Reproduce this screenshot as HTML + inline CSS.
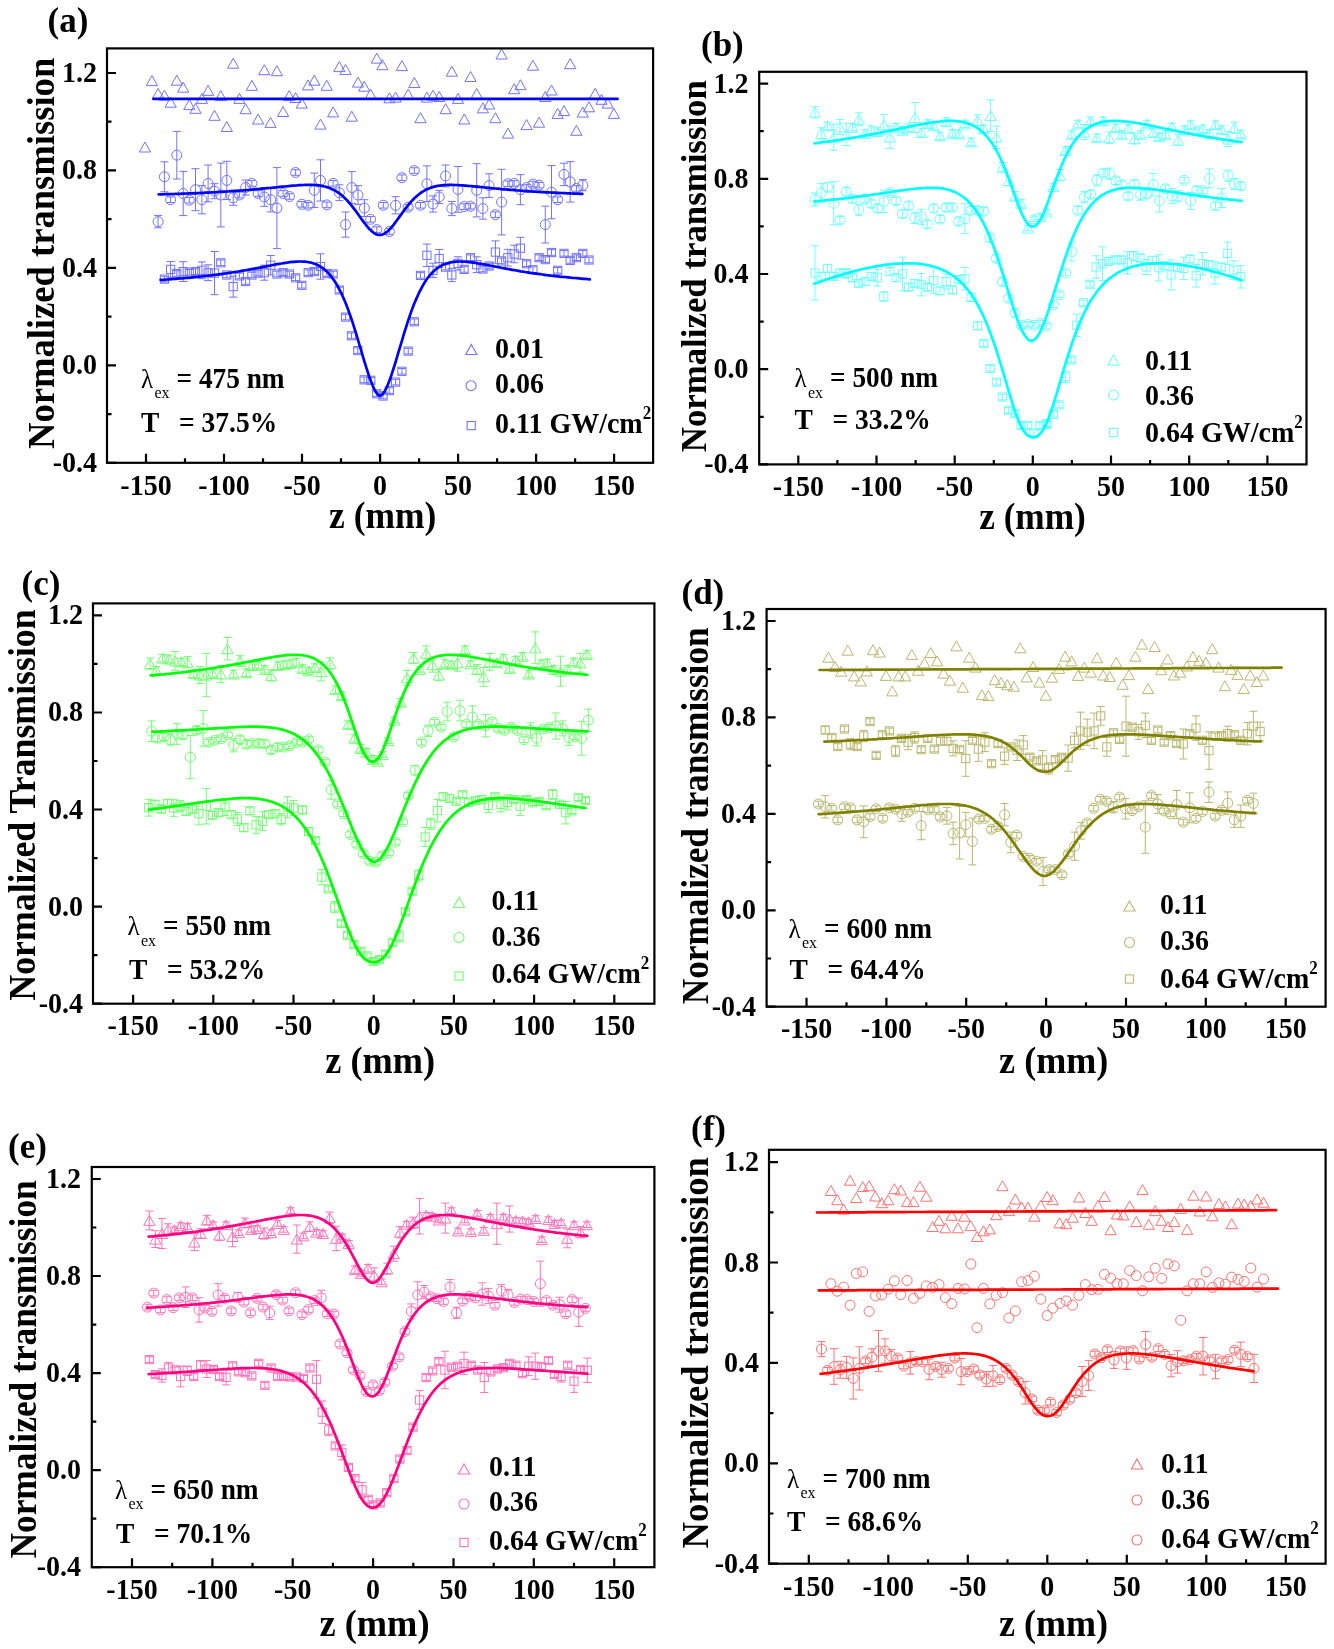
<!DOCTYPE html>
<html><head><meta charset="utf-8"><style>
html,body{margin:0;padding:0;background:#fff;width:1334px;height:1649px;overflow:hidden}
svg{display:block;filter:blur(0.4px)}
text{font-family:"Liberation Serif", serif;font-weight:bold;fill:#000}
</style></head><body>
<svg width="1334" height="1649" viewBox="0 0 1334 1649">
<rect width="1334" height="1649" fill="#fff"/>
<path d="M145.0,142.0 L150.6,152.0 L139.4,152.0 Z" fill="none" stroke="#7272ff" stroke-width="1.0"/>
<path d="M151.9,75.6 L157.5,85.6 L146.3,85.6 Z" fill="none" stroke="#7272ff" stroke-width="1.0"/>
<path d="M158.1,88.4 L163.7,98.4 L152.5,98.4 Z" fill="none" stroke="#7272ff" stroke-width="1.0"/>
<path d="M164.4,90.2 L170.0,100.2 L158.8,100.2 Z" fill="none" stroke="#7272ff" stroke-width="1.0"/>
<path d="M170.6,97.2 L176.2,107.2 L165.0,107.2 Z" fill="none" stroke="#7272ff" stroke-width="1.0"/>
<path d="M176.8,75.2 L182.4,85.2 L171.2,85.2 Z" fill="none" stroke="#7272ff" stroke-width="1.0"/>
<path d="M183.2,82.2 L188.8,92.2 L177.6,92.2 Z" fill="none" stroke="#7272ff" stroke-width="1.0"/>
<path d="M189.3,99.6 L194.9,109.6 L183.7,109.6 Z" fill="none" stroke="#7272ff" stroke-width="1.0"/>
<path d="M195.5,103.3 L201.1,113.3 L189.9,113.3 Z" fill="none" stroke="#7272ff" stroke-width="1.0"/>
<path d="M201.9,93.4 L207.5,103.4 L196.3,103.4 Z" fill="none" stroke="#7272ff" stroke-width="1.0"/>
<path d="M208.1,85.4 L213.7,95.4 L202.5,95.4 Z" fill="none" stroke="#7272ff" stroke-width="1.0"/>
<path d="M214.5,110.3 L220.1,120.3 L208.9,120.3 Z" fill="none" stroke="#7272ff" stroke-width="1.0"/>
<path d="M220.8,90.6 L226.4,100.6 L215.2,100.6 Z" fill="none" stroke="#7272ff" stroke-width="1.0"/>
<path d="M226.8,121.5 L232.4,131.5 L221.2,131.5 Z" fill="none" stroke="#7272ff" stroke-width="1.0"/>
<path d="M233.2,58.2 L238.8,68.2 L227.6,68.2 Z" fill="none" stroke="#7272ff" stroke-width="1.0"/>
<path d="M239.4,93.4 L245.0,103.4 L233.8,103.4 Z" fill="none" stroke="#7272ff" stroke-width="1.0"/>
<path d="M245.6,103.7 L251.2,113.7 L240.0,113.7 Z" fill="none" stroke="#7272ff" stroke-width="1.0"/>
<path d="M251.9,80.3 L257.5,90.3 L246.3,90.3 Z" fill="none" stroke="#7272ff" stroke-width="1.0"/>
<path d="M258.1,114.0 L263.7,124.0 L252.5,124.0 Z" fill="none" stroke="#7272ff" stroke-width="1.0"/>
<path d="M264.3,64.7 L269.9,74.7 L258.7,74.7 Z" fill="none" stroke="#7272ff" stroke-width="1.0"/>
<path d="M270.5,117.4 L276.1,127.4 L264.9,127.4 Z" fill="none" stroke="#7272ff" stroke-width="1.0"/>
<path d="M276.9,65.7 L282.5,75.7 L271.3,75.7 Z" fill="none" stroke="#7272ff" stroke-width="1.0"/>
<path d="M283.1,106.5 L288.7,116.5 L277.5,116.5 Z" fill="none" stroke="#7272ff" stroke-width="1.0"/>
<path d="M289.2,90.6 L294.8,100.6 L283.6,100.6 Z" fill="none" stroke="#7272ff" stroke-width="1.0"/>
<path d="M295.6,92.5 L301.2,102.5 L290.0,102.5 Z" fill="none" stroke="#7272ff" stroke-width="1.0"/>
<path d="M301.8,98.1 L307.4,108.1 L296.2,108.1 Z" fill="none" stroke="#7272ff" stroke-width="1.0"/>
<path d="M308.0,79.9 L313.6,89.9 L302.4,89.9 Z" fill="none" stroke="#7272ff" stroke-width="1.0"/>
<path d="M314.3,75.2 L319.9,85.2 L308.7,85.2 Z" fill="none" stroke="#7272ff" stroke-width="1.0"/>
<path d="M320.5,119.1 L326.1,129.1 L314.9,129.1 Z" fill="none" stroke="#7272ff" stroke-width="1.0"/>
<path d="M326.7,80.3 L332.3,90.3 L321.1,90.3 Z" fill="none" stroke="#7272ff" stroke-width="1.0"/>
<path d="M333.1,106.9 L338.7,116.9 L327.5,116.9 Z" fill="none" stroke="#7272ff" stroke-width="1.0"/>
<path d="M339.3,61.6 L344.9,71.6 L333.7,71.6 Z" fill="none" stroke="#7272ff" stroke-width="1.0"/>
<path d="M345.5,64.4 L351.1,74.4 L339.9,74.4 Z" fill="none" stroke="#7272ff" stroke-width="1.0"/>
<path d="M351.8,111.2 L357.4,121.2 L346.2,121.2 Z" fill="none" stroke="#7272ff" stroke-width="1.0"/>
<path d="M358.0,77.1 L363.6,87.1 L352.4,87.1 Z" fill="none" stroke="#7272ff" stroke-width="1.0"/>
<path d="M364.2,81.2 L369.8,91.2 L358.6,91.2 Z" fill="none" stroke="#7272ff" stroke-width="1.0"/>
<path d="M370.6,89.1 L376.2,99.1 L365.0,99.1 Z" fill="none" stroke="#7272ff" stroke-width="1.0"/>
<path d="M376.8,53.1 L382.4,63.1 L371.2,63.1 Z" fill="none" stroke="#7272ff" stroke-width="1.0"/>
<path d="M382.4,59.7 L388.0,69.7 L376.8,69.7 Z" fill="none" stroke="#7272ff" stroke-width="1.0"/>
<path d="M389.4,92.8 L395.0,102.8 L383.8,102.8 Z" fill="none" stroke="#7272ff" stroke-width="1.0"/>
<path d="M395.6,92.1 L401.2,102.1 L390.0,102.1 Z" fill="none" stroke="#7272ff" stroke-width="1.0"/>
<path d="M401.9,60.6 L407.5,70.6 L396.3,70.6 Z" fill="none" stroke="#7272ff" stroke-width="1.0"/>
<path d="M408.1,89.1 L413.7,99.1 L402.5,99.1 Z" fill="none" stroke="#7272ff" stroke-width="1.0"/>
<path d="M414.3,77.5 L419.9,87.5 L408.7,87.5 Z" fill="none" stroke="#7272ff" stroke-width="1.0"/>
<path d="M420.5,112.7 L426.1,122.7 L414.9,122.7 Z" fill="none" stroke="#7272ff" stroke-width="1.0"/>
<path d="M426.9,92.1 L432.5,102.1 L421.3,102.1 Z" fill="none" stroke="#7272ff" stroke-width="1.0"/>
<path d="M433.0,90.2 L438.6,100.2 L427.4,100.2 Z" fill="none" stroke="#7272ff" stroke-width="1.0"/>
<path d="M439.2,91.5 L444.8,101.5 L433.6,101.5 Z" fill="none" stroke="#7272ff" stroke-width="1.0"/>
<path d="M445.6,103.7 L451.2,113.7 L440.0,113.7 Z" fill="none" stroke="#7272ff" stroke-width="1.0"/>
<path d="M451.8,66.2 L457.4,76.2 L446.2,76.2 Z" fill="none" stroke="#7272ff" stroke-width="1.0"/>
<path d="M458.0,93.4 L463.6,103.4 L452.4,103.4 Z" fill="none" stroke="#7272ff" stroke-width="1.0"/>
<path d="M464.3,114.0 L469.9,124.0 L458.7,124.0 Z" fill="none" stroke="#7272ff" stroke-width="1.0"/>
<path d="M470.5,71.5 L476.1,81.5 L464.9,81.5 Z" fill="none" stroke="#7272ff" stroke-width="1.0"/>
<path d="M476.7,88.4 L482.3,98.4 L471.1,98.4 Z" fill="none" stroke="#7272ff" stroke-width="1.0"/>
<path d="M482.9,102.8 L488.5,112.8 L477.3,112.8 Z" fill="none" stroke="#7272ff" stroke-width="1.0"/>
<path d="M489.1,99.0 L494.7,109.0 L483.5,109.0 Z" fill="none" stroke="#7272ff" stroke-width="1.0"/>
<path d="M495.4,112.7 L501.0,122.7 L489.8,122.7 Z" fill="none" stroke="#7272ff" stroke-width="1.0"/>
<path d="M501.6,49.0 L507.2,59.0 L496.0,59.0 Z" fill="none" stroke="#7272ff" stroke-width="1.0"/>
<path d="M508.0,128.1 L513.6,138.1 L502.4,138.1 Z" fill="none" stroke="#7272ff" stroke-width="1.0"/>
<path d="M514.2,83.7 L519.8,93.7 L508.6,93.7 Z" fill="none" stroke="#7272ff" stroke-width="1.0"/>
<path d="M520.4,79.7 L526.0,89.7 L514.8,89.7 Z" fill="none" stroke="#7272ff" stroke-width="1.0"/>
<path d="M526.6,119.6 L532.2,129.6 L521.0,129.6 Z" fill="none" stroke="#7272ff" stroke-width="1.0"/>
<path d="M532.9,60.2 L538.5,70.2 L527.3,70.2 Z" fill="none" stroke="#7272ff" stroke-width="1.0"/>
<path d="M539.1,117.2 L544.7,127.2 L533.5,127.2 Z" fill="none" stroke="#7272ff" stroke-width="1.0"/>
<path d="M545.3,91.5 L550.9,101.5 L539.7,101.5 Z" fill="none" stroke="#7272ff" stroke-width="1.0"/>
<path d="M551.5,85.0 L557.1,95.0 L545.9,95.0 Z" fill="none" stroke="#7272ff" stroke-width="1.0"/>
<path d="M557.7,108.4 L563.3,118.4 L552.1,118.4 Z" fill="none" stroke="#7272ff" stroke-width="1.0"/>
<path d="M564.0,105.6 L569.6,115.6 L558.4,115.6 Z" fill="none" stroke="#7272ff" stroke-width="1.0"/>
<path d="M570.2,58.7 L575.8,68.7 L564.6,68.7 Z" fill="none" stroke="#7272ff" stroke-width="1.0"/>
<path d="M576.4,125.3 L582.0,135.3 L570.8,135.3 Z" fill="none" stroke="#7272ff" stroke-width="1.0"/>
<path d="M582.8,107.1 L588.4,117.1 L577.2,117.1 Z" fill="none" stroke="#7272ff" stroke-width="1.0"/>
<path d="M589.0,101.8 L594.6,111.8 L583.4,111.8 Z" fill="none" stroke="#7272ff" stroke-width="1.0"/>
<path d="M595.1,88.4 L600.7,98.4 L589.5,98.4 Z" fill="none" stroke="#7272ff" stroke-width="1.0"/>
<path d="M601.5,94.3 L607.1,104.3 L595.9,104.3 Z" fill="none" stroke="#7272ff" stroke-width="1.0"/>
<path d="M607.7,98.1 L613.3,108.1 L602.1,108.1 Z" fill="none" stroke="#7272ff" stroke-width="1.0"/>
<path d="M613.9,108.4 L619.5,118.4 L608.3,118.4 Z" fill="none" stroke="#7272ff" stroke-width="1.0"/>
<path d="M153.4,98.9 L155.7,98.9 L158.1,98.9 L160.4,98.9 L162.7,98.9 L165.1,98.9 L167.4,98.9 L169.7,98.9 L172.1,98.9 L174.4,98.9 L176.7,98.9 L179.1,98.9 L181.4,98.9 L183.7,98.9 L186.1,98.9 L188.4,98.9 L190.7,98.9 L193.0,98.9 L195.4,98.9 L197.7,98.9 L200.0,98.9 L202.4,98.9 L204.7,98.9 L207.0,98.9 L209.4,98.9 L211.7,98.9 L214.0,98.9 L216.4,98.9 L218.7,98.9 L221.0,98.9 L223.4,98.9 L225.7,98.9 L228.0,98.9 L230.4,98.9 L232.7,98.9 L235.0,98.9 L237.4,98.9 L239.7,98.9 L242.0,98.9 L244.4,98.9 L246.7,98.9 L249.0,98.9 L251.4,98.9 L253.7,98.9 L256.0,98.9 L258.3,98.9 L260.7,98.9 L263.0,98.9 L265.3,98.9 L267.7,98.9 L270.0,98.9 L272.3,98.9 L274.7,98.9 L277.0,98.9 L279.3,98.9 L281.7,98.9 L284.0,98.9 L286.3,98.9 L288.7,98.9 L291.0,98.9 L293.3,98.9 L295.7,98.9 L298.0,98.9 L300.3,98.9 L302.7,98.9 L305.0,98.9 L307.3,98.9 L309.7,98.9 L312.0,98.9 L314.3,98.9 L316.7,98.9 L319.0,98.9 L321.3,98.9 L323.6,98.9 L326.0,98.9 L328.3,98.9 L330.6,98.9 L333.0,98.9 L335.3,98.9 L337.6,98.9 L340.0,98.9 L342.3,98.9 L344.6,98.9 L347.0,98.9 L349.3,98.9 L351.6,98.9 L354.0,98.9 L356.3,98.9 L358.6,98.9 L361.0,98.9 L363.3,98.9 L365.6,98.9 L368.0,98.9 L370.3,98.9 L372.6,98.9 L375.0,98.9 L377.3,98.9 L379.6,98.9 L382.0,98.9 L384.3,98.9 L386.6,98.9 L388.9,98.9 L391.3,98.9 L393.6,98.9 L395.9,98.9 L398.3,98.9 L400.6,98.9 L402.9,98.9 L405.3,98.9 L407.6,98.9 L409.9,98.9 L412.3,98.9 L414.6,98.9 L416.9,98.9 L419.3,98.9 L421.6,98.9 L423.9,98.9 L426.3,98.9 L428.6,98.9 L430.9,98.9 L433.3,98.9 L435.6,98.9 L437.9,98.9 L440.3,98.9 L442.6,98.9 L444.9,98.9 L447.3,98.9 L449.6,98.9 L451.9,98.9 L454.2,98.9 L456.6,98.9 L458.9,98.9 L461.2,98.9 L463.6,98.9 L465.9,98.9 L468.2,98.9 L470.6,98.9 L472.9,98.9 L475.2,98.9 L477.6,98.9 L479.9,98.9 L482.2,98.9 L484.6,98.9 L486.9,98.9 L489.2,98.9 L491.6,98.9 L493.9,98.9 L496.2,98.9 L498.6,98.9 L500.9,98.9 L503.2,98.9 L505.6,98.9 L507.9,98.9 L510.2,98.9 L512.6,98.9 L514.9,98.9 L517.2,98.9 L519.5,98.9 L521.9,98.9 L524.2,98.9 L526.5,98.9 L528.9,98.9 L531.2,98.9 L533.5,98.9 L535.9,98.9 L538.2,98.9 L540.5,98.9 L542.9,98.9 L545.2,98.9 L547.5,98.9 L549.9,98.9 L552.2,98.9 L554.5,98.9 L556.9,98.9 L559.2,98.9 L561.5,98.9 L563.9,98.9 L566.2,98.9 L568.5,98.9 L570.9,98.9 L573.2,98.9 L575.5,98.9 L577.9,98.9 L580.2,98.9 L582.5,98.9 L584.8,98.9 L587.2,98.9 L589.5,98.9 L591.8,98.9 L594.2,98.9 L596.5,98.9 L598.8,98.9 L601.2,98.9 L603.5,98.9 L605.8,98.9 L608.2,98.9 L610.5,98.9 L612.8,98.9 L615.2,98.9 L617.5,98.9" fill="none" stroke="#0000ff" stroke-width="2.7" stroke-linejoin="round" stroke-linecap="round"/>
<path d="M158.1,215.4 V227.8 M154.1,215.4 h8 M154.1,227.8 h8" stroke="#7272ff" stroke-width="1" fill="none"/>
<circle cx="158.1" cy="221.6" r="5" fill="none" stroke="#7272ff" stroke-width="1.0"/>
<path d="M164.4,161.8 V191.8 M160.4,161.8 h8 M160.4,191.8 h8" stroke="#7272ff" stroke-width="1" fill="none"/>
<circle cx="164.4" cy="176.8" r="5" fill="none" stroke="#7272ff" stroke-width="1.0"/>
<path d="M170.6,196.9 V202.5 M166.6,196.9 h8 M166.6,202.5 h8" stroke="#7272ff" stroke-width="1" fill="none"/>
<circle cx="170.6" cy="199.7" r="5" fill="none" stroke="#7272ff" stroke-width="1.0"/>
<path d="M176.8,131.4 V179.0 M172.8,131.4 h8 M172.8,179.0 h8" stroke="#7272ff" stroke-width="1" fill="none"/>
<circle cx="176.8" cy="155.2" r="5" fill="none" stroke="#7272ff" stroke-width="1.0"/>
<path d="M183.2,171.4 V215.6 M179.2,171.4 h8 M179.2,215.6 h8" stroke="#7272ff" stroke-width="1" fill="none"/>
<circle cx="183.2" cy="193.5" r="5" fill="none" stroke="#7272ff" stroke-width="1.0"/>
<path d="M189.3,197.4 V203.0 M185.3,197.4 h8 M185.3,203.0 h8" stroke="#7272ff" stroke-width="1" fill="none"/>
<circle cx="189.3" cy="200.2" r="5" fill="none" stroke="#7272ff" stroke-width="1.0"/>
<path d="M195.5,168.7 V210.7 M191.5,168.7 h8 M191.5,210.7 h8" stroke="#7272ff" stroke-width="1" fill="none"/>
<circle cx="195.5" cy="189.7" r="5" fill="none" stroke="#7272ff" stroke-width="1.0"/>
<path d="M201.9,185.6 V213.8 M197.9,185.6 h8 M197.9,213.8 h8" stroke="#7272ff" stroke-width="1" fill="none"/>
<circle cx="201.9" cy="199.7" r="5" fill="none" stroke="#7272ff" stroke-width="1.0"/>
<path d="M208.1,165.0 V201.8 M204.1,165.0 h8 M204.1,201.8 h8" stroke="#7272ff" stroke-width="1" fill="none"/>
<circle cx="208.1" cy="183.4" r="5" fill="none" stroke="#7272ff" stroke-width="1.0"/>
<path d="M214.5,183.7 V198.7 M210.5,183.7 h8 M210.5,198.7 h8" stroke="#7272ff" stroke-width="1" fill="none"/>
<circle cx="214.5" cy="191.2" r="5" fill="none" stroke="#7272ff" stroke-width="1.0"/>
<path d="M220.8,163.1 V226.9 M216.8,163.1 h8 M216.8,226.9 h8" stroke="#7272ff" stroke-width="1" fill="none"/>
<circle cx="220.8" cy="195.0" r="5" fill="none" stroke="#7272ff" stroke-width="1.0"/>
<path d="M226.8,161.3 V199.5 M222.8,161.3 h8 M222.8,199.5 h8" stroke="#7272ff" stroke-width="1" fill="none"/>
<circle cx="226.8" cy="180.4" r="5" fill="none" stroke="#7272ff" stroke-width="1.0"/>
<path d="M233.2,190.3 V205.3 M229.2,190.3 h8 M229.2,205.3 h8" stroke="#7272ff" stroke-width="1" fill="none"/>
<circle cx="233.2" cy="197.8" r="5" fill="none" stroke="#7272ff" stroke-width="1.0"/>
<path d="M239.4,192.2 V197.8 M235.4,192.2 h8 M235.4,197.8 h8" stroke="#7272ff" stroke-width="1" fill="none"/>
<circle cx="239.4" cy="195.0" r="5" fill="none" stroke="#7272ff" stroke-width="1.0"/>
<path d="M245.6,180.0 V195.0 M241.6,180.0 h8 M241.6,195.0 h8" stroke="#7272ff" stroke-width="1" fill="none"/>
<circle cx="245.6" cy="187.5" r="5" fill="none" stroke="#7272ff" stroke-width="1.0"/>
<path d="M251.9,180.6 V186.2 M247.9,180.6 h8 M247.9,186.2 h8" stroke="#7272ff" stroke-width="1" fill="none"/>
<circle cx="251.9" cy="183.4" r="5" fill="none" stroke="#7272ff" stroke-width="1.0"/>
<path d="M258.1,190.7 V196.3 M254.1,190.7 h8 M254.1,196.3 h8" stroke="#7272ff" stroke-width="1" fill="none"/>
<circle cx="258.1" cy="193.5" r="5" fill="none" stroke="#7272ff" stroke-width="1.0"/>
<path d="M264.3,187.5 V206.3 M260.3,187.5 h8 M260.3,206.3 h8" stroke="#7272ff" stroke-width="1" fill="none"/>
<circle cx="264.3" cy="196.9" r="5" fill="none" stroke="#7272ff" stroke-width="1.0"/>
<path d="M270.7,187.5 V211.9 M266.7,187.5 h8 M266.7,211.9 h8" stroke="#7272ff" stroke-width="1" fill="none"/>
<circle cx="270.7" cy="199.7" r="5" fill="none" stroke="#7272ff" stroke-width="1.0"/>
<path d="M276.9,167.6 V248.6 M272.9,167.6 h8 M272.9,248.6 h8" stroke="#7272ff" stroke-width="1" fill="none"/>
<circle cx="276.9" cy="208.1" r="5" fill="none" stroke="#7272ff" stroke-width="1.0"/>
<path d="M283.1,190.7 V196.3 M279.1,190.7 h8 M279.1,196.3 h8" stroke="#7272ff" stroke-width="1" fill="none"/>
<circle cx="283.1" cy="193.5" r="5" fill="none" stroke="#7272ff" stroke-width="1.0"/>
<path d="M289.4,193.7 V199.3 M285.4,193.7 h8 M285.4,199.3 h8" stroke="#7272ff" stroke-width="1" fill="none"/>
<circle cx="289.4" cy="196.5" r="5" fill="none" stroke="#7272ff" stroke-width="1.0"/>
<path d="M295.6,169.7 V175.3 M291.6,169.7 h8 M291.6,175.3 h8" stroke="#7272ff" stroke-width="1" fill="none"/>
<circle cx="295.6" cy="172.5" r="5" fill="none" stroke="#7272ff" stroke-width="1.0"/>
<path d="M301.8,201.5 V207.1 M297.8,201.5 h8 M297.8,207.1 h8" stroke="#7272ff" stroke-width="1" fill="none"/>
<circle cx="301.8" cy="204.3" r="5" fill="none" stroke="#7272ff" stroke-width="1.0"/>
<path d="M308.2,202.5 V208.1 M304.2,202.5 h8 M304.2,208.1 h8" stroke="#7272ff" stroke-width="1" fill="none"/>
<circle cx="308.2" cy="205.3" r="5" fill="none" stroke="#7272ff" stroke-width="1.0"/>
<path d="M314.3,173.1 V207.5 M310.3,173.1 h8 M310.3,207.5 h8" stroke="#7272ff" stroke-width="1" fill="none"/>
<circle cx="314.3" cy="190.3" r="5" fill="none" stroke="#7272ff" stroke-width="1.0"/>
<path d="M320.5,159.8 V201.0 M316.5,159.8 h8 M316.5,201.0 h8" stroke="#7272ff" stroke-width="1" fill="none"/>
<circle cx="320.5" cy="180.4" r="5" fill="none" stroke="#7272ff" stroke-width="1.0"/>
<path d="M326.9,202.1 V207.7 M322.9,202.1 h8 M322.9,207.7 h8" stroke="#7272ff" stroke-width="1" fill="none"/>
<circle cx="326.9" cy="204.9" r="5" fill="none" stroke="#7272ff" stroke-width="1.0"/>
<path d="M333.1,180.6 V186.2 M329.1,180.6 h8 M329.1,186.2 h8" stroke="#7272ff" stroke-width="1" fill="none"/>
<circle cx="333.1" cy="183.4" r="5" fill="none" stroke="#7272ff" stroke-width="1.0"/>
<path d="M339.3,184.8 V200.6 M335.3,184.8 h8 M335.3,200.6 h8" stroke="#7272ff" stroke-width="1" fill="none"/>
<circle cx="339.3" cy="192.7" r="5" fill="none" stroke="#7272ff" stroke-width="1.0"/>
<path d="M345.6,212.0 V237.2 M341.6,212.0 h8 M341.6,237.2 h8" stroke="#7272ff" stroke-width="1" fill="none"/>
<circle cx="345.6" cy="224.6" r="5" fill="none" stroke="#7272ff" stroke-width="1.0"/>
<path d="M351.8,171.6 V203.4 M347.8,171.6 h8 M347.8,203.4 h8" stroke="#7272ff" stroke-width="1" fill="none"/>
<circle cx="351.8" cy="187.5" r="5" fill="none" stroke="#7272ff" stroke-width="1.0"/>
<path d="M358.0,185.6 V204.4 M354.0,185.6 h8 M354.0,204.4 h8" stroke="#7272ff" stroke-width="1" fill="none"/>
<circle cx="358.0" cy="195.0" r="5" fill="none" stroke="#7272ff" stroke-width="1.0"/>
<path d="M364.4,199.7 V216.5 M360.4,199.7 h8 M360.4,216.5 h8" stroke="#7272ff" stroke-width="1" fill="none"/>
<circle cx="364.4" cy="208.1" r="5" fill="none" stroke="#7272ff" stroke-width="1.0"/>
<path d="M370.6,216.5 V222.1 M366.6,216.5 h8 M366.6,222.1 h8" stroke="#7272ff" stroke-width="1" fill="none"/>
<circle cx="370.6" cy="219.3" r="5" fill="none" stroke="#7272ff" stroke-width="1.0"/>
<path d="M376.8,226.8 V232.4 M372.8,226.8 h8 M372.8,232.4 h8" stroke="#7272ff" stroke-width="1" fill="none"/>
<circle cx="376.8" cy="229.6" r="5" fill="none" stroke="#7272ff" stroke-width="1.0"/>
<path d="M383.3,202.5 V208.1 M379.3,202.5 h8 M379.3,208.1 h8" stroke="#7272ff" stroke-width="1" fill="none"/>
<circle cx="383.3" cy="205.3" r="5" fill="none" stroke="#7272ff" stroke-width="1.0"/>
<path d="M389.4,228.7 V234.3 M385.4,228.7 h8 M385.4,234.3 h8" stroke="#7272ff" stroke-width="1" fill="none"/>
<circle cx="389.4" cy="231.5" r="5" fill="none" stroke="#7272ff" stroke-width="1.0"/>
<path d="M395.6,196.7 V213.9 M391.6,196.7 h8 M391.6,213.9 h8" stroke="#7272ff" stroke-width="1" fill="none"/>
<circle cx="395.6" cy="205.3" r="5" fill="none" stroke="#7272ff" stroke-width="1.0"/>
<path d="M401.9,174.9 V180.5 M397.9,174.9 h8 M397.9,180.5 h8" stroke="#7272ff" stroke-width="1" fill="none"/>
<circle cx="401.9" cy="177.7" r="5" fill="none" stroke="#7272ff" stroke-width="1.0"/>
<path d="M408.1,204.4 V210.0 M404.1,204.4 h8 M404.1,210.0 h8" stroke="#7272ff" stroke-width="1" fill="none"/>
<circle cx="408.1" cy="207.2" r="5" fill="none" stroke="#7272ff" stroke-width="1.0"/>
<path d="M414.3,167.8 V173.4 M410.3,167.8 h8 M410.3,173.4 h8" stroke="#7272ff" stroke-width="1" fill="none"/>
<circle cx="414.3" cy="170.6" r="5" fill="none" stroke="#7272ff" stroke-width="1.0"/>
<path d="M420.5,202.5 V208.1 M416.5,202.5 h8 M416.5,208.1 h8" stroke="#7272ff" stroke-width="1" fill="none"/>
<circle cx="420.5" cy="205.3" r="5" fill="none" stroke="#7272ff" stroke-width="1.0"/>
<path d="M426.9,165.9 V201.5 M422.9,165.9 h8 M422.9,201.5 h8" stroke="#7272ff" stroke-width="1" fill="none"/>
<circle cx="426.9" cy="183.7" r="5" fill="none" stroke="#7272ff" stroke-width="1.0"/>
<path d="M433.0,195.9 V212.1 M429.0,195.9 h8 M429.0,212.1 h8" stroke="#7272ff" stroke-width="1" fill="none"/>
<circle cx="433.0" cy="204.0" r="5" fill="none" stroke="#7272ff" stroke-width="1.0"/>
<path d="M439.2,190.3 V203.5 M435.2,190.3 h8 M435.2,203.5 h8" stroke="#7272ff" stroke-width="1" fill="none"/>
<circle cx="439.2" cy="196.9" r="5" fill="none" stroke="#7272ff" stroke-width="1.0"/>
<path d="M445.6,165.0 V186.8 M441.6,165.0 h8 M441.6,186.8 h8" stroke="#7272ff" stroke-width="1" fill="none"/>
<circle cx="445.6" cy="175.9" r="5" fill="none" stroke="#7272ff" stroke-width="1.0"/>
<path d="M451.8,201.4 V215.6 M447.8,201.4 h8 M447.8,215.6 h8" stroke="#7272ff" stroke-width="1" fill="none"/>
<circle cx="451.8" cy="208.5" r="5" fill="none" stroke="#7272ff" stroke-width="1.0"/>
<path d="M458.0,166.5 V212.3 M454.0,166.5 h8 M454.0,212.3 h8" stroke="#7272ff" stroke-width="1" fill="none"/>
<circle cx="458.0" cy="189.4" r="5" fill="none" stroke="#7272ff" stroke-width="1.0"/>
<path d="M464.1,203.8 V209.4 M460.1,203.8 h8 M460.1,209.4 h8" stroke="#7272ff" stroke-width="1" fill="none"/>
<circle cx="464.1" cy="206.6" r="5" fill="none" stroke="#7272ff" stroke-width="1.0"/>
<path d="M470.5,203.4 V209.0 M466.5,203.4 h8 M466.5,209.0 h8" stroke="#7272ff" stroke-width="1" fill="none"/>
<circle cx="470.5" cy="206.2" r="5" fill="none" stroke="#7272ff" stroke-width="1.0"/>
<path d="M476.7,163.7 V216.9 M472.7,163.7 h8 M472.7,216.9 h8" stroke="#7272ff" stroke-width="1" fill="none"/>
<circle cx="476.7" cy="190.3" r="5" fill="none" stroke="#7272ff" stroke-width="1.0"/>
<path d="M482.9,197.8 V219.2 M478.9,197.8 h8 M478.9,219.2 h8" stroke="#7272ff" stroke-width="1" fill="none"/>
<circle cx="482.9" cy="208.5" r="5" fill="none" stroke="#7272ff" stroke-width="1.0"/>
<path d="M489.1,173.8 V197.4 M485.1,173.8 h8 M485.1,197.4 h8" stroke="#7272ff" stroke-width="1" fill="none"/>
<circle cx="489.1" cy="185.6" r="5" fill="none" stroke="#7272ff" stroke-width="1.0"/>
<path d="M495.4,211.9 V217.5 M491.4,211.9 h8 M491.4,217.5 h8" stroke="#7272ff" stroke-width="1" fill="none"/>
<circle cx="495.4" cy="214.7" r="5" fill="none" stroke="#7272ff" stroke-width="1.0"/>
<path d="M501.6,169.3 V234.9 M497.6,169.3 h8 M497.6,234.9 h8" stroke="#7272ff" stroke-width="1" fill="none"/>
<circle cx="501.6" cy="202.1" r="5" fill="none" stroke="#7272ff" stroke-width="1.0"/>
<path d="M507.8,180.9 V186.5 M503.8,180.9 h8 M503.8,186.5 h8" stroke="#7272ff" stroke-width="1" fill="none"/>
<circle cx="507.8" cy="183.7" r="5" fill="none" stroke="#7272ff" stroke-width="1.0"/>
<path d="M514.2,180.6 V186.2 M510.2,180.6 h8 M510.2,186.2 h8" stroke="#7272ff" stroke-width="1" fill="none"/>
<circle cx="514.2" cy="183.4" r="5" fill="none" stroke="#7272ff" stroke-width="1.0"/>
<path d="M520.4,174.7 V204.7 M516.4,174.7 h8 M516.4,204.7 h8" stroke="#7272ff" stroke-width="1" fill="none"/>
<circle cx="520.4" cy="189.7" r="5" fill="none" stroke="#7272ff" stroke-width="1.0"/>
<path d="M526.6,184.7 V190.3 M522.6,184.7 h8 M522.6,190.3 h8" stroke="#7272ff" stroke-width="1" fill="none"/>
<circle cx="526.6" cy="187.5" r="5" fill="none" stroke="#7272ff" stroke-width="1.0"/>
<path d="M532.9,181.3 V186.9 M528.9,181.3 h8 M528.9,186.9 h8" stroke="#7272ff" stroke-width="1" fill="none"/>
<circle cx="532.9" cy="184.1" r="5" fill="none" stroke="#7272ff" stroke-width="1.0"/>
<path d="M539.1,182.4 V188.0 M535.1,182.4 h8 M535.1,188.0 h8" stroke="#7272ff" stroke-width="1" fill="none"/>
<circle cx="539.1" cy="185.2" r="5" fill="none" stroke="#7272ff" stroke-width="1.0"/>
<path d="M545.3,206.2 V243.0 M541.3,206.2 h8 M541.3,243.0 h8" stroke="#7272ff" stroke-width="1" fill="none"/>
<circle cx="545.3" cy="224.6" r="5" fill="none" stroke="#7272ff" stroke-width="1.0"/>
<path d="M551.5,165.6 V218.8 M547.5,165.6 h8 M547.5,218.8 h8" stroke="#7272ff" stroke-width="1" fill="none"/>
<circle cx="551.5" cy="192.2" r="5" fill="none" stroke="#7272ff" stroke-width="1.0"/>
<path d="M557.7,196.9 V202.5 M553.7,196.9 h8 M553.7,202.5 h8" stroke="#7272ff" stroke-width="1" fill="none"/>
<circle cx="557.7" cy="199.7" r="5" fill="none" stroke="#7272ff" stroke-width="1.0"/>
<path d="M564.0,163.2 V185.6 M560.0,163.2 h8 M560.0,185.6 h8" stroke="#7272ff" stroke-width="1" fill="none"/>
<circle cx="564.0" cy="174.4" r="5" fill="none" stroke="#7272ff" stroke-width="1.0"/>
<path d="M570.2,161.7 V202.1 M566.2,161.7 h8 M566.2,202.1 h8" stroke="#7272ff" stroke-width="1" fill="none"/>
<circle cx="570.2" cy="181.9" r="5" fill="none" stroke="#7272ff" stroke-width="1.0"/>
<path d="M576.4,185.6 V191.2 M572.4,185.6 h8 M572.4,191.2 h8" stroke="#7272ff" stroke-width="1" fill="none"/>
<circle cx="576.4" cy="188.4" r="5" fill="none" stroke="#7272ff" stroke-width="1.0"/>
<path d="M582.8,179.6 V190.8 M578.8,179.6 h8 M578.8,190.8 h8" stroke="#7272ff" stroke-width="1" fill="none"/>
<circle cx="582.8" cy="185.2" r="5" fill="none" stroke="#7272ff" stroke-width="1.0"/>
<path d="M158.7,194.4 L160.8,194.4 L163.0,194.3 L165.1,194.2 L167.2,194.2 L169.3,194.1 L171.5,194.0 L173.6,194.0 L175.7,193.9 L177.9,193.8 L180.0,193.8 L182.1,193.7 L184.2,193.6 L186.4,193.5 L188.5,193.4 L190.6,193.4 L192.8,193.3 L194.9,193.2 L197.0,193.1 L199.1,193.0 L201.3,192.9 L203.4,192.8 L205.5,192.7 L207.7,192.6 L209.8,192.5 L211.9,192.4 L214.0,192.3 L216.2,192.1 L218.3,192.0 L220.4,191.9 L222.6,191.8 L224.7,191.6 L226.8,191.5 L228.9,191.4 L231.1,191.2 L233.2,191.1 L235.3,190.9 L237.5,190.8 L239.6,190.6 L241.7,190.5 L243.8,190.3 L246.0,190.1 L248.1,190.0 L250.2,189.8 L252.4,189.6 L254.5,189.4 L256.6,189.2 L258.7,189.0 L260.9,188.8 L263.0,188.6 L265.1,188.4 L267.3,188.2 L269.4,188.0 L271.5,187.8 L273.6,187.6 L275.8,187.4 L277.9,187.2 L280.0,186.9 L282.2,186.7 L284.3,186.5 L286.4,186.3 L288.5,186.1 L290.7,185.9 L292.8,185.7 L294.9,185.5 L297.1,185.4 L299.2,185.2 L301.3,185.1 L303.4,185.0 L305.6,184.9 L307.7,184.9 L309.8,184.9 L312.0,184.9 L314.1,185.0 L316.2,185.2 L318.3,185.4 L320.5,185.7 L322.6,186.1 L324.7,186.5 L326.9,187.1 L329.0,187.8 L331.1,188.7 L333.2,189.7 L335.4,190.8 L337.5,192.1 L339.6,193.6 L341.8,195.3 L343.9,197.2 L346.0,199.2 L348.1,201.5 L350.3,204.0 L352.4,206.6 L354.5,209.4 L356.7,212.2 L358.8,215.2 L360.9,218.2 L363.0,221.1 L365.2,223.9 L367.3,226.6 L369.4,229.0 L371.6,231.1 L373.7,232.8 L375.8,234.1 L378.0,234.8 L380.1,235.0 L382.2,234.6 L384.3,233.7 L386.5,232.2 L388.6,230.4 L390.7,228.2 L392.9,225.7 L395.0,222.9 L397.1,220.0 L399.2,217.1 L401.4,214.1 L403.5,211.2 L405.6,208.3 L407.8,205.6 L409.9,203.0 L412.0,200.7 L414.1,198.5 L416.3,196.5 L418.4,194.7 L420.5,193.0 L422.7,191.6 L424.8,190.4 L426.9,189.3 L429.0,188.4 L431.2,187.6 L433.3,186.9 L435.4,186.4 L437.6,185.9 L439.7,185.6 L441.8,185.3 L443.9,185.1 L446.1,185.0 L448.2,184.9 L450.3,184.9 L452.5,184.9 L454.6,185.0 L456.7,185.0 L458.8,185.2 L461.0,185.3 L463.1,185.4 L465.2,185.6 L467.4,185.8 L469.5,186.0 L471.6,186.2 L473.7,186.4 L475.9,186.6 L478.0,186.8 L480.1,187.0 L482.3,187.2 L484.4,187.5 L486.5,187.7 L488.6,187.9 L490.8,188.1 L492.9,188.3 L495.0,188.5 L497.2,188.7 L499.3,188.9 L501.4,189.1 L503.5,189.3 L505.7,189.5 L507.8,189.7 L509.9,189.8 L512.1,190.0 L514.2,190.2 L516.3,190.4 L518.4,190.5 L520.6,190.7 L522.7,190.8 L524.8,191.0 L527.0,191.1 L529.1,191.3 L531.2,191.4 L533.3,191.6 L535.5,191.7 L537.6,191.8 L539.7,191.9 L541.9,192.1 L544.0,192.2 L546.1,192.3 L548.2,192.4 L550.4,192.5 L552.5,192.6 L554.6,192.7 L556.8,192.8 L558.9,192.9 L561.0,193.0 L563.1,193.1 L565.3,193.2 L567.4,193.3 L569.5,193.4 L571.7,193.5 L573.8,193.6 L575.9,193.6 L578.0,193.7 L580.2,193.8 L582.3,193.9" fill="none" stroke="#0000ff" stroke-width="2.7" stroke-linejoin="round" stroke-linecap="round"/>
<path d="M164.4,276.3 V281.9 M160.4,276.3 h8 M160.4,281.9 h8" stroke="#7272ff" stroke-width="1" fill="none"/>
<rect x="160.3" y="275.0" width="8.2" height="8.2" fill="none" stroke="#7272ff" stroke-width="1.0"/>
<path d="M170.6,261.5 V277.3 M166.6,261.5 h8 M166.6,277.3 h8" stroke="#7272ff" stroke-width="1" fill="none"/>
<rect x="166.5" y="265.3" width="8.2" height="8.2" fill="none" stroke="#7272ff" stroke-width="1.0"/>
<path d="M176.8,270.7 V276.3 M172.8,270.7 h8 M172.8,276.3 h8" stroke="#7272ff" stroke-width="1" fill="none"/>
<rect x="172.7" y="269.4" width="8.2" height="8.2" fill="none" stroke="#7272ff" stroke-width="1.0"/>
<path d="M183.2,261.7 V281.5 M179.2,261.7 h8 M179.2,281.5 h8" stroke="#7272ff" stroke-width="1" fill="none"/>
<rect x="179.1" y="267.5" width="8.2" height="8.2" fill="none" stroke="#7272ff" stroke-width="1.0"/>
<path d="M189.3,269.4 V275.0 M185.3,269.4 h8 M185.3,275.0 h8" stroke="#7272ff" stroke-width="1" fill="none"/>
<rect x="185.2" y="268.1" width="8.2" height="8.2" fill="none" stroke="#7272ff" stroke-width="1.0"/>
<path d="M195.5,268.8 V274.4 M191.5,268.8 h8 M191.5,274.4 h8" stroke="#7272ff" stroke-width="1" fill="none"/>
<rect x="191.4" y="267.5" width="8.2" height="8.2" fill="none" stroke="#7272ff" stroke-width="1.0"/>
<path d="M201.9,261.9 V278.7 M197.9,261.9 h8 M197.9,278.7 h8" stroke="#7272ff" stroke-width="1" fill="none"/>
<rect x="197.8" y="266.2" width="8.2" height="8.2" fill="none" stroke="#7272ff" stroke-width="1.0"/>
<path d="M208.1,264.8 V280.6 M204.1,264.8 h8 M204.1,280.6 h8" stroke="#7272ff" stroke-width="1" fill="none"/>
<rect x="204.0" y="268.6" width="8.2" height="8.2" fill="none" stroke="#7272ff" stroke-width="1.0"/>
<path d="M214.5,251.5 V294.7 M210.5,251.5 h8 M210.5,294.7 h8" stroke="#7272ff" stroke-width="1" fill="none"/>
<rect x="210.4" y="269.0" width="8.2" height="8.2" fill="none" stroke="#7272ff" stroke-width="1.0"/>
<path d="M220.8,260.0 V265.6 M216.8,260.0 h8 M216.8,265.6 h8" stroke="#7272ff" stroke-width="1" fill="none"/>
<rect x="216.7" y="258.7" width="8.2" height="8.2" fill="none" stroke="#7272ff" stroke-width="1.0"/>
<path d="M226.8,272.2 V277.8 M222.8,272.2 h8 M222.8,277.8 h8" stroke="#7272ff" stroke-width="1" fill="none"/>
<rect x="222.7" y="270.9" width="8.2" height="8.2" fill="none" stroke="#7272ff" stroke-width="1.0"/>
<path d="M233.2,276.1 V297.1 M229.2,276.1 h8 M229.2,297.1 h8" stroke="#7272ff" stroke-width="1" fill="none"/>
<rect x="229.1" y="282.5" width="8.2" height="8.2" fill="none" stroke="#7272ff" stroke-width="1.0"/>
<path d="M239.4,273.1 V278.7 M235.4,273.1 h8 M235.4,278.7 h8" stroke="#7272ff" stroke-width="1" fill="none"/>
<rect x="235.3" y="271.8" width="8.2" height="8.2" fill="none" stroke="#7272ff" stroke-width="1.0"/>
<path d="M245.6,278.7 V284.3 M241.6,278.7 h8 M241.6,284.3 h8" stroke="#7272ff" stroke-width="1" fill="none"/>
<rect x="241.5" y="277.4" width="8.2" height="8.2" fill="none" stroke="#7272ff" stroke-width="1.0"/>
<path d="M251.9,272.2 V277.8 M247.9,272.2 h8 M247.9,277.8 h8" stroke="#7272ff" stroke-width="1" fill="none"/>
<rect x="247.8" y="270.9" width="8.2" height="8.2" fill="none" stroke="#7272ff" stroke-width="1.0"/>
<path d="M258.1,270.3 V275.9 M254.1,270.3 h8 M254.1,275.9 h8" stroke="#7272ff" stroke-width="1" fill="none"/>
<rect x="254.0" y="269.0" width="8.2" height="8.2" fill="none" stroke="#7272ff" stroke-width="1.0"/>
<path d="M264.3,265.2 V280.2 M260.3,265.2 h8 M260.3,280.2 h8" stroke="#7272ff" stroke-width="1" fill="none"/>
<rect x="260.2" y="268.6" width="8.2" height="8.2" fill="none" stroke="#7272ff" stroke-width="1.0"/>
<path d="M270.7,255.5 V274.9 M266.7,255.5 h8 M266.7,274.9 h8" stroke="#7272ff" stroke-width="1" fill="none"/>
<rect x="266.6" y="261.1" width="8.2" height="8.2" fill="none" stroke="#7272ff" stroke-width="1.0"/>
<path d="M276.9,271.2 V276.8 M272.9,271.2 h8 M272.9,276.8 h8" stroke="#7272ff" stroke-width="1" fill="none"/>
<rect x="272.8" y="269.9" width="8.2" height="8.2" fill="none" stroke="#7272ff" stroke-width="1.0"/>
<path d="M283.1,269.9 V275.5 M279.1,269.9 h8 M279.1,275.5 h8" stroke="#7272ff" stroke-width="1" fill="none"/>
<rect x="279.0" y="268.6" width="8.2" height="8.2" fill="none" stroke="#7272ff" stroke-width="1.0"/>
<path d="M289.4,271.2 V276.8 M285.4,271.2 h8 M285.4,276.8 h8" stroke="#7272ff" stroke-width="1" fill="none"/>
<rect x="285.3" y="269.9" width="8.2" height="8.2" fill="none" stroke="#7272ff" stroke-width="1.0"/>
<path d="M295.6,275.0 V280.6 M291.6,275.0 h8 M291.6,280.6 h8" stroke="#7272ff" stroke-width="1" fill="none"/>
<rect x="291.5" y="273.7" width="8.2" height="8.2" fill="none" stroke="#7272ff" stroke-width="1.0"/>
<path d="M301.8,282.5 V288.1 M297.8,282.5 h8 M297.8,288.1 h8" stroke="#7272ff" stroke-width="1" fill="none"/>
<rect x="297.7" y="281.2" width="8.2" height="8.2" fill="none" stroke="#7272ff" stroke-width="1.0"/>
<path d="M308.2,269.9 V275.5 M304.2,269.9 h8 M304.2,275.5 h8" stroke="#7272ff" stroke-width="1" fill="none"/>
<rect x="304.1" y="268.6" width="8.2" height="8.2" fill="none" stroke="#7272ff" stroke-width="1.0"/>
<path d="M314.3,268.8 V274.4 M310.3,268.8 h8 M310.3,274.4 h8" stroke="#7272ff" stroke-width="1" fill="none"/>
<rect x="310.2" y="267.5" width="8.2" height="8.2" fill="none" stroke="#7272ff" stroke-width="1.0"/>
<path d="M320.5,253.8 V279.2 M316.5,253.8 h8 M316.5,279.2 h8" stroke="#7272ff" stroke-width="1" fill="none"/>
<rect x="316.4" y="262.4" width="8.2" height="8.2" fill="none" stroke="#7272ff" stroke-width="1.0"/>
<path d="M326.9,270.7 V276.3 M322.9,270.7 h8 M322.9,276.3 h8" stroke="#7272ff" stroke-width="1" fill="none"/>
<rect x="322.8" y="269.4" width="8.2" height="8.2" fill="none" stroke="#7272ff" stroke-width="1.0"/>
<path d="M333.1,271.2 V276.8 M329.1,271.2 h8 M329.1,276.8 h8" stroke="#7272ff" stroke-width="1" fill="none"/>
<rect x="329.0" y="269.9" width="8.2" height="8.2" fill="none" stroke="#7272ff" stroke-width="1.0"/>
<path d="M339.3,287.2 V292.8 M335.3,287.2 h8 M335.3,292.8 h8" stroke="#7272ff" stroke-width="1" fill="none"/>
<rect x="335.2" y="285.9" width="8.2" height="8.2" fill="none" stroke="#7272ff" stroke-width="1.0"/>
<path d="M345.6,314.3 V319.9 M341.6,314.3 h8 M341.6,319.9 h8" stroke="#7272ff" stroke-width="1" fill="none"/>
<rect x="341.5" y="313.0" width="8.2" height="8.2" fill="none" stroke="#7272ff" stroke-width="1.0"/>
<path d="M351.5,333.0 V338.6 M347.5,333.0 h8 M347.5,338.6 h8" stroke="#7272ff" stroke-width="1" fill="none"/>
<rect x="347.4" y="331.7" width="8.2" height="8.2" fill="none" stroke="#7272ff" stroke-width="1.0"/>
<path d="M357.8,347.8 V353.4 M353.8,347.8 h8 M353.8,353.4 h8" stroke="#7272ff" stroke-width="1" fill="none"/>
<rect x="353.7" y="346.5" width="8.2" height="8.2" fill="none" stroke="#7272ff" stroke-width="1.0"/>
<path d="M364.1,377.0 V382.6 M360.1,377.0 h8 M360.1,382.6 h8" stroke="#7272ff" stroke-width="1" fill="none"/>
<rect x="360.0" y="375.7" width="8.2" height="8.2" fill="none" stroke="#7272ff" stroke-width="1.0"/>
<path d="M370.8,377.5 V383.1 M366.8,377.5 h8 M366.8,383.1 h8" stroke="#7272ff" stroke-width="1" fill="none"/>
<rect x="366.7" y="376.2" width="8.2" height="8.2" fill="none" stroke="#7272ff" stroke-width="1.0"/>
<path d="M376.7,391.0 V396.6 M372.7,391.0 h8 M372.7,396.6 h8" stroke="#7272ff" stroke-width="1" fill="none"/>
<rect x="372.6" y="389.7" width="8.2" height="8.2" fill="none" stroke="#7272ff" stroke-width="1.0"/>
<path d="M383.0,393.2 V398.8 M379.0,393.2 h8 M379.0,398.8 h8" stroke="#7272ff" stroke-width="1" fill="none"/>
<rect x="378.9" y="391.9" width="8.2" height="8.2" fill="none" stroke="#7272ff" stroke-width="1.0"/>
<path d="M389.3,387.8 V393.4 M385.3,387.8 h8 M385.3,393.4 h8" stroke="#7272ff" stroke-width="1" fill="none"/>
<rect x="385.2" y="386.5" width="8.2" height="8.2" fill="none" stroke="#7272ff" stroke-width="1.0"/>
<path d="M395.6,379.3 V384.9 M391.6,379.3 h8 M391.6,384.9 h8" stroke="#7272ff" stroke-width="1" fill="none"/>
<rect x="391.5" y="378.0" width="8.2" height="8.2" fill="none" stroke="#7272ff" stroke-width="1.0"/>
<path d="M401.9,368.5 V374.1 M397.9,368.5 h8 M397.9,374.1 h8" stroke="#7272ff" stroke-width="1" fill="none"/>
<rect x="397.8" y="367.2" width="8.2" height="8.2" fill="none" stroke="#7272ff" stroke-width="1.0"/>
<path d="M408.2,348.3 V353.9 M404.2,348.3 h8 M404.2,353.9 h8" stroke="#7272ff" stroke-width="1" fill="none"/>
<rect x="404.1" y="347.0" width="8.2" height="8.2" fill="none" stroke="#7272ff" stroke-width="1.0"/>
<path d="M414.3,319.0 V324.6 M410.3,319.0 h8 M410.3,324.6 h8" stroke="#7272ff" stroke-width="1" fill="none"/>
<rect x="410.2" y="317.7" width="8.2" height="8.2" fill="none" stroke="#7272ff" stroke-width="1.0"/>
<path d="M420.5,272.6 V278.2 M416.5,272.6 h8 M416.5,278.2 h8" stroke="#7272ff" stroke-width="1" fill="none"/>
<rect x="416.4" y="271.3" width="8.2" height="8.2" fill="none" stroke="#7272ff" stroke-width="1.0"/>
<path d="M426.9,244.1 V266.5 M422.9,244.1 h8 M422.9,266.5 h8" stroke="#7272ff" stroke-width="1" fill="none"/>
<rect x="422.8" y="251.2" width="8.2" height="8.2" fill="none" stroke="#7272ff" stroke-width="1.0"/>
<path d="M433.0,263.2 V277.4 M429.0,263.2 h8 M429.0,277.4 h8" stroke="#7272ff" stroke-width="1" fill="none"/>
<rect x="428.9" y="266.2" width="8.2" height="8.2" fill="none" stroke="#7272ff" stroke-width="1.0"/>
<path d="M439.2,249.5 V267.5 M435.2,249.5 h8 M435.2,267.5 h8" stroke="#7272ff" stroke-width="1" fill="none"/>
<rect x="435.1" y="254.4" width="8.2" height="8.2" fill="none" stroke="#7272ff" stroke-width="1.0"/>
<path d="M445.6,264.3 V269.9 M441.6,264.3 h8 M441.6,269.9 h8" stroke="#7272ff" stroke-width="1" fill="none"/>
<rect x="441.5" y="263.0" width="8.2" height="8.2" fill="none" stroke="#7272ff" stroke-width="1.0"/>
<path d="M451.8,268.4 V281.6 M447.8,268.4 h8 M447.8,281.6 h8" stroke="#7272ff" stroke-width="1" fill="none"/>
<rect x="447.7" y="270.9" width="8.2" height="8.2" fill="none" stroke="#7272ff" stroke-width="1.0"/>
<path d="M458.0,256.8 V270.0 M454.0,256.8 h8 M454.0,270.0 h8" stroke="#7272ff" stroke-width="1" fill="none"/>
<rect x="453.9" y="259.3" width="8.2" height="8.2" fill="none" stroke="#7272ff" stroke-width="1.0"/>
<path d="M464.1,266.6 V272.2 M460.1,266.6 h8 M460.1,272.2 h8" stroke="#7272ff" stroke-width="1" fill="none"/>
<rect x="460.0" y="265.3" width="8.2" height="8.2" fill="none" stroke="#7272ff" stroke-width="1.0"/>
<path d="M470.5,254.9 V260.5 M466.5,254.9 h8 M466.5,260.5 h8" stroke="#7272ff" stroke-width="1" fill="none"/>
<rect x="466.4" y="253.6" width="8.2" height="8.2" fill="none" stroke="#7272ff" stroke-width="1.0"/>
<path d="M476.7,256.8 V272.6 M472.7,256.8 h8 M472.7,272.6 h8" stroke="#7272ff" stroke-width="1" fill="none"/>
<rect x="472.6" y="260.6" width="8.2" height="8.2" fill="none" stroke="#7272ff" stroke-width="1.0"/>
<path d="M482.9,266.2 V271.8 M478.9,266.2 h8 M478.9,271.8 h8" stroke="#7272ff" stroke-width="1" fill="none"/>
<rect x="478.8" y="264.9" width="8.2" height="8.2" fill="none" stroke="#7272ff" stroke-width="1.0"/>
<path d="M489.1,263.2 V268.8 M485.1,263.2 h8 M485.1,268.8 h8" stroke="#7272ff" stroke-width="1" fill="none"/>
<rect x="485.0" y="261.9" width="8.2" height="8.2" fill="none" stroke="#7272ff" stroke-width="1.0"/>
<path d="M495.4,240.9 V263.3 M491.4,240.9 h8 M491.4,263.3 h8" stroke="#7272ff" stroke-width="1" fill="none"/>
<rect x="491.3" y="248.0" width="8.2" height="8.2" fill="none" stroke="#7272ff" stroke-width="1.0"/>
<path d="M501.6,258.1 V263.7 M497.6,258.1 h8 M497.6,263.7 h8" stroke="#7272ff" stroke-width="1" fill="none"/>
<rect x="497.5" y="256.8" width="8.2" height="8.2" fill="none" stroke="#7272ff" stroke-width="1.0"/>
<path d="M507.8,249.3 V266.1 M503.8,249.3 h8 M503.8,266.1 h8" stroke="#7272ff" stroke-width="1" fill="none"/>
<rect x="503.7" y="253.6" width="8.2" height="8.2" fill="none" stroke="#7272ff" stroke-width="1.0"/>
<path d="M514.2,245.2 V262.8 M510.2,245.2 h8 M510.2,262.8 h8" stroke="#7272ff" stroke-width="1" fill="none"/>
<rect x="510.1" y="249.9" width="8.2" height="8.2" fill="none" stroke="#7272ff" stroke-width="1.0"/>
<path d="M520.4,237.3 V259.1 M516.4,237.3 h8 M516.4,259.1 h8" stroke="#7272ff" stroke-width="1" fill="none"/>
<rect x="516.3" y="244.1" width="8.2" height="8.2" fill="none" stroke="#7272ff" stroke-width="1.0"/>
<path d="M526.6,260.9 V266.5 M522.6,260.9 h8 M522.6,266.5 h8" stroke="#7272ff" stroke-width="1" fill="none"/>
<rect x="522.5" y="259.6" width="8.2" height="8.2" fill="none" stroke="#7272ff" stroke-width="1.0"/>
<path d="M532.9,266.9 V272.5 M528.9,266.9 h8 M528.9,272.5 h8" stroke="#7272ff" stroke-width="1" fill="none"/>
<rect x="528.8" y="265.6" width="8.2" height="8.2" fill="none" stroke="#7272ff" stroke-width="1.0"/>
<path d="M539.1,254.9 V260.5 M535.1,254.9 h8 M535.1,260.5 h8" stroke="#7272ff" stroke-width="1" fill="none"/>
<rect x="535.0" y="253.6" width="8.2" height="8.2" fill="none" stroke="#7272ff" stroke-width="1.0"/>
<path d="M545.3,256.8 V262.4 M541.3,256.8 h8 M541.3,262.4 h8" stroke="#7272ff" stroke-width="1" fill="none"/>
<rect x="541.2" y="255.5" width="8.2" height="8.2" fill="none" stroke="#7272ff" stroke-width="1.0"/>
<path d="M551.5,249.7 V255.3 M547.5,249.7 h8 M547.5,255.3 h8" stroke="#7272ff" stroke-width="1" fill="none"/>
<rect x="547.4" y="248.4" width="8.2" height="8.2" fill="none" stroke="#7272ff" stroke-width="1.0"/>
<path d="M557.7,267.5 V273.1 M553.7,267.5 h8 M553.7,273.1 h8" stroke="#7272ff" stroke-width="1" fill="none"/>
<rect x="553.6" y="266.2" width="8.2" height="8.2" fill="none" stroke="#7272ff" stroke-width="1.0"/>
<path d="M564.0,250.6 V256.2 M560.0,250.6 h8 M560.0,256.2 h8" stroke="#7272ff" stroke-width="1" fill="none"/>
<rect x="559.9" y="249.3" width="8.2" height="8.2" fill="none" stroke="#7272ff" stroke-width="1.0"/>
<path d="M570.2,257.6 V263.2 M566.2,257.6 h8 M566.2,263.2 h8" stroke="#7272ff" stroke-width="1" fill="none"/>
<rect x="566.1" y="256.3" width="8.2" height="8.2" fill="none" stroke="#7272ff" stroke-width="1.0"/>
<path d="M576.4,254.9 V260.5 M572.4,254.9 h8 M572.4,260.5 h8" stroke="#7272ff" stroke-width="1" fill="none"/>
<rect x="572.3" y="253.6" width="8.2" height="8.2" fill="none" stroke="#7272ff" stroke-width="1.0"/>
<path d="M582.8,250.6 V256.2 M578.8,250.6 h8 M578.8,256.2 h8" stroke="#7272ff" stroke-width="1" fill="none"/>
<rect x="578.7" y="249.3" width="8.2" height="8.2" fill="none" stroke="#7272ff" stroke-width="1.0"/>
<path d="M589.0,257.2 V262.8 M585.0,257.2 h8 M585.0,262.8 h8" stroke="#7272ff" stroke-width="1" fill="none"/>
<rect x="584.9" y="255.9" width="8.2" height="8.2" fill="none" stroke="#7272ff" stroke-width="1.0"/>
<path d="M160.6,279.9 L162.8,279.8 L164.9,279.7 L167.1,279.5 L169.2,279.4 L171.4,279.2 L173.5,279.0 L175.7,278.9 L177.9,278.7 L180.0,278.5 L182.2,278.3 L184.3,278.1 L186.5,278.0 L188.6,277.8 L190.8,277.6 L193.0,277.3 L195.1,277.1 L197.3,276.9 L199.4,276.7 L201.6,276.5 L203.7,276.2 L205.9,276.0 L208.0,275.7 L210.2,275.5 L212.4,275.2 L214.5,274.9 L216.7,274.7 L218.8,274.4 L221.0,274.1 L223.1,273.8 L225.3,273.5 L227.5,273.2 L229.6,272.8 L231.8,272.5 L233.9,272.2 L236.1,271.8 L238.2,271.5 L240.4,271.1 L242.6,270.7 L244.7,270.4 L246.9,270.0 L249.0,269.6 L251.2,269.2 L253.3,268.8 L255.5,268.4 L257.7,268.0 L259.8,267.6 L262.0,267.1 L264.1,266.7 L266.3,266.3 L268.4,265.9 L270.6,265.5 L272.8,265.0 L274.9,264.6 L277.1,264.2 L279.2,263.8 L281.4,263.5 L283.5,263.1 L285.7,262.8 L287.9,262.5 L290.0,262.2 L292.2,261.9 L294.3,261.8 L296.5,261.6 L298.6,261.5 L300.8,261.5 L302.9,261.6 L305.1,261.7 L307.3,262.0 L309.4,262.3 L311.6,262.8 L313.7,263.5 L315.9,264.3 L318.0,265.3 L320.2,266.5 L322.4,267.9 L324.5,269.5 L326.7,271.4 L328.8,273.6 L331.0,276.1 L333.1,279.0 L335.3,282.2 L337.5,285.8 L339.6,289.8 L341.8,294.2 L343.9,299.0 L346.1,304.2 L348.2,309.9 L350.4,315.9 L352.6,322.4 L354.7,329.1 L356.9,336.1 L359.0,343.3 L361.2,350.6 L363.3,357.9 L365.5,365.1 L367.7,371.9 L369.8,378.3 L372.0,384.0 L374.1,388.9 L376.3,392.7 L378.4,395.1 L380.6,395.7 L382.7,394.1 L384.9,391.0 L387.1,386.6 L389.2,381.3 L391.4,375.2 L393.5,368.6 L395.7,361.6 L397.8,354.4 L400.0,347.1 L402.2,339.8 L404.3,332.7 L406.5,325.8 L408.6,319.2 L410.8,312.9 L412.9,307.1 L415.1,301.6 L417.3,296.6 L419.4,292.0 L421.6,287.8 L423.7,284.0 L425.9,280.6 L428.0,277.6 L430.2,274.9 L432.4,272.5 L434.5,270.5 L436.7,268.7 L438.8,267.1 L441.0,265.9 L443.1,264.8 L445.3,263.9 L447.5,263.2 L449.6,262.6 L451.8,262.2 L453.9,261.8 L456.1,261.6 L458.2,261.5 L460.4,261.5 L462.5,261.6 L464.7,261.7 L466.9,261.8 L469.0,262.1 L471.2,262.3 L473.3,262.6 L475.5,262.9 L477.6,263.3 L479.8,263.6 L482.0,264.0 L484.1,264.4 L486.3,264.8 L488.4,265.2 L490.6,265.7 L492.7,266.1 L494.9,266.5 L497.1,266.9 L499.2,267.3 L501.4,267.8 L503.5,268.2 L505.7,268.6 L507.8,269.0 L510.0,269.4 L512.2,269.8 L514.3,270.2 L516.5,270.5 L518.6,270.9 L520.8,271.3 L522.9,271.6 L525.1,272.0 L527.3,272.3 L529.4,272.7 L531.6,273.0 L533.7,273.3 L535.9,273.6 L538.0,273.9 L540.2,274.2 L542.4,274.5 L544.5,274.8 L546.7,275.1 L548.8,275.3 L551.0,275.6 L553.1,275.8 L555.3,276.1 L557.4,276.3 L559.6,276.6 L561.8,276.8 L563.9,277.0 L566.1,277.2 L568.2,277.4 L570.4,277.7 L572.5,277.9 L574.7,278.0 L576.9,278.2 L579.0,278.4 L581.2,278.6 L583.3,278.8 L585.5,278.9 L587.6,279.1 L589.8,279.3" fill="none" stroke="#0000ff" stroke-width="2.7" stroke-linejoin="round" stroke-linecap="round"/>
<path d="M107.0,462.8 h9 M107.0,414.1 h4.5 M107.0,365.4 h9 M107.0,316.6 h4.5 M107.0,267.9 h9 M107.0,219.2 h4.5 M107.0,170.4 h9 M107.0,121.7 h4.5 M107.0,73.0 h9 M146.0,462.8 v-9 M185.0,462.8 v-4.5 M224.0,462.8 v-9 M263.0,462.8 v-4.5 M302.0,462.8 v-9 M341.0,462.8 v-4.5 M380.1,462.8 v-9 M419.1,462.8 v-4.5 M458.1,462.8 v-9 M497.1,462.8 v-4.5 M536.1,462.8 v-9 M575.1,462.8 v-4.5 M614.1,462.8 v-9" stroke="#000" stroke-width="2.2" fill="none"/>
<rect x="107" y="48.4" width="546.1" height="414.4" fill="none" stroke="#000" stroke-width="2.2"/>
<text transform="translate(97.00,82.00) scale(1,1.05)" text-anchor="end" font-size="28">1.2</text>
<text transform="translate(97.00,179.45) scale(1,1.05)" text-anchor="end" font-size="28">0.8</text>
<text transform="translate(97.00,276.90) scale(1,1.05)" text-anchor="end" font-size="28">0.4</text>
<text transform="translate(97.00,374.35) scale(1,1.05)" text-anchor="end" font-size="28">0.0</text>
<text transform="translate(97.00,471.80) scale(1,1.05)" text-anchor="end" font-size="28">-0.4</text>
<text transform="translate(146.01,495.00) scale(1,1.05)" text-anchor="middle" font-size="28">-150</text>
<text transform="translate(224.02,495.00) scale(1,1.05)" text-anchor="middle" font-size="28">-100</text>
<text transform="translate(302.04,495.00) scale(1,1.05)" text-anchor="middle" font-size="28">-50</text>
<text transform="translate(380.05,495.00) scale(1,1.05)" text-anchor="middle" font-size="28">0</text>
<text transform="translate(458.06,495.00) scale(1,1.05)" text-anchor="middle" font-size="28">50</text>
<text transform="translate(536.08,495.00) scale(1,1.05)" text-anchor="middle" font-size="28">100</text>
<text transform="translate(614.09,495.00) scale(1,1.05)" text-anchor="middle" font-size="28">150</text>
<text transform="translate(47.50,32.30) scale(1,1.05)" font-size="35">(a)</text>
<text transform="translate(382.70,527.90) scale(1,1.05)" text-anchor="middle" font-size="35.45">z (mm)</text>
<text transform="translate(54.2,253.4) rotate(-90) scale(1,1.05)" text-anchor="middle" font-size="36.6">Normalized transmission</text>
<path d="M471.3,344.5 L476.9,354.5 L465.7,354.5 Z" fill="none" stroke="#7272ff" stroke-width="1.1"/>
<text transform="translate(495.00,357.50) scale(1,1.05)" font-size="28">0.01</text>
<circle cx="471.0" cy="385.7" r="5" fill="none" stroke="#7272ff" stroke-width="1.1"/>
<text transform="translate(495.00,393.00) scale(1,1.05)" font-size="28">0.06</text>
<rect x="467.1" y="421.5" width="8.2" height="8.2" fill="none" stroke="#7272ff" stroke-width="1.1"/>
<text transform="translate(495.00,433.00) scale(1,1.05)" font-size="28">0.11 GW/cm<tspan font-size="17" dy="-13">2</tspan></text>
<text transform="translate(141.00,387.70) scale(1,1.05)" font-size="25" style="font-weight:normal">λ</text>
<text transform="translate(154.50,398.20) scale(1,1.05)" font-size="16" style="font-weight:normal">ex</text>
<text transform="translate(176.50,387.70) scale(1,1.05)" font-size="27.3">= 475 nm</text>
<text transform="translate(141.00,431.80) scale(1,1.05)" font-size="27.5">T</text>
<text transform="translate(179.00,431.80) scale(1,1.05)" font-size="27.5">= 37.5%</text>
<path d="M815.0,106.6 V117.8 M811.0,106.6 h8 M811.0,117.8 h8" stroke="#72ffff" stroke-width="1" fill="none"/>
<path d="M815.0,107.2 L820.6,117.2 L809.4,117.2 Z" fill="none" stroke="#72ffff" stroke-width="1.0"/>
<path d="M821.2,127.8 V139.0 M817.2,127.8 h8 M817.2,139.0 h8" stroke="#72ffff" stroke-width="1" fill="none"/>
<path d="M821.2,128.4 L826.8,138.4 L815.6,138.4 Z" fill="none" stroke="#72ffff" stroke-width="1.0"/>
<path d="M827.5,122.2 V129.6 M823.5,122.2 h8 M823.5,129.6 h8" stroke="#72ffff" stroke-width="1" fill="none"/>
<path d="M827.5,120.9 L833.1,130.9 L821.9,130.9 Z" fill="none" stroke="#72ffff" stroke-width="1.0"/>
<path d="M833.7,124.1 V150.3 M829.7,124.1 h8 M829.7,150.3 h8" stroke="#72ffff" stroke-width="1" fill="none"/>
<path d="M833.7,132.2 L839.3,142.2 L828.1,142.2 Z" fill="none" stroke="#72ffff" stroke-width="1.0"/>
<path d="M839.9,119.4 V134.4 M835.9,119.4 h8 M835.9,134.4 h8" stroke="#72ffff" stroke-width="1" fill="none"/>
<path d="M839.9,121.9 L845.5,131.9 L834.3,131.9 Z" fill="none" stroke="#72ffff" stroke-width="1.0"/>
<path d="M846.3,123.2 V145.6 M842.3,123.2 h8 M842.3,145.6 h8" stroke="#72ffff" stroke-width="1" fill="none"/>
<path d="M846.3,129.4 L851.9,139.4 L840.7,139.4 Z" fill="none" stroke="#72ffff" stroke-width="1.0"/>
<path d="M852.5,123.5 V130.9 M848.5,123.5 h8 M848.5,130.9 h8" stroke="#72ffff" stroke-width="1" fill="none"/>
<path d="M852.5,122.2 L858.1,132.2 L846.9,132.2 Z" fill="none" stroke="#72ffff" stroke-width="1.0"/>
<path d="M858.7,112.8 V126.0 M854.7,112.8 h8 M854.7,126.0 h8" stroke="#72ffff" stroke-width="1" fill="none"/>
<path d="M858.7,114.4 L864.3,124.4 L853.1,124.4 Z" fill="none" stroke="#72ffff" stroke-width="1.0"/>
<path d="M865.0,129.7 V137.1 M861.0,129.7 h8 M861.0,137.1 h8" stroke="#72ffff" stroke-width="1" fill="none"/>
<path d="M865.0,128.4 L870.6,138.4 L859.4,138.4 Z" fill="none" stroke="#72ffff" stroke-width="1.0"/>
<path d="M871.2,126.0 V133.4 M867.2,126.0 h8 M867.2,133.4 h8" stroke="#72ffff" stroke-width="1" fill="none"/>
<path d="M871.2,124.7 L876.8,134.7 L865.6,134.7 Z" fill="none" stroke="#72ffff" stroke-width="1.0"/>
<path d="M877.4,127.8 V135.2 M873.4,127.8 h8 M873.4,135.2 h8" stroke="#72ffff" stroke-width="1" fill="none"/>
<path d="M877.4,126.5 L883.0,136.5 L871.8,136.5 Z" fill="none" stroke="#72ffff" stroke-width="1.0"/>
<path d="M883.8,114.3 V134.9 M879.8,114.3 h8 M879.8,134.9 h8" stroke="#72ffff" stroke-width="1" fill="none"/>
<path d="M883.8,119.6 L889.4,129.6 L878.2,129.6 Z" fill="none" stroke="#72ffff" stroke-width="1.0"/>
<path d="M890.0,126.0 V148.4 M886.0,126.0 h8 M886.0,148.4 h8" stroke="#72ffff" stroke-width="1" fill="none"/>
<path d="M890.0,132.2 L895.6,142.2 L884.4,142.2 Z" fill="none" stroke="#72ffff" stroke-width="1.0"/>
<path d="M896.1,123.5 V130.9 M892.1,123.5 h8 M892.1,130.9 h8" stroke="#72ffff" stroke-width="1" fill="none"/>
<path d="M896.1,122.2 L901.7,132.2 L890.5,132.2 Z" fill="none" stroke="#72ffff" stroke-width="1.0"/>
<path d="M902.5,126.5 V133.9 M898.5,126.5 h8 M898.5,133.9 h8" stroke="#72ffff" stroke-width="1" fill="none"/>
<path d="M902.5,125.2 L908.1,135.2 L896.9,135.2 Z" fill="none" stroke="#72ffff" stroke-width="1.0"/>
<path d="M908.7,124.1 V131.5 M904.7,124.1 h8 M904.7,131.5 h8" stroke="#72ffff" stroke-width="1" fill="none"/>
<path d="M908.7,122.8 L914.3,132.8 L903.1,132.8 Z" fill="none" stroke="#72ffff" stroke-width="1.0"/>
<path d="M914.9,102.5 V132.5 M910.9,102.5 h8 M910.9,132.5 h8" stroke="#72ffff" stroke-width="1" fill="none"/>
<path d="M914.9,112.5 L920.5,122.5 L909.3,122.5 Z" fill="none" stroke="#72ffff" stroke-width="1.0"/>
<path d="M921.3,128.8 V136.2 M917.3,128.8 h8 M917.3,136.2 h8" stroke="#72ffff" stroke-width="1" fill="none"/>
<path d="M921.3,127.5 L926.9,137.5 L915.7,137.5 Z" fill="none" stroke="#72ffff" stroke-width="1.0"/>
<path d="M927.4,119.8 V127.2 M923.4,119.8 h8 M923.4,127.2 h8" stroke="#72ffff" stroke-width="1" fill="none"/>
<path d="M927.4,118.5 L933.0,128.5 L921.8,128.5 Z" fill="none" stroke="#72ffff" stroke-width="1.0"/>
<path d="M933.6,122.2 V129.6 M929.6,122.2 h8 M929.6,129.6 h8" stroke="#72ffff" stroke-width="1" fill="none"/>
<path d="M933.6,120.9 L939.2,130.9 L928.0,130.9 Z" fill="none" stroke="#72ffff" stroke-width="1.0"/>
<path d="M940.0,132.2 V139.6 M936.0,132.2 h8 M936.0,139.6 h8" stroke="#72ffff" stroke-width="1" fill="none"/>
<path d="M940.0,130.9 L945.6,140.9 L934.4,140.9 Z" fill="none" stroke="#72ffff" stroke-width="1.0"/>
<path d="M946.2,117.9 V125.3 M942.2,117.9 h8 M942.2,125.3 h8" stroke="#72ffff" stroke-width="1" fill="none"/>
<path d="M946.2,116.6 L951.8,126.6 L940.6,126.6 Z" fill="none" stroke="#72ffff" stroke-width="1.0"/>
<path d="M952.4,129.7 V137.1 M948.4,129.7 h8 M948.4,137.1 h8" stroke="#72ffff" stroke-width="1" fill="none"/>
<path d="M952.4,128.4 L958.0,138.4 L946.8,138.4 Z" fill="none" stroke="#72ffff" stroke-width="1.0"/>
<path d="M958.7,130.3 V137.7 M954.7,130.3 h8 M954.7,137.7 h8" stroke="#72ffff" stroke-width="1" fill="none"/>
<path d="M958.7,129.0 L964.3,139.0 L953.1,139.0 Z" fill="none" stroke="#72ffff" stroke-width="1.0"/>
<path d="M964.9,120.3 V127.7 M960.9,120.3 h8 M960.9,127.7 h8" stroke="#72ffff" stroke-width="1" fill="none"/>
<path d="M964.9,119.0 L970.5,129.0 L959.3,129.0 Z" fill="none" stroke="#72ffff" stroke-width="1.0"/>
<path d="M971.1,138.2 V145.6 M967.1,138.2 h8 M967.1,145.6 h8" stroke="#72ffff" stroke-width="1" fill="none"/>
<path d="M971.1,136.9 L976.7,146.9 L965.5,146.9 Z" fill="none" stroke="#72ffff" stroke-width="1.0"/>
<path d="M977.5,114.7 V125.9 M973.5,114.7 h8 M973.5,125.9 h8" stroke="#72ffff" stroke-width="1" fill="none"/>
<path d="M977.5,115.3 L983.1,125.3 L971.9,125.3 Z" fill="none" stroke="#72ffff" stroke-width="1.0"/>
<path d="M983.7,125.0 V132.4 M979.7,125.0 h8 M979.7,132.4 h8" stroke="#72ffff" stroke-width="1" fill="none"/>
<path d="M983.7,123.7 L989.3,133.7 L978.1,133.7 Z" fill="none" stroke="#72ffff" stroke-width="1.0"/>
<path d="M990.6,99.7 V131.5 M986.6,99.7 h8 M986.6,131.5 h8" stroke="#72ffff" stroke-width="1" fill="none"/>
<path d="M990.6,110.6 L996.2,120.6 L985.0,120.6 Z" fill="none" stroke="#72ffff" stroke-width="1.0"/>
<path d="M996.4,126.0 V148.4 M992.4,126.0 h8 M992.4,148.4 h8" stroke="#72ffff" stroke-width="1" fill="none"/>
<path d="M996.4,132.2 L1002.0,142.2 L990.8,142.2 Z" fill="none" stroke="#72ffff" stroke-width="1.0"/>
<path d="M1002.4,162.5 V171.9 M998.4,162.5 h8 M998.4,171.9 h8" stroke="#72ffff" stroke-width="1" fill="none"/>
<path d="M1002.4,162.2 L1008.0,172.2 L996.8,172.2 Z" fill="none" stroke="#72ffff" stroke-width="1.0"/>
<path d="M1008.6,176.1 V185.5 M1004.6,176.1 h8 M1004.6,185.5 h8" stroke="#72ffff" stroke-width="1" fill="none"/>
<path d="M1008.6,175.8 L1014.2,185.8 L1003.0,185.8 Z" fill="none" stroke="#72ffff" stroke-width="1.0"/>
<path d="M1015.0,191.5 V200.9 M1011.0,191.5 h8 M1011.0,200.9 h8" stroke="#72ffff" stroke-width="1" fill="none"/>
<path d="M1015.0,191.2 L1020.6,201.2 L1009.4,201.2 Z" fill="none" stroke="#72ffff" stroke-width="1.0"/>
<path d="M1021.1,199.6 V207.0 M1017.1,199.6 h8 M1017.1,207.0 h8" stroke="#72ffff" stroke-width="1" fill="none"/>
<path d="M1021.1,198.3 L1026.7,208.3 L1015.5,208.3 Z" fill="none" stroke="#72ffff" stroke-width="1.0"/>
<path d="M1027.7,225.3 V230.9 M1023.7,225.3 h8 M1023.7,230.9 h8" stroke="#72ffff" stroke-width="1" fill="none"/>
<path d="M1027.7,223.1 L1033.3,233.1 L1022.1,233.1 Z" fill="none" stroke="#72ffff" stroke-width="1.0"/>
<path d="M1033.9,215.9 V221.5 M1029.9,215.9 h8 M1029.9,221.5 h8" stroke="#72ffff" stroke-width="1" fill="none"/>
<path d="M1033.9,213.7 L1039.5,223.7 L1028.3,223.7 Z" fill="none" stroke="#72ffff" stroke-width="1.0"/>
<path d="M1040.3,214.0 V219.6 M1036.3,214.0 h8 M1036.3,219.6 h8" stroke="#72ffff" stroke-width="1" fill="none"/>
<path d="M1040.3,211.8 L1045.9,221.8 L1034.7,221.8 Z" fill="none" stroke="#72ffff" stroke-width="1.0"/>
<path d="M1046.4,209.3 V214.9 M1042.4,209.3 h8 M1042.4,214.9 h8" stroke="#72ffff" stroke-width="1" fill="none"/>
<path d="M1046.4,207.1 L1052.0,217.1 L1040.8,217.1 Z" fill="none" stroke="#72ffff" stroke-width="1.0"/>
<path d="M1053.4,183.7 V189.3 M1049.4,183.7 h8 M1049.4,189.3 h8" stroke="#72ffff" stroke-width="1" fill="none"/>
<path d="M1053.4,181.5 L1059.0,191.5 L1047.8,191.5 Z" fill="none" stroke="#72ffff" stroke-width="1.0"/>
<path d="M1060.0,169.6 V180.8 M1056.0,169.6 h8 M1056.0,180.8 h8" stroke="#72ffff" stroke-width="1" fill="none"/>
<path d="M1060.0,170.2 L1065.6,180.2 L1054.4,180.2 Z" fill="none" stroke="#72ffff" stroke-width="1.0"/>
<path d="M1065.6,146.6 V154.0 M1061.6,146.6 h8 M1061.6,154.0 h8" stroke="#72ffff" stroke-width="1" fill="none"/>
<path d="M1065.6,145.3 L1071.2,155.3 L1060.0,155.3 Z" fill="none" stroke="#72ffff" stroke-width="1.0"/>
<path d="M1071.8,130.7 V138.1 M1067.8,130.7 h8 M1067.8,138.1 h8" stroke="#72ffff" stroke-width="1" fill="none"/>
<path d="M1071.8,129.4 L1077.4,139.4 L1066.2,139.4 Z" fill="none" stroke="#72ffff" stroke-width="1.0"/>
<path d="M1077.8,120.3 V127.7 M1073.8,120.3 h8 M1073.8,127.7 h8" stroke="#72ffff" stroke-width="1" fill="none"/>
<path d="M1077.8,119.0 L1083.4,129.0 L1072.2,129.0 Z" fill="none" stroke="#72ffff" stroke-width="1.0"/>
<path d="M1084.4,124.6 V139.6 M1080.4,124.6 h8 M1080.4,139.6 h8" stroke="#72ffff" stroke-width="1" fill="none"/>
<path d="M1084.4,127.1 L1090.0,137.1 L1078.8,137.1 Z" fill="none" stroke="#72ffff" stroke-width="1.0"/>
<path d="M1090.5,117.2 V124.6 M1086.5,117.2 h8 M1086.5,124.6 h8" stroke="#72ffff" stroke-width="1" fill="none"/>
<path d="M1090.5,115.9 L1096.1,125.9 L1084.9,125.9 Z" fill="none" stroke="#72ffff" stroke-width="1.0"/>
<path d="M1096.9,134.0 V141.4 M1092.9,134.0 h8 M1092.9,141.4 h8" stroke="#72ffff" stroke-width="1" fill="none"/>
<path d="M1096.9,132.7 L1102.5,142.7 L1091.3,142.7 Z" fill="none" stroke="#72ffff" stroke-width="1.0"/>
<path d="M1103.1,117.2 V124.6 M1099.1,117.2 h8 M1099.1,124.6 h8" stroke="#72ffff" stroke-width="1" fill="none"/>
<path d="M1103.1,115.9 L1108.7,125.9 L1097.5,125.9 Z" fill="none" stroke="#72ffff" stroke-width="1.0"/>
<path d="M1109.3,132.1 V143.3 M1105.3,132.1 h8 M1105.3,143.3 h8" stroke="#72ffff" stroke-width="1" fill="none"/>
<path d="M1109.3,132.7 L1114.9,142.7 L1103.7,142.7 Z" fill="none" stroke="#72ffff" stroke-width="1.0"/>
<path d="M1115.7,124.1 V131.5 M1111.7,124.1 h8 M1111.7,131.5 h8" stroke="#72ffff" stroke-width="1" fill="none"/>
<path d="M1115.7,122.8 L1121.3,132.8 L1110.1,132.8 Z" fill="none" stroke="#72ffff" stroke-width="1.0"/>
<path d="M1121.8,130.7 V138.1 M1117.8,130.7 h8 M1117.8,138.1 h8" stroke="#72ffff" stroke-width="1" fill="none"/>
<path d="M1121.8,129.4 L1127.4,139.4 L1116.2,139.4 Z" fill="none" stroke="#72ffff" stroke-width="1.0"/>
<path d="M1128.0,124.7 V132.1 M1124.0,124.7 h8 M1124.0,132.1 h8" stroke="#72ffff" stroke-width="1" fill="none"/>
<path d="M1128.0,123.4 L1133.6,133.4 L1122.4,133.4 Z" fill="none" stroke="#72ffff" stroke-width="1.0"/>
<path d="M1134.4,132.9 V144.1 M1130.4,132.9 h8 M1130.4,144.1 h8" stroke="#72ffff" stroke-width="1" fill="none"/>
<path d="M1134.4,133.5 L1140.0,143.5 L1128.8,143.5 Z" fill="none" stroke="#72ffff" stroke-width="1.0"/>
<path d="M1140.6,130.7 V138.1 M1136.6,130.7 h8 M1136.6,138.1 h8" stroke="#72ffff" stroke-width="1" fill="none"/>
<path d="M1140.6,129.4 L1146.2,139.4 L1135.0,139.4 Z" fill="none" stroke="#72ffff" stroke-width="1.0"/>
<path d="M1146.8,120.3 V127.7 M1142.8,120.3 h8 M1142.8,127.7 h8" stroke="#72ffff" stroke-width="1" fill="none"/>
<path d="M1146.8,119.0 L1152.4,129.0 L1141.2,129.0 Z" fill="none" stroke="#72ffff" stroke-width="1.0"/>
<path d="M1153.1,128.8 V136.2 M1149.1,128.8 h8 M1149.1,136.2 h8" stroke="#72ffff" stroke-width="1" fill="none"/>
<path d="M1153.1,127.5 L1158.7,137.5 L1147.5,137.5 Z" fill="none" stroke="#72ffff" stroke-width="1.0"/>
<path d="M1159.3,132.9 V140.3 M1155.3,132.9 h8 M1155.3,140.3 h8" stroke="#72ffff" stroke-width="1" fill="none"/>
<path d="M1159.3,131.6 L1164.9,141.6 L1153.7,141.6 Z" fill="none" stroke="#72ffff" stroke-width="1.0"/>
<path d="M1165.5,130.7 V138.1 M1161.5,130.7 h8 M1161.5,138.1 h8" stroke="#72ffff" stroke-width="1" fill="none"/>
<path d="M1165.5,129.4 L1171.1,139.4 L1159.9,139.4 Z" fill="none" stroke="#72ffff" stroke-width="1.0"/>
<path d="M1171.9,123.2 V130.6 M1167.9,123.2 h8 M1167.9,130.6 h8" stroke="#72ffff" stroke-width="1" fill="none"/>
<path d="M1171.9,121.9 L1177.5,131.9 L1166.3,131.9 Z" fill="none" stroke="#72ffff" stroke-width="1.0"/>
<path d="M1178.1,134.4 V145.6 M1174.1,134.4 h8 M1174.1,145.6 h8" stroke="#72ffff" stroke-width="1" fill="none"/>
<path d="M1178.1,135.0 L1183.7,145.0 L1172.5,145.0 Z" fill="none" stroke="#72ffff" stroke-width="1.0"/>
<path d="M1184.2,126.0 V133.4 M1180.2,126.0 h8 M1180.2,133.4 h8" stroke="#72ffff" stroke-width="1" fill="none"/>
<path d="M1184.2,124.7 L1189.8,134.7 L1178.6,134.7 Z" fill="none" stroke="#72ffff" stroke-width="1.0"/>
<path d="M1190.6,120.9 V128.3 M1186.6,120.9 h8 M1186.6,128.3 h8" stroke="#72ffff" stroke-width="1" fill="none"/>
<path d="M1190.6,119.6 L1196.2,129.6 L1185.0,129.6 Z" fill="none" stroke="#72ffff" stroke-width="1.0"/>
<path d="M1196.8,126.9 V134.3 M1192.8,126.9 h8 M1192.8,134.3 h8" stroke="#72ffff" stroke-width="1" fill="none"/>
<path d="M1196.8,125.6 L1202.4,135.6 L1191.2,135.6 Z" fill="none" stroke="#72ffff" stroke-width="1.0"/>
<path d="M1203.0,125.0 V132.4 M1199.0,125.0 h8 M1199.0,132.4 h8" stroke="#72ffff" stroke-width="1" fill="none"/>
<path d="M1203.0,123.7 L1208.6,133.7 L1197.4,133.7 Z" fill="none" stroke="#72ffff" stroke-width="1.0"/>
<path d="M1209.4,129.7 V137.1 M1205.4,129.7 h8 M1205.4,137.1 h8" stroke="#72ffff" stroke-width="1" fill="none"/>
<path d="M1209.4,128.4 L1215.0,138.4 L1203.8,138.4 Z" fill="none" stroke="#72ffff" stroke-width="1.0"/>
<path d="M1215.5,120.9 V128.3 M1211.5,120.9 h8 M1211.5,128.3 h8" stroke="#72ffff" stroke-width="1" fill="none"/>
<path d="M1215.5,119.6 L1221.1,129.6 L1209.9,129.6 Z" fill="none" stroke="#72ffff" stroke-width="1.0"/>
<path d="M1221.7,126.0 V133.4 M1217.7,126.0 h8 M1217.7,133.4 h8" stroke="#72ffff" stroke-width="1" fill="none"/>
<path d="M1221.7,124.7 L1227.3,134.7 L1216.1,134.7 Z" fill="none" stroke="#72ffff" stroke-width="1.0"/>
<path d="M1228.1,131.5 V146.5 M1224.1,131.5 h8 M1224.1,146.5 h8" stroke="#72ffff" stroke-width="1" fill="none"/>
<path d="M1228.1,134.0 L1233.7,144.0 L1222.5,144.0 Z" fill="none" stroke="#72ffff" stroke-width="1.0"/>
<path d="M1234.3,122.2 V133.4 M1230.3,122.2 h8 M1230.3,133.4 h8" stroke="#72ffff" stroke-width="1" fill="none"/>
<path d="M1234.3,122.8 L1239.9,132.8 L1228.7,132.8 Z" fill="none" stroke="#72ffff" stroke-width="1.0"/>
<path d="M1240.8,130.3 V137.7 M1236.8,130.3 h8 M1236.8,137.7 h8" stroke="#72ffff" stroke-width="1" fill="none"/>
<path d="M1240.8,129.0 L1246.4,139.0 L1235.2,139.0 Z" fill="none" stroke="#72ffff" stroke-width="1.0"/>
<path d="M814.4,143.3 L816.5,143.1 L818.7,142.8 L820.8,142.5 L823.0,142.2 L825.1,141.9 L827.3,141.6 L829.4,141.3 L831.6,141.0 L833.7,140.7 L835.9,140.4 L838.0,140.1 L840.2,139.8 L842.3,139.4 L844.5,139.1 L846.6,138.7 L848.7,138.4 L850.9,138.0 L853.0,137.7 L855.2,137.3 L857.3,137.0 L859.5,136.6 L861.6,136.2 L863.8,135.8 L865.9,135.4 L868.1,135.0 L870.2,134.6 L872.4,134.2 L874.5,133.8 L876.7,133.4 L878.8,133.0 L880.9,132.5 L883.1,132.1 L885.2,131.7 L887.4,131.2 L889.5,130.8 L891.7,130.4 L893.8,129.9 L896.0,129.5 L898.1,129.0 L900.3,128.6 L902.4,128.1 L904.6,127.7 L906.7,127.2 L908.9,126.8 L911.0,126.3 L913.1,125.9 L915.3,125.5 L917.4,125.0 L919.6,124.6 L921.7,124.2 L923.9,123.8 L926.0,123.4 L928.2,123.1 L930.3,122.7 L932.5,122.4 L934.6,122.1 L936.8,121.8 L938.9,121.6 L941.1,121.3 L943.2,121.1 L945.4,121.0 L947.5,120.9 L949.6,120.9 L951.8,120.9 L953.9,120.9 L956.1,121.1 L958.2,121.3 L960.4,121.6 L962.5,122.0 L964.7,122.5 L966.8,123.1 L969.0,123.8 L971.1,124.6 L973.3,125.7 L975.4,126.8 L977.6,128.2 L979.7,129.7 L981.8,131.5 L984.0,133.5 L986.1,135.7 L988.3,138.2 L990.4,141.0 L992.6,144.1 L994.7,147.5 L996.9,151.3 L999.0,155.4 L1001.2,159.9 L1003.3,164.8 L1005.5,169.9 L1007.6,175.4 L1009.8,181.2 L1011.9,187.1 L1014.0,193.1 L1016.2,199.1 L1018.3,205.0 L1020.5,210.4 L1022.6,215.4 L1024.8,219.6 L1026.9,222.9 L1029.1,225.3 L1031.2,226.5 L1033.4,226.6 L1035.5,225.7 L1037.7,223.7 L1039.8,220.6 L1042.0,216.6 L1044.1,211.8 L1046.2,206.5 L1048.4,200.8 L1050.5,194.8 L1052.7,188.8 L1054.8,182.8 L1057.0,177.0 L1059.1,171.4 L1061.3,166.2 L1063.4,161.2 L1065.6,156.6 L1067.7,152.4 L1069.9,148.5 L1072.0,145.0 L1074.2,141.8 L1076.3,138.9 L1078.4,136.4 L1080.6,134.1 L1082.7,132.0 L1084.9,130.2 L1087.0,128.6 L1089.2,127.2 L1091.3,126.0 L1093.5,124.9 L1095.6,124.0 L1097.8,123.2 L1099.9,122.6 L1102.1,122.1 L1104.2,121.7 L1106.4,121.4 L1108.5,121.1 L1110.6,121.0 L1112.8,120.9 L1114.9,120.9 L1117.1,120.9 L1119.2,121.0 L1121.4,121.1 L1123.5,121.3 L1125.7,121.5 L1127.8,121.7 L1130.0,122.0 L1132.1,122.3 L1134.3,122.6 L1136.4,123.0 L1138.6,123.3 L1140.7,123.7 L1142.9,124.1 L1145.0,124.5 L1147.1,124.9 L1149.3,125.4 L1151.4,125.8 L1153.6,126.2 L1155.7,126.7 L1157.9,127.1 L1160.0,127.6 L1162.2,128.0 L1164.3,128.5 L1166.5,128.9 L1168.6,129.3 L1170.8,129.8 L1172.9,130.2 L1175.1,130.7 L1177.2,131.1 L1179.3,131.6 L1181.5,132.0 L1183.6,132.4 L1185.8,132.9 L1187.9,133.3 L1190.1,133.7 L1192.2,134.1 L1194.4,134.5 L1196.5,134.9 L1198.7,135.3 L1200.8,135.7 L1203.0,136.1 L1205.1,136.5 L1207.3,136.9 L1209.4,137.2 L1211.5,137.6 L1213.7,137.9 L1215.8,138.3 L1218.0,138.7 L1220.1,139.0 L1222.3,139.3 L1224.4,139.7 L1226.6,140.0 L1228.7,140.3 L1230.9,140.6 L1233.0,140.9 L1235.2,141.3 L1237.3,141.6 L1239.5,141.9 L1241.6,142.1" fill="none" stroke="#00ffff" stroke-width="2.7" stroke-linejoin="round" stroke-linecap="round"/>
<path d="M815.0,193.0 V206.2 M811.0,193.0 h8 M811.0,206.2 h8" stroke="#72ffff" stroke-width="1" fill="none"/>
<circle cx="815.0" cy="199.6" r="5" fill="none" stroke="#72ffff" stroke-width="1.0"/>
<path d="M821.2,183.4 V202.2 M817.2,183.4 h8 M817.2,202.2 h8" stroke="#72ffff" stroke-width="1" fill="none"/>
<circle cx="821.2" cy="192.8" r="5" fill="none" stroke="#72ffff" stroke-width="1.0"/>
<path d="M827.5,182.5 V191.9 M823.5,182.5 h8 M823.5,191.9 h8" stroke="#72ffff" stroke-width="1" fill="none"/>
<circle cx="827.5" cy="187.2" r="5" fill="none" stroke="#72ffff" stroke-width="1.0"/>
<path d="M833.7,181.7 V224.9 M829.7,181.7 h8 M829.7,224.9 h8" stroke="#72ffff" stroke-width="1" fill="none"/>
<circle cx="833.7" cy="203.3" r="5" fill="none" stroke="#72ffff" stroke-width="1.0"/>
<path d="M839.9,216.5 V223.9 M835.9,216.5 h8 M835.9,223.9 h8" stroke="#72ffff" stroke-width="1" fill="none"/>
<circle cx="839.9" cy="220.2" r="5" fill="none" stroke="#72ffff" stroke-width="1.0"/>
<path d="M846.3,187.8 V195.2 M842.3,187.8 h8 M842.3,195.2 h8" stroke="#72ffff" stroke-width="1" fill="none"/>
<circle cx="846.3" cy="191.5" r="5" fill="none" stroke="#72ffff" stroke-width="1.0"/>
<path d="M852.5,195.3 V202.7 M848.5,195.3 h8 M848.5,202.7 h8" stroke="#72ffff" stroke-width="1" fill="none"/>
<circle cx="852.5" cy="199.0" r="5" fill="none" stroke="#72ffff" stroke-width="1.0"/>
<path d="M858.7,204.1 V215.3 M854.7,204.1 h8 M854.7,215.3 h8" stroke="#72ffff" stroke-width="1" fill="none"/>
<circle cx="858.7" cy="209.7" r="5" fill="none" stroke="#72ffff" stroke-width="1.0"/>
<path d="M865.0,195.3 V202.7 M861.0,195.3 h8 M861.0,202.7 h8" stroke="#72ffff" stroke-width="1" fill="none"/>
<circle cx="865.0" cy="199.0" r="5" fill="none" stroke="#72ffff" stroke-width="1.0"/>
<path d="M871.2,200.0 V207.4 M867.2,200.0 h8 M867.2,207.4 h8" stroke="#72ffff" stroke-width="1" fill="none"/>
<circle cx="871.2" cy="203.7" r="5" fill="none" stroke="#72ffff" stroke-width="1.0"/>
<path d="M877.4,204.7 V212.1 M873.4,204.7 h8 M873.4,212.1 h8" stroke="#72ffff" stroke-width="1" fill="none"/>
<circle cx="877.4" cy="208.4" r="5" fill="none" stroke="#72ffff" stroke-width="1.0"/>
<path d="M883.8,190.2 V212.6 M879.8,190.2 h8 M879.8,212.6 h8" stroke="#72ffff" stroke-width="1" fill="none"/>
<circle cx="883.8" cy="201.4" r="5" fill="none" stroke="#72ffff" stroke-width="1.0"/>
<path d="M890.0,189.7 V195.3 M886.0,189.7 h8 M886.0,195.3 h8" stroke="#72ffff" stroke-width="1" fill="none"/>
<circle cx="890.0" cy="192.5" r="5" fill="none" stroke="#72ffff" stroke-width="1.0"/>
<path d="M896.1,197.2 V204.6 M892.1,197.2 h8 M892.1,204.6 h8" stroke="#72ffff" stroke-width="1" fill="none"/>
<circle cx="896.1" cy="200.9" r="5" fill="none" stroke="#72ffff" stroke-width="1.0"/>
<path d="M902.5,210.3 V217.7 M898.5,210.3 h8 M898.5,217.7 h8" stroke="#72ffff" stroke-width="1" fill="none"/>
<circle cx="902.5" cy="214.0" r="5" fill="none" stroke="#72ffff" stroke-width="1.0"/>
<path d="M908.7,201.9 V209.3 M904.7,201.9 h8 M904.7,209.3 h8" stroke="#72ffff" stroke-width="1" fill="none"/>
<circle cx="908.7" cy="205.6" r="5" fill="none" stroke="#72ffff" stroke-width="1.0"/>
<path d="M914.9,212.2 V223.4 M910.9,212.2 h8 M910.9,223.4 h8" stroke="#72ffff" stroke-width="1" fill="none"/>
<circle cx="914.9" cy="217.8" r="5" fill="none" stroke="#72ffff" stroke-width="1.0"/>
<path d="M921.3,209.3 V224.3 M917.3,209.3 h8 M917.3,224.3 h8" stroke="#72ffff" stroke-width="1" fill="none"/>
<circle cx="921.3" cy="216.8" r="5" fill="none" stroke="#72ffff" stroke-width="1.0"/>
<path d="M927.4,220.6 V228.0 M923.4,220.6 h8 M923.4,228.0 h8" stroke="#72ffff" stroke-width="1" fill="none"/>
<circle cx="927.4" cy="224.3" r="5" fill="none" stroke="#72ffff" stroke-width="1.0"/>
<path d="M933.6,204.7 V212.1 M929.6,204.7 h8 M929.6,212.1 h8" stroke="#72ffff" stroke-width="1" fill="none"/>
<circle cx="933.6" cy="208.4" r="5" fill="none" stroke="#72ffff" stroke-width="1.0"/>
<path d="M940.0,215.4 V222.8 M936.0,215.4 h8 M936.0,222.8 h8" stroke="#72ffff" stroke-width="1" fill="none"/>
<circle cx="940.0" cy="219.1" r="5" fill="none" stroke="#72ffff" stroke-width="1.0"/>
<path d="M946.2,203.7 V211.1 M942.2,203.7 h8 M942.2,211.1 h8" stroke="#72ffff" stroke-width="1" fill="none"/>
<circle cx="946.2" cy="207.4" r="5" fill="none" stroke="#72ffff" stroke-width="1.0"/>
<path d="M952.4,203.7 V211.1 M948.4,203.7 h8 M948.4,211.1 h8" stroke="#72ffff" stroke-width="1" fill="none"/>
<circle cx="952.4" cy="207.4" r="5" fill="none" stroke="#72ffff" stroke-width="1.0"/>
<path d="M958.7,217.8 V225.2 M954.7,217.8 h8 M954.7,225.2 h8" stroke="#72ffff" stroke-width="1" fill="none"/>
<circle cx="958.7" cy="221.5" r="5" fill="none" stroke="#72ffff" stroke-width="1.0"/>
<path d="M964.9,203.7 V233.7 M960.9,203.7 h8 M960.9,233.7 h8" stroke="#72ffff" stroke-width="1" fill="none"/>
<circle cx="964.9" cy="218.7" r="5" fill="none" stroke="#72ffff" stroke-width="1.0"/>
<path d="M971.1,206.6 V214.0 M967.1,206.6 h8 M967.1,214.0 h8" stroke="#72ffff" stroke-width="1" fill="none"/>
<circle cx="971.1" cy="210.3" r="5" fill="none" stroke="#72ffff" stroke-width="1.0"/>
<path d="M977.5,206.6 V214.0 M973.5,206.6 h8 M973.5,214.0 h8" stroke="#72ffff" stroke-width="1" fill="none"/>
<circle cx="977.5" cy="210.3" r="5" fill="none" stroke="#72ffff" stroke-width="1.0"/>
<path d="M983.7,207.5 V214.9 M979.7,207.5 h8 M979.7,214.9 h8" stroke="#72ffff" stroke-width="1" fill="none"/>
<circle cx="983.7" cy="211.2" r="5" fill="none" stroke="#72ffff" stroke-width="1.0"/>
<path d="M989.8,234.1 V241.5 M985.8,234.1 h8 M985.8,241.5 h8" stroke="#72ffff" stroke-width="1" fill="none"/>
<circle cx="989.8" cy="237.8" r="5" fill="none" stroke="#72ffff" stroke-width="1.0"/>
<path d="M996.2,254.7 V262.1 M992.2,254.7 h8 M992.2,262.1 h8" stroke="#72ffff" stroke-width="1" fill="none"/>
<circle cx="996.2" cy="258.4" r="5" fill="none" stroke="#72ffff" stroke-width="1.0"/>
<path d="M1002.4,278.3 V285.7 M998.4,278.3 h8 M998.4,285.7 h8" stroke="#72ffff" stroke-width="1" fill="none"/>
<circle cx="1002.4" cy="282.0" r="5" fill="none" stroke="#72ffff" stroke-width="1.0"/>
<path d="M1008.6,294.6 V302.0 M1004.6,294.6 h8 M1004.6,302.0 h8" stroke="#72ffff" stroke-width="1" fill="none"/>
<circle cx="1008.6" cy="298.3" r="5" fill="none" stroke="#72ffff" stroke-width="1.0"/>
<path d="M1015.0,309.4 V316.8 M1011.0,309.4 h8 M1011.0,316.8 h8" stroke="#72ffff" stroke-width="1" fill="none"/>
<circle cx="1015.0" cy="313.1" r="5" fill="none" stroke="#72ffff" stroke-width="1.0"/>
<path d="M1021.1,322.5 V328.1 M1017.1,322.5 h8 M1017.1,328.1 h8" stroke="#72ffff" stroke-width="1" fill="none"/>
<circle cx="1021.1" cy="325.3" r="5" fill="none" stroke="#72ffff" stroke-width="1.0"/>
<path d="M1027.7,321.5 V327.1 M1023.7,321.5 h8 M1023.7,327.1 h8" stroke="#72ffff" stroke-width="1" fill="none"/>
<circle cx="1027.7" cy="324.3" r="5" fill="none" stroke="#72ffff" stroke-width="1.0"/>
<path d="M1033.9,322.5 V328.1 M1029.9,322.5 h8 M1029.9,328.1 h8" stroke="#72ffff" stroke-width="1" fill="none"/>
<circle cx="1033.9" cy="325.3" r="5" fill="none" stroke="#72ffff" stroke-width="1.0"/>
<path d="M1039.9,320.6 V326.2 M1035.9,320.6 h8 M1035.9,326.2 h8" stroke="#72ffff" stroke-width="1" fill="none"/>
<circle cx="1039.9" cy="323.4" r="5" fill="none" stroke="#72ffff" stroke-width="1.0"/>
<path d="M1046.4,323.4 V329.0 M1042.4,323.4 h8 M1042.4,329.0 h8" stroke="#72ffff" stroke-width="1" fill="none"/>
<circle cx="1046.4" cy="326.2" r="5" fill="none" stroke="#72ffff" stroke-width="1.0"/>
<path d="M1053.4,301.9 V307.5 M1049.4,301.9 h8 M1049.4,307.5 h8" stroke="#72ffff" stroke-width="1" fill="none"/>
<circle cx="1053.4" cy="304.7" r="5" fill="none" stroke="#72ffff" stroke-width="1.0"/>
<path d="M1059.1,291.8 V297.4 M1055.1,291.8 h8 M1055.1,297.4 h8" stroke="#72ffff" stroke-width="1" fill="none"/>
<circle cx="1059.1" cy="294.6" r="5" fill="none" stroke="#72ffff" stroke-width="1.0"/>
<path d="M1065.6,270.2 V275.8 M1061.6,270.2 h8 M1061.6,275.8 h8" stroke="#72ffff" stroke-width="1" fill="none"/>
<circle cx="1065.6" cy="273.0" r="5" fill="none" stroke="#72ffff" stroke-width="1.0"/>
<path d="M1071.8,242.1 V260.9 M1067.8,242.1 h8 M1067.8,260.9 h8" stroke="#72ffff" stroke-width="1" fill="none"/>
<circle cx="1071.8" cy="251.5" r="5" fill="none" stroke="#72ffff" stroke-width="1.0"/>
<path d="M1077.8,206.6 V214.0 M1073.8,206.6 h8 M1073.8,214.0 h8" stroke="#72ffff" stroke-width="1" fill="none"/>
<circle cx="1077.8" cy="210.3" r="5" fill="none" stroke="#72ffff" stroke-width="1.0"/>
<path d="M1084.4,191.5 V202.7 M1080.4,191.5 h8 M1080.4,202.7 h8" stroke="#72ffff" stroke-width="1" fill="none"/>
<circle cx="1084.4" cy="197.1" r="5" fill="none" stroke="#72ffff" stroke-width="1.0"/>
<path d="M1090.5,190.6 V198.0 M1086.5,190.6 h8 M1086.5,198.0 h8" stroke="#72ffff" stroke-width="1" fill="none"/>
<circle cx="1090.5" cy="194.3" r="5" fill="none" stroke="#72ffff" stroke-width="1.0"/>
<path d="M1096.9,174.7 V185.9 M1092.9,174.7 h8 M1092.9,185.9 h8" stroke="#72ffff" stroke-width="1" fill="none"/>
<circle cx="1096.9" cy="180.3" r="5" fill="none" stroke="#72ffff" stroke-width="1.0"/>
<path d="M1103.1,169.6 V177.0 M1099.1,169.6 h8 M1099.1,177.0 h8" stroke="#72ffff" stroke-width="1" fill="none"/>
<circle cx="1103.1" cy="173.3" r="5" fill="none" stroke="#72ffff" stroke-width="1.0"/>
<path d="M1109.3,168.1 V179.3 M1105.3,168.1 h8 M1105.3,179.3 h8" stroke="#72ffff" stroke-width="1" fill="none"/>
<circle cx="1109.3" cy="173.7" r="5" fill="none" stroke="#72ffff" stroke-width="1.0"/>
<path d="M1115.7,177.1 V184.5 M1111.7,177.1 h8 M1111.7,184.5 h8" stroke="#72ffff" stroke-width="1" fill="none"/>
<circle cx="1115.7" cy="180.8" r="5" fill="none" stroke="#72ffff" stroke-width="1.0"/>
<path d="M1121.8,180.9 V188.3 M1117.8,180.9 h8 M1117.8,188.3 h8" stroke="#72ffff" stroke-width="1" fill="none"/>
<circle cx="1121.8" cy="184.6" r="5" fill="none" stroke="#72ffff" stroke-width="1.0"/>
<path d="M1128.0,192.5 V199.9 M1124.0,192.5 h8 M1124.0,199.9 h8" stroke="#72ffff" stroke-width="1" fill="none"/>
<circle cx="1128.0" cy="196.2" r="5" fill="none" stroke="#72ffff" stroke-width="1.0"/>
<path d="M1134.4,180.3 V187.7 M1130.4,180.3 h8 M1130.4,187.7 h8" stroke="#72ffff" stroke-width="1" fill="none"/>
<circle cx="1134.4" cy="184.0" r="5" fill="none" stroke="#72ffff" stroke-width="1.0"/>
<path d="M1140.6,189.1 V200.3 M1136.6,189.1 h8 M1136.6,200.3 h8" stroke="#72ffff" stroke-width="1" fill="none"/>
<circle cx="1140.6" cy="194.7" r="5" fill="none" stroke="#72ffff" stroke-width="1.0"/>
<path d="M1146.8,190.6 V198.0 M1142.8,190.6 h8 M1142.8,198.0 h8" stroke="#72ffff" stroke-width="1" fill="none"/>
<circle cx="1146.8" cy="194.3" r="5" fill="none" stroke="#72ffff" stroke-width="1.0"/>
<path d="M1153.1,173.4 V195.8 M1149.1,173.4 h8 M1149.1,195.8 h8" stroke="#72ffff" stroke-width="1" fill="none"/>
<circle cx="1153.1" cy="184.6" r="5" fill="none" stroke="#72ffff" stroke-width="1.0"/>
<path d="M1159.3,189.7 V212.1 M1155.3,189.7 h8 M1155.3,212.1 h8" stroke="#72ffff" stroke-width="1" fill="none"/>
<circle cx="1159.3" cy="200.9" r="5" fill="none" stroke="#72ffff" stroke-width="1.0"/>
<path d="M1165.5,185.0 V192.4 M1161.5,185.0 h8 M1161.5,192.4 h8" stroke="#72ffff" stroke-width="1" fill="none"/>
<circle cx="1165.5" cy="188.7" r="5" fill="none" stroke="#72ffff" stroke-width="1.0"/>
<path d="M1171.9,188.7 V203.7 M1167.9,188.7 h8 M1167.9,203.7 h8" stroke="#72ffff" stroke-width="1" fill="none"/>
<circle cx="1171.9" cy="196.2" r="5" fill="none" stroke="#72ffff" stroke-width="1.0"/>
<path d="M1178.1,190.6 V201.8 M1174.1,190.6 h8 M1174.1,201.8 h8" stroke="#72ffff" stroke-width="1" fill="none"/>
<circle cx="1178.1" cy="196.2" r="5" fill="none" stroke="#72ffff" stroke-width="1.0"/>
<path d="M1184.2,177.5 V183.1 M1180.2,177.5 h8 M1180.2,183.1 h8" stroke="#72ffff" stroke-width="1" fill="none"/>
<circle cx="1184.2" cy="180.3" r="5" fill="none" stroke="#72ffff" stroke-width="1.0"/>
<path d="M1190.6,192.5 V209.3 M1186.6,192.5 h8 M1186.6,209.3 h8" stroke="#72ffff" stroke-width="1" fill="none"/>
<circle cx="1190.6" cy="200.9" r="5" fill="none" stroke="#72ffff" stroke-width="1.0"/>
<path d="M1196.8,186.5 V193.9 M1192.8,186.5 h8 M1192.8,193.9 h8" stroke="#72ffff" stroke-width="1" fill="none"/>
<circle cx="1196.8" cy="190.2" r="5" fill="none" stroke="#72ffff" stroke-width="1.0"/>
<path d="M1203.0,187.8 V193.4 M1199.0,187.8 h8 M1199.0,193.4 h8" stroke="#72ffff" stroke-width="1" fill="none"/>
<circle cx="1203.0" cy="190.6" r="5" fill="none" stroke="#72ffff" stroke-width="1.0"/>
<path d="M1209.4,169.0 V187.8 M1205.4,169.0 h8 M1205.4,187.8 h8" stroke="#72ffff" stroke-width="1" fill="none"/>
<circle cx="1209.4" cy="178.4" r="5" fill="none" stroke="#72ffff" stroke-width="1.0"/>
<path d="M1215.5,202.2 V209.6 M1211.5,202.2 h8 M1211.5,209.6 h8" stroke="#72ffff" stroke-width="1" fill="none"/>
<circle cx="1215.5" cy="205.9" r="5" fill="none" stroke="#72ffff" stroke-width="1.0"/>
<path d="M1221.7,188.7 V207.5 M1217.7,188.7 h8 M1217.7,207.5 h8" stroke="#72ffff" stroke-width="1" fill="none"/>
<circle cx="1221.7" cy="198.1" r="5" fill="none" stroke="#72ffff" stroke-width="1.0"/>
<path d="M1228.1,170.0 V181.2 M1224.1,170.0 h8 M1224.1,181.2 h8" stroke="#72ffff" stroke-width="1" fill="none"/>
<circle cx="1228.1" cy="175.6" r="5" fill="none" stroke="#72ffff" stroke-width="1.0"/>
<path d="M1234.3,178.4 V189.6 M1230.3,178.4 h8 M1230.3,189.6 h8" stroke="#72ffff" stroke-width="1" fill="none"/>
<circle cx="1234.3" cy="184.0" r="5" fill="none" stroke="#72ffff" stroke-width="1.0"/>
<path d="M1240.8,182.2 V189.6 M1236.8,182.2 h8 M1236.8,189.6 h8" stroke="#72ffff" stroke-width="1" fill="none"/>
<circle cx="1240.8" cy="185.9" r="5" fill="none" stroke="#72ffff" stroke-width="1.0"/>
<path d="M814.4,201.4 L816.5,201.2 L818.7,201.0 L820.8,200.8 L823.0,200.6 L825.1,200.4 L827.3,200.2 L829.4,200.0 L831.6,199.7 L833.7,199.5 L835.9,199.3 L838.0,199.0 L840.2,198.8 L842.3,198.6 L844.5,198.3 L846.6,198.0 L848.7,197.8 L850.9,197.5 L853.0,197.3 L855.2,197.0 L857.3,196.7 L859.5,196.4 L861.6,196.2 L863.8,195.9 L865.9,195.6 L868.1,195.3 L870.2,195.0 L872.4,194.7 L874.5,194.4 L876.7,194.1 L878.8,193.8 L880.9,193.4 L883.1,193.1 L885.2,192.8 L887.4,192.5 L889.5,192.2 L891.7,191.9 L893.8,191.5 L896.0,191.2 L898.1,190.9 L900.3,190.6 L902.4,190.3 L904.6,190.0 L906.7,189.7 L908.9,189.5 L911.0,189.2 L913.1,189.0 L915.3,188.7 L917.4,188.5 L919.6,188.3 L921.7,188.1 L923.9,188.0 L926.0,187.9 L928.2,187.8 L930.3,187.8 L932.5,187.8 L934.6,187.8 L936.8,187.9 L938.9,188.1 L941.1,188.3 L943.2,188.7 L945.4,189.1 L947.5,189.5 L949.6,190.1 L951.8,190.8 L953.9,191.7 L956.1,192.6 L958.2,193.8 L960.4,195.0 L962.5,196.5 L964.7,198.1 L966.8,200.0 L969.0,202.1 L971.1,204.4 L973.3,206.9 L975.4,209.8 L977.6,212.9 L979.7,216.3 L981.8,220.1 L984.0,224.2 L986.1,228.6 L988.3,233.3 L990.4,238.4 L992.6,243.9 L994.7,249.6 L996.9,255.7 L999.0,262.1 L1001.2,268.7 L1003.3,275.5 L1005.5,282.4 L1007.6,289.4 L1009.8,296.4 L1011.9,303.2 L1014.0,309.8 L1016.2,316.1 L1018.3,322.0 L1020.5,327.2 L1022.6,331.8 L1024.8,335.5 L1026.9,338.3 L1029.1,340.2 L1031.2,340.9 L1033.4,340.3 L1035.5,338.7 L1037.7,336.0 L1039.8,332.4 L1042.0,328.0 L1044.1,322.8 L1046.2,317.1 L1048.4,310.8 L1050.5,304.2 L1052.7,297.4 L1054.8,290.5 L1057.0,283.5 L1059.1,276.5 L1061.3,269.7 L1063.4,263.1 L1065.6,256.7 L1067.7,250.5 L1069.9,244.7 L1072.0,239.2 L1074.2,234.1 L1076.3,229.3 L1078.4,224.8 L1080.6,220.7 L1082.7,216.9 L1084.9,213.4 L1087.0,210.2 L1089.2,207.4 L1091.3,204.7 L1093.5,202.4 L1095.6,200.3 L1097.8,198.4 L1099.9,196.7 L1102.1,195.2 L1104.2,193.9 L1106.4,192.8 L1108.5,191.8 L1110.6,191.0 L1112.8,190.2 L1114.9,189.6 L1117.1,189.1 L1119.2,188.7 L1121.4,188.4 L1123.5,188.1 L1125.7,187.9 L1127.8,187.8 L1130.0,187.8 L1132.1,187.8 L1134.3,187.8 L1136.4,187.9 L1138.6,188.0 L1140.7,188.1 L1142.9,188.3 L1145.0,188.5 L1147.1,188.7 L1149.3,188.9 L1151.4,189.2 L1153.6,189.4 L1155.7,189.7 L1157.9,190.0 L1160.0,190.3 L1162.2,190.6 L1164.3,190.9 L1166.5,191.2 L1168.6,191.5 L1170.8,191.8 L1172.9,192.1 L1175.1,192.4 L1177.2,192.8 L1179.3,193.1 L1181.5,193.4 L1183.6,193.7 L1185.8,194.0 L1187.9,194.3 L1190.1,194.6 L1192.2,194.9 L1194.4,195.2 L1196.5,195.5 L1198.7,195.8 L1200.8,196.1 L1203.0,196.4 L1205.1,196.7 L1207.3,196.9 L1209.4,197.2 L1211.5,197.5 L1213.7,197.8 L1215.8,198.0 L1218.0,198.3 L1220.1,198.5 L1222.3,198.8 L1224.4,199.0 L1226.6,199.2 L1228.7,199.5 L1230.9,199.7 L1233.0,199.9 L1235.2,200.1 L1237.3,200.4 L1239.5,200.6 L1241.6,200.8" fill="none" stroke="#00ffff" stroke-width="2.7" stroke-linejoin="round" stroke-linecap="round"/>
<path d="M815.0,245.8 V300.2 M811.0,245.8 h8 M811.0,300.2 h8" stroke="#72ffff" stroke-width="1" fill="none"/>
<rect x="810.9" y="268.9" width="8.2" height="8.2" fill="none" stroke="#72ffff" stroke-width="1.0"/>
<path d="M821.2,272.7 V280.1 M817.2,272.7 h8 M817.2,280.1 h8" stroke="#72ffff" stroke-width="1" fill="none"/>
<rect x="817.1" y="272.3" width="8.2" height="8.2" fill="none" stroke="#72ffff" stroke-width="1.0"/>
<path d="M827.5,264.7 V272.1 M823.5,264.7 h8 M823.5,272.1 h8" stroke="#72ffff" stroke-width="1" fill="none"/>
<rect x="823.4" y="264.3" width="8.2" height="8.2" fill="none" stroke="#72ffff" stroke-width="1.0"/>
<path d="M833.7,272.7 V280.1 M829.7,272.7 h8 M829.7,280.1 h8" stroke="#72ffff" stroke-width="1" fill="none"/>
<rect x="829.6" y="272.3" width="8.2" height="8.2" fill="none" stroke="#72ffff" stroke-width="1.0"/>
<path d="M839.9,269.3 V276.7 M835.9,269.3 h8 M835.9,276.7 h8" stroke="#72ffff" stroke-width="1" fill="none"/>
<rect x="835.8" y="268.9" width="8.2" height="8.2" fill="none" stroke="#72ffff" stroke-width="1.0"/>
<path d="M846.3,268.7 V278.1 M842.3,268.7 h8 M842.3,278.1 h8" stroke="#72ffff" stroke-width="1" fill="none"/>
<rect x="842.2" y="269.3" width="8.2" height="8.2" fill="none" stroke="#72ffff" stroke-width="1.0"/>
<path d="M852.5,274.0 V281.4 M848.5,274.0 h8 M848.5,281.4 h8" stroke="#72ffff" stroke-width="1" fill="none"/>
<rect x="848.4" y="273.6" width="8.2" height="8.2" fill="none" stroke="#72ffff" stroke-width="1.0"/>
<path d="M858.7,279.6 V287.0 M854.7,279.6 h8 M854.7,287.0 h8" stroke="#72ffff" stroke-width="1" fill="none"/>
<rect x="854.6" y="279.2" width="8.2" height="8.2" fill="none" stroke="#72ffff" stroke-width="1.0"/>
<path d="M865.0,277.8 V285.2 M861.0,277.8 h8 M861.0,285.2 h8" stroke="#72ffff" stroke-width="1" fill="none"/>
<rect x="860.9" y="277.4" width="8.2" height="8.2" fill="none" stroke="#72ffff" stroke-width="1.0"/>
<path d="M871.2,272.7 V280.1 M867.2,272.7 h8 M867.2,280.1 h8" stroke="#72ffff" stroke-width="1" fill="none"/>
<rect x="867.1" y="272.3" width="8.2" height="8.2" fill="none" stroke="#72ffff" stroke-width="1.0"/>
<path d="M877.4,269.3 V286.1 M873.4,269.3 h8 M873.4,286.1 h8" stroke="#72ffff" stroke-width="1" fill="none"/>
<rect x="873.3" y="273.6" width="8.2" height="8.2" fill="none" stroke="#72ffff" stroke-width="1.0"/>
<path d="M883.8,291.8 V301.2 M879.8,291.8 h8 M879.8,301.2 h8" stroke="#72ffff" stroke-width="1" fill="none"/>
<rect x="879.7" y="292.4" width="8.2" height="8.2" fill="none" stroke="#72ffff" stroke-width="1.0"/>
<path d="M890.0,267.8 V275.2 M886.0,267.8 h8 M886.0,275.2 h8" stroke="#72ffff" stroke-width="1" fill="none"/>
<rect x="885.9" y="267.4" width="8.2" height="8.2" fill="none" stroke="#72ffff" stroke-width="1.0"/>
<path d="M896.1,274.0 V281.4 M892.1,274.0 h8 M892.1,281.4 h8" stroke="#72ffff" stroke-width="1" fill="none"/>
<rect x="892.0" y="273.6" width="8.2" height="8.2" fill="none" stroke="#72ffff" stroke-width="1.0"/>
<path d="M902.5,257.1 V290.9 M898.5,257.1 h8 M898.5,290.9 h8" stroke="#72ffff" stroke-width="1" fill="none"/>
<rect x="898.4" y="269.9" width="8.2" height="8.2" fill="none" stroke="#72ffff" stroke-width="1.0"/>
<path d="M908.7,283.4 V290.8 M904.7,283.4 h8 M904.7,290.8 h8" stroke="#72ffff" stroke-width="1" fill="none"/>
<rect x="904.6" y="283.0" width="8.2" height="8.2" fill="none" stroke="#72ffff" stroke-width="1.0"/>
<path d="M914.9,279.6 V287.0 M910.9,279.6 h8 M910.9,287.0 h8" stroke="#72ffff" stroke-width="1" fill="none"/>
<rect x="910.8" y="279.2" width="8.2" height="8.2" fill="none" stroke="#72ffff" stroke-width="1.0"/>
<path d="M921.3,273.5 V295.9 M917.3,273.5 h8 M917.3,295.9 h8" stroke="#72ffff" stroke-width="1" fill="none"/>
<rect x="917.2" y="280.6" width="8.2" height="8.2" fill="none" stroke="#72ffff" stroke-width="1.0"/>
<path d="M927.4,283.4 V290.8 M923.4,283.4 h8 M923.4,290.8 h8" stroke="#72ffff" stroke-width="1" fill="none"/>
<rect x="923.3" y="283.0" width="8.2" height="8.2" fill="none" stroke="#72ffff" stroke-width="1.0"/>
<path d="M933.6,267.4 V293.6 M929.6,267.4 h8 M929.6,293.6 h8" stroke="#72ffff" stroke-width="1" fill="none"/>
<rect x="929.5" y="276.4" width="8.2" height="8.2" fill="none" stroke="#72ffff" stroke-width="1.0"/>
<path d="M940.0,287.1 V294.5 M936.0,287.1 h8 M936.0,294.5 h8" stroke="#72ffff" stroke-width="1" fill="none"/>
<rect x="935.9" y="286.7" width="8.2" height="8.2" fill="none" stroke="#72ffff" stroke-width="1.0"/>
<path d="M946.2,274.0 V289.0 M942.2,274.0 h8 M942.2,289.0 h8" stroke="#72ffff" stroke-width="1" fill="none"/>
<rect x="942.1" y="277.4" width="8.2" height="8.2" fill="none" stroke="#72ffff" stroke-width="1.0"/>
<path d="M952.4,286.2 V293.6 M948.4,286.2 h8 M948.4,293.6 h8" stroke="#72ffff" stroke-width="1" fill="none"/>
<rect x="948.3" y="285.8" width="8.2" height="8.2" fill="none" stroke="#72ffff" stroke-width="1.0"/>
<path d="M958.7,275.9 V283.3 M954.7,275.9 h8 M954.7,283.3 h8" stroke="#72ffff" stroke-width="1" fill="none"/>
<rect x="954.6" y="275.5" width="8.2" height="8.2" fill="none" stroke="#72ffff" stroke-width="1.0"/>
<path d="M964.9,267.5 V289.9 M960.9,267.5 h8 M960.9,289.9 h8" stroke="#72ffff" stroke-width="1" fill="none"/>
<rect x="960.8" y="274.6" width="8.2" height="8.2" fill="none" stroke="#72ffff" stroke-width="1.0"/>
<path d="M971.1,293.7 V301.1 M967.1,293.7 h8 M967.1,301.1 h8" stroke="#72ffff" stroke-width="1" fill="none"/>
<rect x="967.0" y="293.3" width="8.2" height="8.2" fill="none" stroke="#72ffff" stroke-width="1.0"/>
<path d="M977.5,322.1 V329.5 M973.5,322.1 h8 M973.5,329.5 h8" stroke="#72ffff" stroke-width="1" fill="none"/>
<rect x="973.4" y="321.7" width="8.2" height="8.2" fill="none" stroke="#72ffff" stroke-width="1.0"/>
<path d="M983.7,340.7 V346.3 M979.7,340.7 h8 M979.7,346.3 h8" stroke="#72ffff" stroke-width="1" fill="none"/>
<rect x="979.6" y="339.4" width="8.2" height="8.2" fill="none" stroke="#72ffff" stroke-width="1.0"/>
<path d="M990.2,365.6 V371.2 M986.2,365.6 h8 M986.2,371.2 h8" stroke="#72ffff" stroke-width="1" fill="none"/>
<rect x="986.1" y="364.3" width="8.2" height="8.2" fill="none" stroke="#72ffff" stroke-width="1.0"/>
<path d="M996.4,379.3 V384.9 M992.4,379.3 h8 M992.4,384.9 h8" stroke="#72ffff" stroke-width="1" fill="none"/>
<rect x="992.3" y="378.0" width="8.2" height="8.2" fill="none" stroke="#72ffff" stroke-width="1.0"/>
<path d="M1002.4,394.3 V399.9 M998.4,394.3 h8 M998.4,399.9 h8" stroke="#72ffff" stroke-width="1" fill="none"/>
<rect x="998.3" y="393.0" width="8.2" height="8.2" fill="none" stroke="#72ffff" stroke-width="1.0"/>
<path d="M1008.6,407.4 V413.0 M1004.6,407.4 h8 M1004.6,413.0 h8" stroke="#72ffff" stroke-width="1" fill="none"/>
<rect x="1004.5" y="406.1" width="8.2" height="8.2" fill="none" stroke="#72ffff" stroke-width="1.0"/>
<path d="M1015.0,410.6 V416.2 M1011.0,410.6 h8 M1011.0,416.2 h8" stroke="#72ffff" stroke-width="1" fill="none"/>
<rect x="1010.9" y="409.3" width="8.2" height="8.2" fill="none" stroke="#72ffff" stroke-width="1.0"/>
<path d="M1021.1,422.7 V428.3 M1017.1,422.7 h8 M1017.1,428.3 h8" stroke="#72ffff" stroke-width="1" fill="none"/>
<rect x="1017.0" y="421.4" width="8.2" height="8.2" fill="none" stroke="#72ffff" stroke-width="1.0"/>
<path d="M1027.7,422.7 V428.3 M1023.7,422.7 h8 M1023.7,428.3 h8" stroke="#72ffff" stroke-width="1" fill="none"/>
<rect x="1023.6" y="421.4" width="8.2" height="8.2" fill="none" stroke="#72ffff" stroke-width="1.0"/>
<path d="M1033.9,430.2 V435.8 M1029.9,430.2 h8 M1029.9,435.8 h8" stroke="#72ffff" stroke-width="1" fill="none"/>
<rect x="1029.8" y="428.9" width="8.2" height="8.2" fill="none" stroke="#72ffff" stroke-width="1.0"/>
<path d="M1039.9,422.7 V428.3 M1035.9,422.7 h8 M1035.9,428.3 h8" stroke="#72ffff" stroke-width="1" fill="none"/>
<rect x="1035.8" y="421.4" width="8.2" height="8.2" fill="none" stroke="#72ffff" stroke-width="1.0"/>
<path d="M1046.4,420.9 V426.5 M1042.4,420.9 h8 M1042.4,426.5 h8" stroke="#72ffff" stroke-width="1" fill="none"/>
<rect x="1042.3" y="419.6" width="8.2" height="8.2" fill="none" stroke="#72ffff" stroke-width="1.0"/>
<path d="M1046.9,421.8 V427.4 M1042.9,421.8 h8 M1042.9,427.4 h8" stroke="#72ffff" stroke-width="1" fill="none"/>
<rect x="1042.8" y="420.5" width="8.2" height="8.2" fill="none" stroke="#72ffff" stroke-width="1.0"/>
<path d="M1053.4,411.5 V417.1 M1049.4,411.5 h8 M1049.4,417.1 h8" stroke="#72ffff" stroke-width="1" fill="none"/>
<rect x="1049.3" y="410.2" width="8.2" height="8.2" fill="none" stroke="#72ffff" stroke-width="1.0"/>
<path d="M1059.0,402.1 V407.7 M1055.0,402.1 h8 M1055.0,407.7 h8" stroke="#72ffff" stroke-width="1" fill="none"/>
<rect x="1054.9" y="400.8" width="8.2" height="8.2" fill="none" stroke="#72ffff" stroke-width="1.0"/>
<path d="M1065.6,371.2 V382.4 M1061.6,371.2 h8 M1061.6,382.4 h8" stroke="#72ffff" stroke-width="1" fill="none"/>
<rect x="1061.5" y="372.7" width="8.2" height="8.2" fill="none" stroke="#72ffff" stroke-width="1.0"/>
<path d="M1071.2,357.1 V362.7 M1067.2,357.1 h8 M1067.2,362.7 h8" stroke="#72ffff" stroke-width="1" fill="none"/>
<rect x="1067.1" y="355.8" width="8.2" height="8.2" fill="none" stroke="#72ffff" stroke-width="1.0"/>
<path d="M1076.8,314.1 V336.5 M1072.8,314.1 h8 M1072.8,336.5 h8" stroke="#72ffff" stroke-width="1" fill="none"/>
<rect x="1072.7" y="321.2" width="8.2" height="8.2" fill="none" stroke="#72ffff" stroke-width="1.0"/>
<path d="M1083.4,300.0 V305.6 M1079.4,300.0 h8 M1079.4,305.6 h8" stroke="#72ffff" stroke-width="1" fill="none"/>
<rect x="1079.3" y="298.7" width="8.2" height="8.2" fill="none" stroke="#72ffff" stroke-width="1.0"/>
<path d="M1090.0,281.5 V287.1 M1086.0,281.5 h8 M1086.0,287.1 h8" stroke="#72ffff" stroke-width="1" fill="none"/>
<rect x="1085.9" y="280.2" width="8.2" height="8.2" fill="none" stroke="#72ffff" stroke-width="1.0"/>
<path d="M1096.2,255.8 V278.2 M1092.2,255.8 h8 M1092.2,278.2 h8" stroke="#72ffff" stroke-width="1" fill="none"/>
<rect x="1092.1" y="262.9" width="8.2" height="8.2" fill="none" stroke="#72ffff" stroke-width="1.0"/>
<path d="M1102.5,246.8 V280.6 M1098.5,246.8 h8 M1098.5,280.6 h8" stroke="#72ffff" stroke-width="1" fill="none"/>
<rect x="1098.4" y="259.6" width="8.2" height="8.2" fill="none" stroke="#72ffff" stroke-width="1.0"/>
<path d="M1108.7,257.7 V265.1 M1104.7,257.7 h8 M1104.7,265.1 h8" stroke="#72ffff" stroke-width="1" fill="none"/>
<rect x="1104.6" y="257.3" width="8.2" height="8.2" fill="none" stroke="#72ffff" stroke-width="1.0"/>
<path d="M1114.9,256.2 V263.6 M1110.9,256.2 h8 M1110.9,263.6 h8" stroke="#72ffff" stroke-width="1" fill="none"/>
<rect x="1110.8" y="255.8" width="8.2" height="8.2" fill="none" stroke="#72ffff" stroke-width="1.0"/>
<path d="M1121.3,256.2 V263.6 M1117.3,256.2 h8 M1117.3,263.6 h8" stroke="#72ffff" stroke-width="1" fill="none"/>
<rect x="1117.2" y="255.8" width="8.2" height="8.2" fill="none" stroke="#72ffff" stroke-width="1.0"/>
<path d="M1127.5,251.5 V273.9 M1123.5,251.5 h8 M1123.5,273.9 h8" stroke="#72ffff" stroke-width="1" fill="none"/>
<rect x="1123.4" y="258.6" width="8.2" height="8.2" fill="none" stroke="#72ffff" stroke-width="1.0"/>
<path d="M1133.6,251.5 V260.9 M1129.6,251.5 h8 M1129.6,260.9 h8" stroke="#72ffff" stroke-width="1" fill="none"/>
<rect x="1129.5" y="252.1" width="8.2" height="8.2" fill="none" stroke="#72ffff" stroke-width="1.0"/>
<path d="M1140.0,254.3 V261.7 M1136.0,254.3 h8 M1136.0,261.7 h8" stroke="#72ffff" stroke-width="1" fill="none"/>
<rect x="1135.9" y="253.9" width="8.2" height="8.2" fill="none" stroke="#72ffff" stroke-width="1.0"/>
<path d="M1146.2,259.5 V274.5 M1142.2,259.5 h8 M1142.2,274.5 h8" stroke="#72ffff" stroke-width="1" fill="none"/>
<rect x="1142.1" y="262.9" width="8.2" height="8.2" fill="none" stroke="#72ffff" stroke-width="1.0"/>
<path d="M1152.4,256.6 V264.0 M1148.4,256.6 h8 M1148.4,264.0 h8" stroke="#72ffff" stroke-width="1" fill="none"/>
<rect x="1148.3" y="256.2" width="8.2" height="8.2" fill="none" stroke="#72ffff" stroke-width="1.0"/>
<path d="M1158.8,254.7 V280.9 M1154.8,254.7 h8 M1154.8,280.9 h8" stroke="#72ffff" stroke-width="1" fill="none"/>
<rect x="1154.7" y="263.7" width="8.2" height="8.2" fill="none" stroke="#72ffff" stroke-width="1.0"/>
<path d="M1164.9,262.2 V269.6 M1160.9,262.2 h8 M1160.9,269.6 h8" stroke="#72ffff" stroke-width="1" fill="none"/>
<rect x="1160.8" y="261.8" width="8.2" height="8.2" fill="none" stroke="#72ffff" stroke-width="1.0"/>
<path d="M1171.1,259.9 V289.9 M1167.1,259.9 h8 M1167.1,289.9 h8" stroke="#72ffff" stroke-width="1" fill="none"/>
<rect x="1167.0" y="270.8" width="8.2" height="8.2" fill="none" stroke="#72ffff" stroke-width="1.0"/>
<path d="M1177.5,263.7 V271.1 M1173.5,263.7 h8 M1173.5,271.1 h8" stroke="#72ffff" stroke-width="1" fill="none"/>
<rect x="1173.4" y="263.3" width="8.2" height="8.2" fill="none" stroke="#72ffff" stroke-width="1.0"/>
<path d="M1183.7,257.2 V279.6 M1179.7,257.2 h8 M1179.7,279.6 h8" stroke="#72ffff" stroke-width="1" fill="none"/>
<rect x="1179.6" y="264.3" width="8.2" height="8.2" fill="none" stroke="#72ffff" stroke-width="1.0"/>
<path d="M1189.9,255.3 V262.7 M1185.9,255.3 h8 M1185.9,262.7 h8" stroke="#72ffff" stroke-width="1" fill="none"/>
<rect x="1185.8" y="254.9" width="8.2" height="8.2" fill="none" stroke="#72ffff" stroke-width="1.0"/>
<path d="M1196.2,264.6 V287.0 M1192.2,264.6 h8 M1192.2,287.0 h8" stroke="#72ffff" stroke-width="1" fill="none"/>
<rect x="1192.1" y="271.7" width="8.2" height="8.2" fill="none" stroke="#72ffff" stroke-width="1.0"/>
<path d="M1202.4,252.5 V274.9 M1198.4,252.5 h8 M1198.4,274.9 h8" stroke="#72ffff" stroke-width="1" fill="none"/>
<rect x="1198.3" y="259.6" width="8.2" height="8.2" fill="none" stroke="#72ffff" stroke-width="1.0"/>
<path d="M1208.6,260.9 V268.3 M1204.6,260.9 h8 M1204.6,268.3 h8" stroke="#72ffff" stroke-width="1" fill="none"/>
<rect x="1204.5" y="260.5" width="8.2" height="8.2" fill="none" stroke="#72ffff" stroke-width="1.0"/>
<path d="M1215.0,261.8 V284.2 M1211.0,261.8 h8 M1211.0,284.2 h8" stroke="#72ffff" stroke-width="1" fill="none"/>
<rect x="1210.9" y="268.9" width="8.2" height="8.2" fill="none" stroke="#72ffff" stroke-width="1.0"/>
<path d="M1221.2,263.3 V270.7 M1217.2,263.3 h8 M1217.2,270.7 h8" stroke="#72ffff" stroke-width="1" fill="none"/>
<rect x="1217.1" y="262.9" width="8.2" height="8.2" fill="none" stroke="#72ffff" stroke-width="1.0"/>
<path d="M1227.3,242.2 V264.6 M1223.3,242.2 h8 M1223.3,264.6 h8" stroke="#72ffff" stroke-width="1" fill="none"/>
<rect x="1223.2" y="249.3" width="8.2" height="8.2" fill="none" stroke="#72ffff" stroke-width="1.0"/>
<path d="M1233.7,260.8 V279.6 M1229.7,260.8 h8 M1229.7,279.6 h8" stroke="#72ffff" stroke-width="1" fill="none"/>
<rect x="1229.6" y="266.1" width="8.2" height="8.2" fill="none" stroke="#72ffff" stroke-width="1.0"/>
<path d="M1240.8,265.6 V288.0 M1236.8,265.6 h8 M1236.8,288.0 h8" stroke="#72ffff" stroke-width="1" fill="none"/>
<rect x="1236.7" y="272.7" width="8.2" height="8.2" fill="none" stroke="#72ffff" stroke-width="1.0"/>
<path d="M814.4,283.8 L816.5,283.0 L818.7,282.2 L820.8,281.4 L823.0,280.7 L825.1,279.9 L827.3,279.2 L829.4,278.5 L831.6,277.8 L833.7,277.1 L835.9,276.4 L838.0,275.8 L840.2,275.1 L842.3,274.5 L844.5,273.8 L846.6,273.2 L848.7,272.6 L850.9,272.0 L853.0,271.5 L855.2,270.9 L857.3,270.4 L859.5,269.8 L861.6,269.3 L863.8,268.8 L865.9,268.4 L868.1,267.9 L870.2,267.5 L872.4,267.0 L874.5,266.6 L876.7,266.2 L878.8,265.9 L880.9,265.5 L883.1,265.2 L885.2,264.9 L887.4,264.6 L889.5,264.4 L891.7,264.1 L893.8,263.9 L896.0,263.7 L898.1,263.6 L900.3,263.5 L902.4,263.4 L904.6,263.3 L906.7,263.3 L908.9,263.3 L911.0,263.3 L913.1,263.4 L915.3,263.5 L917.4,263.7 L919.6,263.9 L921.7,264.2 L923.9,264.5 L926.0,264.9 L928.2,265.3 L930.3,265.8 L932.5,266.3 L934.6,266.9 L936.8,267.6 L938.9,268.4 L941.1,269.2 L943.2,270.2 L945.4,271.2 L947.5,272.4 L949.6,273.6 L951.8,275.0 L953.9,276.5 L956.1,278.1 L958.2,279.9 L960.4,281.8 L962.5,283.9 L964.7,286.2 L966.8,288.7 L969.0,291.4 L971.1,294.3 L973.3,297.4 L975.4,300.8 L977.6,304.5 L979.7,308.5 L981.8,312.8 L984.0,317.3 L986.1,322.2 L988.3,327.5 L990.4,333.1 L992.6,339.0 L994.7,345.2 L996.9,351.8 L999.0,358.6 L1001.2,365.6 L1003.3,372.9 L1005.5,380.2 L1007.6,387.5 L1009.8,394.7 L1011.9,401.7 L1014.0,408.4 L1016.2,414.6 L1018.3,420.2 L1020.5,425.1 L1022.6,429.2 L1024.8,432.5 L1026.9,434.9 L1029.1,436.4 L1031.2,437.1 L1033.4,437.3 L1035.5,437.0 L1037.7,436.0 L1039.8,434.2 L1042.0,431.6 L1044.1,428.1 L1046.2,423.8 L1048.4,418.6 L1050.5,412.8 L1052.7,406.5 L1054.8,399.7 L1057.0,392.6 L1059.1,385.3 L1061.3,378.0 L1063.4,370.7 L1065.6,363.5 L1067.7,356.5 L1069.9,349.8 L1072.0,343.3 L1074.2,337.2 L1076.3,331.4 L1078.4,325.9 L1080.6,320.8 L1082.7,315.9 L1084.9,311.5 L1087.0,307.3 L1089.2,303.4 L1091.3,299.8 L1093.5,296.5 L1095.6,293.4 L1097.8,290.5 L1099.9,287.9 L1102.1,285.5 L1104.2,283.3 L1106.4,281.2 L1108.5,279.3 L1110.6,277.6 L1112.8,276.0 L1114.9,274.6 L1117.1,273.2 L1119.2,272.0 L1121.4,270.9 L1123.5,269.9 L1125.7,269.0 L1127.8,268.2 L1130.0,267.4 L1132.1,266.7 L1134.3,266.1 L1136.4,265.6 L1138.6,265.2 L1140.7,264.7 L1142.9,264.4 L1145.0,264.1 L1147.1,263.9 L1149.3,263.7 L1151.4,263.5 L1153.6,263.4 L1155.7,263.3 L1157.9,263.3 L1160.0,263.3 L1162.2,263.3 L1164.3,263.4 L1166.5,263.5 L1168.6,263.6 L1170.8,263.8 L1172.9,264.0 L1175.1,264.2 L1177.2,264.4 L1179.3,264.7 L1181.5,265.0 L1183.6,265.3 L1185.8,265.6 L1187.9,266.0 L1190.1,266.3 L1192.2,266.7 L1194.4,267.2 L1196.5,267.6 L1198.7,268.0 L1200.8,268.5 L1203.0,269.0 L1205.1,269.5 L1207.3,270.0 L1209.4,270.5 L1211.5,271.1 L1213.7,271.6 L1215.8,272.2 L1218.0,272.8 L1220.1,273.4 L1222.3,274.0 L1224.4,274.7 L1226.6,275.3 L1228.7,276.0 L1230.9,276.6 L1233.0,277.3 L1235.2,278.0 L1237.3,278.7 L1239.5,279.4 L1241.6,280.2" fill="none" stroke="#00ffff" stroke-width="2.7" stroke-linejoin="round" stroke-linecap="round"/>
<path d="M759.2,464.4 h9 M759.2,416.8 h4.5 M759.2,369.2 h9 M759.2,321.6 h4.5 M759.2,274.0 h9 M759.2,226.4 h4.5 M759.2,178.8 h9 M759.2,131.2 h4.5 M759.2,83.6 h9 M798.3,464.4 v-9 M837.4,464.4 v-4.5 M876.5,464.4 v-9 M915.6,464.4 v-4.5 M954.7,464.4 v-9 M993.8,464.4 v-4.5 M1032.8,464.4 v-9 M1071.9,464.4 v-4.5 M1111.0,464.4 v-9 M1150.1,464.4 v-4.5 M1189.2,464.4 v-9 M1228.3,464.4 v-4.5 M1267.4,464.4 v-9" stroke="#000" stroke-width="2.2" fill="none"/>
<rect x="759.2" y="71.8" width="547.3" height="392.6" fill="none" stroke="#000" stroke-width="2.2"/>
<text transform="translate(748.50,92.60) scale(1,1.05)" text-anchor="end" font-size="28">1.2</text>
<text transform="translate(748.50,187.80) scale(1,1.05)" text-anchor="end" font-size="28">0.8</text>
<text transform="translate(748.50,283.00) scale(1,1.05)" text-anchor="end" font-size="28">0.4</text>
<text transform="translate(748.50,378.20) scale(1,1.05)" text-anchor="end" font-size="28">0.0</text>
<text transform="translate(748.50,473.40) scale(1,1.05)" text-anchor="end" font-size="28">-0.4</text>
<text transform="translate(798.29,495.50) scale(1,1.05)" text-anchor="middle" font-size="28">-150</text>
<text transform="translate(876.48,495.50) scale(1,1.05)" text-anchor="middle" font-size="28">-100</text>
<text transform="translate(954.66,495.50) scale(1,1.05)" text-anchor="middle" font-size="28">-50</text>
<text transform="translate(1032.85,495.50) scale(1,1.05)" text-anchor="middle" font-size="28">0</text>
<text transform="translate(1111.04,495.50) scale(1,1.05)" text-anchor="middle" font-size="28">50</text>
<text transform="translate(1189.22,495.50) scale(1,1.05)" text-anchor="middle" font-size="28">100</text>
<text transform="translate(1267.41,495.50) scale(1,1.05)" text-anchor="middle" font-size="28">150</text>
<text transform="translate(701.00,56.00) scale(1,1.05)" font-size="35">(b)</text>
<text transform="translate(1032.50,528.70) scale(1,1.05)" text-anchor="middle" font-size="35.25">z (mm)</text>
<text transform="translate(706.3,266.2) rotate(-90) scale(1,1.05)" text-anchor="middle" font-size="34.8">Normalized transmission</text>
<path d="M1113.5,355.0 L1119.1,365.0 L1107.9,365.0 Z" fill="none" stroke="#72ffff" stroke-width="1.1"/>
<text transform="translate(1145.00,369.50) scale(1,1.05)" font-size="28">0.11</text>
<circle cx="1113.5" cy="395.0" r="5" fill="none" stroke="#72ffff" stroke-width="1.1"/>
<text transform="translate(1145.00,404.50) scale(1,1.05)" font-size="28">0.36</text>
<rect x="1109.4" y="428.4" width="8.2" height="8.2" fill="none" stroke="#72ffff" stroke-width="1.1"/>
<text transform="translate(1145.00,442.00) scale(1,1.05)" font-size="28">0.64 GW/cm<tspan font-size="17" dy="-13">2</tspan></text>
<text transform="translate(794.50,387.00) scale(1,1.05)" font-size="25" style="font-weight:normal">λ</text>
<text transform="translate(808.00,397.50) scale(1,1.05)" font-size="16" style="font-weight:normal">ex</text>
<text transform="translate(830.00,387.00) scale(1,1.05)" font-size="27.3">= 500 nm</text>
<text transform="translate(794.50,429.00) scale(1,1.05)" font-size="27.5">T</text>
<text transform="translate(832.50,429.00) scale(1,1.05)" font-size="27.5">= 33.2%</text>
<path d="M150.1,658.1 V669.3 M146.1,658.1 h8 M146.1,669.3 h8" stroke="#72ff72" stroke-width="1" fill="none"/>
<path d="M150.1,658.7 L155.7,668.7 L144.5,668.7 Z" fill="none" stroke="#72ff72" stroke-width="1.0"/>
<path d="M156.2,666.6 V674.0 M152.2,666.6 h8 M152.2,674.0 h8" stroke="#72ff72" stroke-width="1" fill="none"/>
<path d="M156.2,665.3 L161.8,675.3 L150.6,675.3 Z" fill="none" stroke="#72ff72" stroke-width="1.0"/>
<path d="M162.4,654.4 V661.8 M158.4,654.4 h8 M158.4,661.8 h8" stroke="#72ff72" stroke-width="1" fill="none"/>
<path d="M162.4,653.1 L168.0,663.1 L156.8,663.1 Z" fill="none" stroke="#72ff72" stroke-width="1.0"/>
<path d="M168.8,655.3 V662.7 M164.8,655.3 h8 M164.8,662.7 h8" stroke="#72ff72" stroke-width="1" fill="none"/>
<path d="M168.8,654.0 L174.4,664.0 L163.2,664.0 Z" fill="none" stroke="#72ff72" stroke-width="1.0"/>
<path d="M175.0,651.5 V670.3 M171.0,651.5 h8 M171.0,670.3 h8" stroke="#72ff72" stroke-width="1" fill="none"/>
<path d="M175.0,655.9 L180.6,665.9 L169.4,665.9 Z" fill="none" stroke="#72ff72" stroke-width="1.0"/>
<path d="M181.2,658.2 V665.6 M177.2,658.2 h8 M177.2,665.6 h8" stroke="#72ff72" stroke-width="1" fill="none"/>
<path d="M181.2,656.9 L186.8,666.9 L175.6,666.9 Z" fill="none" stroke="#72ff72" stroke-width="1.0"/>
<path d="M187.5,656.6 V667.8 M183.5,656.6 h8 M183.5,667.8 h8" stroke="#72ff72" stroke-width="1" fill="none"/>
<path d="M187.5,657.2 L193.1,667.2 L181.9,667.2 Z" fill="none" stroke="#72ff72" stroke-width="1.0"/>
<path d="M193.7,669.8 V677.2 M189.7,669.8 h8 M189.7,677.2 h8" stroke="#72ff72" stroke-width="1" fill="none"/>
<path d="M193.7,668.5 L199.3,678.5 L188.1,678.5 Z" fill="none" stroke="#72ff72" stroke-width="1.0"/>
<path d="M199.9,666.6 V683.4 M195.9,666.6 h8 M195.9,683.4 h8" stroke="#72ff72" stroke-width="1" fill="none"/>
<path d="M199.9,670.0 L205.5,680.0 L194.3,680.0 Z" fill="none" stroke="#72ff72" stroke-width="1.0"/>
<path d="M206.3,653.4 V696.6 M202.3,653.4 h8 M202.3,696.6 h8" stroke="#72ff72" stroke-width="1" fill="none"/>
<path d="M206.3,670.0 L211.9,680.0 L200.7,680.0 Z" fill="none" stroke="#72ff72" stroke-width="1.0"/>
<path d="M212.5,669.8 V677.2 M208.5,669.8 h8 M208.5,677.2 h8" stroke="#72ff72" stroke-width="1" fill="none"/>
<path d="M212.5,668.5 L218.1,678.5 L206.9,678.5 Z" fill="none" stroke="#72ff72" stroke-width="1.0"/>
<path d="M220.9,665.6 V682.4 M216.9,665.6 h8 M216.9,682.4 h8" stroke="#72ff72" stroke-width="1" fill="none"/>
<path d="M220.9,669.0 L226.5,679.0 L215.3,679.0 Z" fill="none" stroke="#72ff72" stroke-width="1.0"/>
<path d="M227.5,637.5 V659.9 M223.5,637.5 h8 M223.5,659.9 h8" stroke="#72ff72" stroke-width="1" fill="none"/>
<path d="M227.5,643.7 L233.1,653.7 L221.9,653.7 Z" fill="none" stroke="#72ff72" stroke-width="1.0"/>
<path d="M233.6,670.3 V677.7 M229.6,670.3 h8 M229.6,677.7 h8" stroke="#72ff72" stroke-width="1" fill="none"/>
<path d="M233.6,669.0 L239.2,679.0 L228.0,679.0 Z" fill="none" stroke="#72ff72" stroke-width="1.0"/>
<path d="M240.0,655.3 V666.5 M236.0,655.3 h8 M236.0,666.5 h8" stroke="#72ff72" stroke-width="1" fill="none"/>
<path d="M240.0,655.9 L245.6,665.9 L234.4,665.9 Z" fill="none" stroke="#72ff72" stroke-width="1.0"/>
<path d="M246.2,669.0 V676.4 M242.2,669.0 h8 M242.2,676.4 h8" stroke="#72ff72" stroke-width="1" fill="none"/>
<path d="M246.2,667.7 L251.8,677.7 L240.6,677.7 Z" fill="none" stroke="#72ff72" stroke-width="1.0"/>
<path d="M252.4,661.9 V669.3 M248.4,661.9 h8 M248.4,669.3 h8" stroke="#72ff72" stroke-width="1" fill="none"/>
<path d="M252.4,660.6 L258.0,670.6 L246.8,670.6 Z" fill="none" stroke="#72ff72" stroke-width="1.0"/>
<path d="M258.7,661.5 V668.9 M254.7,661.5 h8 M254.7,668.9 h8" stroke="#72ff72" stroke-width="1" fill="none"/>
<path d="M258.7,660.2 L264.3,670.2 L253.1,670.2 Z" fill="none" stroke="#72ff72" stroke-width="1.0"/>
<path d="M264.9,665.7 V673.1 M260.9,665.7 h8 M260.9,673.1 h8" stroke="#72ff72" stroke-width="1" fill="none"/>
<path d="M264.9,664.4 L270.5,674.4 L259.3,674.4 Z" fill="none" stroke="#72ff72" stroke-width="1.0"/>
<path d="M271.1,669.8 V681.0 M267.1,669.8 h8 M267.1,681.0 h8" stroke="#72ff72" stroke-width="1" fill="none"/>
<path d="M271.1,670.4 L276.7,680.4 L265.5,680.4 Z" fill="none" stroke="#72ff72" stroke-width="1.0"/>
<path d="M277.5,661.9 V669.3 M273.5,661.9 h8 M273.5,669.3 h8" stroke="#72ff72" stroke-width="1" fill="none"/>
<path d="M277.5,660.6 L283.1,670.6 L271.9,670.6 Z" fill="none" stroke="#72ff72" stroke-width="1.0"/>
<path d="M283.7,661.0 V668.4 M279.7,661.0 h8 M279.7,668.4 h8" stroke="#72ff72" stroke-width="1" fill="none"/>
<path d="M283.7,659.7 L289.3,669.7 L278.1,669.7 Z" fill="none" stroke="#72ff72" stroke-width="1.0"/>
<path d="M289.9,660.0 V667.4 M285.9,660.0 h8 M285.9,667.4 h8" stroke="#72ff72" stroke-width="1" fill="none"/>
<path d="M289.9,658.7 L295.5,668.7 L284.3,668.7 Z" fill="none" stroke="#72ff72" stroke-width="1.0"/>
<path d="M296.2,658.5 V665.9 M292.2,658.5 h8 M292.2,665.9 h8" stroke="#72ff72" stroke-width="1" fill="none"/>
<path d="M296.2,657.2 L301.8,667.2 L290.6,667.2 Z" fill="none" stroke="#72ff72" stroke-width="1.0"/>
<path d="M302.4,664.7 V672.1 M298.4,664.7 h8 M298.4,672.1 h8" stroke="#72ff72" stroke-width="1" fill="none"/>
<path d="M302.4,663.4 L308.0,673.4 L296.8,673.4 Z" fill="none" stroke="#72ff72" stroke-width="1.0"/>
<path d="M308.6,667.2 V674.6 M304.6,667.2 h8 M304.6,674.6 h8" stroke="#72ff72" stroke-width="1" fill="none"/>
<path d="M308.6,665.9 L314.2,675.9 L303.0,675.9 Z" fill="none" stroke="#72ff72" stroke-width="1.0"/>
<path d="M315.0,663.8 V671.2 M311.0,663.8 h8 M311.0,671.2 h8" stroke="#72ff72" stroke-width="1" fill="none"/>
<path d="M315.0,662.5 L320.6,672.5 L309.4,672.5 Z" fill="none" stroke="#72ff72" stroke-width="1.0"/>
<path d="M321.2,662.2 V681.0 M317.2,662.2 h8 M317.2,681.0 h8" stroke="#72ff72" stroke-width="1" fill="none"/>
<path d="M321.2,666.6 L326.8,676.6 L315.6,676.6 Z" fill="none" stroke="#72ff72" stroke-width="1.0"/>
<path d="M330.0,657.8 V669.0 M326.0,657.8 h8 M326.0,669.0 h8" stroke="#72ff72" stroke-width="1" fill="none"/>
<path d="M330.0,658.4 L335.6,668.4 L324.4,668.4 Z" fill="none" stroke="#72ff72" stroke-width="1.0"/>
<path d="M335.6,685.9 V693.3 M331.6,685.9 h8 M331.6,693.3 h8" stroke="#72ff72" stroke-width="1" fill="none"/>
<path d="M335.6,684.6 L341.2,694.6 L330.0,694.6 Z" fill="none" stroke="#72ff72" stroke-width="1.0"/>
<path d="M341.8,691.9 V699.3 M337.8,691.9 h8 M337.8,699.3 h8" stroke="#72ff72" stroke-width="1" fill="none"/>
<path d="M341.8,690.6 L347.4,700.6 L336.2,700.6 Z" fill="none" stroke="#72ff72" stroke-width="1.0"/>
<path d="M348.0,720.9 V728.3 M344.0,720.9 h8 M344.0,728.3 h8" stroke="#72ff72" stroke-width="1" fill="none"/>
<path d="M348.0,719.6 L353.6,729.6 L342.4,729.6 Z" fill="none" stroke="#72ff72" stroke-width="1.0"/>
<path d="M354.3,734.6 V742.0 M350.3,734.6 h8 M350.3,742.0 h8" stroke="#72ff72" stroke-width="1" fill="none"/>
<path d="M354.3,733.3 L359.9,743.3 L348.7,743.3 Z" fill="none" stroke="#72ff72" stroke-width="1.0"/>
<path d="M360.5,744.7 V752.1 M356.5,744.7 h8 M356.5,752.1 h8" stroke="#72ff72" stroke-width="1" fill="none"/>
<path d="M360.5,743.4 L366.1,753.4 L354.9,753.4 Z" fill="none" stroke="#72ff72" stroke-width="1.0"/>
<path d="M366.7,748.5 V755.9 M362.7,748.5 h8 M362.7,755.9 h8" stroke="#72ff72" stroke-width="1" fill="none"/>
<path d="M366.7,747.2 L372.3,757.2 L361.1,757.2 Z" fill="none" stroke="#72ff72" stroke-width="1.0"/>
<path d="M373.1,755.6 V763.0 M369.1,755.6 h8 M369.1,763.0 h8" stroke="#72ff72" stroke-width="1" fill="none"/>
<path d="M373.1,754.3 L378.7,764.3 L367.5,764.3 Z" fill="none" stroke="#72ff72" stroke-width="1.0"/>
<path d="M377.8,758.4 V764.0 M373.8,758.4 h8 M373.8,764.0 h8" stroke="#72ff72" stroke-width="1" fill="none"/>
<path d="M377.8,756.2 L383.4,766.2 L372.2,766.2 Z" fill="none" stroke="#72ff72" stroke-width="1.0"/>
<path d="M382.5,751.8 V757.4 M378.5,751.8 h8 M378.5,757.4 h8" stroke="#72ff72" stroke-width="1" fill="none"/>
<path d="M382.5,749.6 L388.1,759.6 L376.9,759.6 Z" fill="none" stroke="#72ff72" stroke-width="1.0"/>
<path d="M388.1,737.8 V743.4 M384.1,737.8 h8 M384.1,743.4 h8" stroke="#72ff72" stroke-width="1" fill="none"/>
<path d="M388.1,735.6 L393.7,745.6 L382.5,745.6 Z" fill="none" stroke="#72ff72" stroke-width="1.0"/>
<path d="M394.3,717.2 V722.8 M390.3,717.2 h8 M390.3,722.8 h8" stroke="#72ff72" stroke-width="1" fill="none"/>
<path d="M394.3,715.0 L399.9,725.0 L388.7,725.0 Z" fill="none" stroke="#72ff72" stroke-width="1.0"/>
<path d="M400.7,698.5 V705.9 M396.7,698.5 h8 M396.7,705.9 h8" stroke="#72ff72" stroke-width="1" fill="none"/>
<path d="M400.7,697.2 L406.3,707.2 L395.1,707.2 Z" fill="none" stroke="#72ff72" stroke-width="1.0"/>
<path d="M406.9,670.3 V685.3 M402.9,670.3 h8 M402.9,685.3 h8" stroke="#72ff72" stroke-width="1" fill="none"/>
<path d="M406.9,672.8 L412.5,682.8 L401.3,682.8 Z" fill="none" stroke="#72ff72" stroke-width="1.0"/>
<path d="M413.4,652.5 V663.7 M409.4,652.5 h8 M409.4,663.7 h8" stroke="#72ff72" stroke-width="1" fill="none"/>
<path d="M413.4,653.1 L419.0,663.1 L407.8,663.1 Z" fill="none" stroke="#72ff72" stroke-width="1.0"/>
<path d="M420.0,666.6 V672.2 M416.0,666.6 h8 M416.0,672.2 h8" stroke="#72ff72" stroke-width="1" fill="none"/>
<path d="M420.0,664.4 L425.6,674.4 L414.4,674.4 Z" fill="none" stroke="#72ff72" stroke-width="1.0"/>
<path d="M426.2,645.9 V660.9 M422.2,645.9 h8 M422.2,660.9 h8" stroke="#72ff72" stroke-width="1" fill="none"/>
<path d="M426.2,648.4 L431.8,658.4 L420.6,658.4 Z" fill="none" stroke="#72ff72" stroke-width="1.0"/>
<path d="M432.5,657.2 V672.2 M428.5,657.2 h8 M428.5,672.2 h8" stroke="#72ff72" stroke-width="1" fill="none"/>
<path d="M432.5,659.7 L438.1,669.7 L426.9,669.7 Z" fill="none" stroke="#72ff72" stroke-width="1.0"/>
<path d="M438.7,669.4 V680.6 M434.7,669.4 h8 M434.7,680.6 h8" stroke="#72ff72" stroke-width="1" fill="none"/>
<path d="M438.7,670.0 L444.3,680.0 L433.1,680.0 Z" fill="none" stroke="#72ff72" stroke-width="1.0"/>
<path d="M444.9,659.7 V667.1 M440.9,659.7 h8 M440.9,667.1 h8" stroke="#72ff72" stroke-width="1" fill="none"/>
<path d="M444.9,658.4 L450.5,668.4 L439.3,668.4 Z" fill="none" stroke="#72ff72" stroke-width="1.0"/>
<path d="M451.3,661.0 V668.4 M447.3,661.0 h8 M447.3,668.4 h8" stroke="#72ff72" stroke-width="1" fill="none"/>
<path d="M451.3,659.7 L456.9,669.7 L445.7,669.7 Z" fill="none" stroke="#72ff72" stroke-width="1.0"/>
<path d="M457.5,654.4 V671.2 M453.5,654.4 h8 M453.5,671.2 h8" stroke="#72ff72" stroke-width="1" fill="none"/>
<path d="M457.5,657.8 L463.1,667.8 L451.9,667.8 Z" fill="none" stroke="#72ff72" stroke-width="1.0"/>
<path d="M465.0,646.0 V653.4 M461.0,646.0 h8 M461.0,653.4 h8" stroke="#72ff72" stroke-width="1" fill="none"/>
<path d="M465.0,644.7 L470.6,654.7 L459.4,654.7 Z" fill="none" stroke="#72ff72" stroke-width="1.0"/>
<path d="M470.6,660.9 V666.5 M466.6,660.9 h8 M466.6,666.5 h8" stroke="#72ff72" stroke-width="1" fill="none"/>
<path d="M470.6,658.7 L476.2,668.7 L465.0,668.7 Z" fill="none" stroke="#72ff72" stroke-width="1.0"/>
<path d="M477.1,664.7 V674.1 M473.1,664.7 h8 M473.1,674.1 h8" stroke="#72ff72" stroke-width="1" fill="none"/>
<path d="M477.1,664.4 L482.7,674.4 L471.5,674.4 Z" fill="none" stroke="#72ff72" stroke-width="1.0"/>
<path d="M483.7,667.5 V686.3 M479.7,667.5 h8 M479.7,686.3 h8" stroke="#72ff72" stroke-width="1" fill="none"/>
<path d="M483.7,671.9 L489.3,681.9 L478.1,681.9 Z" fill="none" stroke="#72ff72" stroke-width="1.0"/>
<path d="M489.7,653.5 V670.3 M485.7,653.5 h8 M485.7,670.3 h8" stroke="#72ff72" stroke-width="1" fill="none"/>
<path d="M489.7,656.9 L495.3,666.9 L484.1,666.9 Z" fill="none" stroke="#72ff72" stroke-width="1.0"/>
<path d="M496.8,659.1 V666.5 M492.8,659.1 h8 M492.8,666.5 h8" stroke="#72ff72" stroke-width="1" fill="none"/>
<path d="M496.8,657.8 L502.4,667.8 L491.2,667.8 Z" fill="none" stroke="#72ff72" stroke-width="1.0"/>
<path d="M503.4,654.4 V661.8 M499.4,654.4 h8 M499.4,661.8 h8" stroke="#72ff72" stroke-width="1" fill="none"/>
<path d="M503.4,653.1 L509.0,663.1 L497.8,663.1 Z" fill="none" stroke="#72ff72" stroke-width="1.0"/>
<path d="M509.6,664.7 V672.1 M505.6,664.7 h8 M505.6,672.1 h8" stroke="#72ff72" stroke-width="1" fill="none"/>
<path d="M509.6,663.4 L515.2,673.4 L504.0,673.4 Z" fill="none" stroke="#72ff72" stroke-width="1.0"/>
<path d="M515.6,656.3 V663.7 M511.6,656.3 h8 M511.6,663.7 h8" stroke="#72ff72" stroke-width="1" fill="none"/>
<path d="M515.6,655.0 L521.2,665.0 L510.0,665.0 Z" fill="none" stroke="#72ff72" stroke-width="1.0"/>
<path d="M522.5,652.5 V659.9 M518.5,652.5 h8 M518.5,659.9 h8" stroke="#72ff72" stroke-width="1" fill="none"/>
<path d="M522.5,651.2 L528.1,661.2 L516.9,661.2 Z" fill="none" stroke="#72ff72" stroke-width="1.0"/>
<path d="M528.7,670.3 V677.7 M524.7,670.3 h8 M524.7,677.7 h8" stroke="#72ff72" stroke-width="1" fill="none"/>
<path d="M528.7,669.0 L534.3,679.0 L523.1,679.0 Z" fill="none" stroke="#72ff72" stroke-width="1.0"/>
<path d="M535.2,631.9 V663.7 M531.2,631.9 h8 M531.2,663.7 h8" stroke="#72ff72" stroke-width="1" fill="none"/>
<path d="M535.2,642.8 L540.8,652.8 L529.6,652.8 Z" fill="none" stroke="#72ff72" stroke-width="1.0"/>
<path d="M541.2,660.0 V667.4 M537.2,660.0 h8 M537.2,667.4 h8" stroke="#72ff72" stroke-width="1" fill="none"/>
<path d="M541.2,658.7 L546.8,668.7 L535.6,668.7 Z" fill="none" stroke="#72ff72" stroke-width="1.0"/>
<path d="M547.4,659.1 V666.5 M543.4,659.1 h8 M543.4,666.5 h8" stroke="#72ff72" stroke-width="1" fill="none"/>
<path d="M547.4,657.8 L553.0,667.8 L541.8,667.8 Z" fill="none" stroke="#72ff72" stroke-width="1.0"/>
<path d="M554.0,665.7 V673.1 M550.0,665.7 h8 M550.0,673.1 h8" stroke="#72ff72" stroke-width="1" fill="none"/>
<path d="M554.0,664.4 L559.6,674.4 L548.4,674.4 Z" fill="none" stroke="#72ff72" stroke-width="1.0"/>
<path d="M560.5,656.2 V686.2 M556.5,656.2 h8 M556.5,686.2 h8" stroke="#72ff72" stroke-width="1" fill="none"/>
<path d="M560.5,666.2 L566.1,676.2 L554.9,676.2 Z" fill="none" stroke="#72ff72" stroke-width="1.0"/>
<path d="M567.1,665.7 V673.1 M563.1,665.7 h8 M563.1,673.1 h8" stroke="#72ff72" stroke-width="1" fill="none"/>
<path d="M567.1,664.4 L572.7,674.4 L561.5,674.4 Z" fill="none" stroke="#72ff72" stroke-width="1.0"/>
<path d="M573.7,658.2 V665.6 M569.7,658.2 h8 M569.7,665.6 h8" stroke="#72ff72" stroke-width="1" fill="none"/>
<path d="M573.7,656.9 L579.3,666.9 L568.1,666.9 Z" fill="none" stroke="#72ff72" stroke-width="1.0"/>
<path d="M580.2,653.4 V672.2 M576.2,653.4 h8 M576.2,672.2 h8" stroke="#72ff72" stroke-width="1" fill="none"/>
<path d="M580.2,657.8 L585.8,667.8 L574.6,667.8 Z" fill="none" stroke="#72ff72" stroke-width="1.0"/>
<path d="M586.8,650.7 V658.1 M582.8,650.7 h8 M582.8,658.1 h8" stroke="#72ff72" stroke-width="1" fill="none"/>
<path d="M586.8,649.4 L592.4,659.4 L581.2,659.4 Z" fill="none" stroke="#72ff72" stroke-width="1.0"/>
<path d="M150.6,675.5 L152.8,675.3 L155.0,675.1 L157.2,674.9 L159.4,674.7 L161.6,674.5 L163.8,674.3 L166.0,674.0 L168.2,673.8 L170.4,673.6 L172.5,673.4 L174.7,673.1 L176.9,672.9 L179.1,672.6 L181.3,672.4 L183.5,672.1 L185.7,671.9 L187.9,671.6 L190.1,671.3 L192.3,671.0 L194.5,670.7 L196.7,670.4 L198.9,670.1 L201.1,669.8 L203.3,669.5 L205.5,669.2 L207.7,668.9 L209.9,668.5 L212.0,668.2 L214.2,667.9 L216.4,667.5 L218.6,667.2 L220.8,666.8 L223.0,666.4 L225.2,666.1 L227.4,665.7 L229.6,665.3 L231.8,664.9 L234.0,664.5 L236.2,664.1 L238.4,663.7 L240.6,663.3 L242.8,662.8 L245.0,662.4 L247.2,662.0 L249.4,661.6 L251.5,661.1 L253.7,660.7 L255.9,660.3 L258.1,659.9 L260.3,659.4 L262.5,659.0 L264.7,658.6 L266.9,658.2 L269.1,657.8 L271.3,657.4 L273.5,657.0 L275.7,656.6 L277.9,656.3 L280.1,656.0 L282.3,655.7 L284.5,655.4 L286.7,655.2 L288.9,655.0 L291.0,654.9 L293.2,654.8 L295.4,654.8 L297.6,654.8 L299.8,655.0 L302.0,655.2 L304.2,655.5 L306.4,656.0 L308.6,656.5 L310.8,657.2 L313.0,658.1 L315.2,659.1 L317.4,660.4 L319.6,661.8 L321.8,663.5 L324.0,665.4 L326.2,667.7 L328.4,670.2 L330.5,673.1 L332.7,676.3 L334.9,680.0 L337.1,684.0 L339.3,688.4 L341.5,693.3 L343.7,698.6 L345.9,704.3 L348.1,710.3 L350.3,716.5 L352.5,723.0 L354.7,729.5 L356.9,735.9 L359.1,742.0 L361.3,747.5 L363.5,752.4 L365.7,756.4 L367.9,759.3 L370.0,761.1 L372.2,761.8 L374.4,761.4 L376.6,760.0 L378.8,757.4 L381.0,753.8 L383.2,749.2 L385.4,743.8 L387.6,737.8 L389.8,731.5 L392.0,725.0 L394.2,718.5 L396.4,712.2 L398.6,706.1 L400.8,700.3 L403.0,694.9 L405.2,689.9 L407.4,685.3 L409.5,681.2 L411.7,677.4 L413.9,674.1 L416.1,671.1 L418.3,668.4 L420.5,666.1 L422.7,664.1 L424.9,662.3 L427.1,660.8 L429.3,659.5 L431.5,658.4 L433.7,657.5 L435.9,656.7 L438.1,656.1 L440.3,655.6 L442.5,655.3 L444.7,655.0 L446.9,654.9 L449.0,654.8 L451.2,654.8 L453.4,654.9 L455.6,655.0 L457.8,655.1 L460.0,655.4 L462.2,655.6 L464.4,655.9 L466.6,656.2 L468.8,656.5 L471.0,656.9 L473.2,657.3 L475.4,657.6 L477.6,658.0 L479.8,658.5 L482.0,658.9 L484.2,659.3 L486.4,659.7 L488.5,660.1 L490.7,660.6 L492.9,661.0 L495.1,661.4 L497.3,661.9 L499.5,662.3 L501.7,662.7 L503.9,663.1 L506.1,663.6 L508.3,664.0 L510.5,664.4 L512.7,664.8 L514.9,665.2 L517.1,665.6 L519.3,665.9 L521.5,666.3 L523.7,666.7 L525.9,667.0 L528.0,667.4 L530.2,667.8 L532.4,668.1 L534.6,668.4 L536.8,668.8 L539.0,669.1 L541.2,669.4 L543.4,669.7 L545.6,670.0 L547.8,670.3 L550.0,670.6 L552.2,670.9 L554.4,671.2 L556.6,671.5 L558.8,671.8 L561.0,672.0 L563.2,672.3 L565.4,672.6 L567.5,672.8 L569.7,673.0 L571.9,673.3 L574.1,673.5 L576.3,673.8 L578.5,674.0 L580.7,674.2 L582.9,674.4 L585.1,674.6 L587.3,674.8" fill="none" stroke="#00ff00" stroke-width="2.7" stroke-linejoin="round" stroke-linecap="round"/>
<path d="M151.6,720.9 V741.5 M147.6,720.9 h8 M147.6,741.5 h8" stroke="#72ff72" stroke-width="1" fill="none"/>
<circle cx="151.6" cy="731.2" r="5" fill="none" stroke="#72ff72" stroke-width="1.0"/>
<path d="M157.7,731.6 V742.8 M153.7,731.6 h8 M153.7,742.8 h8" stroke="#72ff72" stroke-width="1" fill="none"/>
<circle cx="157.7" cy="737.2" r="5" fill="none" stroke="#72ff72" stroke-width="1.0"/>
<path d="M164.1,733.1 V740.5 M160.1,733.1 h8 M160.1,740.5 h8" stroke="#72ff72" stroke-width="1" fill="none"/>
<circle cx="164.1" cy="736.8" r="5" fill="none" stroke="#72ff72" stroke-width="1.0"/>
<path d="M170.3,734.0 V745.2 M166.3,734.0 h8 M166.3,745.2 h8" stroke="#72ff72" stroke-width="1" fill="none"/>
<circle cx="170.3" cy="739.6" r="5" fill="none" stroke="#72ff72" stroke-width="1.0"/>
<path d="M176.9,723.7 V744.3 M172.9,723.7 h8 M172.9,744.3 h8" stroke="#72ff72" stroke-width="1" fill="none"/>
<circle cx="176.9" cy="734.0" r="5" fill="none" stroke="#72ff72" stroke-width="1.0"/>
<path d="M183.0,731.2 V738.6 M179.0,731.2 h8 M179.0,738.6 h8" stroke="#72ff72" stroke-width="1" fill="none"/>
<circle cx="183.0" cy="734.9" r="5" fill="none" stroke="#72ff72" stroke-width="1.0"/>
<path d="M190.3,735.5 V778.7 M186.3,735.5 h8 M186.3,778.7 h8" stroke="#72ff72" stroke-width="1" fill="none"/>
<circle cx="190.3" cy="757.1" r="5" fill="none" stroke="#72ff72" stroke-width="1.0"/>
<path d="M196.5,726.6 V734.0 M192.5,726.6 h8 M192.5,734.0 h8" stroke="#72ff72" stroke-width="1" fill="none"/>
<circle cx="196.5" cy="730.3" r="5" fill="none" stroke="#72ff72" stroke-width="1.0"/>
<path d="M203.1,710.6 V746.2 M199.1,710.6 h8 M199.1,746.2 h8" stroke="#72ff72" stroke-width="1" fill="none"/>
<circle cx="203.1" cy="728.4" r="5" fill="none" stroke="#72ff72" stroke-width="1.0"/>
<path d="M208.7,739.6 V745.2 M204.7,739.6 h8 M204.7,745.2 h8" stroke="#72ff72" stroke-width="1" fill="none"/>
<circle cx="208.7" cy="742.4" r="5" fill="none" stroke="#72ff72" stroke-width="1.0"/>
<path d="M214.9,737.4 V743.0 M210.9,737.4 h8 M210.9,743.0 h8" stroke="#72ff72" stroke-width="1" fill="none"/>
<circle cx="214.9" cy="740.2" r="5" fill="none" stroke="#72ff72" stroke-width="1.0"/>
<path d="M221.3,735.9 V741.5 M217.3,735.9 h8 M217.3,741.5 h8" stroke="#72ff72" stroke-width="1" fill="none"/>
<circle cx="221.3" cy="738.7" r="5" fill="none" stroke="#72ff72" stroke-width="1.0"/>
<path d="M227.5,732.1 V737.7 M223.5,732.1 h8 M223.5,737.7 h8" stroke="#72ff72" stroke-width="1" fill="none"/>
<circle cx="227.5" cy="734.9" r="5" fill="none" stroke="#72ff72" stroke-width="1.0"/>
<path d="M233.6,738.7 V751.9 M229.6,738.7 h8 M229.6,751.9 h8" stroke="#72ff72" stroke-width="1" fill="none"/>
<circle cx="233.6" cy="745.3" r="5" fill="none" stroke="#72ff72" stroke-width="1.0"/>
<path d="M240.0,735.9 V743.3 M236.0,735.9 h8 M236.0,743.3 h8" stroke="#72ff72" stroke-width="1" fill="none"/>
<circle cx="240.0" cy="739.6" r="5" fill="none" stroke="#72ff72" stroke-width="1.0"/>
<path d="M246.2,740.6 V748.0 M242.2,740.6 h8 M242.2,748.0 h8" stroke="#72ff72" stroke-width="1" fill="none"/>
<circle cx="246.2" cy="744.3" r="5" fill="none" stroke="#72ff72" stroke-width="1.0"/>
<path d="M252.4,740.6 V746.2 M248.4,740.6 h8 M248.4,746.2 h8" stroke="#72ff72" stroke-width="1" fill="none"/>
<circle cx="252.4" cy="743.4" r="5" fill="none" stroke="#72ff72" stroke-width="1.0"/>
<path d="M258.7,739.7 V747.1 M254.7,739.7 h8 M254.7,747.1 h8" stroke="#72ff72" stroke-width="1" fill="none"/>
<circle cx="258.7" cy="743.4" r="5" fill="none" stroke="#72ff72" stroke-width="1.0"/>
<path d="M264.9,740.2 V747.6 M260.9,740.2 h8 M260.9,747.6 h8" stroke="#72ff72" stroke-width="1" fill="none"/>
<circle cx="264.9" cy="743.9" r="5" fill="none" stroke="#72ff72" stroke-width="1.0"/>
<path d="M271.1,746.2 V753.6 M267.1,746.2 h8 M267.1,753.6 h8" stroke="#72ff72" stroke-width="1" fill="none"/>
<circle cx="271.1" cy="749.9" r="5" fill="none" stroke="#72ff72" stroke-width="1.0"/>
<path d="M277.5,743.4 V750.8 M273.5,743.4 h8 M273.5,750.8 h8" stroke="#72ff72" stroke-width="1" fill="none"/>
<circle cx="277.5" cy="747.1" r="5" fill="none" stroke="#72ff72" stroke-width="1.0"/>
<path d="M283.7,744.3 V749.9 M279.7,744.3 h8 M279.7,749.9 h8" stroke="#72ff72" stroke-width="1" fill="none"/>
<circle cx="283.7" cy="747.1" r="5" fill="none" stroke="#72ff72" stroke-width="1.0"/>
<path d="M289.9,743.0 V748.6 M285.9,743.0 h8 M285.9,748.6 h8" stroke="#72ff72" stroke-width="1" fill="none"/>
<circle cx="289.9" cy="745.8" r="5" fill="none" stroke="#72ff72" stroke-width="1.0"/>
<path d="M296.2,739.6 V745.2 M292.2,739.6 h8 M292.2,745.2 h8" stroke="#72ff72" stroke-width="1" fill="none"/>
<circle cx="296.2" cy="742.4" r="5" fill="none" stroke="#72ff72" stroke-width="1.0"/>
<path d="M302.4,739.3 V744.9 M298.4,739.3 h8 M298.4,744.9 h8" stroke="#72ff72" stroke-width="1" fill="none"/>
<circle cx="302.4" cy="742.1" r="5" fill="none" stroke="#72ff72" stroke-width="1.0"/>
<path d="M308.6,736.8 V742.4 M304.6,736.8 h8 M304.6,742.4 h8" stroke="#72ff72" stroke-width="1" fill="none"/>
<circle cx="308.6" cy="739.6" r="5" fill="none" stroke="#72ff72" stroke-width="1.0"/>
<path d="M318.3,747.1 V752.7 M314.3,747.1 h8 M314.3,752.7 h8" stroke="#72ff72" stroke-width="1" fill="none"/>
<circle cx="318.3" cy="749.9" r="5" fill="none" stroke="#72ff72" stroke-width="1.0"/>
<path d="M324.9,759.3 V764.9 M320.9,759.3 h8 M320.9,764.9 h8" stroke="#72ff72" stroke-width="1" fill="none"/>
<circle cx="324.9" cy="762.1" r="5" fill="none" stroke="#72ff72" stroke-width="1.0"/>
<path d="M331.1,780.3 V799.1 M327.1,780.3 h8 M327.1,799.1 h8" stroke="#72ff72" stroke-width="1" fill="none"/>
<circle cx="331.1" cy="789.7" r="5" fill="none" stroke="#72ff72" stroke-width="1.0"/>
<path d="M337.5,801.1 V806.7 M333.5,801.1 h8 M333.5,806.7 h8" stroke="#72ff72" stroke-width="1" fill="none"/>
<circle cx="337.5" cy="803.9" r="5" fill="none" stroke="#72ff72" stroke-width="1.0"/>
<path d="M343.6,810.9 V816.5 M339.6,810.9 h8 M339.6,816.5 h8" stroke="#72ff72" stroke-width="1" fill="none"/>
<circle cx="343.6" cy="813.7" r="5" fill="none" stroke="#72ff72" stroke-width="1.0"/>
<path d="M350.6,831.8 V837.4 M346.6,831.8 h8 M346.6,837.4 h8" stroke="#72ff72" stroke-width="1" fill="none"/>
<circle cx="350.6" cy="834.6" r="5" fill="none" stroke="#72ff72" stroke-width="1.0"/>
<path d="M356.8,841.5 V847.1 M352.8,841.5 h8 M352.8,847.1 h8" stroke="#72ff72" stroke-width="1" fill="none"/>
<circle cx="356.8" cy="844.3" r="5" fill="none" stroke="#72ff72" stroke-width="1.0"/>
<path d="M363.4,850.9 V856.5 M359.4,850.9 h8 M359.4,856.5 h8" stroke="#72ff72" stroke-width="1" fill="none"/>
<circle cx="363.4" cy="853.7" r="5" fill="none" stroke="#72ff72" stroke-width="1.0"/>
<path d="M369.9,858.4 V864.0 M365.9,858.4 h8 M365.9,864.0 h8" stroke="#72ff72" stroke-width="1" fill="none"/>
<circle cx="369.9" cy="861.2" r="5" fill="none" stroke="#72ff72" stroke-width="1.0"/>
<path d="M375.9,859.4 V865.0 M371.9,859.4 h8 M371.9,865.0 h8" stroke="#72ff72" stroke-width="1" fill="none"/>
<circle cx="375.9" cy="862.2" r="5" fill="none" stroke="#72ff72" stroke-width="1.0"/>
<path d="M382.1,852.8 V858.4 M378.1,852.8 h8 M378.1,858.4 h8" stroke="#72ff72" stroke-width="1" fill="none"/>
<circle cx="382.1" cy="855.6" r="5" fill="none" stroke="#72ff72" stroke-width="1.0"/>
<path d="M388.7,850.0 V855.6 M384.7,850.0 h8 M384.7,855.6 h8" stroke="#72ff72" stroke-width="1" fill="none"/>
<circle cx="388.7" cy="852.8" r="5" fill="none" stroke="#72ff72" stroke-width="1.0"/>
<path d="M395.2,839.3 V844.9 M391.2,839.3 h8 M391.2,844.9 h8" stroke="#72ff72" stroke-width="1" fill="none"/>
<circle cx="395.2" cy="842.1" r="5" fill="none" stroke="#72ff72" stroke-width="1.0"/>
<path d="M402.7,819.1 V824.7 M398.7,819.1 h8 M398.7,824.7 h8" stroke="#72ff72" stroke-width="1" fill="none"/>
<circle cx="402.7" cy="821.9" r="5" fill="none" stroke="#72ff72" stroke-width="1.0"/>
<path d="M408.4,792.8 V798.4 M404.4,792.8 h8 M404.4,798.4 h8" stroke="#72ff72" stroke-width="1" fill="none"/>
<circle cx="408.4" cy="795.6" r="5" fill="none" stroke="#72ff72" stroke-width="1.0"/>
<path d="M414.9,765.5 V774.9 M410.9,765.5 h8 M410.9,774.9 h8" stroke="#72ff72" stroke-width="1" fill="none"/>
<circle cx="414.9" cy="770.2" r="5" fill="none" stroke="#72ff72" stroke-width="1.0"/>
<path d="M421.5,739.6 V745.2 M417.5,739.6 h8 M417.5,745.2 h8" stroke="#72ff72" stroke-width="1" fill="none"/>
<circle cx="421.5" cy="742.4" r="5" fill="none" stroke="#72ff72" stroke-width="1.0"/>
<path d="M428.0,725.2 V736.4 M424.0,725.2 h8 M424.0,736.4 h8" stroke="#72ff72" stroke-width="1" fill="none"/>
<circle cx="428.0" cy="730.8" r="5" fill="none" stroke="#72ff72" stroke-width="1.0"/>
<path d="M434.6,719.4 V725.0 M430.6,719.4 h8 M430.6,725.0 h8" stroke="#72ff72" stroke-width="1" fill="none"/>
<circle cx="434.6" cy="722.2" r="5" fill="none" stroke="#72ff72" stroke-width="1.0"/>
<path d="M441.0,724.3 V729.9 M437.0,724.3 h8 M437.0,729.9 h8" stroke="#72ff72" stroke-width="1" fill="none"/>
<circle cx="441.0" cy="727.1" r="5" fill="none" stroke="#72ff72" stroke-width="1.0"/>
<path d="M447.2,702.1 V720.9 M443.2,702.1 h8 M443.2,720.9 h8" stroke="#72ff72" stroke-width="1" fill="none"/>
<circle cx="447.2" cy="711.5" r="5" fill="none" stroke="#72ff72" stroke-width="1.0"/>
<path d="M453.7,734.0 V739.6 M449.7,734.0 h8 M449.7,739.6 h8" stroke="#72ff72" stroke-width="1" fill="none"/>
<circle cx="453.7" cy="736.8" r="5" fill="none" stroke="#72ff72" stroke-width="1.0"/>
<path d="M459.9,700.3 V720.9 M455.9,700.3 h8 M455.9,720.9 h8" stroke="#72ff72" stroke-width="1" fill="none"/>
<circle cx="459.9" cy="710.6" r="5" fill="none" stroke="#72ff72" stroke-width="1.0"/>
<path d="M466.3,721.8 V727.4 M462.3,721.8 h8 M462.3,727.4 h8" stroke="#72ff72" stroke-width="1" fill="none"/>
<circle cx="466.3" cy="724.6" r="5" fill="none" stroke="#72ff72" stroke-width="1.0"/>
<path d="M472.5,705.9 V728.3 M468.5,705.9 h8 M468.5,728.3 h8" stroke="#72ff72" stroke-width="1" fill="none"/>
<circle cx="472.5" cy="717.1" r="5" fill="none" stroke="#72ff72" stroke-width="1.0"/>
<path d="M478.6,721.8 V727.4 M474.6,721.8 h8 M474.6,727.4 h8" stroke="#72ff72" stroke-width="1" fill="none"/>
<circle cx="478.6" cy="724.6" r="5" fill="none" stroke="#72ff72" stroke-width="1.0"/>
<path d="M485.6,714.4 V736.8 M481.6,714.4 h8 M481.6,736.8 h8" stroke="#72ff72" stroke-width="1" fill="none"/>
<circle cx="485.6" cy="725.6" r="5" fill="none" stroke="#72ff72" stroke-width="1.0"/>
<path d="M492.1,719.0 V724.6 M488.1,719.0 h8 M488.1,724.6 h8" stroke="#72ff72" stroke-width="1" fill="none"/>
<circle cx="492.1" cy="721.8" r="5" fill="none" stroke="#72ff72" stroke-width="1.0"/>
<path d="M498.3,725.6 V731.2 M494.3,725.6 h8 M494.3,731.2 h8" stroke="#72ff72" stroke-width="1" fill="none"/>
<circle cx="498.3" cy="728.4" r="5" fill="none" stroke="#72ff72" stroke-width="1.0"/>
<path d="M504.3,727.5 V733.1 M500.3,727.5 h8 M500.3,733.1 h8" stroke="#72ff72" stroke-width="1" fill="none"/>
<circle cx="504.3" cy="730.3" r="5" fill="none" stroke="#72ff72" stroke-width="1.0"/>
<path d="M511.2,724.3 V729.9 M507.2,724.3 h8 M507.2,729.9 h8" stroke="#72ff72" stroke-width="1" fill="none"/>
<circle cx="511.2" cy="727.1" r="5" fill="none" stroke="#72ff72" stroke-width="1.0"/>
<path d="M517.4,727.5 V733.1 M513.4,727.5 h8 M513.4,733.1 h8" stroke="#72ff72" stroke-width="1" fill="none"/>
<circle cx="517.4" cy="730.3" r="5" fill="none" stroke="#72ff72" stroke-width="1.0"/>
<path d="M524.0,736.8 V742.4 M520.0,736.8 h8 M520.0,742.4 h8" stroke="#72ff72" stroke-width="1" fill="none"/>
<circle cx="524.0" cy="739.6" r="5" fill="none" stroke="#72ff72" stroke-width="1.0"/>
<path d="M530.5,722.8 V737.8 M526.5,722.8 h8 M526.5,737.8 h8" stroke="#72ff72" stroke-width="1" fill="none"/>
<circle cx="530.5" cy="730.3" r="5" fill="none" stroke="#72ff72" stroke-width="1.0"/>
<path d="M536.7,730.8 V745.8 M532.7,730.8 h8 M532.7,745.8 h8" stroke="#72ff72" stroke-width="1" fill="none"/>
<circle cx="536.7" cy="738.3" r="5" fill="none" stroke="#72ff72" stroke-width="1.0"/>
<path d="M543.1,726.2 V731.8 M539.1,726.2 h8 M539.1,731.8 h8" stroke="#72ff72" stroke-width="1" fill="none"/>
<circle cx="543.1" cy="729.0" r="5" fill="none" stroke="#72ff72" stroke-width="1.0"/>
<path d="M549.3,724.7 V730.3 M545.3,724.7 h8 M545.3,730.3 h8" stroke="#72ff72" stroke-width="1" fill="none"/>
<circle cx="549.3" cy="727.5" r="5" fill="none" stroke="#72ff72" stroke-width="1.0"/>
<path d="M555.8,712.9 V739.1 M551.8,712.9 h8 M551.8,739.1 h8" stroke="#72ff72" stroke-width="1" fill="none"/>
<circle cx="555.8" cy="726.0" r="5" fill="none" stroke="#72ff72" stroke-width="1.0"/>
<path d="M562.4,720.9 V735.9 M558.4,720.9 h8 M558.4,735.9 h8" stroke="#72ff72" stroke-width="1" fill="none"/>
<circle cx="562.4" cy="728.4" r="5" fill="none" stroke="#72ff72" stroke-width="1.0"/>
<path d="M569.0,730.3 V745.3 M565.0,730.3 h8 M565.0,745.3 h8" stroke="#72ff72" stroke-width="1" fill="none"/>
<circle cx="569.0" cy="737.8" r="5" fill="none" stroke="#72ff72" stroke-width="1.0"/>
<path d="M575.1,734.0 V739.6 M571.1,734.0 h8 M571.1,739.6 h8" stroke="#72ff72" stroke-width="1" fill="none"/>
<circle cx="575.1" cy="736.8" r="5" fill="none" stroke="#72ff72" stroke-width="1.0"/>
<path d="M581.7,721.4 V755.2 M577.7,721.4 h8 M577.7,755.2 h8" stroke="#72ff72" stroke-width="1" fill="none"/>
<circle cx="581.7" cy="738.3" r="5" fill="none" stroke="#72ff72" stroke-width="1.0"/>
<path d="M588.3,709.1 V731.5 M584.3,709.1 h8 M584.3,731.5 h8" stroke="#72ff72" stroke-width="1" fill="none"/>
<circle cx="588.3" cy="720.3" r="5" fill="none" stroke="#72ff72" stroke-width="1.0"/>
<path d="M152.5,731.7 L154.7,731.6 L156.9,731.6 L159.1,731.5 L161.2,731.4 L163.4,731.3 L165.6,731.2 L167.8,731.0 L170.0,730.9 L172.2,730.8 L174.3,730.7 L176.5,730.6 L178.7,730.5 L180.9,730.4 L183.1,730.3 L185.3,730.1 L187.5,730.0 L189.6,729.9 L191.8,729.8 L194.0,729.6 L196.2,729.5 L198.4,729.4 L200.6,729.2 L202.8,729.1 L204.9,729.0 L207.1,728.8 L209.3,728.7 L211.5,728.6 L213.7,728.4 L215.9,728.3 L218.0,728.1 L220.2,728.0 L222.4,727.9 L224.6,727.8 L226.8,727.6 L229.0,727.5 L231.2,727.4 L233.3,727.3 L235.5,727.2 L237.7,727.1 L239.9,727.0 L242.1,726.9 L244.3,726.8 L246.5,726.8 L248.6,726.7 L250.8,726.7 L253.0,726.7 L255.2,726.7 L257.4,726.7 L259.6,726.8 L261.7,726.8 L263.9,726.9 L266.1,727.1 L268.3,727.3 L270.5,727.5 L272.7,727.8 L274.9,728.1 L277.0,728.5 L279.2,728.9 L281.4,729.4 L283.6,730.0 L285.8,730.7 L288.0,731.5 L290.2,732.3 L292.3,733.3 L294.5,734.3 L296.7,735.5 L298.9,736.9 L301.1,738.3 L303.3,740.0 L305.4,741.8 L307.6,743.7 L309.8,745.9 L312.0,748.2 L314.2,750.8 L316.4,753.6 L318.6,756.5 L320.7,759.8 L322.9,763.2 L325.1,766.9 L327.3,770.8 L329.5,775.0 L331.7,779.4 L333.8,784.0 L336.0,788.9 L338.2,793.9 L340.4,799.0 L342.6,804.3 L344.8,809.7 L347.0,815.2 L349.1,820.6 L351.3,826.0 L353.5,831.3 L355.7,836.4 L357.9,841.2 L360.1,845.7 L362.3,849.9 L364.4,853.5 L366.6,856.6 L368.8,859.1 L371.0,860.9 L373.2,861.9 L375.4,861.9 L377.5,860.9 L379.7,859.1 L381.9,856.6 L384.1,853.5 L386.3,849.8 L388.5,845.6 L390.7,841.1 L392.8,836.3 L395.0,831.2 L397.2,825.9 L399.4,820.5 L401.6,815.1 L403.8,809.6 L406.0,804.2 L408.1,798.9 L410.3,793.8 L412.5,788.8 L414.7,783.9 L416.9,779.3 L419.1,774.9 L421.2,770.8 L423.4,766.8 L425.6,763.2 L427.8,759.7 L430.0,756.5 L432.2,753.5 L434.4,750.7 L436.5,748.2 L438.7,745.8 L440.9,743.7 L443.1,741.7 L445.3,739.9 L447.5,738.3 L449.6,736.8 L451.8,735.5 L454.0,734.3 L456.2,733.3 L458.4,732.3 L460.6,731.4 L462.8,730.7 L464.9,730.0 L467.1,729.4 L469.3,728.9 L471.5,728.5 L473.7,728.1 L475.9,727.8 L478.1,727.5 L480.2,727.3 L482.4,727.1 L484.6,726.9 L486.8,726.8 L489.0,726.8 L491.2,726.7 L493.3,726.7 L495.5,726.7 L497.7,726.7 L499.9,726.7 L502.1,726.8 L504.3,726.8 L506.5,726.9 L508.6,727.0 L510.8,727.1 L513.0,727.2 L515.2,727.3 L517.4,727.4 L519.6,727.5 L521.8,727.6 L523.9,727.8 L526.1,727.9 L528.3,728.0 L530.5,728.2 L532.7,728.3 L534.9,728.4 L537.0,728.6 L539.2,728.7 L541.4,728.8 L543.6,729.0 L545.8,729.1 L548.0,729.2 L550.2,729.4 L552.3,729.5 L554.5,729.6 L556.7,729.8 L558.9,729.9 L561.1,730.0 L563.3,730.1 L565.5,730.3 L567.6,730.4 L569.8,730.5 L572.0,730.6 L574.2,730.7 L576.4,730.8 L578.6,730.9 L580.7,731.1 L582.9,731.2 L585.1,731.3 L587.3,731.4" fill="none" stroke="#00ff00" stroke-width="2.7" stroke-linejoin="round" stroke-linecap="round"/>
<path d="M148.7,799.3 V816.1 M144.7,799.3 h8 M144.7,816.1 h8" stroke="#72ff72" stroke-width="1" fill="none"/>
<rect x="144.6" y="803.6" width="8.2" height="8.2" fill="none" stroke="#72ff72" stroke-width="1.0"/>
<path d="M154.9,800.6 V808.0 M150.9,800.6 h8 M150.9,808.0 h8" stroke="#72ff72" stroke-width="1" fill="none"/>
<rect x="150.8" y="800.2" width="8.2" height="8.2" fill="none" stroke="#72ff72" stroke-width="1.0"/>
<path d="M161.3,805.3 V812.7 M157.3,805.3 h8 M157.3,812.7 h8" stroke="#72ff72" stroke-width="1" fill="none"/>
<rect x="157.2" y="804.9" width="8.2" height="8.2" fill="none" stroke="#72ff72" stroke-width="1.0"/>
<path d="M167.5,799.7 V807.1 M163.5,799.7 h8 M163.5,807.1 h8" stroke="#72ff72" stroke-width="1" fill="none"/>
<rect x="163.4" y="799.3" width="8.2" height="8.2" fill="none" stroke="#72ff72" stroke-width="1.0"/>
<path d="M173.7,799.6 V816.4 M169.7,799.6 h8 M169.7,816.4 h8" stroke="#72ff72" stroke-width="1" fill="none"/>
<rect x="169.6" y="803.9" width="8.2" height="8.2" fill="none" stroke="#72ff72" stroke-width="1.0"/>
<path d="M180.0,800.6 V811.8 M176.0,800.6 h8 M176.0,811.8 h8" stroke="#72ff72" stroke-width="1" fill="none"/>
<rect x="175.9" y="802.1" width="8.2" height="8.2" fill="none" stroke="#72ff72" stroke-width="1.0"/>
<path d="M186.2,807.7 V815.1 M182.2,807.7 h8 M182.2,815.1 h8" stroke="#72ff72" stroke-width="1" fill="none"/>
<rect x="182.1" y="807.3" width="8.2" height="8.2" fill="none" stroke="#72ff72" stroke-width="1.0"/>
<path d="M192.4,805.8 V813.2 M188.4,805.8 h8 M188.4,813.2 h8" stroke="#72ff72" stroke-width="1" fill="none"/>
<rect x="188.3" y="805.4" width="8.2" height="8.2" fill="none" stroke="#72ff72" stroke-width="1.0"/>
<path d="M198.8,802.5 V824.9 M194.8,802.5 h8 M194.8,824.9 h8" stroke="#72ff72" stroke-width="1" fill="none"/>
<rect x="194.7" y="809.6" width="8.2" height="8.2" fill="none" stroke="#72ff72" stroke-width="1.0"/>
<path d="M206.3,788.4 V824.0 M202.3,788.4 h8 M202.3,824.0 h8" stroke="#72ff72" stroke-width="1" fill="none"/>
<rect x="202.2" y="802.1" width="8.2" height="8.2" fill="none" stroke="#72ff72" stroke-width="1.0"/>
<path d="M212.5,811.5 V818.9 M208.5,811.5 h8 M208.5,818.9 h8" stroke="#72ff72" stroke-width="1" fill="none"/>
<rect x="208.4" y="811.1" width="8.2" height="8.2" fill="none" stroke="#72ff72" stroke-width="1.0"/>
<path d="M218.6,809.0 V816.4 M214.6,809.0 h8 M214.6,816.4 h8" stroke="#72ff72" stroke-width="1" fill="none"/>
<rect x="214.5" y="808.6" width="8.2" height="8.2" fill="none" stroke="#72ff72" stroke-width="1.0"/>
<path d="M225.0,798.7 V815.5 M221.0,798.7 h8 M221.0,815.5 h8" stroke="#72ff72" stroke-width="1" fill="none"/>
<rect x="220.9" y="803.0" width="8.2" height="8.2" fill="none" stroke="#72ff72" stroke-width="1.0"/>
<path d="M231.2,810.9 V818.3 M227.2,810.9 h8 M227.2,818.3 h8" stroke="#72ff72" stroke-width="1" fill="none"/>
<rect x="227.1" y="810.5" width="8.2" height="8.2" fill="none" stroke="#72ff72" stroke-width="1.0"/>
<path d="M237.4,812.3 V825.5 M233.4,812.3 h8 M233.4,825.5 h8" stroke="#72ff72" stroke-width="1" fill="none"/>
<rect x="233.3" y="814.8" width="8.2" height="8.2" fill="none" stroke="#72ff72" stroke-width="1.0"/>
<path d="M243.8,824.0 V831.4 M239.8,824.0 h8 M239.8,831.4 h8" stroke="#72ff72" stroke-width="1" fill="none"/>
<rect x="239.7" y="823.6" width="8.2" height="8.2" fill="none" stroke="#72ff72" stroke-width="1.0"/>
<path d="M249.9,807.1 V814.5 M245.9,807.1 h8 M245.9,814.5 h8" stroke="#72ff72" stroke-width="1" fill="none"/>
<rect x="245.8" y="806.7" width="8.2" height="8.2" fill="none" stroke="#72ff72" stroke-width="1.0"/>
<path d="M256.1,816.5 V833.3 M252.1,816.5 h8 M252.1,833.3 h8" stroke="#72ff72" stroke-width="1" fill="none"/>
<rect x="252.0" y="820.8" width="8.2" height="8.2" fill="none" stroke="#72ff72" stroke-width="1.0"/>
<path d="M262.5,811.8 V830.6 M258.5,811.8 h8 M258.5,830.6 h8" stroke="#72ff72" stroke-width="1" fill="none"/>
<rect x="258.4" y="817.1" width="8.2" height="8.2" fill="none" stroke="#72ff72" stroke-width="1.0"/>
<path d="M268.7,810.9 V818.3 M264.7,810.9 h8 M264.7,818.3 h8" stroke="#72ff72" stroke-width="1" fill="none"/>
<rect x="264.6" y="810.5" width="8.2" height="8.2" fill="none" stroke="#72ff72" stroke-width="1.0"/>
<path d="M274.9,810.0 V817.4 M270.9,810.0 h8 M270.9,817.4 h8" stroke="#72ff72" stroke-width="1" fill="none"/>
<rect x="270.8" y="809.6" width="8.2" height="8.2" fill="none" stroke="#72ff72" stroke-width="1.0"/>
<path d="M281.2,813.7 V824.9 M277.2,813.7 h8 M277.2,824.9 h8" stroke="#72ff72" stroke-width="1" fill="none"/>
<rect x="277.1" y="815.2" width="8.2" height="8.2" fill="none" stroke="#72ff72" stroke-width="1.0"/>
<path d="M287.4,796.8 V817.4 M283.4,796.8 h8 M283.4,817.4 h8" stroke="#72ff72" stroke-width="1" fill="none"/>
<rect x="283.3" y="803.0" width="8.2" height="8.2" fill="none" stroke="#72ff72" stroke-width="1.0"/>
<path d="M293.6,800.5 V815.5 M289.6,800.5 h8 M289.6,815.5 h8" stroke="#72ff72" stroke-width="1" fill="none"/>
<rect x="289.5" y="803.9" width="8.2" height="8.2" fill="none" stroke="#72ff72" stroke-width="1.0"/>
<path d="M302.4,806.2 V813.6 M298.4,806.2 h8 M298.4,813.6 h8" stroke="#72ff72" stroke-width="1" fill="none"/>
<rect x="298.3" y="805.8" width="8.2" height="8.2" fill="none" stroke="#72ff72" stroke-width="1.0"/>
<path d="M308.6,827.8 V835.2 M304.6,827.8 h8 M304.6,835.2 h8" stroke="#72ff72" stroke-width="1" fill="none"/>
<rect x="304.5" y="827.4" width="8.2" height="8.2" fill="none" stroke="#72ff72" stroke-width="1.0"/>
<path d="M315.6,837.8 V843.4 M311.6,837.8 h8 M311.6,843.4 h8" stroke="#72ff72" stroke-width="1" fill="none"/>
<rect x="311.5" y="836.5" width="8.2" height="8.2" fill="none" stroke="#72ff72" stroke-width="1.0"/>
<path d="M321.8,869.6 V884.6 M317.8,869.6 h8 M317.8,884.6 h8" stroke="#72ff72" stroke-width="1" fill="none"/>
<rect x="317.7" y="873.0" width="8.2" height="8.2" fill="none" stroke="#72ff72" stroke-width="1.0"/>
<path d="M328.3,886.2 V891.8 M324.3,886.2 h8 M324.3,891.8 h8" stroke="#72ff72" stroke-width="1" fill="none"/>
<rect x="324.2" y="884.9" width="8.2" height="8.2" fill="none" stroke="#72ff72" stroke-width="1.0"/>
<path d="M334.7,901.5 V912.7 M330.7,901.5 h8 M330.7,912.7 h8" stroke="#72ff72" stroke-width="1" fill="none"/>
<rect x="330.6" y="903.0" width="8.2" height="8.2" fill="none" stroke="#72ff72" stroke-width="1.0"/>
<path d="M341.3,920.6 V926.2 M337.3,920.6 h8 M337.3,926.2 h8" stroke="#72ff72" stroke-width="1" fill="none"/>
<rect x="337.2" y="919.3" width="8.2" height="8.2" fill="none" stroke="#72ff72" stroke-width="1.0"/>
<path d="M347.5,932.4 V938.0 M343.5,932.4 h8 M343.5,938.0 h8" stroke="#72ff72" stroke-width="1" fill="none"/>
<rect x="343.4" y="931.1" width="8.2" height="8.2" fill="none" stroke="#72ff72" stroke-width="1.0"/>
<path d="M354.0,941.8 V947.4 M350.0,941.8 h8 M350.0,947.4 h8" stroke="#72ff72" stroke-width="1" fill="none"/>
<rect x="349.9" y="940.5" width="8.2" height="8.2" fill="none" stroke="#72ff72" stroke-width="1.0"/>
<path d="M360.6,948.4 V954.0 M356.6,948.4 h8 M356.6,954.0 h8" stroke="#72ff72" stroke-width="1" fill="none"/>
<rect x="356.5" y="947.1" width="8.2" height="8.2" fill="none" stroke="#72ff72" stroke-width="1.0"/>
<path d="M367.1,953.1 V958.7 M363.1,953.1 h8 M363.1,958.7 h8" stroke="#72ff72" stroke-width="1" fill="none"/>
<rect x="363.0" y="951.8" width="8.2" height="8.2" fill="none" stroke="#72ff72" stroke-width="1.0"/>
<path d="M373.3,958.7 V964.3 M369.3,958.7 h8 M369.3,964.3 h8" stroke="#72ff72" stroke-width="1" fill="none"/>
<rect x="369.2" y="957.4" width="8.2" height="8.2" fill="none" stroke="#72ff72" stroke-width="1.0"/>
<path d="M379.3,956.8 V962.4 M375.3,956.8 h8 M375.3,962.4 h8" stroke="#72ff72" stroke-width="1" fill="none"/>
<rect x="375.2" y="955.5" width="8.2" height="8.2" fill="none" stroke="#72ff72" stroke-width="1.0"/>
<path d="M385.9,951.2 V956.8 M381.9,951.2 h8 M381.9,956.8 h8" stroke="#72ff72" stroke-width="1" fill="none"/>
<rect x="381.8" y="949.9" width="8.2" height="8.2" fill="none" stroke="#72ff72" stroke-width="1.0"/>
<path d="M392.4,939.9 V945.5 M388.4,939.9 h8 M388.4,945.5 h8" stroke="#72ff72" stroke-width="1" fill="none"/>
<rect x="388.3" y="938.6" width="8.2" height="8.2" fill="none" stroke="#72ff72" stroke-width="1.0"/>
<path d="M399.0,930.6 V941.8 M395.0,930.6 h8 M395.0,941.8 h8" stroke="#72ff72" stroke-width="1" fill="none"/>
<rect x="394.9" y="932.1" width="8.2" height="8.2" fill="none" stroke="#72ff72" stroke-width="1.0"/>
<path d="M405.5,909.0 V914.6 M401.5,909.0 h8 M401.5,914.6 h8" stroke="#72ff72" stroke-width="1" fill="none"/>
<rect x="401.4" y="907.7" width="8.2" height="8.2" fill="none" stroke="#72ff72" stroke-width="1.0"/>
<path d="M412.1,888.4 V894.0 M408.1,888.4 h8 M408.1,894.0 h8" stroke="#72ff72" stroke-width="1" fill="none"/>
<rect x="408.0" y="887.1" width="8.2" height="8.2" fill="none" stroke="#72ff72" stroke-width="1.0"/>
<path d="M418.7,869.7 V880.9 M414.7,869.7 h8 M414.7,880.9 h8" stroke="#72ff72" stroke-width="1" fill="none"/>
<rect x="414.6" y="871.2" width="8.2" height="8.2" fill="none" stroke="#72ff72" stroke-width="1.0"/>
<path d="M425.2,827.5 V846.3 M421.2,827.5 h8 M421.2,846.3 h8" stroke="#72ff72" stroke-width="1" fill="none"/>
<rect x="421.1" y="832.8" width="8.2" height="8.2" fill="none" stroke="#72ff72" stroke-width="1.0"/>
<path d="M430.8,818.1 V829.3 M426.8,818.1 h8 M426.8,829.3 h8" stroke="#72ff72" stroke-width="1" fill="none"/>
<rect x="426.7" y="819.6" width="8.2" height="8.2" fill="none" stroke="#72ff72" stroke-width="1.0"/>
<path d="M437.4,799.4 V821.8 M433.4,799.4 h8 M433.4,821.8 h8" stroke="#72ff72" stroke-width="1" fill="none"/>
<rect x="433.3" y="806.5" width="8.2" height="8.2" fill="none" stroke="#72ff72" stroke-width="1.0"/>
<path d="M443.0,792.9 V800.3 M439.0,792.9 h8 M439.0,800.3 h8" stroke="#72ff72" stroke-width="1" fill="none"/>
<rect x="438.9" y="792.5" width="8.2" height="8.2" fill="none" stroke="#72ff72" stroke-width="1.0"/>
<path d="M449.6,794.7 V802.1 M445.6,794.7 h8 M445.6,802.1 h8" stroke="#72ff72" stroke-width="1" fill="none"/>
<rect x="445.5" y="794.3" width="8.2" height="8.2" fill="none" stroke="#72ff72" stroke-width="1.0"/>
<path d="M456.1,798.4 V804.0 M452.1,798.4 h8 M452.1,804.0 h8" stroke="#72ff72" stroke-width="1" fill="none"/>
<rect x="452.0" y="797.1" width="8.2" height="8.2" fill="none" stroke="#72ff72" stroke-width="1.0"/>
<path d="M462.7,791.9 V797.5 M458.7,791.9 h8 M458.7,797.5 h8" stroke="#72ff72" stroke-width="1" fill="none"/>
<rect x="458.6" y="790.6" width="8.2" height="8.2" fill="none" stroke="#72ff72" stroke-width="1.0"/>
<path d="M468.7,798.7 V806.1 M464.7,798.7 h8 M464.7,806.1 h8" stroke="#72ff72" stroke-width="1" fill="none"/>
<rect x="464.6" y="798.3" width="8.2" height="8.2" fill="none" stroke="#72ff72" stroke-width="1.0"/>
<path d="M475.3,796.8 V804.2 M471.3,796.8 h8 M471.3,804.2 h8" stroke="#72ff72" stroke-width="1" fill="none"/>
<rect x="471.2" y="796.4" width="8.2" height="8.2" fill="none" stroke="#72ff72" stroke-width="1.0"/>
<path d="M481.8,795.9 V803.3 M477.8,795.9 h8 M477.8,803.3 h8" stroke="#72ff72" stroke-width="1" fill="none"/>
<rect x="477.7" y="795.5" width="8.2" height="8.2" fill="none" stroke="#72ff72" stroke-width="1.0"/>
<path d="M488.4,797.7 V812.7 M484.4,797.7 h8 M484.4,812.7 h8" stroke="#72ff72" stroke-width="1" fill="none"/>
<rect x="484.3" y="801.1" width="8.2" height="8.2" fill="none" stroke="#72ff72" stroke-width="1.0"/>
<path d="M494.9,794.0 V799.6 M490.9,794.0 h8 M490.9,799.6 h8" stroke="#72ff72" stroke-width="1" fill="none"/>
<rect x="490.8" y="792.7" width="8.2" height="8.2" fill="none" stroke="#72ff72" stroke-width="1.0"/>
<path d="M500.9,796.8 V811.8 M496.9,796.8 h8 M496.9,811.8 h8" stroke="#72ff72" stroke-width="1" fill="none"/>
<rect x="496.8" y="800.2" width="8.2" height="8.2" fill="none" stroke="#72ff72" stroke-width="1.0"/>
<path d="M507.5,794.9 V809.9 M503.5,794.9 h8 M503.5,809.9 h8" stroke="#72ff72" stroke-width="1" fill="none"/>
<rect x="503.4" y="798.3" width="8.2" height="8.2" fill="none" stroke="#72ff72" stroke-width="1.0"/>
<path d="M513.7,796.8 V802.4 M509.7,796.8 h8 M509.7,802.4 h8" stroke="#72ff72" stroke-width="1" fill="none"/>
<rect x="509.6" y="795.5" width="8.2" height="8.2" fill="none" stroke="#72ff72" stroke-width="1.0"/>
<path d="M520.2,796.8 V815.6 M516.2,796.8 h8 M516.2,815.6 h8" stroke="#72ff72" stroke-width="1" fill="none"/>
<rect x="516.1" y="802.1" width="8.2" height="8.2" fill="none" stroke="#72ff72" stroke-width="1.0"/>
<path d="M526.4,796.8 V802.4 M522.4,796.8 h8 M522.4,802.4 h8" stroke="#72ff72" stroke-width="1" fill="none"/>
<rect x="522.3" y="795.5" width="8.2" height="8.2" fill="none" stroke="#72ff72" stroke-width="1.0"/>
<path d="M532.4,800.0 V805.6 M528.4,800.0 h8 M528.4,805.6 h8" stroke="#72ff72" stroke-width="1" fill="none"/>
<rect x="528.3" y="798.7" width="8.2" height="8.2" fill="none" stroke="#72ff72" stroke-width="1.0"/>
<path d="M539.0,798.7 V804.3 M535.0,798.7 h8 M535.0,804.3 h8" stroke="#72ff72" stroke-width="1" fill="none"/>
<rect x="534.9" y="797.4" width="8.2" height="8.2" fill="none" stroke="#72ff72" stroke-width="1.0"/>
<path d="M546.1,803.0 V808.6 M542.1,803.0 h8 M542.1,808.6 h8" stroke="#72ff72" stroke-width="1" fill="none"/>
<rect x="542.0" y="801.7" width="8.2" height="8.2" fill="none" stroke="#72ff72" stroke-width="1.0"/>
<path d="M552.7,789.8 V799.2 M548.7,789.8 h8 M548.7,799.2 h8" stroke="#72ff72" stroke-width="1" fill="none"/>
<rect x="548.6" y="790.4" width="8.2" height="8.2" fill="none" stroke="#72ff72" stroke-width="1.0"/>
<path d="M559.6,801.5 V807.1 M555.6,801.5 h8 M555.6,807.1 h8" stroke="#72ff72" stroke-width="1" fill="none"/>
<rect x="555.5" y="800.2" width="8.2" height="8.2" fill="none" stroke="#72ff72" stroke-width="1.0"/>
<path d="M565.8,801.5 V823.9 M561.8,801.5 h8 M561.8,823.9 h8" stroke="#72ff72" stroke-width="1" fill="none"/>
<rect x="561.7" y="808.6" width="8.2" height="8.2" fill="none" stroke="#72ff72" stroke-width="1.0"/>
<path d="M571.8,808.0 V813.6 M567.8,808.0 h8 M567.8,813.6 h8" stroke="#72ff72" stroke-width="1" fill="none"/>
<rect x="567.7" y="806.7" width="8.2" height="8.2" fill="none" stroke="#72ff72" stroke-width="1.0"/>
<path d="M578.3,794.9 V800.5 M574.3,794.9 h8 M574.3,800.5 h8" stroke="#72ff72" stroke-width="1" fill="none"/>
<rect x="574.2" y="793.6" width="8.2" height="8.2" fill="none" stroke="#72ff72" stroke-width="1.0"/>
<path d="M585.5,797.7 V803.3 M581.5,797.7 h8 M581.5,803.3 h8" stroke="#72ff72" stroke-width="1" fill="none"/>
<rect x="581.4" y="796.4" width="8.2" height="8.2" fill="none" stroke="#72ff72" stroke-width="1.0"/>
<path d="M148.7,809.7 L150.9,809.5 L153.1,809.2 L155.3,808.9 L157.5,808.6 L159.7,808.3 L161.9,808.0 L164.1,807.7 L166.3,807.3 L168.5,807.0 L170.6,806.7 L172.8,806.4 L175.0,806.1 L177.2,805.8 L179.4,805.5 L181.6,805.1 L183.8,804.8 L186.0,804.5 L188.2,804.2 L190.4,803.9 L192.6,803.5 L194.8,803.2 L197.0,802.9 L199.2,802.6 L201.4,802.3 L203.6,802.0 L205.8,801.7 L208.0,801.4 L210.1,801.1 L212.3,800.8 L214.5,800.5 L216.7,800.2 L218.9,800.0 L221.1,799.7 L223.3,799.5 L225.5,799.3 L227.7,799.1 L229.9,798.9 L232.1,798.7 L234.3,798.5 L236.5,798.4 L238.7,798.3 L240.9,798.2 L243.1,798.2 L245.3,798.1 L247.5,798.2 L249.6,798.2 L251.8,798.3 L254.0,798.4 L256.2,798.6 L258.4,798.9 L260.6,799.2 L262.8,799.5 L265.0,800.0 L267.2,800.5 L269.4,801.1 L271.6,801.7 L273.8,802.5 L276.0,803.4 L278.2,804.3 L280.4,805.4 L282.6,806.6 L284.8,807.9 L287.0,809.4 L289.1,811.0 L291.3,812.8 L293.5,814.8 L295.7,816.9 L297.9,819.2 L300.1,821.7 L302.3,824.5 L304.5,827.4 L306.7,830.6 L308.9,834.0 L311.1,837.7 L313.3,841.6 L315.5,845.7 L317.7,850.1 L319.9,854.8 L322.1,859.8 L324.3,864.9 L326.5,870.3 L328.6,875.9 L330.8,881.7 L333.0,887.7 L335.2,893.8 L337.4,899.9 L339.6,906.1 L341.8,912.3 L344.0,918.3 L346.2,924.2 L348.4,929.9 L350.6,935.3 L352.8,940.3 L355.0,944.9 L357.2,949.0 L359.4,952.6 L361.6,955.6 L363.8,958.0 L366.0,959.8 L368.1,961.1 L370.3,961.8 L372.5,962.1 L374.7,962.1 L376.9,961.7 L379.1,960.8 L381.3,959.4 L383.5,957.5 L385.7,954.9 L387.9,951.8 L390.1,948.1 L392.3,943.8 L394.5,939.1 L396.7,934.0 L398.9,928.5 L401.1,922.8 L403.3,916.9 L405.5,910.8 L407.6,904.6 L409.8,898.4 L412.0,892.3 L414.2,886.2 L416.4,880.3 L418.6,874.5 L420.8,869.0 L423.0,863.6 L425.2,858.5 L427.4,853.7 L429.6,849.0 L431.8,844.7 L434.0,840.6 L436.2,836.7 L438.4,833.1 L440.6,829.8 L442.8,826.7 L445.0,823.8 L447.1,821.1 L449.3,818.6 L451.5,816.4 L453.7,814.3 L455.9,812.4 L458.1,810.6 L460.3,809.0 L462.5,807.6 L464.7,806.3 L466.9,805.1 L469.1,804.1 L471.3,803.1 L473.5,802.3 L475.7,801.6 L477.9,800.9 L480.1,800.3 L482.3,799.9 L484.5,799.4 L486.6,799.1 L488.8,798.8 L491.0,798.6 L493.2,798.4 L495.4,798.3 L497.6,798.2 L499.8,798.1 L502.0,798.1 L504.2,798.2 L506.4,798.2 L508.6,798.3 L510.8,798.4 L513.0,798.6 L515.2,798.7 L517.4,798.9 L519.6,799.1 L521.8,799.3 L524.0,799.5 L526.1,799.8 L528.3,800.0 L530.5,800.3 L532.7,800.6 L534.9,800.9 L537.1,801.1 L539.3,801.4 L541.5,801.7 L543.7,802.0 L545.9,802.4 L548.1,802.7 L550.3,803.0 L552.5,803.3 L554.7,803.6 L556.9,803.9 L559.1,804.3 L561.3,804.6 L563.5,804.9 L565.6,805.2 L567.8,805.5 L570.0,805.9 L572.2,806.2 L574.4,806.5 L576.6,806.8 L578.8,807.1 L581.0,807.4 L583.2,807.7 L585.4,808.0" fill="none" stroke="#00ff00" stroke-width="2.7" stroke-linejoin="round" stroke-linecap="round"/>
<path d="M93.0,1003.7 h9 M93.0,955.2 h4.5 M93.0,906.6 h9 M93.0,858.1 h4.5 M93.0,809.5 h9 M93.0,761.0 h4.5 M93.0,712.5 h9 M93.0,663.9 h4.5 M93.0,615.4 h9 M133.1,1003.7 v-9 M173.2,1003.7 v-4.5 M213.3,1003.7 v-9 M253.4,1003.7 v-4.5 M293.5,1003.7 v-9 M333.6,1003.7 v-4.5 M373.7,1003.7 v-9 M413.8,1003.7 v-4.5 M453.9,1003.7 v-9 M494.0,1003.7 v-4.5 M534.1,1003.7 v-9 M574.2,1003.7 v-4.5 M614.3,1003.7 v-9" stroke="#000" stroke-width="2.2" fill="none"/>
<rect x="93" y="603.4" width="561.4" height="400.3" fill="none" stroke="#000" stroke-width="2.2"/>
<text transform="translate(83.00,624.40) scale(1,1.05)" text-anchor="end" font-size="28">1.2</text>
<text transform="translate(83.00,721.47) scale(1,1.05)" text-anchor="end" font-size="28">0.8</text>
<text transform="translate(83.00,818.55) scale(1,1.05)" text-anchor="end" font-size="28">0.4</text>
<text transform="translate(83.00,915.62) scale(1,1.05)" text-anchor="end" font-size="28">0.0</text>
<text transform="translate(83.00,1012.70) scale(1,1.05)" text-anchor="end" font-size="28">-0.4</text>
<text transform="translate(133.10,1035.30) scale(1,1.05)" text-anchor="middle" font-size="28">-150</text>
<text transform="translate(213.30,1035.30) scale(1,1.05)" text-anchor="middle" font-size="28">-100</text>
<text transform="translate(293.50,1035.30) scale(1,1.05)" text-anchor="middle" font-size="28">-50</text>
<text transform="translate(373.70,1035.30) scale(1,1.05)" text-anchor="middle" font-size="28">0</text>
<text transform="translate(453.90,1035.30) scale(1,1.05)" text-anchor="middle" font-size="28">50</text>
<text transform="translate(534.10,1035.30) scale(1,1.05)" text-anchor="middle" font-size="28">100</text>
<text transform="translate(614.30,1035.30) scale(1,1.05)" text-anchor="middle" font-size="28">150</text>
<text transform="translate(21.50,594.50) scale(1,1.05)" font-size="35">(c)</text>
<text transform="translate(380.10,1072.80) scale(1,1.05)" text-anchor="middle" font-size="36.3">z (mm)</text>
<text transform="translate(34.9,805) rotate(-90) scale(1,1.05)" text-anchor="middle" font-size="35.8">Normalized Transmission</text>
<path d="M459.0,897.5 L464.6,907.5 L453.4,907.5 Z" fill="none" stroke="#72ff72" stroke-width="1.1"/>
<text transform="translate(491.50,910.00) scale(1,1.05)" font-size="28">0.11</text>
<circle cx="459.0" cy="937.5" r="5" fill="none" stroke="#72ff72" stroke-width="1.1"/>
<text transform="translate(491.50,946.00) scale(1,1.05)" font-size="28">0.36</text>
<rect x="454.9" y="971.9" width="8.2" height="8.2" fill="none" stroke="#72ff72" stroke-width="1.1"/>
<text transform="translate(491.50,982.50) scale(1,1.05)" font-size="28">0.64 GW/cm<tspan font-size="17" dy="-13">2</tspan></text>
<text transform="translate(127.50,935.00) scale(1,1.05)" font-size="25" style="font-weight:normal">λ</text>
<text transform="translate(141.00,945.50) scale(1,1.05)" font-size="16" style="font-weight:normal">ex</text>
<text transform="translate(163.00,935.00) scale(1,1.05)" font-size="27.3">= 550 nm</text>
<text transform="translate(129.00,979.00) scale(1,1.05)" font-size="27.5">T</text>
<text transform="translate(167.00,979.00) scale(1,1.05)" font-size="27.5">= 53.2%</text>
<path d="M828.4,652.2 L834.0,662.2 L822.8,662.2 Z" fill="none" stroke="#b9b972" stroke-width="1.0"/>
<path d="M835.0,661.5 L840.6,671.5 L829.4,671.5 Z" fill="none" stroke="#b9b972" stroke-width="1.0"/>
<path d="M841.2,666.2 L846.8,676.2 L835.6,676.2 Z" fill="none" stroke="#b9b972" stroke-width="1.0"/>
<path d="M847.7,645.2 L853.3,655.2 L842.1,655.2 Z" fill="none" stroke="#b9b972" stroke-width="1.0"/>
<path d="M854.1,670.9 L859.7,680.9 L848.5,680.9 Z" fill="none" stroke="#b9b972" stroke-width="1.0"/>
<path d="M860.7,676.0 L866.3,686.0 L855.1,686.0 Z" fill="none" stroke="#b9b972" stroke-width="1.0"/>
<path d="M866.8,665.9 L872.4,675.9 L861.2,675.9 Z" fill="none" stroke="#b9b972" stroke-width="1.0"/>
<path d="M873.0,644.7 L878.6,654.7 L867.4,654.7 Z" fill="none" stroke="#b9b972" stroke-width="1.0"/>
<path d="M879.6,647.1 L885.2,657.1 L874.0,657.1 Z" fill="none" stroke="#b9b972" stroke-width="1.0"/>
<path d="M886.0,670.4 L891.6,680.4 L880.4,680.4 Z" fill="none" stroke="#b9b972" stroke-width="1.0"/>
<path d="M892.3,685.9 L897.9,695.9 L886.7,695.9 Z" fill="none" stroke="#b9b972" stroke-width="1.0"/>
<path d="M898.7,670.9 L904.3,680.9 L893.1,680.9 Z" fill="none" stroke="#b9b972" stroke-width="1.0"/>
<path d="M905.3,670.9 L910.9,680.9 L899.7,680.9 Z" fill="none" stroke="#b9b972" stroke-width="1.0"/>
<path d="M911.8,649.4 L917.4,659.4 L906.2,659.4 Z" fill="none" stroke="#b9b972" stroke-width="1.0"/>
<path d="M918.0,665.3 L923.6,675.3 L912.4,675.3 Z" fill="none" stroke="#b9b972" stroke-width="1.0"/>
<path d="M924.4,657.8 L930.0,667.8 L918.8,667.8 Z" fill="none" stroke="#b9b972" stroke-width="1.0"/>
<path d="M930.7,647.5 L936.3,657.5 L925.1,657.5 Z" fill="none" stroke="#b9b972" stroke-width="1.0"/>
<path d="M937.1,655.9 L942.7,665.9 L931.5,665.9 Z" fill="none" stroke="#b9b972" stroke-width="1.0"/>
<path d="M943.5,668.1 L949.1,678.1 L937.9,678.1 Z" fill="none" stroke="#b9b972" stroke-width="1.0"/>
<path d="M949.9,675.2 L955.5,685.2 L944.3,685.2 Z" fill="none" stroke="#b9b972" stroke-width="1.0"/>
<path d="M956.4,640.9 L962.0,650.9 L950.8,650.9 Z" fill="none" stroke="#b9b972" stroke-width="1.0"/>
<path d="M962.8,682.2 L968.4,692.2 L957.2,692.2 Z" fill="none" stroke="#b9b972" stroke-width="1.0"/>
<path d="M969.2,652.2 L974.8,662.2 L963.6,662.2 Z" fill="none" stroke="#b9b972" stroke-width="1.0"/>
<path d="M975.5,662.1 L981.1,672.1 L969.9,672.1 Z" fill="none" stroke="#b9b972" stroke-width="1.0"/>
<path d="M981.9,689.7 L987.5,699.7 L976.3,699.7 Z" fill="none" stroke="#b9b972" stroke-width="1.0"/>
<path d="M988.3,690.6 L993.9,700.6 L982.7,700.6 Z" fill="none" stroke="#b9b972" stroke-width="1.0"/>
<path d="M994.7,674.7 L1000.3,684.7 L989.1,684.7 Z" fill="none" stroke="#b9b972" stroke-width="1.0"/>
<path d="M1001.0,677.5 L1006.6,687.5 L995.4,687.5 Z" fill="none" stroke="#b9b972" stroke-width="1.0"/>
<path d="M1007.4,679.7 L1013.0,689.7 L1001.8,689.7 Z" fill="none" stroke="#b9b972" stroke-width="1.0"/>
<path d="M1013.8,681.2 L1019.4,691.2 L1008.2,691.2 Z" fill="none" stroke="#b9b972" stroke-width="1.0"/>
<path d="M1020.3,642.8 L1025.9,652.8 L1014.7,652.8 Z" fill="none" stroke="#b9b972" stroke-width="1.0"/>
<path d="M1026.7,671.9 L1032.3,681.9 L1021.1,681.9 Z" fill="none" stroke="#b9b972" stroke-width="1.0"/>
<path d="M1033.1,661.5 L1038.7,671.5 L1027.5,671.5 Z" fill="none" stroke="#b9b972" stroke-width="1.0"/>
<path d="M1039.4,677.1 L1045.0,687.1 L1033.8,687.1 Z" fill="none" stroke="#b9b972" stroke-width="1.0"/>
<path d="M1045.8,690.2 L1051.4,700.2 L1040.2,700.2 Z" fill="none" stroke="#b9b972" stroke-width="1.0"/>
<path d="M1052.0,672.2 L1057.6,682.2 L1046.4,682.2 Z" fill="none" stroke="#b9b972" stroke-width="1.0"/>
<path d="M1059.1,663.4 L1064.7,673.4 L1053.5,673.4 Z" fill="none" stroke="#b9b972" stroke-width="1.0"/>
<path d="M1065.2,651.2 L1070.8,661.2 L1059.6,661.2 Z" fill="none" stroke="#b9b972" stroke-width="1.0"/>
<path d="M1071.6,655.9 L1077.2,665.9 L1066.0,665.9 Z" fill="none" stroke="#b9b972" stroke-width="1.0"/>
<path d="M1078.0,670.4 L1083.6,680.4 L1072.4,680.4 Z" fill="none" stroke="#b9b972" stroke-width="1.0"/>
<path d="M1084.4,662.1 L1090.0,672.1 L1078.8,672.1 Z" fill="none" stroke="#b9b972" stroke-width="1.0"/>
<path d="M1090.9,667.2 L1096.5,677.2 L1085.3,677.2 Z" fill="none" stroke="#b9b972" stroke-width="1.0"/>
<path d="M1097.1,652.7 L1102.7,662.7 L1091.5,662.7 Z" fill="none" stroke="#b9b972" stroke-width="1.0"/>
<path d="M1103.1,670.0 L1108.7,680.0 L1097.5,680.0 Z" fill="none" stroke="#b9b972" stroke-width="1.0"/>
<path d="M1109.7,671.5 L1115.3,681.5 L1104.1,681.5 Z" fill="none" stroke="#b9b972" stroke-width="1.0"/>
<path d="M1116.2,657.2 L1121.8,667.2 L1110.6,667.2 Z" fill="none" stroke="#b9b972" stroke-width="1.0"/>
<path d="M1122.6,679.3 L1128.2,689.3 L1117.0,689.3 Z" fill="none" stroke="#b9b972" stroke-width="1.0"/>
<path d="M1129.0,669.6 L1134.6,679.6 L1123.4,679.6 Z" fill="none" stroke="#b9b972" stroke-width="1.0"/>
<path d="M1135.5,651.2 L1141.1,661.2 L1129.9,661.2 Z" fill="none" stroke="#b9b972" stroke-width="1.0"/>
<path d="M1141.9,639.1 L1147.5,649.1 L1136.3,649.1 Z" fill="none" stroke="#b9b972" stroke-width="1.0"/>
<path d="M1148.1,683.5 L1153.7,693.5 L1142.5,693.5 Z" fill="none" stroke="#b9b972" stroke-width="1.0"/>
<path d="M1154.6,641.5 L1160.2,651.5 L1149.0,651.5 Z" fill="none" stroke="#b9b972" stroke-width="1.0"/>
<path d="M1161.2,664.7 L1166.8,674.7 L1155.6,674.7 Z" fill="none" stroke="#b9b972" stroke-width="1.0"/>
<path d="M1167.6,654.0 L1173.2,664.0 L1162.0,664.0 Z" fill="none" stroke="#b9b972" stroke-width="1.0"/>
<path d="M1173.9,670.0 L1179.5,680.0 L1168.3,680.0 Z" fill="none" stroke="#b9b972" stroke-width="1.0"/>
<path d="M1180.1,667.2 L1185.7,677.2 L1174.5,677.2 Z" fill="none" stroke="#b9b972" stroke-width="1.0"/>
<path d="M1186.9,661.0 L1192.5,671.0 L1181.3,671.0 Z" fill="none" stroke="#b9b972" stroke-width="1.0"/>
<path d="M1193.1,651.6 L1198.7,661.6 L1187.5,661.6 Z" fill="none" stroke="#b9b972" stroke-width="1.0"/>
<path d="M1199.2,655.4 L1204.8,665.4 L1193.6,665.4 Z" fill="none" stroke="#b9b972" stroke-width="1.0"/>
<path d="M1205.8,657.2 L1211.4,667.2 L1200.2,667.2 Z" fill="none" stroke="#b9b972" stroke-width="1.0"/>
<path d="M1212.2,643.7 L1217.8,653.7 L1206.6,653.7 Z" fill="none" stroke="#b9b972" stroke-width="1.0"/>
<path d="M1218.5,662.1 L1224.1,672.1 L1212.9,672.1 Z" fill="none" stroke="#b9b972" stroke-width="1.0"/>
<path d="M1224.9,680.7 L1230.5,690.7 L1219.3,690.7 Z" fill="none" stroke="#b9b972" stroke-width="1.0"/>
<path d="M1231.1,664.4 L1236.7,674.4 L1225.5,674.4 Z" fill="none" stroke="#b9b972" stroke-width="1.0"/>
<path d="M1237.5,669.4 L1243.1,679.4 L1231.9,679.4 Z" fill="none" stroke="#b9b972" stroke-width="1.0"/>
<path d="M1243.8,683.5 L1249.4,693.5 L1238.2,693.5 Z" fill="none" stroke="#b9b972" stroke-width="1.0"/>
<path d="M1250.2,670.0 L1255.8,680.0 L1244.6,680.0 Z" fill="none" stroke="#b9b972" stroke-width="1.0"/>
<path d="M1256.8,676.5 L1262.4,686.5 L1251.2,686.5 Z" fill="none" stroke="#b9b972" stroke-width="1.0"/>
<path d="M1263.3,670.0 L1268.9,680.0 L1257.7,680.0 Z" fill="none" stroke="#b9b972" stroke-width="1.0"/>
<path d="M819.5,670.0 L821.8,670.0 L824.1,670.0 L826.5,670.0 L828.8,670.0 L831.1,669.9 L833.4,669.9 L835.8,669.9 L838.1,669.9 L840.4,669.9 L842.7,669.9 L845.0,669.9 L847.4,669.9 L849.7,669.8 L852.0,669.8 L854.3,669.8 L856.7,669.8 L859.0,669.8 L861.3,669.8 L863.6,669.8 L865.9,669.8 L868.3,669.8 L870.6,669.7 L872.9,669.7 L875.2,669.7 L877.6,669.7 L879.9,669.7 L882.2,669.7 L884.5,669.7 L886.8,669.7 L889.2,669.7 L891.5,669.6 L893.8,669.6 L896.1,669.6 L898.5,669.6 L900.8,669.6 L903.1,669.6 L905.4,669.6 L907.7,669.6 L910.1,669.5 L912.4,669.5 L914.7,669.5 L917.0,669.5 L919.4,669.5 L921.7,669.5 L924.0,669.5 L926.3,669.5 L928.6,669.5 L931.0,669.4 L933.3,669.4 L935.6,669.4 L937.9,669.4 L940.2,669.4 L942.6,669.4 L944.9,669.4 L947.2,669.4 L949.5,669.4 L951.9,669.3 L954.2,669.3 L956.5,669.3 L958.8,669.3 L961.1,669.3 L963.5,669.3 L965.8,669.3 L968.1,669.3 L970.4,669.2 L972.8,669.2 L975.1,669.2 L977.4,669.2 L979.7,669.2 L982.0,669.2 L984.4,669.2 L986.7,669.2 L989.0,669.2 L991.3,669.1 L993.7,669.1 L996.0,669.1 L998.3,669.1 L1000.6,669.1 L1002.9,669.1 L1005.3,669.1 L1007.6,669.1 L1009.9,669.1 L1012.2,669.0 L1014.6,669.0 L1016.9,669.0 L1019.2,669.0 L1021.5,669.0 L1023.8,669.0 L1026.2,669.0 L1028.5,669.0 L1030.8,668.9 L1033.1,668.9 L1035.5,668.9 L1037.8,668.9 L1040.1,668.9 L1042.4,668.9 L1044.7,668.9 L1047.1,668.9 L1049.4,668.9 L1051.7,668.8 L1054.0,668.8 L1056.4,668.8 L1058.7,668.8 L1061.0,668.8 L1063.3,668.8 L1065.6,668.8 L1068.0,668.8 L1070.3,668.8 L1072.6,668.7 L1074.9,668.7 L1077.3,668.7 L1079.6,668.7 L1081.9,668.7 L1084.2,668.7 L1086.5,668.7 L1088.9,668.7 L1091.2,668.6 L1093.5,668.6 L1095.8,668.6 L1098.2,668.6 L1100.5,668.6 L1102.8,668.6 L1105.1,668.6 L1107.4,668.6 L1109.8,668.6 L1112.1,668.5 L1114.4,668.5 L1116.7,668.5 L1119.1,668.5 L1121.4,668.5 L1123.7,668.5 L1126.0,668.5 L1128.3,668.5 L1130.7,668.5 L1133.0,668.4 L1135.3,668.4 L1137.6,668.4 L1140.0,668.4 L1142.3,668.4 L1144.6,668.4 L1146.9,668.4 L1149.2,668.4 L1151.6,668.3 L1153.9,668.3 L1156.2,668.3 L1158.5,668.3 L1160.9,668.3 L1163.2,668.3 L1165.5,668.3 L1167.8,668.3 L1170.1,668.3 L1172.5,668.2 L1174.8,668.2 L1177.1,668.2 L1179.4,668.2 L1181.7,668.2 L1184.1,668.2 L1186.4,668.2 L1188.7,668.2 L1191.0,668.2 L1193.4,668.1 L1195.7,668.1 L1198.0,668.1 L1200.3,668.1 L1202.6,668.1 L1205.0,668.1 L1207.3,668.1 L1209.6,668.1 L1211.9,668.0 L1214.3,668.0 L1216.6,668.0 L1218.9,668.0 L1221.2,668.0 L1223.5,668.0 L1225.9,668.0 L1228.2,668.0 L1230.5,668.0 L1232.8,667.9 L1235.2,667.9 L1237.5,667.9 L1239.8,667.9 L1242.1,667.9 L1244.4,667.9 L1246.8,667.9 L1249.1,667.9 L1251.4,667.9 L1253.7,667.8 L1256.1,667.8 L1258.4,667.8 L1260.7,667.8 L1263.0,667.8 L1265.3,667.8 L1267.7,667.8 L1270.0,667.8 L1272.3,667.7 L1274.6,667.7 L1277.0,667.7 L1279.3,667.7 L1281.6,667.7" fill="none" stroke="#808000" stroke-width="2.7" stroke-linejoin="round" stroke-linecap="round"/>
<path d="M825.2,726.3 V733.7 M821.2,726.3 h8 M821.2,733.7 h8" stroke="#b9b972" stroke-width="1" fill="none"/>
<rect x="821.1" y="725.9" width="8.2" height="8.2" fill="none" stroke="#b9b972" stroke-width="1.0"/>
<path d="M831.8,734.7 V740.3 M827.8,734.7 h8 M827.8,740.3 h8" stroke="#b9b972" stroke-width="1" fill="none"/>
<rect x="827.7" y="733.4" width="8.2" height="8.2" fill="none" stroke="#b9b972" stroke-width="1.0"/>
<path d="M837.8,743.7 V749.3 M833.8,743.7 h8 M833.8,749.3 h8" stroke="#b9b972" stroke-width="1" fill="none"/>
<rect x="833.7" y="742.4" width="8.2" height="8.2" fill="none" stroke="#b9b972" stroke-width="1.0"/>
<path d="M844.4,726.2 V731.8 M840.4,726.2 h8 M840.4,731.8 h8" stroke="#b9b972" stroke-width="1" fill="none"/>
<rect x="840.3" y="724.9" width="8.2" height="8.2" fill="none" stroke="#b9b972" stroke-width="1.0"/>
<path d="M850.5,738.4 V749.6 M846.5,738.4 h8 M846.5,749.6 h8" stroke="#b9b972" stroke-width="1" fill="none"/>
<rect x="846.4" y="739.9" width="8.2" height="8.2" fill="none" stroke="#b9b972" stroke-width="1.0"/>
<path d="M857.1,743.7 V749.3 M853.1,743.7 h8 M853.1,749.3 h8" stroke="#b9b972" stroke-width="1" fill="none"/>
<rect x="853.0" y="742.4" width="8.2" height="8.2" fill="none" stroke="#b9b972" stroke-width="1.0"/>
<path d="M863.7,730.4 V741.6 M859.7,730.4 h8 M859.7,741.6 h8" stroke="#b9b972" stroke-width="1" fill="none"/>
<rect x="859.6" y="731.9" width="8.2" height="8.2" fill="none" stroke="#b9b972" stroke-width="1.0"/>
<path d="M870.0,718.8 V724.4 M866.0,718.8 h8 M866.0,724.4 h8" stroke="#b9b972" stroke-width="1" fill="none"/>
<rect x="865.9" y="717.5" width="8.2" height="8.2" fill="none" stroke="#b9b972" stroke-width="1.0"/>
<path d="M876.2,752.5 V758.1 M872.2,752.5 h8 M872.2,758.1 h8" stroke="#b9b972" stroke-width="1" fill="none"/>
<rect x="872.1" y="751.2" width="8.2" height="8.2" fill="none" stroke="#b9b972" stroke-width="1.0"/>
<path d="M882.4,731.9 V737.5 M878.4,731.9 h8 M878.4,737.5 h8" stroke="#b9b972" stroke-width="1" fill="none"/>
<rect x="878.3" y="730.6" width="8.2" height="8.2" fill="none" stroke="#b9b972" stroke-width="1.0"/>
<path d="M889.3,728.1 V733.7 M885.3,728.1 h8 M885.3,733.7 h8" stroke="#b9b972" stroke-width="1" fill="none"/>
<rect x="885.2" y="726.8" width="8.2" height="8.2" fill="none" stroke="#b9b972" stroke-width="1.0"/>
<path d="M895.5,745.4 V756.6 M891.5,745.4 h8 M891.5,756.6 h8" stroke="#b9b972" stroke-width="1" fill="none"/>
<rect x="891.4" y="746.9" width="8.2" height="8.2" fill="none" stroke="#b9b972" stroke-width="1.0"/>
<path d="M901.5,735.6 V741.2 M897.5,735.6 h8 M897.5,741.2 h8" stroke="#b9b972" stroke-width="1" fill="none"/>
<rect x="897.4" y="734.3" width="8.2" height="8.2" fill="none" stroke="#b9b972" stroke-width="1.0"/>
<path d="M908.1,734.7 V749.7 M904.1,734.7 h8 M904.1,749.7 h8" stroke="#b9b972" stroke-width="1" fill="none"/>
<rect x="904.0" y="738.1" width="8.2" height="8.2" fill="none" stroke="#b9b972" stroke-width="1.0"/>
<path d="M914.6,731.9 V743.1 M910.6,731.9 h8 M910.6,743.1 h8" stroke="#b9b972" stroke-width="1" fill="none"/>
<rect x="910.5" y="733.4" width="8.2" height="8.2" fill="none" stroke="#b9b972" stroke-width="1.0"/>
<path d="M921.2,746.9 V752.5 M917.2,746.9 h8 M917.2,752.5 h8" stroke="#b9b972" stroke-width="1" fill="none"/>
<rect x="917.1" y="745.6" width="8.2" height="8.2" fill="none" stroke="#b9b972" stroke-width="1.0"/>
<path d="M927.8,735.6 V741.2 M923.8,735.6 h8 M923.8,741.2 h8" stroke="#b9b972" stroke-width="1" fill="none"/>
<rect x="923.7" y="734.3" width="8.2" height="8.2" fill="none" stroke="#b9b972" stroke-width="1.0"/>
<path d="M934.3,746.3 V751.9 M930.3,746.3 h8 M930.3,751.9 h8" stroke="#b9b972" stroke-width="1" fill="none"/>
<rect x="930.2" y="745.0" width="8.2" height="8.2" fill="none" stroke="#b9b972" stroke-width="1.0"/>
<path d="M940.5,737.5 V744.9 M936.5,737.5 h8 M936.5,744.9 h8" stroke="#b9b972" stroke-width="1" fill="none"/>
<rect x="936.4" y="737.1" width="8.2" height="8.2" fill="none" stroke="#b9b972" stroke-width="1.0"/>
<path d="M946.9,737.5 V744.9 M942.9,737.5 h8 M942.9,744.9 h8" stroke="#b9b972" stroke-width="1" fill="none"/>
<rect x="942.8" y="737.1" width="8.2" height="8.2" fill="none" stroke="#b9b972" stroke-width="1.0"/>
<path d="M953.1,740.9 V755.9 M949.1,740.9 h8 M949.1,755.9 h8" stroke="#b9b972" stroke-width="1" fill="none"/>
<rect x="949.0" y="744.3" width="8.2" height="8.2" fill="none" stroke="#b9b972" stroke-width="1.0"/>
<path d="M959.6,746.9 V752.5 M955.6,746.9 h8 M955.6,752.5 h8" stroke="#b9b972" stroke-width="1" fill="none"/>
<rect x="955.5" y="745.6" width="8.2" height="8.2" fill="none" stroke="#b9b972" stroke-width="1.0"/>
<path d="M965.8,740.7 V776.3 M961.8,740.7 h8 M961.8,776.3 h8" stroke="#b9b972" stroke-width="1" fill="none"/>
<rect x="961.7" y="754.4" width="8.2" height="8.2" fill="none" stroke="#b9b972" stroke-width="1.0"/>
<path d="M972.4,737.5 V743.1 M968.4,737.5 h8 M968.4,743.1 h8" stroke="#b9b972" stroke-width="1" fill="none"/>
<rect x="968.3" y="736.2" width="8.2" height="8.2" fill="none" stroke="#b9b972" stroke-width="1.0"/>
<path d="M978.4,736.9 V761.3 M974.4,736.9 h8 M974.4,761.3 h8" stroke="#b9b972" stroke-width="1" fill="none"/>
<rect x="974.3" y="745.0" width="8.2" height="8.2" fill="none" stroke="#b9b972" stroke-width="1.0"/>
<path d="M984.9,732.8 V751.6 M980.9,732.8 h8 M980.9,751.6 h8" stroke="#b9b972" stroke-width="1" fill="none"/>
<rect x="980.8" y="738.1" width="8.2" height="8.2" fill="none" stroke="#b9b972" stroke-width="1.0"/>
<path d="M991.5,760.9 V766.5 M987.5,760.9 h8 M987.5,766.5 h8" stroke="#b9b972" stroke-width="1" fill="none"/>
<rect x="987.4" y="759.6" width="8.2" height="8.2" fill="none" stroke="#b9b972" stroke-width="1.0"/>
<path d="M998.0,740.7 V746.3 M994.0,740.7 h8 M994.0,746.3 h8" stroke="#b9b972" stroke-width="1" fill="none"/>
<rect x="993.9" y="739.4" width="8.2" height="8.2" fill="none" stroke="#b9b972" stroke-width="1.0"/>
<path d="M1004.6,747.8 V764.6 M1000.6,747.8 h8 M1000.6,764.6 h8" stroke="#b9b972" stroke-width="1" fill="none"/>
<rect x="1000.5" y="752.1" width="8.2" height="8.2" fill="none" stroke="#b9b972" stroke-width="1.0"/>
<path d="M1011.1,744.1 V749.7 M1007.1,744.1 h8 M1007.1,749.7 h8" stroke="#b9b972" stroke-width="1" fill="none"/>
<rect x="1007.0" y="742.8" width="8.2" height="8.2" fill="none" stroke="#b9b972" stroke-width="1.0"/>
<path d="M1017.1,739.9 V760.5 M1013.1,739.9 h8 M1013.1,760.5 h8" stroke="#b9b972" stroke-width="1" fill="none"/>
<rect x="1013.0" y="746.1" width="8.2" height="8.2" fill="none" stroke="#b9b972" stroke-width="1.0"/>
<path d="M1023.3,735.6 V754.4 M1019.3,735.6 h8 M1019.3,754.4 h8" stroke="#b9b972" stroke-width="1" fill="none"/>
<rect x="1019.2" y="740.9" width="8.2" height="8.2" fill="none" stroke="#b9b972" stroke-width="1.0"/>
<path d="M1029.9,754.4 V760.0 M1025.9,754.4 h8 M1025.9,760.0 h8" stroke="#b9b972" stroke-width="1" fill="none"/>
<rect x="1025.8" y="753.1" width="8.2" height="8.2" fill="none" stroke="#b9b972" stroke-width="1.0"/>
<path d="M1036.4,758.1 V763.7 M1032.4,758.1 h8 M1032.4,763.7 h8" stroke="#b9b972" stroke-width="1" fill="none"/>
<rect x="1032.3" y="756.8" width="8.2" height="8.2" fill="none" stroke="#b9b972" stroke-width="1.0"/>
<path d="M1042.6,750.6 V769.4 M1038.6,750.6 h8 M1038.6,769.4 h8" stroke="#b9b972" stroke-width="1" fill="none"/>
<rect x="1038.5" y="755.9" width="8.2" height="8.2" fill="none" stroke="#b9b972" stroke-width="1.0"/>
<path d="M1048.6,762.8 V774.0 M1044.6,762.8 h8 M1044.6,774.0 h8" stroke="#b9b972" stroke-width="1" fill="none"/>
<rect x="1044.5" y="764.3" width="8.2" height="8.2" fill="none" stroke="#b9b972" stroke-width="1.0"/>
<path d="M1055.3,756.8 V762.4 M1051.3,756.8 h8 M1051.3,762.4 h8" stroke="#b9b972" stroke-width="1" fill="none"/>
<rect x="1051.2" y="755.5" width="8.2" height="8.2" fill="none" stroke="#b9b972" stroke-width="1.0"/>
<path d="M1061.5,754.4 V760.0 M1057.5,754.4 h8 M1057.5,760.0 h8" stroke="#b9b972" stroke-width="1" fill="none"/>
<rect x="1057.4" y="753.1" width="8.2" height="8.2" fill="none" stroke="#b9b972" stroke-width="1.0"/>
<path d="M1068.1,745.0 V771.2 M1064.1,745.0 h8 M1064.1,771.2 h8" stroke="#b9b972" stroke-width="1" fill="none"/>
<rect x="1064.0" y="754.0" width="8.2" height="8.2" fill="none" stroke="#b9b972" stroke-width="1.0"/>
<path d="M1074.6,732.8 V747.8 M1070.6,732.8 h8 M1070.6,747.8 h8" stroke="#b9b972" stroke-width="1" fill="none"/>
<rect x="1070.5" y="736.2" width="8.2" height="8.2" fill="none" stroke="#b9b972" stroke-width="1.0"/>
<path d="M1080.6,712.2 V749.6 M1076.6,712.2 h8 M1076.6,749.6 h8" stroke="#b9b972" stroke-width="1" fill="none"/>
<rect x="1076.5" y="726.8" width="8.2" height="8.2" fill="none" stroke="#b9b972" stroke-width="1.0"/>
<path d="M1087.2,719.1 V745.3 M1083.2,719.1 h8 M1083.2,745.3 h8" stroke="#b9b972" stroke-width="1" fill="none"/>
<rect x="1083.1" y="728.1" width="8.2" height="8.2" fill="none" stroke="#b9b972" stroke-width="1.0"/>
<path d="M1094.1,713.1 V748.7 M1090.1,713.1 h8 M1090.1,748.7 h8" stroke="#b9b972" stroke-width="1" fill="none"/>
<rect x="1090.0" y="726.8" width="8.2" height="8.2" fill="none" stroke="#b9b972" stroke-width="1.0"/>
<path d="M1100.7,706.5 V725.3 M1096.7,706.5 h8 M1096.7,725.3 h8" stroke="#b9b972" stroke-width="1" fill="none"/>
<rect x="1096.6" y="711.8" width="8.2" height="8.2" fill="none" stroke="#b9b972" stroke-width="1.0"/>
<path d="M1106.8,737.5 V756.3 M1102.8,737.5 h8 M1102.8,756.3 h8" stroke="#b9b972" stroke-width="1" fill="none"/>
<rect x="1102.7" y="742.8" width="8.2" height="8.2" fill="none" stroke="#b9b972" stroke-width="1.0"/>
<path d="M1113.4,730.0 V735.6 M1109.4,730.0 h8 M1109.4,735.6 h8" stroke="#b9b972" stroke-width="1" fill="none"/>
<rect x="1109.3" y="728.7" width="8.2" height="8.2" fill="none" stroke="#b9b972" stroke-width="1.0"/>
<path d="M1119.6,736.6 V742.2 M1115.6,736.6 h8 M1115.6,742.2 h8" stroke="#b9b972" stroke-width="1" fill="none"/>
<rect x="1115.5" y="735.3" width="8.2" height="8.2" fill="none" stroke="#b9b972" stroke-width="1.0"/>
<path d="M1126.0,696.2 V756.2 M1122.0,696.2 h8 M1122.0,756.2 h8" stroke="#b9b972" stroke-width="1" fill="none"/>
<rect x="1121.9" y="722.1" width="8.2" height="8.2" fill="none" stroke="#b9b972" stroke-width="1.0"/>
<path d="M1132.1,724.4 V730.0 M1128.1,724.4 h8 M1128.1,730.0 h8" stroke="#b9b972" stroke-width="1" fill="none"/>
<rect x="1128.0" y="723.1" width="8.2" height="8.2" fill="none" stroke="#b9b972" stroke-width="1.0"/>
<path d="M1138.7,724.4 V739.4 M1134.7,724.4 h8 M1134.7,739.4 h8" stroke="#b9b972" stroke-width="1" fill="none"/>
<rect x="1134.6" y="727.8" width="8.2" height="8.2" fill="none" stroke="#b9b972" stroke-width="1.0"/>
<path d="M1145.3,713.1 V737.5 M1141.3,713.1 h8 M1141.3,737.5 h8" stroke="#b9b972" stroke-width="1" fill="none"/>
<rect x="1141.2" y="721.2" width="8.2" height="8.2" fill="none" stroke="#b9b972" stroke-width="1.0"/>
<path d="M1151.4,737.5 V743.1 M1147.4,737.5 h8 M1147.4,743.1 h8" stroke="#b9b972" stroke-width="1" fill="none"/>
<rect x="1147.3" y="736.2" width="8.2" height="8.2" fill="none" stroke="#b9b972" stroke-width="1.0"/>
<path d="M1157.8,727.2 V732.8 M1153.8,727.2 h8 M1153.8,732.8 h8" stroke="#b9b972" stroke-width="1" fill="none"/>
<rect x="1153.7" y="725.9" width="8.2" height="8.2" fill="none" stroke="#b9b972" stroke-width="1.0"/>
<path d="M1164.2,739.4 V745.0 M1160.2,739.4 h8 M1160.2,745.0 h8" stroke="#b9b972" stroke-width="1" fill="none"/>
<rect x="1160.1" y="738.1" width="8.2" height="8.2" fill="none" stroke="#b9b972" stroke-width="1.0"/>
<path d="M1170.6,732.8 V738.4 M1166.6,732.8 h8 M1166.6,738.4 h8" stroke="#b9b972" stroke-width="1" fill="none"/>
<rect x="1166.5" y="731.5" width="8.2" height="8.2" fill="none" stroke="#b9b972" stroke-width="1.0"/>
<path d="M1176.7,740.7 V746.3 M1172.7,740.7 h8 M1172.7,746.3 h8" stroke="#b9b972" stroke-width="1" fill="none"/>
<rect x="1172.6" y="739.4" width="8.2" height="8.2" fill="none" stroke="#b9b972" stroke-width="1.0"/>
<path d="M1183.3,729.0 V759.0 M1179.3,729.0 h8 M1179.3,759.0 h8" stroke="#b9b972" stroke-width="1" fill="none"/>
<rect x="1179.2" y="739.9" width="8.2" height="8.2" fill="none" stroke="#b9b972" stroke-width="1.0"/>
<path d="M1189.7,730.9 V736.5 M1185.7,730.9 h8 M1185.7,736.5 h8" stroke="#b9b972" stroke-width="1" fill="none"/>
<rect x="1185.6" y="729.6" width="8.2" height="8.2" fill="none" stroke="#b9b972" stroke-width="1.0"/>
<path d="M1196.0,715.9 V740.3 M1192.0,715.9 h8 M1192.0,740.3 h8" stroke="#b9b972" stroke-width="1" fill="none"/>
<rect x="1191.9" y="724.0" width="8.2" height="8.2" fill="none" stroke="#b9b972" stroke-width="1.0"/>
<path d="M1202.4,737.5 V743.1 M1198.4,737.5 h8 M1198.4,743.1 h8" stroke="#b9b972" stroke-width="1" fill="none"/>
<rect x="1198.3" y="736.2" width="8.2" height="8.2" fill="none" stroke="#b9b972" stroke-width="1.0"/>
<path d="M1209.0,731.9 V769.3 M1205.0,731.9 h8 M1205.0,769.3 h8" stroke="#b9b972" stroke-width="1" fill="none"/>
<rect x="1204.9" y="746.5" width="8.2" height="8.2" fill="none" stroke="#b9b972" stroke-width="1.0"/>
<path d="M1215.2,733.2 V738.8 M1211.2,733.2 h8 M1211.2,738.8 h8" stroke="#b9b972" stroke-width="1" fill="none"/>
<rect x="1211.1" y="731.9" width="8.2" height="8.2" fill="none" stroke="#b9b972" stroke-width="1.0"/>
<path d="M1221.5,732.8 V738.4 M1217.5,732.8 h8 M1217.5,738.4 h8" stroke="#b9b972" stroke-width="1" fill="none"/>
<rect x="1217.4" y="731.5" width="8.2" height="8.2" fill="none" stroke="#b9b972" stroke-width="1.0"/>
<path d="M1227.7,726.2 V741.2 M1223.7,726.2 h8 M1223.7,741.2 h8" stroke="#b9b972" stroke-width="1" fill="none"/>
<rect x="1223.6" y="729.6" width="8.2" height="8.2" fill="none" stroke="#b9b972" stroke-width="1.0"/>
<path d="M1234.3,731.9 V737.5 M1230.3,731.9 h8 M1230.3,737.5 h8" stroke="#b9b972" stroke-width="1" fill="none"/>
<rect x="1230.2" y="730.6" width="8.2" height="8.2" fill="none" stroke="#b9b972" stroke-width="1.0"/>
<path d="M1240.8,737.5 V743.1 M1236.8,737.5 h8 M1236.8,743.1 h8" stroke="#b9b972" stroke-width="1" fill="none"/>
<rect x="1236.7" y="736.2" width="8.2" height="8.2" fill="none" stroke="#b9b972" stroke-width="1.0"/>
<path d="M1247.4,722.5 V744.9 M1243.4,722.5 h8 M1243.4,744.9 h8" stroke="#b9b972" stroke-width="1" fill="none"/>
<rect x="1243.3" y="729.6" width="8.2" height="8.2" fill="none" stroke="#b9b972" stroke-width="1.0"/>
<path d="M1253.4,711.2 V741.2 M1249.4,711.2 h8 M1249.4,741.2 h8" stroke="#b9b972" stroke-width="1" fill="none"/>
<rect x="1249.3" y="722.1" width="8.2" height="8.2" fill="none" stroke="#b9b972" stroke-width="1.0"/>
<path d="M1260.1,722.1 V740.9 M1256.1,722.1 h8 M1256.1,740.9 h8" stroke="#b9b972" stroke-width="1" fill="none"/>
<rect x="1256.0" y="727.4" width="8.2" height="8.2" fill="none" stroke="#b9b972" stroke-width="1.0"/>
<path d="M824.4,741.7 L826.6,741.6 L828.8,741.5 L831.0,741.4 L833.2,741.3 L835.4,741.2 L837.6,741.1 L839.8,741.0 L842.0,740.9 L844.1,740.8 L846.3,740.7 L848.5,740.6 L850.7,740.5 L852.9,740.4 L855.1,740.3 L857.3,740.2 L859.5,740.1 L861.7,740.0 L863.9,739.9 L866.1,739.8 L868.3,739.6 L870.5,739.5 L872.7,739.4 L874.9,739.3 L877.1,739.1 L879.2,739.0 L881.4,738.9 L883.6,738.7 L885.8,738.6 L888.0,738.5 L890.2,738.3 L892.4,738.2 L894.6,738.0 L896.8,737.9 L899.0,737.8 L901.2,737.6 L903.4,737.5 L905.6,737.3 L907.8,737.2 L910.0,737.0 L912.2,736.9 L914.4,736.7 L916.5,736.6 L918.7,736.4 L920.9,736.3 L923.1,736.1 L925.3,736.0 L927.5,735.8 L929.7,735.7 L931.9,735.5 L934.1,735.4 L936.3,735.3 L938.5,735.1 L940.7,735.0 L942.9,734.9 L945.1,734.8 L947.3,734.7 L949.5,734.6 L951.7,734.5 L953.8,734.4 L956.0,734.4 L958.2,734.3 L960.4,734.3 L962.6,734.3 L964.8,734.3 L967.0,734.3 L969.2,734.4 L971.4,734.5 L973.6,734.6 L975.8,734.8 L978.0,735.0 L980.2,735.3 L982.4,735.6 L984.6,735.9 L986.8,736.3 L988.9,736.8 L991.1,737.4 L993.3,738.0 L995.5,738.7 L997.7,739.6 L999.9,740.5 L1002.1,741.5 L1004.3,742.7 L1006.5,744.0 L1008.7,745.4 L1010.9,747.0 L1013.1,748.7 L1015.3,750.5 L1017.5,752.4 L1019.7,754.5 L1021.9,756.6 L1024.1,758.8 L1026.2,761.0 L1028.4,763.2 L1030.6,765.2 L1032.8,767.0 L1035.0,768.6 L1037.2,769.9 L1039.4,770.9 L1041.6,771.4 L1043.8,771.7 L1046.0,771.7 L1048.2,771.3 L1050.4,770.7 L1052.6,769.7 L1054.8,768.3 L1057.0,766.6 L1059.2,764.8 L1061.3,762.7 L1063.5,760.6 L1065.7,758.4 L1067.9,756.2 L1070.1,754.1 L1072.3,752.0 L1074.5,750.1 L1076.7,748.3 L1078.9,746.6 L1081.1,745.1 L1083.3,743.7 L1085.5,742.4 L1087.7,741.3 L1089.9,740.3 L1092.1,739.4 L1094.3,738.6 L1096.5,737.9 L1098.6,737.2 L1100.8,736.7 L1103.0,736.2 L1105.2,735.8 L1107.4,735.5 L1109.6,735.2 L1111.8,735.0 L1114.0,734.8 L1116.2,734.6 L1118.4,734.5 L1120.6,734.4 L1122.8,734.3 L1125.0,734.3 L1127.2,734.3 L1129.4,734.3 L1131.6,734.3 L1133.7,734.4 L1135.9,734.4 L1138.1,734.5 L1140.3,734.6 L1142.5,734.7 L1144.7,734.8 L1146.9,734.9 L1149.1,735.0 L1151.3,735.2 L1153.5,735.3 L1155.7,735.4 L1157.9,735.6 L1160.1,735.7 L1162.3,735.8 L1164.5,736.0 L1166.7,736.1 L1168.9,736.3 L1171.0,736.4 L1173.2,736.6 L1175.4,736.7 L1177.6,736.9 L1179.8,737.0 L1182.0,737.2 L1184.2,737.3 L1186.4,737.5 L1188.6,737.6 L1190.8,737.8 L1193.0,737.9 L1195.2,738.1 L1197.4,738.2 L1199.6,738.4 L1201.8,738.5 L1204.0,738.6 L1206.2,738.8 L1208.3,738.9 L1210.5,739.0 L1212.7,739.2 L1214.9,739.3 L1217.1,739.4 L1219.3,739.5 L1221.5,739.7 L1223.7,739.8 L1225.9,739.9 L1228.1,740.0 L1230.3,740.1 L1232.5,740.2 L1234.7,740.3 L1236.9,740.5 L1239.1,740.6 L1241.3,740.7 L1243.4,740.8 L1245.6,740.9 L1247.8,741.0 L1250.0,741.1 L1252.2,741.2 L1254.4,741.3 L1256.6,741.3 L1258.8,741.4 L1261.0,741.5" fill="none" stroke="#808000" stroke-width="2.7" stroke-linejoin="round" stroke-linecap="round"/>
<path d="M818.5,801.2 V806.8 M814.5,801.2 h8 M814.5,806.8 h8" stroke="#b9b972" stroke-width="1" fill="none"/>
<circle cx="818.5" cy="804.0" r="5" fill="none" stroke="#b9b972" stroke-width="1.0"/>
<path d="M825.2,795.6 V818.0 M821.2,795.6 h8 M821.2,818.0 h8" stroke="#b9b972" stroke-width="1" fill="none"/>
<circle cx="825.2" cy="806.8" r="5" fill="none" stroke="#b9b972" stroke-width="1.0"/>
<path d="M831.8,805.5 V811.1 M827.8,805.5 h8 M827.8,811.1 h8" stroke="#b9b972" stroke-width="1" fill="none"/>
<circle cx="831.8" cy="808.3" r="5" fill="none" stroke="#b9b972" stroke-width="1.0"/>
<path d="M837.8,817.1 V822.7 M833.8,817.1 h8 M833.8,822.7 h8" stroke="#b9b972" stroke-width="1" fill="none"/>
<circle cx="837.8" cy="819.9" r="5" fill="none" stroke="#b9b972" stroke-width="1.0"/>
<path d="M844.4,804.0 V809.6 M840.4,804.0 h8 M840.4,809.6 h8" stroke="#b9b972" stroke-width="1" fill="none"/>
<circle cx="844.4" cy="806.8" r="5" fill="none" stroke="#b9b972" stroke-width="1.0"/>
<path d="M850.5,805.0 V810.6 M846.5,805.0 h8 M846.5,810.6 h8" stroke="#b9b972" stroke-width="1" fill="none"/>
<circle cx="850.5" cy="807.8" r="5" fill="none" stroke="#b9b972" stroke-width="1.0"/>
<path d="M857.1,817.1 V822.7 M853.1,817.1 h8 M853.1,822.7 h8" stroke="#b9b972" stroke-width="1" fill="none"/>
<circle cx="857.1" cy="819.9" r="5" fill="none" stroke="#b9b972" stroke-width="1.0"/>
<path d="M863.7,805.9 V837.7 M859.7,805.9 h8 M859.7,837.7 h8" stroke="#b9b972" stroke-width="1" fill="none"/>
<circle cx="863.7" cy="821.8" r="5" fill="none" stroke="#b9b972" stroke-width="1.0"/>
<path d="M870.0,813.8 V819.4 M866.0,813.8 h8 M866.0,819.4 h8" stroke="#b9b972" stroke-width="1" fill="none"/>
<circle cx="870.0" cy="816.6" r="5" fill="none" stroke="#b9b972" stroke-width="1.0"/>
<path d="M876.2,805.9 V811.5 M872.2,805.9 h8 M872.2,811.5 h8" stroke="#b9b972" stroke-width="1" fill="none"/>
<circle cx="876.2" cy="808.7" r="5" fill="none" stroke="#b9b972" stroke-width="1.0"/>
<path d="M882.8,815.6 V821.2 M878.8,815.6 h8 M878.8,821.2 h8" stroke="#b9b972" stroke-width="1" fill="none"/>
<circle cx="882.8" cy="818.4" r="5" fill="none" stroke="#b9b972" stroke-width="1.0"/>
<path d="M889.3,805.0 V810.6 M885.3,805.0 h8 M885.3,810.6 h8" stroke="#b9b972" stroke-width="1" fill="none"/>
<circle cx="889.3" cy="807.8" r="5" fill="none" stroke="#b9b972" stroke-width="1.0"/>
<path d="M895.5,806.3 V811.9 M891.5,806.3 h8 M891.5,811.9 h8" stroke="#b9b972" stroke-width="1" fill="none"/>
<circle cx="895.5" cy="809.1" r="5" fill="none" stroke="#b9b972" stroke-width="1.0"/>
<path d="M901.9,806.4 V821.4 M897.9,806.4 h8 M897.9,821.4 h8" stroke="#b9b972" stroke-width="1" fill="none"/>
<circle cx="901.9" cy="813.9" r="5" fill="none" stroke="#b9b972" stroke-width="1.0"/>
<path d="M908.1,809.3 V814.9 M904.1,809.3 h8 M904.1,814.9 h8" stroke="#b9b972" stroke-width="1" fill="none"/>
<circle cx="908.1" cy="812.1" r="5" fill="none" stroke="#b9b972" stroke-width="1.0"/>
<path d="M914.6,805.5 V811.1 M910.6,805.5 h8 M910.6,811.1 h8" stroke="#b9b972" stroke-width="1" fill="none"/>
<circle cx="914.6" cy="808.3" r="5" fill="none" stroke="#b9b972" stroke-width="1.0"/>
<path d="M921.2,811.5 V839.7 M917.2,811.5 h8 M917.2,839.7 h8" stroke="#b9b972" stroke-width="1" fill="none"/>
<circle cx="921.2" cy="825.6" r="5" fill="none" stroke="#b9b972" stroke-width="1.0"/>
<path d="M927.8,806.8 V812.4 M923.8,806.8 h8 M923.8,812.4 h8" stroke="#b9b972" stroke-width="1" fill="none"/>
<circle cx="927.8" cy="809.6" r="5" fill="none" stroke="#b9b972" stroke-width="1.0"/>
<path d="M934.3,806.8 V812.4 M930.3,806.8 h8 M930.3,812.4 h8" stroke="#b9b972" stroke-width="1" fill="none"/>
<circle cx="934.3" cy="809.6" r="5" fill="none" stroke="#b9b972" stroke-width="1.0"/>
<path d="M940.3,814.3 V819.9 M936.3,814.3 h8 M936.3,819.9 h8" stroke="#b9b972" stroke-width="1" fill="none"/>
<circle cx="940.3" cy="817.1" r="5" fill="none" stroke="#b9b972" stroke-width="1.0"/>
<path d="M946.9,807.4 V824.2 M942.9,807.4 h8 M942.9,824.2 h8" stroke="#b9b972" stroke-width="1" fill="none"/>
<circle cx="946.9" cy="815.8" r="5" fill="none" stroke="#b9b972" stroke-width="1.0"/>
<path d="M953.1,822.2 V844.6 M949.1,822.2 h8 M949.1,844.6 h8" stroke="#b9b972" stroke-width="1" fill="none"/>
<circle cx="953.1" cy="833.4" r="5" fill="none" stroke="#b9b972" stroke-width="1.0"/>
<path d="M959.6,806.5 V858.9 M955.6,806.5 h8 M955.6,858.9 h8" stroke="#b9b972" stroke-width="1" fill="none"/>
<circle cx="959.6" cy="832.7" r="5" fill="none" stroke="#b9b972" stroke-width="1.0"/>
<path d="M965.8,812.4 V836.8 M961.8,812.4 h8 M961.8,836.8 h8" stroke="#b9b972" stroke-width="1" fill="none"/>
<circle cx="965.8" cy="824.6" r="5" fill="none" stroke="#b9b972" stroke-width="1.0"/>
<path d="M972.4,818.1 V864.9 M968.4,818.1 h8 M968.4,864.9 h8" stroke="#b9b972" stroke-width="1" fill="none"/>
<circle cx="972.4" cy="841.5" r="5" fill="none" stroke="#b9b972" stroke-width="1.0"/>
<path d="M978.9,816.2 V821.8 M974.9,816.2 h8 M974.9,821.8 h8" stroke="#b9b972" stroke-width="1" fill="none"/>
<circle cx="978.9" cy="819.0" r="5" fill="none" stroke="#b9b972" stroke-width="1.0"/>
<path d="M984.9,815.6 V821.2 M980.9,815.6 h8 M980.9,821.2 h8" stroke="#b9b972" stroke-width="1" fill="none"/>
<circle cx="984.9" cy="818.4" r="5" fill="none" stroke="#b9b972" stroke-width="1.0"/>
<path d="M991.5,826.5 V832.1 M987.5,826.5 h8 M987.5,832.1 h8" stroke="#b9b972" stroke-width="1" fill="none"/>
<circle cx="991.5" cy="829.3" r="5" fill="none" stroke="#b9b972" stroke-width="1.0"/>
<path d="M998.0,823.7 V829.3 M994.0,823.7 h8 M994.0,829.3 h8" stroke="#b9b972" stroke-width="1" fill="none"/>
<circle cx="998.0" cy="826.5" r="5" fill="none" stroke="#b9b972" stroke-width="1.0"/>
<path d="M1004.6,803.5 V825.9 M1000.6,803.5 h8 M1000.6,825.9 h8" stroke="#b9b972" stroke-width="1" fill="none"/>
<circle cx="1004.6" cy="814.7" r="5" fill="none" stroke="#b9b972" stroke-width="1.0"/>
<path d="M1010.8,832.1 V852.7 M1006.8,832.1 h8 M1006.8,852.7 h8" stroke="#b9b972" stroke-width="1" fill="none"/>
<circle cx="1010.8" cy="842.4" r="5" fill="none" stroke="#b9b972" stroke-width="1.0"/>
<path d="M1016.8,832.5 V838.1 M1012.8,832.5 h8 M1012.8,838.1 h8" stroke="#b9b972" stroke-width="1" fill="none"/>
<circle cx="1016.8" cy="835.3" r="5" fill="none" stroke="#b9b972" stroke-width="1.0"/>
<path d="M1023.3,853.7 V859.3 M1019.3,853.7 h8 M1019.3,859.3 h8" stroke="#b9b972" stroke-width="1" fill="none"/>
<circle cx="1023.3" cy="856.5" r="5" fill="none" stroke="#b9b972" stroke-width="1.0"/>
<path d="M1029.9,855.6 V861.2 M1025.9,855.6 h8 M1025.9,861.2 h8" stroke="#b9b972" stroke-width="1" fill="none"/>
<circle cx="1029.9" cy="858.4" r="5" fill="none" stroke="#b9b972" stroke-width="1.0"/>
<path d="M1036.4,858.4 V864.0 M1032.4,858.4 h8 M1032.4,864.0 h8" stroke="#b9b972" stroke-width="1" fill="none"/>
<circle cx="1036.4" cy="861.2" r="5" fill="none" stroke="#b9b972" stroke-width="1.0"/>
<path d="M1043.0,857.4 V885.6 M1039.0,857.4 h8 M1039.0,885.6 h8" stroke="#b9b972" stroke-width="1" fill="none"/>
<circle cx="1043.0" cy="871.5" r="5" fill="none" stroke="#b9b972" stroke-width="1.0"/>
<path d="M1049.2,866.8 V872.4 M1045.2,866.8 h8 M1045.2,872.4 h8" stroke="#b9b972" stroke-width="1" fill="none"/>
<circle cx="1049.2" cy="869.6" r="5" fill="none" stroke="#b9b972" stroke-width="1.0"/>
<path d="M1055.3,866.8 V872.4 M1051.3,866.8 h8 M1051.3,872.4 h8" stroke="#b9b972" stroke-width="1" fill="none"/>
<circle cx="1055.3" cy="869.6" r="5" fill="none" stroke="#b9b972" stroke-width="1.0"/>
<path d="M1061.9,871.9 V877.5 M1057.9,871.9 h8 M1057.9,877.5 h8" stroke="#b9b972" stroke-width="1" fill="none"/>
<circle cx="1061.9" cy="874.7" r="5" fill="none" stroke="#b9b972" stroke-width="1.0"/>
<path d="M1068.4,851.2 V856.8 M1064.4,851.2 h8 M1064.4,856.8 h8" stroke="#b9b972" stroke-width="1" fill="none"/>
<circle cx="1068.4" cy="854.0" r="5" fill="none" stroke="#b9b972" stroke-width="1.0"/>
<path d="M1074.6,832.1 V860.3 M1070.6,832.1 h8 M1070.6,860.3 h8" stroke="#b9b972" stroke-width="1" fill="none"/>
<circle cx="1074.6" cy="846.2" r="5" fill="none" stroke="#b9b972" stroke-width="1.0"/>
<path d="M1081.0,822.4 V839.2 M1077.0,822.4 h8 M1077.0,839.2 h8" stroke="#b9b972" stroke-width="1" fill="none"/>
<circle cx="1081.0" cy="830.8" r="5" fill="none" stroke="#b9b972" stroke-width="1.0"/>
<path d="M1087.2,820.0 V825.6 M1083.2,820.0 h8 M1083.2,825.6 h8" stroke="#b9b972" stroke-width="1" fill="none"/>
<circle cx="1087.2" cy="822.8" r="5" fill="none" stroke="#b9b972" stroke-width="1.0"/>
<path d="M1093.7,805.5 V811.1 M1089.7,805.5 h8 M1089.7,811.1 h8" stroke="#b9b972" stroke-width="1" fill="none"/>
<circle cx="1093.7" cy="808.3" r="5" fill="none" stroke="#b9b972" stroke-width="1.0"/>
<path d="M1100.3,796.5 V802.1 M1096.3,796.5 h8 M1096.3,802.1 h8" stroke="#b9b972" stroke-width="1" fill="none"/>
<circle cx="1100.3" cy="799.3" r="5" fill="none" stroke="#b9b972" stroke-width="1.0"/>
<path d="M1106.8,798.4 V804.0 M1102.8,798.4 h8 M1102.8,804.0 h8" stroke="#b9b972" stroke-width="1" fill="none"/>
<circle cx="1106.8" cy="801.2" r="5" fill="none" stroke="#b9b972" stroke-width="1.0"/>
<path d="M1113.4,801.6 V812.8 M1109.4,801.6 h8 M1109.4,812.8 h8" stroke="#b9b972" stroke-width="1" fill="none"/>
<circle cx="1113.4" cy="807.2" r="5" fill="none" stroke="#b9b972" stroke-width="1.0"/>
<path d="M1119.6,794.3 V799.9 M1115.6,794.3 h8 M1115.6,799.9 h8" stroke="#b9b972" stroke-width="1" fill="none"/>
<circle cx="1119.6" cy="797.1" r="5" fill="none" stroke="#b9b972" stroke-width="1.0"/>
<path d="M1125.6,798.4 V819.0 M1121.6,798.4 h8 M1121.6,819.0 h8" stroke="#b9b972" stroke-width="1" fill="none"/>
<circle cx="1125.6" cy="808.7" r="5" fill="none" stroke="#b9b972" stroke-width="1.0"/>
<path d="M1132.1,807.8 V813.4 M1128.1,807.8 h8 M1128.1,813.4 h8" stroke="#b9b972" stroke-width="1" fill="none"/>
<circle cx="1132.1" cy="810.6" r="5" fill="none" stroke="#b9b972" stroke-width="1.0"/>
<path d="M1138.7,804.0 V809.6 M1134.7,804.0 h8 M1134.7,809.6 h8" stroke="#b9b972" stroke-width="1" fill="none"/>
<circle cx="1138.7" cy="806.8" r="5" fill="none" stroke="#b9b972" stroke-width="1.0"/>
<path d="M1145.3,800.9 V853.3 M1141.3,800.9 h8 M1141.3,853.3 h8" stroke="#b9b972" stroke-width="1" fill="none"/>
<circle cx="1145.3" cy="827.1" r="5" fill="none" stroke="#b9b972" stroke-width="1.0"/>
<path d="M1151.4,792.8 V798.4 M1147.4,792.8 h8 M1147.4,798.4 h8" stroke="#b9b972" stroke-width="1" fill="none"/>
<circle cx="1151.4" cy="795.6" r="5" fill="none" stroke="#b9b972" stroke-width="1.0"/>
<path d="M1157.8,794.6 V813.4 M1153.8,794.6 h8 M1153.8,813.4 h8" stroke="#b9b972" stroke-width="1" fill="none"/>
<circle cx="1157.8" cy="804.0" r="5" fill="none" stroke="#b9b972" stroke-width="1.0"/>
<path d="M1164.2,808.1 V813.7 M1160.2,808.1 h8 M1160.2,813.7 h8" stroke="#b9b972" stroke-width="1" fill="none"/>
<circle cx="1164.2" cy="810.9" r="5" fill="none" stroke="#b9b972" stroke-width="1.0"/>
<path d="M1170.6,811.1 V816.7 M1166.6,811.1 h8 M1166.6,816.7 h8" stroke="#b9b972" stroke-width="1" fill="none"/>
<circle cx="1170.6" cy="813.9" r="5" fill="none" stroke="#b9b972" stroke-width="1.0"/>
<path d="M1176.7,790.5 V818.7 M1172.7,790.5 h8 M1172.7,818.7 h8" stroke="#b9b972" stroke-width="1" fill="none"/>
<circle cx="1176.7" cy="804.6" r="5" fill="none" stroke="#b9b972" stroke-width="1.0"/>
<path d="M1183.3,819.4 V825.0 M1179.3,819.4 h8 M1179.3,825.0 h8" stroke="#b9b972" stroke-width="1" fill="none"/>
<circle cx="1183.3" cy="822.2" r="5" fill="none" stroke="#b9b972" stroke-width="1.0"/>
<path d="M1189.7,792.8 V822.8 M1185.7,792.8 h8 M1185.7,822.8 h8" stroke="#b9b972" stroke-width="1" fill="none"/>
<circle cx="1189.7" cy="807.8" r="5" fill="none" stroke="#b9b972" stroke-width="1.0"/>
<path d="M1196.0,815.6 V821.2 M1192.0,815.6 h8 M1192.0,821.2 h8" stroke="#b9b972" stroke-width="1" fill="none"/>
<circle cx="1196.0" cy="818.4" r="5" fill="none" stroke="#b9b972" stroke-width="1.0"/>
<path d="M1202.4,808.7 V814.3 M1198.4,808.7 h8 M1198.4,814.3 h8" stroke="#b9b972" stroke-width="1" fill="none"/>
<circle cx="1202.4" cy="811.5" r="5" fill="none" stroke="#b9b972" stroke-width="1.0"/>
<path d="M1209.0,781.9 V802.5 M1205.0,781.9 h8 M1205.0,802.5 h8" stroke="#b9b972" stroke-width="1" fill="none"/>
<circle cx="1209.0" cy="792.2" r="5" fill="none" stroke="#b9b972" stroke-width="1.0"/>
<path d="M1215.2,813.4 V819.0 M1211.2,813.4 h8 M1211.2,819.0 h8" stroke="#b9b972" stroke-width="1" fill="none"/>
<circle cx="1215.2" cy="816.2" r="5" fill="none" stroke="#b9b972" stroke-width="1.0"/>
<path d="M1221.5,807.4 V813.0 M1217.5,807.4 h8 M1217.5,813.0 h8" stroke="#b9b972" stroke-width="1" fill="none"/>
<circle cx="1221.5" cy="810.2" r="5" fill="none" stroke="#b9b972" stroke-width="1.0"/>
<path d="M1227.7,791.9 V814.3 M1223.7,791.9 h8 M1223.7,814.3 h8" stroke="#b9b972" stroke-width="1" fill="none"/>
<circle cx="1227.7" cy="803.1" r="5" fill="none" stroke="#b9b972" stroke-width="1.0"/>
<path d="M1234.3,812.4 V827.4 M1230.3,812.4 h8 M1230.3,827.4 h8" stroke="#b9b972" stroke-width="1" fill="none"/>
<circle cx="1234.3" cy="819.9" r="5" fill="none" stroke="#b9b972" stroke-width="1.0"/>
<path d="M1240.8,805.0 V827.4 M1236.8,805.0 h8 M1236.8,827.4 h8" stroke="#b9b972" stroke-width="1" fill="none"/>
<circle cx="1240.8" cy="816.2" r="5" fill="none" stroke="#b9b972" stroke-width="1.0"/>
<path d="M1247.4,797.5 V803.1 M1243.4,797.5 h8 M1243.4,803.1 h8" stroke="#b9b972" stroke-width="1" fill="none"/>
<circle cx="1247.4" cy="800.3" r="5" fill="none" stroke="#b9b972" stroke-width="1.0"/>
<path d="M1253.4,793.1 V813.7 M1249.4,793.1 h8 M1249.4,813.7 h8" stroke="#b9b972" stroke-width="1" fill="none"/>
<circle cx="1253.4" cy="803.4" r="5" fill="none" stroke="#b9b972" stroke-width="1.0"/>
<path d="M818.7,814.2 L820.9,814.1 L823.1,813.9 L825.3,813.8 L827.5,813.7 L829.7,813.5 L831.9,813.4 L834.1,813.2 L836.3,813.1 L838.5,812.9 L840.6,812.7 L842.8,812.6 L845.0,812.4 L847.2,812.3 L849.4,812.1 L851.6,811.9 L853.8,811.7 L856.0,811.6 L858.2,811.4 L860.4,811.2 L862.6,811.0 L864.8,810.8 L867.0,810.6 L869.2,810.4 L871.4,810.2 L873.6,810.0 L875.8,809.8 L878.0,809.6 L880.1,809.4 L882.3,809.2 L884.5,809.0 L886.7,808.7 L888.9,808.5 L891.1,808.3 L893.3,808.1 L895.5,807.8 L897.7,807.6 L899.9,807.4 L902.1,807.2 L904.3,806.9 L906.5,806.7 L908.7,806.5 L910.9,806.3 L913.1,806.1 L915.3,805.8 L917.5,805.6 L919.6,805.4 L921.8,805.2 L924.0,805.0 L926.2,804.9 L928.4,804.7 L930.6,804.5 L932.8,804.4 L935.0,804.3 L937.2,804.2 L939.4,804.1 L941.6,804.0 L943.8,804.0 L946.0,804.0 L948.2,804.0 L950.4,804.0 L952.6,804.1 L954.8,804.3 L957.0,804.4 L959.1,804.7 L961.3,805.0 L963.5,805.3 L965.7,805.7 L967.9,806.2 L970.1,806.8 L972.3,807.5 L974.5,808.2 L976.7,809.1 L978.9,810.0 L981.1,811.1 L983.3,812.3 L985.5,813.6 L987.7,815.0 L989.9,816.6 L992.1,818.3 L994.3,820.2 L996.5,822.2 L998.6,824.3 L1000.8,826.7 L1003.0,829.1 L1005.2,831.7 L1007.4,834.5 L1009.6,837.3 L1011.8,840.3 L1014.0,843.4 L1016.2,846.5 L1018.4,849.7 L1020.6,852.8 L1022.8,856.0 L1025.0,859.1 L1027.2,862.1 L1029.4,864.9 L1031.6,867.5 L1033.8,869.9 L1036.0,871.9 L1038.1,873.6 L1040.3,874.9 L1042.5,875.7 L1044.7,876.0 L1046.9,875.6 L1049.1,874.7 L1051.3,873.3 L1053.5,871.5 L1055.7,869.3 L1057.9,866.9 L1060.1,864.2 L1062.3,861.4 L1064.5,858.4 L1066.7,855.3 L1068.9,852.1 L1071.1,848.9 L1073.3,845.7 L1075.5,842.6 L1077.6,839.6 L1079.8,836.6 L1082.0,833.8 L1084.2,831.1 L1086.4,828.5 L1088.6,826.1 L1090.8,823.8 L1093.0,821.7 L1095.2,819.7 L1097.4,817.9 L1099.6,816.2 L1101.8,814.6 L1104.0,813.2 L1106.2,812.0 L1108.4,810.8 L1110.6,809.8 L1112.8,808.8 L1115.0,808.0 L1117.1,807.3 L1119.3,806.7 L1121.5,806.1 L1123.7,805.6 L1125.9,805.2 L1128.1,804.9 L1130.3,804.6 L1132.5,804.4 L1134.7,804.2 L1136.9,804.1 L1139.1,804.0 L1141.3,804.0 L1143.5,804.0 L1145.7,804.0 L1147.9,804.0 L1150.1,804.1 L1152.3,804.2 L1154.5,804.3 L1156.6,804.4 L1158.8,804.6 L1161.0,804.7 L1163.2,804.9 L1165.4,805.1 L1167.6,805.3 L1169.8,805.5 L1172.0,805.7 L1174.2,805.9 L1176.4,806.1 L1178.6,806.3 L1180.8,806.5 L1183.0,806.8 L1185.2,807.0 L1187.4,807.2 L1189.6,807.4 L1191.8,807.7 L1194.0,807.9 L1196.1,808.1 L1198.3,808.3 L1200.5,808.6 L1202.7,808.8 L1204.9,809.0 L1207.1,809.2 L1209.3,809.4 L1211.5,809.6 L1213.7,809.9 L1215.9,810.1 L1218.1,810.3 L1220.3,810.5 L1222.5,810.7 L1224.7,810.9 L1226.9,811.0 L1229.1,811.2 L1231.3,811.4 L1233.5,811.6 L1235.6,811.8 L1237.8,812.0 L1240.0,812.1 L1242.2,812.3 L1244.4,812.5 L1246.6,812.6 L1248.8,812.8 L1251.0,812.9 L1253.2,813.1 L1255.4,813.2" fill="none" stroke="#808000" stroke-width="2.7" stroke-linejoin="round" stroke-linecap="round"/>
<path d="M766.6,1006.7 h9 M766.6,958.5 h4.5 M766.6,910.3 h9 M766.6,862.1 h4.5 M766.6,813.9 h9 M766.6,765.6 h4.5 M766.6,717.4 h9 M766.6,669.2 h4.5 M766.6,621.0 h9 M806.5,1006.7 v-9 M846.5,1006.7 v-4.5 M886.4,1006.7 v-9 M926.3,1006.7 v-4.5 M966.2,1006.7 v-9 M1006.2,1006.7 v-4.5 M1046.1,1006.7 v-9 M1086.0,1006.7 v-4.5 M1126.0,1006.7 v-9 M1165.9,1006.7 v-4.5 M1205.8,1006.7 v-9 M1245.7,1006.7 v-4.5 M1285.7,1006.7 v-9" stroke="#000" stroke-width="2.2" fill="none"/>
<rect x="766.6" y="609" width="559.0" height="397.7" fill="none" stroke="#000" stroke-width="2.2"/>
<text transform="translate(756.00,630.00) scale(1,1.05)" text-anchor="end" font-size="28">1.2</text>
<text transform="translate(756.00,726.42) scale(1,1.05)" text-anchor="end" font-size="28">0.8</text>
<text transform="translate(756.00,822.85) scale(1,1.05)" text-anchor="end" font-size="28">0.4</text>
<text transform="translate(756.00,919.28) scale(1,1.05)" text-anchor="end" font-size="28">0.0</text>
<text transform="translate(756.00,1015.70) scale(1,1.05)" text-anchor="end" font-size="28">-0.4</text>
<text transform="translate(806.53,1038.30) scale(1,1.05)" text-anchor="middle" font-size="28">-150</text>
<text transform="translate(886.39,1038.30) scale(1,1.05)" text-anchor="middle" font-size="28">-100</text>
<text transform="translate(966.24,1038.30) scale(1,1.05)" text-anchor="middle" font-size="28">-50</text>
<text transform="translate(1046.10,1038.30) scale(1,1.05)" text-anchor="middle" font-size="28">0</text>
<text transform="translate(1125.96,1038.30) scale(1,1.05)" text-anchor="middle" font-size="28">50</text>
<text transform="translate(1205.81,1038.30) scale(1,1.05)" text-anchor="middle" font-size="28">100</text>
<text transform="translate(1285.67,1038.30) scale(1,1.05)" text-anchor="middle" font-size="28">150</text>
<text transform="translate(681.50,603.50) scale(1,1.05)" font-size="35">(d)</text>
<text transform="translate(1053.70,1073.30) scale(1,1.05)" text-anchor="middle" font-size="36.1">z (mm)</text>
<text transform="translate(707.6,815.8) rotate(-90) scale(1,1.05)" text-anchor="middle" font-size="35.25">Normalized transmission</text>
<path d="M1129.5,901.0 L1135.1,911.0 L1123.9,911.0 Z" fill="none" stroke="#b9b972" stroke-width="1.1"/>
<text transform="translate(1160.00,914.00) scale(1,1.05)" font-size="28">0.11</text>
<circle cx="1129.5" cy="942.5" r="5" fill="none" stroke="#b9b972" stroke-width="1.1"/>
<text transform="translate(1160.00,950.00) scale(1,1.05)" font-size="28">0.36</text>
<rect x="1125.4" y="974.9" width="8.2" height="8.2" fill="none" stroke="#b9b972" stroke-width="1.1"/>
<text transform="translate(1160.00,987.50) scale(1,1.05)" font-size="28">0.64 GW/cm<tspan font-size="17" dy="-13">2</tspan></text>
<text transform="translate(788.50,937.50) scale(1,1.05)" font-size="25" style="font-weight:normal">λ</text>
<text transform="translate(802.00,948.00) scale(1,1.05)" font-size="16" style="font-weight:normal">ex</text>
<text transform="translate(824.00,937.50) scale(1,1.05)" font-size="27.3">= 600 nm</text>
<text transform="translate(789.50,979.00) scale(1,1.05)" font-size="27.5">T</text>
<text transform="translate(827.50,979.00) scale(1,1.05)" font-size="27.5">= 64.4%</text>
<path d="M149.3,1211.0 V1229.8 M145.3,1211.0 h8 M145.3,1229.8 h8" stroke="#ff72b9" stroke-width="1" fill="none"/>
<path d="M149.3,1215.4 L154.9,1225.4 L143.7,1225.4 Z" fill="none" stroke="#ff72b9" stroke-width="1.0"/>
<path d="M155.3,1230.7 V1247.5 M151.3,1230.7 h8 M151.3,1247.5 h8" stroke="#ff72b9" stroke-width="1" fill="none"/>
<path d="M155.3,1234.1 L160.9,1244.1 L149.7,1244.1 Z" fill="none" stroke="#ff72b9" stroke-width="1.0"/>
<path d="M161.9,1218.5 V1248.5 M157.9,1218.5 h8 M157.9,1248.5 h8" stroke="#ff72b9" stroke-width="1" fill="none"/>
<path d="M161.9,1228.5 L167.5,1238.5 L156.3,1238.5 Z" fill="none" stroke="#ff72b9" stroke-width="1.0"/>
<path d="M168.0,1223.8 V1235.0 M164.0,1223.8 h8 M164.0,1235.0 h8" stroke="#ff72b9" stroke-width="1" fill="none"/>
<path d="M168.0,1224.4 L173.6,1234.4 L162.4,1234.4 Z" fill="none" stroke="#ff72b9" stroke-width="1.0"/>
<path d="M174.4,1226.9 V1232.5 M170.4,1226.9 h8 M170.4,1232.5 h8" stroke="#ff72b9" stroke-width="1" fill="none"/>
<path d="M174.4,1224.7 L180.0,1234.7 L168.8,1234.7 Z" fill="none" stroke="#ff72b9" stroke-width="1.0"/>
<path d="M180.6,1222.8 V1228.4 M176.6,1222.8 h8 M176.6,1228.4 h8" stroke="#ff72b9" stroke-width="1" fill="none"/>
<path d="M180.6,1220.6 L186.2,1230.6 L175.0,1230.6 Z" fill="none" stroke="#ff72b9" stroke-width="1.0"/>
<path d="M187.5,1223.7 V1229.3 M183.5,1223.7 h8 M183.5,1229.3 h8" stroke="#ff72b9" stroke-width="1" fill="none"/>
<path d="M187.5,1221.5 L193.1,1231.5 L181.9,1231.5 Z" fill="none" stroke="#ff72b9" stroke-width="1.0"/>
<path d="M194.3,1233.7 V1250.5 M190.3,1233.7 h8 M190.3,1250.5 h8" stroke="#ff72b9" stroke-width="1" fill="none"/>
<path d="M194.3,1237.1 L199.9,1247.1 L188.7,1247.1 Z" fill="none" stroke="#ff72b9" stroke-width="1.0"/>
<path d="M200.7,1228.8 V1238.2 M196.7,1228.8 h8 M196.7,1238.2 h8" stroke="#ff72b9" stroke-width="1" fill="none"/>
<path d="M200.7,1228.5 L206.3,1238.5 L195.1,1238.5 Z" fill="none" stroke="#ff72b9" stroke-width="1.0"/>
<path d="M206.8,1215.3 V1224.7 M202.8,1215.3 h8 M202.8,1224.7 h8" stroke="#ff72b9" stroke-width="1" fill="none"/>
<path d="M206.8,1215.0 L212.4,1225.0 L201.2,1225.0 Z" fill="none" stroke="#ff72b9" stroke-width="1.0"/>
<path d="M213.0,1221.9 V1227.5 M209.0,1221.9 h8 M209.0,1227.5 h8" stroke="#ff72b9" stroke-width="1" fill="none"/>
<path d="M213.0,1219.7 L218.6,1229.7 L207.4,1229.7 Z" fill="none" stroke="#ff72b9" stroke-width="1.0"/>
<path d="M219.4,1229.4 V1240.6 M215.4,1229.4 h8 M215.4,1240.6 h8" stroke="#ff72b9" stroke-width="1" fill="none"/>
<path d="M219.4,1230.0 L225.0,1240.0 L213.8,1240.0 Z" fill="none" stroke="#ff72b9" stroke-width="1.0"/>
<path d="M226.1,1221.9 V1227.5 M222.1,1221.9 h8 M222.1,1227.5 h8" stroke="#ff72b9" stroke-width="1" fill="none"/>
<path d="M226.1,1219.7 L231.7,1229.7 L220.5,1229.7 Z" fill="none" stroke="#ff72b9" stroke-width="1.0"/>
<path d="M232.5,1226.2 V1246.8 M228.5,1226.2 h8 M228.5,1246.8 h8" stroke="#ff72b9" stroke-width="1" fill="none"/>
<path d="M232.5,1231.5 L238.1,1241.5 L226.9,1241.5 Z" fill="none" stroke="#ff72b9" stroke-width="1.0"/>
<path d="M238.7,1229.9 V1235.5 M234.7,1229.9 h8 M234.7,1235.5 h8" stroke="#ff72b9" stroke-width="1" fill="none"/>
<path d="M238.7,1227.7 L244.3,1237.7 L233.1,1237.7 Z" fill="none" stroke="#ff72b9" stroke-width="1.0"/>
<path d="M244.9,1218.1 V1227.5 M240.9,1218.1 h8 M240.9,1227.5 h8" stroke="#ff72b9" stroke-width="1" fill="none"/>
<path d="M244.9,1217.8 L250.5,1227.8 L239.3,1227.8 Z" fill="none" stroke="#ff72b9" stroke-width="1.0"/>
<path d="M251.3,1226.6 V1232.2 M247.3,1226.6 h8 M247.3,1232.2 h8" stroke="#ff72b9" stroke-width="1" fill="none"/>
<path d="M251.3,1224.4 L256.9,1234.4 L245.7,1234.4 Z" fill="none" stroke="#ff72b9" stroke-width="1.0"/>
<path d="M257.4,1225.6 V1231.2 M253.4,1225.6 h8 M253.4,1231.2 h8" stroke="#ff72b9" stroke-width="1" fill="none"/>
<path d="M257.4,1223.4 L263.0,1233.4 L251.8,1233.4 Z" fill="none" stroke="#ff72b9" stroke-width="1.0"/>
<path d="M264.0,1227.9 V1239.1 M260.0,1227.9 h8 M260.0,1239.1 h8" stroke="#ff72b9" stroke-width="1" fill="none"/>
<path d="M264.0,1228.5 L269.6,1238.5 L258.4,1238.5 Z" fill="none" stroke="#ff72b9" stroke-width="1.0"/>
<path d="M271.1,1229.9 V1235.5 M267.1,1229.9 h8 M267.1,1235.5 h8" stroke="#ff72b9" stroke-width="1" fill="none"/>
<path d="M271.1,1227.7 L276.7,1237.7 L265.5,1237.7 Z" fill="none" stroke="#ff72b9" stroke-width="1.0"/>
<path d="M277.5,1220.6 V1226.2 M273.5,1220.6 h8 M273.5,1226.2 h8" stroke="#ff72b9" stroke-width="1" fill="none"/>
<path d="M277.5,1218.4 L283.1,1228.4 L271.9,1228.4 Z" fill="none" stroke="#ff72b9" stroke-width="1.0"/>
<path d="M283.7,1226.6 V1232.2 M279.7,1226.6 h8 M279.7,1232.2 h8" stroke="#ff72b9" stroke-width="1" fill="none"/>
<path d="M283.7,1224.4 L289.3,1234.4 L278.1,1234.4 Z" fill="none" stroke="#ff72b9" stroke-width="1.0"/>
<path d="M290.6,1207.8 V1213.4 M286.6,1207.8 h8 M286.6,1213.4 h8" stroke="#ff72b9" stroke-width="1" fill="none"/>
<path d="M290.6,1205.6 L296.2,1215.6 L285.0,1215.6 Z" fill="none" stroke="#ff72b9" stroke-width="1.0"/>
<path d="M296.8,1225.0 V1253.2 M292.8,1225.0 h8 M292.8,1253.2 h8" stroke="#ff72b9" stroke-width="1" fill="none"/>
<path d="M296.8,1234.1 L302.4,1244.1 L291.2,1244.1 Z" fill="none" stroke="#ff72b9" stroke-width="1.0"/>
<path d="M303.4,1233.1 V1238.7 M299.4,1233.1 h8 M299.4,1238.7 h8" stroke="#ff72b9" stroke-width="1" fill="none"/>
<path d="M303.4,1230.9 L309.0,1240.9 L297.8,1240.9 Z" fill="none" stroke="#ff72b9" stroke-width="1.0"/>
<path d="M309.9,1221.8 V1231.2 M305.9,1221.8 h8 M305.9,1231.2 h8" stroke="#ff72b9" stroke-width="1" fill="none"/>
<path d="M309.9,1221.5 L315.5,1231.5 L304.3,1231.5 Z" fill="none" stroke="#ff72b9" stroke-width="1.0"/>
<path d="M316.5,1229.4 V1235.0 M312.5,1229.4 h8 M312.5,1235.0 h8" stroke="#ff72b9" stroke-width="1" fill="none"/>
<path d="M316.5,1227.2 L322.1,1237.2 L310.9,1237.2 Z" fill="none" stroke="#ff72b9" stroke-width="1.0"/>
<path d="M323.0,1230.7 V1236.3 M319.0,1230.7 h8 M319.0,1236.3 h8" stroke="#ff72b9" stroke-width="1" fill="none"/>
<path d="M323.0,1228.5 L328.6,1238.5 L317.4,1238.5 Z" fill="none" stroke="#ff72b9" stroke-width="1.0"/>
<path d="M329.6,1212.1 V1223.3 M325.6,1212.1 h8 M325.6,1223.3 h8" stroke="#ff72b9" stroke-width="1" fill="none"/>
<path d="M329.6,1212.7 L335.2,1222.7 L324.0,1222.7 Z" fill="none" stroke="#ff72b9" stroke-width="1.0"/>
<path d="M336.1,1226.2 V1250.6 M332.1,1226.2 h8 M332.1,1250.6 h8" stroke="#ff72b9" stroke-width="1" fill="none"/>
<path d="M336.1,1233.4 L341.7,1243.4 L330.5,1243.4 Z" fill="none" stroke="#ff72b9" stroke-width="1.0"/>
<path d="M342.3,1234.1 V1239.7 M338.3,1234.1 h8 M338.3,1239.7 h8" stroke="#ff72b9" stroke-width="1" fill="none"/>
<path d="M342.3,1231.9 L347.9,1241.9 L336.7,1241.9 Z" fill="none" stroke="#ff72b9" stroke-width="1.0"/>
<path d="M348.7,1240.6 V1246.2 M344.7,1240.6 h8 M344.7,1246.2 h8" stroke="#ff72b9" stroke-width="1" fill="none"/>
<path d="M348.7,1238.4 L354.3,1248.4 L343.1,1248.4 Z" fill="none" stroke="#ff72b9" stroke-width="1.0"/>
<path d="M354.9,1265.9 V1273.3 M350.9,1265.9 h8 M350.9,1273.3 h8" stroke="#ff72b9" stroke-width="1" fill="none"/>
<path d="M354.9,1264.6 L360.5,1274.6 L349.3,1274.6 Z" fill="none" stroke="#ff72b9" stroke-width="1.0"/>
<path d="M361.4,1270.6 V1276.2 M357.4,1270.6 h8 M357.4,1276.2 h8" stroke="#ff72b9" stroke-width="1" fill="none"/>
<path d="M361.4,1268.4 L367.0,1278.4 L355.8,1278.4 Z" fill="none" stroke="#ff72b9" stroke-width="1.0"/>
<path d="M368.0,1264.6 V1272.0 M364.0,1264.6 h8 M364.0,1272.0 h8" stroke="#ff72b9" stroke-width="1" fill="none"/>
<path d="M368.0,1263.3 L373.6,1273.3 L362.4,1273.3 Z" fill="none" stroke="#ff72b9" stroke-width="1.0"/>
<path d="M374.2,1267.8 V1282.8 M370.2,1267.8 h8 M370.2,1282.8 h8" stroke="#ff72b9" stroke-width="1" fill="none"/>
<path d="M374.2,1270.3 L379.8,1280.3 L368.6,1280.3 Z" fill="none" stroke="#ff72b9" stroke-width="1.0"/>
<path d="M381.6,1279.0 V1284.6 M377.6,1279.0 h8 M377.6,1284.6 h8" stroke="#ff72b9" stroke-width="1" fill="none"/>
<path d="M381.6,1276.8 L387.2,1286.8 L376.0,1286.8 Z" fill="none" stroke="#ff72b9" stroke-width="1.0"/>
<path d="M387.2,1263.1 V1274.3 M383.2,1263.1 h8 M383.2,1274.3 h8" stroke="#ff72b9" stroke-width="1" fill="none"/>
<path d="M387.2,1263.7 L392.8,1273.7 L381.6,1273.7 Z" fill="none" stroke="#ff72b9" stroke-width="1.0"/>
<path d="M393.7,1246.2 V1261.2 M389.7,1246.2 h8 M389.7,1261.2 h8" stroke="#ff72b9" stroke-width="1" fill="none"/>
<path d="M393.7,1248.7 L399.3,1258.7 L388.1,1258.7 Z" fill="none" stroke="#ff72b9" stroke-width="1.0"/>
<path d="M399.9,1226.6 V1237.8 M395.9,1226.6 h8 M395.9,1237.8 h8" stroke="#ff72b9" stroke-width="1" fill="none"/>
<path d="M399.9,1227.2 L405.5,1237.2 L394.3,1237.2 Z" fill="none" stroke="#ff72b9" stroke-width="1.0"/>
<path d="M406.5,1221.3 V1226.9 M402.5,1221.3 h8 M402.5,1226.9 h8" stroke="#ff72b9" stroke-width="1" fill="none"/>
<path d="M406.5,1219.1 L412.1,1229.1 L400.9,1229.1 Z" fill="none" stroke="#ff72b9" stroke-width="1.0"/>
<path d="M413.0,1217.2 V1228.4 M409.0,1217.2 h8 M409.0,1228.4 h8" stroke="#ff72b9" stroke-width="1" fill="none"/>
<path d="M413.0,1217.8 L418.6,1227.8 L407.4,1227.8 Z" fill="none" stroke="#ff72b9" stroke-width="1.0"/>
<path d="M419.6,1198.4 V1234.0 M415.6,1198.4 h8 M415.6,1234.0 h8" stroke="#ff72b9" stroke-width="1" fill="none"/>
<path d="M419.6,1211.2 L425.2,1221.2 L414.0,1221.2 Z" fill="none" stroke="#ff72b9" stroke-width="1.0"/>
<path d="M426.0,1212.5 V1218.1 M422.0,1212.5 h8 M422.0,1218.1 h8" stroke="#ff72b9" stroke-width="1" fill="none"/>
<path d="M426.0,1210.3 L431.6,1220.3 L420.4,1220.3 Z" fill="none" stroke="#ff72b9" stroke-width="1.0"/>
<path d="M432.2,1213.4 V1219.0 M428.2,1213.4 h8 M428.2,1219.0 h8" stroke="#ff72b9" stroke-width="1" fill="none"/>
<path d="M432.2,1211.2 L437.8,1221.2 L426.6,1221.2 Z" fill="none" stroke="#ff72b9" stroke-width="1.0"/>
<path d="M438.7,1217.2 V1222.8 M434.7,1217.2 h8 M434.7,1222.8 h8" stroke="#ff72b9" stroke-width="1" fill="none"/>
<path d="M438.7,1215.0 L444.3,1225.0 L433.1,1225.0 Z" fill="none" stroke="#ff72b9" stroke-width="1.0"/>
<path d="M445.3,1203.1 V1233.1 M441.3,1203.1 h8 M441.3,1233.1 h8" stroke="#ff72b9" stroke-width="1" fill="none"/>
<path d="M445.3,1213.1 L450.9,1223.1 L439.7,1223.1 Z" fill="none" stroke="#ff72b9" stroke-width="1.0"/>
<path d="M451.5,1207.8 V1213.4 M447.5,1207.8 h8 M447.5,1213.4 h8" stroke="#ff72b9" stroke-width="1" fill="none"/>
<path d="M451.5,1205.6 L457.1,1215.6 L445.9,1215.6 Z" fill="none" stroke="#ff72b9" stroke-width="1.0"/>
<path d="M458.0,1228.1 V1233.7 M454.0,1228.1 h8 M454.0,1233.7 h8" stroke="#ff72b9" stroke-width="1" fill="none"/>
<path d="M458.0,1225.9 L463.6,1235.9 L452.4,1235.9 Z" fill="none" stroke="#ff72b9" stroke-width="1.0"/>
<path d="M464.6,1217.2 V1222.8 M460.6,1217.2 h8 M460.6,1222.8 h8" stroke="#ff72b9" stroke-width="1" fill="none"/>
<path d="M464.6,1215.0 L470.2,1225.0 L459.0,1225.0 Z" fill="none" stroke="#ff72b9" stroke-width="1.0"/>
<path d="M471.0,1228.8 V1234.4 M467.0,1228.8 h8 M467.0,1234.4 h8" stroke="#ff72b9" stroke-width="1" fill="none"/>
<path d="M471.0,1226.6 L476.6,1236.6 L465.4,1236.6 Z" fill="none" stroke="#ff72b9" stroke-width="1.0"/>
<path d="M477.1,1210.6 V1216.2 M473.1,1210.6 h8 M473.1,1216.2 h8" stroke="#ff72b9" stroke-width="1" fill="none"/>
<path d="M477.1,1208.4 L482.7,1218.4 L471.5,1218.4 Z" fill="none" stroke="#ff72b9" stroke-width="1.0"/>
<path d="M483.7,1227.5 V1233.1 M479.7,1227.5 h8 M479.7,1233.1 h8" stroke="#ff72b9" stroke-width="1" fill="none"/>
<path d="M483.7,1225.3 L489.3,1235.3 L478.1,1235.3 Z" fill="none" stroke="#ff72b9" stroke-width="1.0"/>
<path d="M490.3,1214.4 V1220.0 M486.3,1214.4 h8 M486.3,1220.0 h8" stroke="#ff72b9" stroke-width="1" fill="none"/>
<path d="M490.3,1212.2 L495.9,1222.2 L484.7,1222.2 Z" fill="none" stroke="#ff72b9" stroke-width="1.0"/>
<path d="M496.8,1203.1 V1244.3 M492.8,1203.1 h8 M492.8,1244.3 h8" stroke="#ff72b9" stroke-width="1" fill="none"/>
<path d="M496.8,1218.7 L502.4,1228.7 L491.2,1228.7 Z" fill="none" stroke="#ff72b9" stroke-width="1.0"/>
<path d="M503.4,1214.4 V1220.0 M499.4,1214.4 h8 M499.4,1220.0 h8" stroke="#ff72b9" stroke-width="1" fill="none"/>
<path d="M503.4,1212.2 L509.0,1222.2 L497.8,1222.2 Z" fill="none" stroke="#ff72b9" stroke-width="1.0"/>
<path d="M509.6,1205.9 V1232.1 M505.6,1205.9 h8 M505.6,1232.1 h8" stroke="#ff72b9" stroke-width="1" fill="none"/>
<path d="M509.6,1214.0 L515.2,1224.0 L504.0,1224.0 Z" fill="none" stroke="#ff72b9" stroke-width="1.0"/>
<path d="M515.9,1217.6 V1223.2 M511.9,1217.6 h8 M511.9,1223.2 h8" stroke="#ff72b9" stroke-width="1" fill="none"/>
<path d="M515.9,1215.4 L521.5,1225.4 L510.3,1225.4 Z" fill="none" stroke="#ff72b9" stroke-width="1.0"/>
<path d="M522.5,1218.1 V1223.7 M518.5,1218.1 h8 M518.5,1223.7 h8" stroke="#ff72b9" stroke-width="1" fill="none"/>
<path d="M522.5,1215.9 L528.1,1225.9 L516.9,1225.9 Z" fill="none" stroke="#ff72b9" stroke-width="1.0"/>
<path d="M528.7,1219.1 V1224.7 M524.7,1219.1 h8 M524.7,1224.7 h8" stroke="#ff72b9" stroke-width="1" fill="none"/>
<path d="M528.7,1216.9 L534.3,1226.9 L523.1,1226.9 Z" fill="none" stroke="#ff72b9" stroke-width="1.0"/>
<path d="M535.6,1215.7 V1221.3 M531.6,1215.7 h8 M531.6,1221.3 h8" stroke="#ff72b9" stroke-width="1" fill="none"/>
<path d="M535.6,1213.5 L541.2,1223.5 L530.0,1223.5 Z" fill="none" stroke="#ff72b9" stroke-width="1.0"/>
<path d="M541.8,1236.9 V1242.5 M537.8,1236.9 h8 M537.8,1242.5 h8" stroke="#ff72b9" stroke-width="1" fill="none"/>
<path d="M541.8,1234.7 L547.4,1244.7 L536.2,1244.7 Z" fill="none" stroke="#ff72b9" stroke-width="1.0"/>
<path d="M548.4,1216.8 V1222.4 M544.4,1216.8 h8 M544.4,1222.4 h8" stroke="#ff72b9" stroke-width="1" fill="none"/>
<path d="M548.4,1214.6 L554.0,1224.6 L542.8,1224.6 Z" fill="none" stroke="#ff72b9" stroke-width="1.0"/>
<path d="M554.5,1220.6 V1226.2 M550.5,1220.6 h8 M550.5,1226.2 h8" stroke="#ff72b9" stroke-width="1" fill="none"/>
<path d="M554.5,1218.4 L560.1,1228.4 L548.9,1228.4 Z" fill="none" stroke="#ff72b9" stroke-width="1.0"/>
<path d="M561.1,1220.0 V1225.6 M557.1,1220.0 h8 M557.1,1225.6 h8" stroke="#ff72b9" stroke-width="1" fill="none"/>
<path d="M561.1,1217.8 L566.7,1227.8 L555.5,1227.8 Z" fill="none" stroke="#ff72b9" stroke-width="1.0"/>
<path d="M567.1,1229.0 V1247.8 M563.1,1229.0 h8 M563.1,1247.8 h8" stroke="#ff72b9" stroke-width="1" fill="none"/>
<path d="M567.1,1233.4 L572.7,1243.4 L561.5,1243.4 Z" fill="none" stroke="#ff72b9" stroke-width="1.0"/>
<path d="M574.0,1221.9 V1227.5 M570.0,1221.9 h8 M570.0,1227.5 h8" stroke="#ff72b9" stroke-width="1" fill="none"/>
<path d="M574.0,1219.7 L579.6,1229.7 L568.4,1229.7 Z" fill="none" stroke="#ff72b9" stroke-width="1.0"/>
<path d="M580.6,1226.6 V1237.8 M576.6,1226.6 h8 M576.6,1237.8 h8" stroke="#ff72b9" stroke-width="1" fill="none"/>
<path d="M580.6,1227.2 L586.2,1237.2 L575.0,1237.2 Z" fill="none" stroke="#ff72b9" stroke-width="1.0"/>
<path d="M586.8,1221.9 V1227.5 M582.8,1221.9 h8 M582.8,1227.5 h8" stroke="#ff72b9" stroke-width="1" fill="none"/>
<path d="M586.8,1219.7 L592.4,1229.7 L581.2,1229.7 Z" fill="none" stroke="#ff72b9" stroke-width="1.0"/>
<path d="M148.7,1236.7 L150.9,1236.5 L153.1,1236.3 L155.3,1236.1 L157.5,1235.9 L159.7,1235.7 L161.9,1235.5 L164.1,1235.3 L166.3,1235.1 L168.5,1234.9 L170.7,1234.6 L172.9,1234.4 L175.1,1234.2 L177.4,1233.9 L179.6,1233.7 L181.8,1233.4 L184.0,1233.1 L186.2,1232.9 L188.4,1232.6 L190.6,1232.3 L192.8,1232.0 L195.0,1231.8 L197.2,1231.5 L199.4,1231.2 L201.6,1230.9 L203.8,1230.5 L206.0,1230.2 L208.2,1229.9 L210.4,1229.6 L212.6,1229.2 L214.8,1228.9 L217.0,1228.5 L219.2,1228.2 L221.4,1227.8 L223.6,1227.5 L225.8,1227.1 L228.0,1226.7 L230.2,1226.3 L232.5,1225.9 L234.7,1225.5 L236.9,1225.1 L239.1,1224.7 L241.3,1224.3 L243.5,1223.9 L245.7,1223.5 L247.9,1223.0 L250.1,1222.6 L252.3,1222.2 L254.5,1221.8 L256.7,1221.3 L258.9,1220.9 L261.1,1220.5 L263.3,1220.0 L265.5,1219.6 L267.7,1219.2 L269.9,1218.8 L272.1,1218.4 L274.3,1218.0 L276.5,1217.6 L278.7,1217.2 L280.9,1216.8 L283.1,1216.5 L285.3,1216.2 L287.6,1215.9 L289.8,1215.6 L292.0,1215.4 L294.2,1215.2 L296.4,1215.1 L298.6,1215.0 L300.8,1215.0 L303.0,1215.0 L305.2,1215.1 L307.4,1215.3 L309.6,1215.6 L311.8,1216.0 L314.0,1216.5 L316.2,1217.1 L318.4,1217.8 L320.6,1218.7 L322.8,1219.7 L325.0,1220.9 L327.2,1222.3 L329.4,1223.9 L331.6,1225.7 L333.8,1227.8 L336.0,1230.1 L338.2,1232.7 L340.4,1235.5 L342.7,1238.6 L344.9,1241.9 L347.1,1245.5 L349.3,1249.3 L351.5,1253.3 L353.7,1257.5 L355.9,1261.7 L358.1,1265.8 L360.3,1269.9 L362.5,1273.6 L364.7,1276.9 L366.9,1279.6 L369.1,1281.6 L371.3,1282.7 L373.5,1282.8 L375.7,1281.9 L377.9,1280.0 L380.1,1277.4 L382.3,1274.2 L384.5,1270.5 L386.7,1266.6 L388.9,1262.4 L391.1,1258.2 L393.3,1254.1 L395.6,1250.0 L397.8,1246.2 L400.0,1242.5 L402.2,1239.1 L404.4,1236.0 L406.6,1233.1 L408.8,1230.5 L411.0,1228.2 L413.2,1226.1 L415.4,1224.2 L417.6,1222.6 L419.8,1221.2 L422.0,1219.9 L424.2,1218.8 L426.4,1217.9 L428.6,1217.2 L430.8,1216.6 L433.0,1216.1 L435.2,1215.7 L437.4,1215.4 L439.6,1215.2 L441.8,1215.0 L444.0,1215.0 L446.2,1215.0 L448.4,1215.1 L450.7,1215.2 L452.9,1215.4 L455.1,1215.6 L457.3,1215.9 L459.5,1216.1 L461.7,1216.4 L463.9,1216.8 L466.1,1217.1 L468.3,1217.5 L470.5,1217.9 L472.7,1218.3 L474.9,1218.7 L477.1,1219.1 L479.3,1219.5 L481.5,1220.0 L483.7,1220.4 L485.9,1220.8 L488.1,1221.2 L490.3,1221.7 L492.5,1222.1 L494.7,1222.5 L496.9,1223.0 L499.1,1223.4 L501.3,1223.8 L503.5,1224.2 L505.8,1224.7 L508.0,1225.1 L510.2,1225.5 L512.4,1225.9 L514.6,1226.3 L516.8,1226.6 L519.0,1227.0 L521.2,1227.4 L523.4,1227.8 L525.6,1228.1 L527.8,1228.5 L530.0,1228.8 L532.2,1229.2 L534.4,1229.5 L536.6,1229.8 L538.8,1230.2 L541.0,1230.5 L543.2,1230.8 L545.4,1231.1 L547.6,1231.4 L549.8,1231.7 L552.0,1232.0 L554.2,1232.3 L556.4,1232.6 L558.6,1232.8 L560.9,1233.1 L563.1,1233.4 L565.3,1233.6 L567.5,1233.9 L569.7,1234.1 L571.9,1234.4 L574.1,1234.6 L576.3,1234.8 L578.5,1235.0 L580.7,1235.3 L582.9,1235.5 L585.1,1235.7 L587.3,1235.9" fill="none" stroke="#ff0080" stroke-width="2.7" stroke-linejoin="round" stroke-linecap="round"/>
<path d="M147.4,1304.3 V1309.9 M143.4,1304.3 h8 M143.4,1309.9 h8" stroke="#ff72b9" stroke-width="1" fill="none"/>
<circle cx="147.4" cy="1307.1" r="5" fill="none" stroke="#ff72b9" stroke-width="1.0"/>
<path d="M153.8,1290.3 V1295.9 M149.8,1290.3 h8 M149.8,1295.9 h8" stroke="#ff72b9" stroke-width="1" fill="none"/>
<circle cx="153.8" cy="1293.1" r="5" fill="none" stroke="#ff72b9" stroke-width="1.0"/>
<path d="M160.4,1307.1 V1312.7 M156.4,1307.1 h8 M156.4,1312.7 h8" stroke="#ff72b9" stroke-width="1" fill="none"/>
<circle cx="160.4" cy="1309.9" r="5" fill="none" stroke="#ff72b9" stroke-width="1.0"/>
<path d="M166.9,1296.8 V1302.4 M162.9,1296.8 h8 M162.9,1302.4 h8" stroke="#ff72b9" stroke-width="1" fill="none"/>
<circle cx="166.9" cy="1299.6" r="5" fill="none" stroke="#ff72b9" stroke-width="1.0"/>
<path d="M173.1,1304.9 V1310.5 M169.1,1304.9 h8 M169.1,1310.5 h8" stroke="#ff72b9" stroke-width="1" fill="none"/>
<circle cx="173.1" cy="1307.7" r="5" fill="none" stroke="#ff72b9" stroke-width="1.0"/>
<path d="M179.3,1295.0 V1300.6 M175.3,1295.0 h8 M175.3,1300.6 h8" stroke="#ff72b9" stroke-width="1" fill="none"/>
<circle cx="179.3" cy="1297.8" r="5" fill="none" stroke="#ff72b9" stroke-width="1.0"/>
<path d="M185.7,1286.9 V1307.5 M181.7,1286.9 h8 M181.7,1307.5 h8" stroke="#ff72b9" stroke-width="1" fill="none"/>
<circle cx="185.7" cy="1297.2" r="5" fill="none" stroke="#ff72b9" stroke-width="1.0"/>
<path d="M192.4,1295.0 V1300.6 M188.4,1295.0 h8 M188.4,1300.6 h8" stroke="#ff72b9" stroke-width="1" fill="none"/>
<circle cx="192.4" cy="1297.8" r="5" fill="none" stroke="#ff72b9" stroke-width="1.0"/>
<path d="M199.0,1297.7 V1322.1 M195.0,1297.7 h8 M195.0,1322.1 h8" stroke="#ff72b9" stroke-width="1" fill="none"/>
<circle cx="199.0" cy="1309.9" r="5" fill="none" stroke="#ff72b9" stroke-width="1.0"/>
<path d="M205.0,1305.3 V1310.9 M201.0,1305.3 h8 M201.0,1310.9 h8" stroke="#ff72b9" stroke-width="1" fill="none"/>
<circle cx="205.0" cy="1308.1" r="5" fill="none" stroke="#ff72b9" stroke-width="1.0"/>
<path d="M211.9,1308.6 V1314.2 M207.9,1308.6 h8 M207.9,1314.2 h8" stroke="#ff72b9" stroke-width="1" fill="none"/>
<circle cx="211.9" cy="1311.4" r="5" fill="none" stroke="#ff72b9" stroke-width="1.0"/>
<path d="M218.1,1283.7 V1306.1 M214.1,1283.7 h8 M214.1,1306.1 h8" stroke="#ff72b9" stroke-width="1" fill="none"/>
<circle cx="218.1" cy="1294.9" r="5" fill="none" stroke="#ff72b9" stroke-width="1.0"/>
<path d="M224.6,1295.5 V1301.1 M220.6,1295.5 h8 M220.6,1301.1 h8" stroke="#ff72b9" stroke-width="1" fill="none"/>
<circle cx="224.6" cy="1298.3" r="5" fill="none" stroke="#ff72b9" stroke-width="1.0"/>
<path d="M231.2,1308.1 V1313.7 M227.2,1308.1 h8 M227.2,1313.7 h8" stroke="#ff72b9" stroke-width="1" fill="none"/>
<circle cx="231.2" cy="1310.9" r="5" fill="none" stroke="#ff72b9" stroke-width="1.0"/>
<path d="M237.8,1292.5 V1301.9 M233.8,1292.5 h8 M233.8,1301.9 h8" stroke="#ff72b9" stroke-width="1" fill="none"/>
<circle cx="237.8" cy="1297.2" r="5" fill="none" stroke="#ff72b9" stroke-width="1.0"/>
<path d="M243.9,1299.3 V1304.9 M239.9,1299.3 h8 M239.9,1304.9 h8" stroke="#ff72b9" stroke-width="1" fill="none"/>
<circle cx="243.9" cy="1302.1" r="5" fill="none" stroke="#ff72b9" stroke-width="1.0"/>
<path d="M250.5,1310.0 V1315.6 M246.5,1310.0 h8 M246.5,1315.6 h8" stroke="#ff72b9" stroke-width="1" fill="none"/>
<circle cx="250.5" cy="1312.8" r="5" fill="none" stroke="#ff72b9" stroke-width="1.0"/>
<path d="M256.9,1295.5 V1301.1 M252.9,1295.5 h8 M252.9,1301.1 h8" stroke="#ff72b9" stroke-width="1" fill="none"/>
<circle cx="256.9" cy="1298.3" r="5" fill="none" stroke="#ff72b9" stroke-width="1.0"/>
<path d="M263.1,1304.3 V1309.9 M259.1,1304.3 h8 M259.1,1309.9 h8" stroke="#ff72b9" stroke-width="1" fill="none"/>
<circle cx="263.1" cy="1307.1" r="5" fill="none" stroke="#ff72b9" stroke-width="1.0"/>
<path d="M269.6,1306.2 V1319.4 M265.6,1306.2 h8 M265.6,1319.4 h8" stroke="#ff72b9" stroke-width="1" fill="none"/>
<circle cx="269.6" cy="1312.8" r="5" fill="none" stroke="#ff72b9" stroke-width="1.0"/>
<path d="M276.2,1291.8 V1297.4 M272.2,1291.8 h8 M272.2,1297.4 h8" stroke="#ff72b9" stroke-width="1" fill="none"/>
<circle cx="276.2" cy="1294.6" r="5" fill="none" stroke="#ff72b9" stroke-width="1.0"/>
<path d="M282.7,1297.4 V1303.0 M278.7,1297.4 h8 M278.7,1303.0 h8" stroke="#ff72b9" stroke-width="1" fill="none"/>
<circle cx="282.7" cy="1300.2" r="5" fill="none" stroke="#ff72b9" stroke-width="1.0"/>
<path d="M288.9,1308.1 V1313.7 M284.9,1308.1 h8 M284.9,1313.7 h8" stroke="#ff72b9" stroke-width="1" fill="none"/>
<circle cx="288.9" cy="1310.9" r="5" fill="none" stroke="#ff72b9" stroke-width="1.0"/>
<path d="M295.5,1289.9 V1295.5 M291.5,1289.9 h8 M291.5,1295.5 h8" stroke="#ff72b9" stroke-width="1" fill="none"/>
<circle cx="295.5" cy="1292.7" r="5" fill="none" stroke="#ff72b9" stroke-width="1.0"/>
<path d="M302.0,1311.8 V1317.4 M298.0,1311.8 h8 M298.0,1317.4 h8" stroke="#ff72b9" stroke-width="1" fill="none"/>
<circle cx="302.0" cy="1314.6" r="5" fill="none" stroke="#ff72b9" stroke-width="1.0"/>
<path d="M308.4,1306.8 V1312.4 M304.4,1306.8 h8 M304.4,1312.4 h8" stroke="#ff72b9" stroke-width="1" fill="none"/>
<circle cx="308.4" cy="1309.6" r="5" fill="none" stroke="#ff72b9" stroke-width="1.0"/>
<path d="M314.6,1297.8 V1303.4 M310.6,1297.8 h8 M310.6,1303.4 h8" stroke="#ff72b9" stroke-width="1" fill="none"/>
<circle cx="314.6" cy="1300.6" r="5" fill="none" stroke="#ff72b9" stroke-width="1.0"/>
<path d="M321.2,1290.3 V1305.3 M317.2,1290.3 h8 M317.2,1305.3 h8" stroke="#ff72b9" stroke-width="1" fill="none"/>
<circle cx="321.2" cy="1297.8" r="5" fill="none" stroke="#ff72b9" stroke-width="1.0"/>
<path d="M327.2,1310.9 V1316.5 M323.2,1310.9 h8 M323.2,1316.5 h8" stroke="#ff72b9" stroke-width="1" fill="none"/>
<circle cx="327.2" cy="1313.7" r="5" fill="none" stroke="#ff72b9" stroke-width="1.0"/>
<path d="M333.9,1311.3 V1316.9 M329.9,1311.3 h8 M329.9,1316.9 h8" stroke="#ff72b9" stroke-width="1" fill="none"/>
<circle cx="333.9" cy="1314.1" r="5" fill="none" stroke="#ff72b9" stroke-width="1.0"/>
<path d="M339.9,1341.2 V1346.8 M335.9,1341.2 h8 M335.9,1346.8 h8" stroke="#ff72b9" stroke-width="1" fill="none"/>
<circle cx="339.9" cy="1344.0" r="5" fill="none" stroke="#ff72b9" stroke-width="1.0"/>
<path d="M347.0,1349.9 V1355.5 M343.0,1349.9 h8 M343.0,1355.5 h8" stroke="#ff72b9" stroke-width="1" fill="none"/>
<circle cx="347.0" cy="1352.7" r="5" fill="none" stroke="#ff72b9" stroke-width="1.0"/>
<path d="M353.4,1367.1 V1372.7 M349.4,1367.1 h8 M349.4,1372.7 h8" stroke="#ff72b9" stroke-width="1" fill="none"/>
<circle cx="353.4" cy="1369.9" r="5" fill="none" stroke="#ff72b9" stroke-width="1.0"/>
<path d="M360.1,1372.7 V1378.3 M356.1,1372.7 h8 M356.1,1378.3 h8" stroke="#ff72b9" stroke-width="1" fill="none"/>
<circle cx="360.1" cy="1375.5" r="5" fill="none" stroke="#ff72b9" stroke-width="1.0"/>
<path d="M366.5,1388.7 V1394.3 M362.5,1388.7 h8 M362.5,1394.3 h8" stroke="#ff72b9" stroke-width="1" fill="none"/>
<circle cx="366.5" cy="1391.5" r="5" fill="none" stroke="#ff72b9" stroke-width="1.0"/>
<path d="M373.1,1382.1 V1387.7 M369.1,1382.1 h8 M369.1,1387.7 h8" stroke="#ff72b9" stroke-width="1" fill="none"/>
<circle cx="373.1" cy="1384.9" r="5" fill="none" stroke="#ff72b9" stroke-width="1.0"/>
<path d="M379.3,1387.8 V1393.4 M375.3,1387.8 h8 M375.3,1393.4 h8" stroke="#ff72b9" stroke-width="1" fill="none"/>
<circle cx="379.3" cy="1390.6" r="5" fill="none" stroke="#ff72b9" stroke-width="1.0"/>
<path d="M384.9,1379.4 V1385.0 M380.9,1379.4 h8 M380.9,1385.0 h8" stroke="#ff72b9" stroke-width="1" fill="none"/>
<circle cx="384.9" cy="1382.2" r="5" fill="none" stroke="#ff72b9" stroke-width="1.0"/>
<path d="M392.4,1363.4 V1369.0 M388.4,1363.4 h8 M388.4,1369.0 h8" stroke="#ff72b9" stroke-width="1" fill="none"/>
<circle cx="392.4" cy="1366.2" r="5" fill="none" stroke="#ff72b9" stroke-width="1.0"/>
<path d="M399.0,1354.1 V1359.7 M395.0,1354.1 h8 M395.0,1359.7 h8" stroke="#ff72b9" stroke-width="1" fill="none"/>
<circle cx="399.0" cy="1356.9" r="5" fill="none" stroke="#ff72b9" stroke-width="1.0"/>
<path d="M405.0,1328.7 V1334.3 M401.0,1328.7 h8 M401.0,1334.3 h8" stroke="#ff72b9" stroke-width="1" fill="none"/>
<circle cx="405.0" cy="1331.5" r="5" fill="none" stroke="#ff72b9" stroke-width="1.0"/>
<path d="M411.2,1303.9 V1318.9 M407.2,1303.9 h8 M407.2,1318.9 h8" stroke="#ff72b9" stroke-width="1" fill="none"/>
<circle cx="411.2" cy="1311.4" r="5" fill="none" stroke="#ff72b9" stroke-width="1.0"/>
<path d="M417.7,1281.8 V1308.0 M413.7,1281.8 h8 M413.7,1308.0 h8" stroke="#ff72b9" stroke-width="1" fill="none"/>
<circle cx="417.7" cy="1294.9" r="5" fill="none" stroke="#ff72b9" stroke-width="1.0"/>
<path d="M424.1,1285.5 V1298.7 M420.1,1285.5 h8 M420.1,1298.7 h8" stroke="#ff72b9" stroke-width="1" fill="none"/>
<circle cx="424.1" cy="1292.1" r="5" fill="none" stroke="#ff72b9" stroke-width="1.0"/>
<path d="M430.7,1294.0 V1299.6 M426.7,1294.0 h8 M426.7,1299.6 h8" stroke="#ff72b9" stroke-width="1" fill="none"/>
<circle cx="430.7" cy="1296.8" r="5" fill="none" stroke="#ff72b9" stroke-width="1.0"/>
<path d="M436.8,1295.9 V1301.5 M432.8,1295.9 h8 M432.8,1301.5 h8" stroke="#ff72b9" stroke-width="1" fill="none"/>
<circle cx="436.8" cy="1298.7" r="5" fill="none" stroke="#ff72b9" stroke-width="1.0"/>
<path d="M443.4,1298.7 V1304.3 M439.4,1298.7 h8 M439.4,1304.3 h8" stroke="#ff72b9" stroke-width="1" fill="none"/>
<circle cx="443.4" cy="1301.5" r="5" fill="none" stroke="#ff72b9" stroke-width="1.0"/>
<path d="M450.0,1279.6 V1294.6 M446.0,1279.6 h8 M446.0,1294.6 h8" stroke="#ff72b9" stroke-width="1" fill="none"/>
<circle cx="450.0" cy="1287.1" r="5" fill="none" stroke="#ff72b9" stroke-width="1.0"/>
<path d="M456.5,1307.2 V1318.4 M452.5,1307.2 h8 M452.5,1318.4 h8" stroke="#ff72b9" stroke-width="1" fill="none"/>
<circle cx="456.5" cy="1312.8" r="5" fill="none" stroke="#ff72b9" stroke-width="1.0"/>
<path d="M462.7,1298.1 V1303.7 M458.7,1298.1 h8 M458.7,1303.7 h8" stroke="#ff72b9" stroke-width="1" fill="none"/>
<circle cx="462.7" cy="1300.9" r="5" fill="none" stroke="#ff72b9" stroke-width="1.0"/>
<path d="M469.1,1293.6 V1299.2 M465.1,1293.6 h8 M465.1,1299.2 h8" stroke="#ff72b9" stroke-width="1" fill="none"/>
<circle cx="469.1" cy="1296.4" r="5" fill="none" stroke="#ff72b9" stroke-width="1.0"/>
<path d="M475.6,1295.0 V1300.6 M471.6,1295.0 h8 M471.6,1300.6 h8" stroke="#ff72b9" stroke-width="1" fill="none"/>
<circle cx="475.6" cy="1297.8" r="5" fill="none" stroke="#ff72b9" stroke-width="1.0"/>
<path d="M482.2,1282.8 V1305.2 M478.2,1282.8 h8 M478.2,1305.2 h8" stroke="#ff72b9" stroke-width="1" fill="none"/>
<circle cx="482.2" cy="1294.0" r="5" fill="none" stroke="#ff72b9" stroke-width="1.0"/>
<path d="M488.4,1288.4 V1303.4 M484.4,1288.4 h8 M484.4,1303.4 h8" stroke="#ff72b9" stroke-width="1" fill="none"/>
<circle cx="488.4" cy="1295.9" r="5" fill="none" stroke="#ff72b9" stroke-width="1.0"/>
<path d="M494.9,1302.5 V1308.1 M490.9,1302.5 h8 M490.9,1308.1 h8" stroke="#ff72b9" stroke-width="1" fill="none"/>
<circle cx="494.9" cy="1305.3" r="5" fill="none" stroke="#ff72b9" stroke-width="1.0"/>
<path d="M501.5,1284.6 V1297.8 M497.5,1284.6 h8 M497.5,1297.8 h8" stroke="#ff72b9" stroke-width="1" fill="none"/>
<circle cx="501.5" cy="1291.2" r="5" fill="none" stroke="#ff72b9" stroke-width="1.0"/>
<path d="M508.1,1289.3 V1300.5 M504.1,1289.3 h8 M504.1,1300.5 h8" stroke="#ff72b9" stroke-width="1" fill="none"/>
<circle cx="508.1" cy="1294.9" r="5" fill="none" stroke="#ff72b9" stroke-width="1.0"/>
<path d="M514.2,1299.6 V1305.2 M510.2,1299.6 h8 M510.2,1305.2 h8" stroke="#ff72b9" stroke-width="1" fill="none"/>
<circle cx="514.2" cy="1302.4" r="5" fill="none" stroke="#ff72b9" stroke-width="1.0"/>
<path d="M520.8,1296.3 V1301.9 M516.8,1296.3 h8 M516.8,1301.9 h8" stroke="#ff72b9" stroke-width="1" fill="none"/>
<circle cx="520.8" cy="1299.1" r="5" fill="none" stroke="#ff72b9" stroke-width="1.0"/>
<path d="M527.2,1296.8 V1302.4 M523.2,1296.8 h8 M523.2,1302.4 h8" stroke="#ff72b9" stroke-width="1" fill="none"/>
<circle cx="527.2" cy="1299.6" r="5" fill="none" stroke="#ff72b9" stroke-width="1.0"/>
<path d="M533.7,1298.7 V1304.3 M529.7,1298.7 h8 M529.7,1304.3 h8" stroke="#ff72b9" stroke-width="1" fill="none"/>
<circle cx="533.7" cy="1301.5" r="5" fill="none" stroke="#ff72b9" stroke-width="1.0"/>
<path d="M540.3,1261.2 V1306.2 M536.3,1261.2 h8 M536.3,1306.2 h8" stroke="#ff72b9" stroke-width="1" fill="none"/>
<circle cx="540.3" cy="1283.7" r="5" fill="none" stroke="#ff72b9" stroke-width="1.0"/>
<path d="M546.5,1297.8 V1303.4 M542.5,1297.8 h8 M542.5,1303.4 h8" stroke="#ff72b9" stroke-width="1" fill="none"/>
<circle cx="546.5" cy="1300.6" r="5" fill="none" stroke="#ff72b9" stroke-width="1.0"/>
<path d="M553.0,1302.5 V1308.1 M549.0,1302.5 h8 M549.0,1308.1 h8" stroke="#ff72b9" stroke-width="1" fill="none"/>
<circle cx="553.0" cy="1305.3" r="5" fill="none" stroke="#ff72b9" stroke-width="1.0"/>
<path d="M559.6,1297.2 V1312.2 M555.6,1297.2 h8 M555.6,1312.2 h8" stroke="#ff72b9" stroke-width="1" fill="none"/>
<circle cx="559.6" cy="1304.7" r="5" fill="none" stroke="#ff72b9" stroke-width="1.0"/>
<path d="M565.8,1310.9 V1316.5 M561.8,1310.9 h8 M561.8,1316.5 h8" stroke="#ff72b9" stroke-width="1" fill="none"/>
<circle cx="565.8" cy="1313.7" r="5" fill="none" stroke="#ff72b9" stroke-width="1.0"/>
<path d="M572.2,1296.8 V1302.4 M568.2,1296.8 h8 M568.2,1302.4 h8" stroke="#ff72b9" stroke-width="1" fill="none"/>
<circle cx="572.2" cy="1299.6" r="5" fill="none" stroke="#ff72b9" stroke-width="1.0"/>
<path d="M578.7,1298.1 V1326.3 M574.7,1298.1 h8 M574.7,1326.3 h8" stroke="#ff72b9" stroke-width="1" fill="none"/>
<circle cx="578.7" cy="1312.2" r="5" fill="none" stroke="#ff72b9" stroke-width="1.0"/>
<path d="M585.3,1305.6 V1311.2 M581.3,1305.6 h8 M581.3,1311.2 h8" stroke="#ff72b9" stroke-width="1" fill="none"/>
<circle cx="585.3" cy="1308.4" r="5" fill="none" stroke="#ff72b9" stroke-width="1.0"/>
<path d="M146.9,1307.7 L149.1,1307.6 L151.3,1307.5 L153.5,1307.4 L155.8,1307.2 L158.0,1307.1 L160.2,1307.0 L162.4,1306.8 L164.6,1306.7 L166.8,1306.5 L169.0,1306.4 L171.2,1306.2 L173.5,1306.1 L175.7,1305.9 L177.9,1305.8 L180.1,1305.6 L182.3,1305.4 L184.5,1305.2 L186.7,1305.1 L188.9,1304.9 L191.2,1304.7 L193.4,1304.5 L195.6,1304.3 L197.8,1304.1 L200.0,1303.9 L202.2,1303.7 L204.4,1303.5 L206.7,1303.3 L208.9,1303.1 L211.1,1302.8 L213.3,1302.6 L215.5,1302.4 L217.7,1302.1 L219.9,1301.9 L222.1,1301.6 L224.4,1301.4 L226.6,1301.1 L228.8,1300.9 L231.0,1300.6 L233.2,1300.3 L235.4,1300.0 L237.6,1299.8 L239.8,1299.5 L242.1,1299.2 L244.3,1298.9 L246.5,1298.6 L248.7,1298.3 L250.9,1298.1 L253.1,1297.8 L255.3,1297.5 L257.6,1297.2 L259.8,1296.9 L262.0,1296.6 L264.2,1296.3 L266.4,1296.1 L268.6,1295.8 L270.8,1295.6 L273.0,1295.3 L275.3,1295.1 L277.5,1294.9 L279.7,1294.8 L281.9,1294.6 L284.1,1294.5 L286.3,1294.4 L288.5,1294.4 L290.7,1294.4 L293.0,1294.5 L295.2,1294.6 L297.4,1294.8 L299.6,1295.1 L301.8,1295.4 L304.0,1295.9 L306.2,1296.5 L308.5,1297.2 L310.7,1298.0 L312.9,1299.0 L315.1,1300.2 L317.3,1301.6 L319.5,1303.2 L321.7,1305.0 L323.9,1307.1 L326.2,1309.5 L328.4,1312.1 L330.6,1315.1 L332.8,1318.4 L335.0,1322.1 L337.2,1326.1 L339.4,1330.5 L341.6,1335.2 L343.9,1340.3 L346.1,1345.7 L348.3,1351.3 L350.5,1357.1 L352.7,1363.0 L354.9,1368.9 L357.1,1374.6 L359.4,1379.9 L361.6,1384.8 L363.8,1389.0 L366.0,1392.3 L368.2,1394.8 L370.4,1396.2 L372.6,1396.5 L374.8,1395.7 L377.1,1393.9 L379.3,1391.0 L381.5,1387.3 L383.7,1382.8 L385.9,1377.7 L388.1,1372.2 L390.3,1366.4 L392.6,1360.5 L394.8,1354.7 L397.0,1348.9 L399.2,1343.4 L401.4,1338.1 L403.6,1333.2 L405.8,1328.6 L408.0,1324.4 L410.3,1320.5 L412.5,1317.0 L414.7,1313.8 L416.9,1311.0 L419.1,1308.4 L421.3,1306.2 L423.5,1304.2 L425.7,1302.5 L428.0,1301.0 L430.2,1299.7 L432.4,1298.6 L434.6,1297.7 L436.8,1296.9 L439.0,1296.2 L441.2,1295.7 L443.5,1295.3 L445.7,1294.9 L447.9,1294.7 L450.1,1294.5 L452.3,1294.4 L454.5,1294.4 L456.7,1294.4 L458.9,1294.4 L461.2,1294.5 L463.4,1294.7 L465.6,1294.8 L467.8,1295.0 L470.0,1295.2 L472.2,1295.4 L474.4,1295.7 L476.6,1295.9 L478.9,1296.2 L481.1,1296.5 L483.3,1296.7 L485.5,1297.0 L487.7,1297.3 L489.9,1297.6 L492.1,1297.9 L494.4,1298.2 L496.6,1298.5 L498.8,1298.8 L501.0,1299.0 L503.2,1299.3 L505.4,1299.6 L507.6,1299.9 L509.8,1300.2 L512.1,1300.4 L514.3,1300.7 L516.5,1301.0 L518.7,1301.2 L520.9,1301.5 L523.1,1301.7 L525.3,1302.0 L527.5,1302.2 L529.8,1302.5 L532.0,1302.7 L534.2,1302.9 L536.4,1303.1 L538.6,1303.4 L540.8,1303.6 L543.0,1303.8 L545.3,1304.0 L547.5,1304.2 L549.7,1304.4 L551.9,1304.6 L554.1,1304.8 L556.3,1305.0 L558.5,1305.1 L560.7,1305.3 L563.0,1305.5 L565.2,1305.7 L567.4,1305.8 L569.6,1306.0 L571.8,1306.1 L574.0,1306.3 L576.2,1306.4 L578.4,1306.6 L580.7,1306.7 L582.9,1306.9 L585.1,1307.0 L587.3,1307.1" fill="none" stroke="#ff0080" stroke-width="2.7" stroke-linejoin="round" stroke-linecap="round"/>
<path d="M149.3,1356.8 V1362.4 M145.3,1356.8 h8 M145.3,1362.4 h8" stroke="#ff72b9" stroke-width="1" fill="none"/>
<rect x="145.2" y="1355.5" width="8.2" height="8.2" fill="none" stroke="#ff72b9" stroke-width="1.0"/>
<path d="M155.3,1371.8 V1377.4 M151.3,1371.8 h8 M151.3,1377.4 h8" stroke="#ff72b9" stroke-width="1" fill="none"/>
<rect x="151.2" y="1370.5" width="8.2" height="8.2" fill="none" stroke="#ff72b9" stroke-width="1.0"/>
<path d="M161.9,1368.9 V1382.1 M157.9,1368.9 h8 M157.9,1382.1 h8" stroke="#ff72b9" stroke-width="1" fill="none"/>
<rect x="157.8" y="1371.4" width="8.2" height="8.2" fill="none" stroke="#ff72b9" stroke-width="1.0"/>
<path d="M168.4,1362.4 V1373.6 M164.4,1362.4 h8 M164.4,1373.6 h8" stroke="#ff72b9" stroke-width="1" fill="none"/>
<rect x="164.3" y="1363.9" width="8.2" height="8.2" fill="none" stroke="#ff72b9" stroke-width="1.0"/>
<path d="M175.0,1367.1 V1372.7 M171.0,1367.1 h8 M171.0,1372.7 h8" stroke="#ff72b9" stroke-width="1" fill="none"/>
<rect x="170.9" y="1365.8" width="8.2" height="8.2" fill="none" stroke="#ff72b9" stroke-width="1.0"/>
<path d="M180.6,1366.2 V1386.8 M176.6,1366.2 h8 M176.6,1386.8 h8" stroke="#ff72b9" stroke-width="1" fill="none"/>
<rect x="176.5" y="1372.4" width="8.2" height="8.2" fill="none" stroke="#ff72b9" stroke-width="1.0"/>
<path d="M187.2,1366.1 V1375.5 M183.2,1366.1 h8 M183.2,1375.5 h8" stroke="#ff72b9" stroke-width="1" fill="none"/>
<rect x="183.1" y="1366.7" width="8.2" height="8.2" fill="none" stroke="#ff72b9" stroke-width="1.0"/>
<path d="M193.7,1373.7 V1379.3 M189.7,1373.7 h8 M189.7,1379.3 h8" stroke="#ff72b9" stroke-width="1" fill="none"/>
<rect x="189.6" y="1372.4" width="8.2" height="8.2" fill="none" stroke="#ff72b9" stroke-width="1.0"/>
<path d="M200.7,1360.5 V1369.9 M196.7,1360.5 h8 M196.7,1369.9 h8" stroke="#ff72b9" stroke-width="1" fill="none"/>
<rect x="196.6" y="1361.1" width="8.2" height="8.2" fill="none" stroke="#ff72b9" stroke-width="1.0"/>
<path d="M206.8,1360.6 V1377.4 M202.8,1360.6 h8 M202.8,1377.4 h8" stroke="#ff72b9" stroke-width="1" fill="none"/>
<rect x="202.7" y="1364.9" width="8.2" height="8.2" fill="none" stroke="#ff72b9" stroke-width="1.0"/>
<path d="M213.4,1366.7 V1372.3 M209.4,1366.7 h8 M209.4,1372.3 h8" stroke="#ff72b9" stroke-width="1" fill="none"/>
<rect x="209.3" y="1365.4" width="8.2" height="8.2" fill="none" stroke="#ff72b9" stroke-width="1.0"/>
<path d="M219.6,1373.7 V1379.3 M215.6,1373.7 h8 M215.6,1379.3 h8" stroke="#ff72b9" stroke-width="1" fill="none"/>
<rect x="215.5" y="1372.4" width="8.2" height="8.2" fill="none" stroke="#ff72b9" stroke-width="1.0"/>
<path d="M226.1,1369.9 V1384.9 M222.1,1369.9 h8 M222.1,1384.9 h8" stroke="#ff72b9" stroke-width="1" fill="none"/>
<rect x="222.0" y="1373.3" width="8.2" height="8.2" fill="none" stroke="#ff72b9" stroke-width="1.0"/>
<path d="M232.7,1363.0 V1368.6 M228.7,1363.0 h8 M228.7,1368.6 h8" stroke="#ff72b9" stroke-width="1" fill="none"/>
<rect x="228.6" y="1361.7" width="8.2" height="8.2" fill="none" stroke="#ff72b9" stroke-width="1.0"/>
<path d="M238.7,1369.0 V1374.6 M234.7,1369.0 h8 M234.7,1374.6 h8" stroke="#ff72b9" stroke-width="1" fill="none"/>
<rect x="234.6" y="1367.7" width="8.2" height="8.2" fill="none" stroke="#ff72b9" stroke-width="1.0"/>
<path d="M245.3,1369.9 V1375.5 M241.3,1369.9 h8 M241.3,1375.5 h8" stroke="#ff72b9" stroke-width="1" fill="none"/>
<rect x="241.2" y="1368.6" width="8.2" height="8.2" fill="none" stroke="#ff72b9" stroke-width="1.0"/>
<path d="M251.8,1373.1 V1378.7 M247.8,1373.1 h8 M247.8,1378.7 h8" stroke="#ff72b9" stroke-width="1" fill="none"/>
<rect x="247.7" y="1371.8" width="8.2" height="8.2" fill="none" stroke="#ff72b9" stroke-width="1.0"/>
<path d="M258.7,1360.6 V1366.2 M254.7,1360.6 h8 M254.7,1366.2 h8" stroke="#ff72b9" stroke-width="1" fill="none"/>
<rect x="254.6" y="1359.3" width="8.2" height="8.2" fill="none" stroke="#ff72b9" stroke-width="1.0"/>
<path d="M264.9,1382.5 V1388.1 M260.9,1382.5 h8 M260.9,1388.1 h8" stroke="#ff72b9" stroke-width="1" fill="none"/>
<rect x="260.8" y="1381.2" width="8.2" height="8.2" fill="none" stroke="#ff72b9" stroke-width="1.0"/>
<path d="M271.1,1365.2 V1370.8 M267.1,1365.2 h8 M267.1,1370.8 h8" stroke="#ff72b9" stroke-width="1" fill="none"/>
<rect x="267.0" y="1363.9" width="8.2" height="8.2" fill="none" stroke="#ff72b9" stroke-width="1.0"/>
<path d="M277.5,1373.7 V1379.3 M273.5,1373.7 h8 M273.5,1379.3 h8" stroke="#ff72b9" stroke-width="1" fill="none"/>
<rect x="273.4" y="1372.4" width="8.2" height="8.2" fill="none" stroke="#ff72b9" stroke-width="1.0"/>
<path d="M283.7,1373.7 V1379.3 M279.7,1373.7 h8 M279.7,1379.3 h8" stroke="#ff72b9" stroke-width="1" fill="none"/>
<rect x="279.6" y="1372.4" width="8.2" height="8.2" fill="none" stroke="#ff72b9" stroke-width="1.0"/>
<path d="M289.9,1374.2 V1379.8 M285.9,1374.2 h8 M285.9,1379.8 h8" stroke="#ff72b9" stroke-width="1" fill="none"/>
<rect x="285.8" y="1372.9" width="8.2" height="8.2" fill="none" stroke="#ff72b9" stroke-width="1.0"/>
<path d="M296.4,1374.2 V1379.8 M292.4,1374.2 h8 M292.4,1379.8 h8" stroke="#ff72b9" stroke-width="1" fill="none"/>
<rect x="292.3" y="1372.9" width="8.2" height="8.2" fill="none" stroke="#ff72b9" stroke-width="1.0"/>
<path d="M303.4,1375.5 V1381.1 M299.4,1375.5 h8 M299.4,1381.1 h8" stroke="#ff72b9" stroke-width="1" fill="none"/>
<rect x="299.3" y="1374.2" width="8.2" height="8.2" fill="none" stroke="#ff72b9" stroke-width="1.0"/>
<path d="M309.9,1365.2 V1370.8 M305.9,1365.2 h8 M305.9,1370.8 h8" stroke="#ff72b9" stroke-width="1" fill="none"/>
<rect x="305.8" y="1363.9" width="8.2" height="8.2" fill="none" stroke="#ff72b9" stroke-width="1.0"/>
<path d="M316.5,1360.6 V1398.0 M312.5,1360.6 h8 M312.5,1398.0 h8" stroke="#ff72b9" stroke-width="1" fill="none"/>
<rect x="312.4" y="1375.2" width="8.2" height="8.2" fill="none" stroke="#ff72b9" stroke-width="1.0"/>
<path d="M322.2,1401.0 V1423.4 M318.2,1401.0 h8 M318.2,1423.4 h8" stroke="#ff72b9" stroke-width="1" fill="none"/>
<rect x="318.1" y="1408.1" width="8.2" height="8.2" fill="none" stroke="#ff72b9" stroke-width="1.0"/>
<path d="M328.7,1424.4 V1435.6 M324.7,1424.4 h8 M324.7,1435.6 h8" stroke="#ff72b9" stroke-width="1" fill="none"/>
<rect x="324.6" y="1425.9" width="8.2" height="8.2" fill="none" stroke="#ff72b9" stroke-width="1.0"/>
<path d="M335.3,1443.1 V1448.7 M331.3,1443.1 h8 M331.3,1448.7 h8" stroke="#ff72b9" stroke-width="1" fill="none"/>
<rect x="331.2" y="1441.8" width="8.2" height="8.2" fill="none" stroke="#ff72b9" stroke-width="1.0"/>
<path d="M341.8,1444.9 V1459.9 M337.8,1444.9 h8 M337.8,1459.9 h8" stroke="#ff72b9" stroke-width="1" fill="none"/>
<rect x="337.7" y="1448.3" width="8.2" height="8.2" fill="none" stroke="#ff72b9" stroke-width="1.0"/>
<path d="M348.4,1464.6 V1470.2 M344.4,1464.6 h8 M344.4,1470.2 h8" stroke="#ff72b9" stroke-width="1" fill="none"/>
<rect x="344.3" y="1463.3" width="8.2" height="8.2" fill="none" stroke="#ff72b9" stroke-width="1.0"/>
<path d="M354.9,1475.9 V1481.5 M350.9,1475.9 h8 M350.9,1481.5 h8" stroke="#ff72b9" stroke-width="1" fill="none"/>
<rect x="350.8" y="1474.6" width="8.2" height="8.2" fill="none" stroke="#ff72b9" stroke-width="1.0"/>
<path d="M362.1,1482.4 V1497.4 M358.1,1482.4 h8 M358.1,1497.4 h8" stroke="#ff72b9" stroke-width="1" fill="none"/>
<rect x="358.0" y="1485.8" width="8.2" height="8.2" fill="none" stroke="#ff72b9" stroke-width="1.0"/>
<path d="M368.1,1496.5 V1502.1 M364.1,1496.5 h8 M364.1,1502.1 h8" stroke="#ff72b9" stroke-width="1" fill="none"/>
<rect x="364.0" y="1495.2" width="8.2" height="8.2" fill="none" stroke="#ff72b9" stroke-width="1.0"/>
<path d="M373.7,1502.1 V1507.7 M369.7,1502.1 h8 M369.7,1507.7 h8" stroke="#ff72b9" stroke-width="1" fill="none"/>
<rect x="369.6" y="1500.8" width="8.2" height="8.2" fill="none" stroke="#ff72b9" stroke-width="1.0"/>
<path d="M380.2,1500.2 V1505.8 M376.2,1500.2 h8 M376.2,1505.8 h8" stroke="#ff72b9" stroke-width="1" fill="none"/>
<rect x="376.1" y="1498.9" width="8.2" height="8.2" fill="none" stroke="#ff72b9" stroke-width="1.0"/>
<path d="M386.8,1489.9 V1495.5 M382.8,1489.9 h8 M382.8,1495.5 h8" stroke="#ff72b9" stroke-width="1" fill="none"/>
<rect x="382.7" y="1488.6" width="8.2" height="8.2" fill="none" stroke="#ff72b9" stroke-width="1.0"/>
<path d="M393.9,1475.9 V1481.5 M389.9,1475.9 h8 M389.9,1481.5 h8" stroke="#ff72b9" stroke-width="1" fill="none"/>
<rect x="389.8" y="1474.6" width="8.2" height="8.2" fill="none" stroke="#ff72b9" stroke-width="1.0"/>
<path d="M399.9,1456.2 V1461.8 M395.9,1456.2 h8 M395.9,1461.8 h8" stroke="#ff72b9" stroke-width="1" fill="none"/>
<rect x="395.8" y="1454.9" width="8.2" height="8.2" fill="none" stroke="#ff72b9" stroke-width="1.0"/>
<path d="M407.0,1447.8 V1453.4 M403.0,1447.8 h8 M403.0,1453.4 h8" stroke="#ff72b9" stroke-width="1" fill="none"/>
<rect x="402.9" y="1446.5" width="8.2" height="8.2" fill="none" stroke="#ff72b9" stroke-width="1.0"/>
<path d="M413.0,1424.3 V1429.9 M409.0,1424.3 h8 M409.0,1429.9 h8" stroke="#ff72b9" stroke-width="1" fill="none"/>
<rect x="408.9" y="1423.0" width="8.2" height="8.2" fill="none" stroke="#ff72b9" stroke-width="1.0"/>
<path d="M419.6,1390.6 V1409.4 M415.6,1390.6 h8 M415.6,1409.4 h8" stroke="#ff72b9" stroke-width="1" fill="none"/>
<rect x="415.5" y="1395.9" width="8.2" height="8.2" fill="none" stroke="#ff72b9" stroke-width="1.0"/>
<path d="M426.2,1374.7 V1380.3 M422.2,1374.7 h8 M422.2,1380.3 h8" stroke="#ff72b9" stroke-width="1" fill="none"/>
<rect x="422.1" y="1373.4" width="8.2" height="8.2" fill="none" stroke="#ff72b9" stroke-width="1.0"/>
<path d="M432.7,1368.1 V1373.7 M428.7,1368.1 h8 M428.7,1373.7 h8" stroke="#ff72b9" stroke-width="1" fill="none"/>
<rect x="428.6" y="1366.8" width="8.2" height="8.2" fill="none" stroke="#ff72b9" stroke-width="1.0"/>
<path d="M438.9,1358.8 V1364.4 M434.9,1358.8 h8 M434.9,1364.4 h8" stroke="#ff72b9" stroke-width="1" fill="none"/>
<rect x="434.8" y="1357.5" width="8.2" height="8.2" fill="none" stroke="#ff72b9" stroke-width="1.0"/>
<path d="M444.9,1351.3 V1388.7 M440.9,1351.3 h8 M440.9,1388.7 h8" stroke="#ff72b9" stroke-width="1" fill="none"/>
<rect x="440.8" y="1365.9" width="8.2" height="8.2" fill="none" stroke="#ff72b9" stroke-width="1.0"/>
<path d="M451.5,1364.4 V1370.0 M447.5,1364.4 h8 M447.5,1370.0 h8" stroke="#ff72b9" stroke-width="1" fill="none"/>
<rect x="447.4" y="1363.1" width="8.2" height="8.2" fill="none" stroke="#ff72b9" stroke-width="1.0"/>
<path d="M457.6,1363.4 V1369.0 M453.6,1363.4 h8 M453.6,1369.0 h8" stroke="#ff72b9" stroke-width="1" fill="none"/>
<rect x="453.5" y="1362.1" width="8.2" height="8.2" fill="none" stroke="#ff72b9" stroke-width="1.0"/>
<path d="M464.0,1352.2 V1374.6 M460.0,1352.2 h8 M460.0,1374.6 h8" stroke="#ff72b9" stroke-width="1" fill="none"/>
<rect x="459.9" y="1359.3" width="8.2" height="8.2" fill="none" stroke="#ff72b9" stroke-width="1.0"/>
<path d="M471.1,1362.5 V1368.1 M467.1,1362.5 h8 M467.1,1368.1 h8" stroke="#ff72b9" stroke-width="1" fill="none"/>
<rect x="467.0" y="1361.2" width="8.2" height="8.2" fill="none" stroke="#ff72b9" stroke-width="1.0"/>
<path d="M477.7,1367.2 V1372.8 M473.7,1367.2 h8 M473.7,1372.8 h8" stroke="#ff72b9" stroke-width="1" fill="none"/>
<rect x="473.6" y="1365.9" width="8.2" height="8.2" fill="none" stroke="#ff72b9" stroke-width="1.0"/>
<path d="M484.3,1362.5 V1392.5 M480.3,1362.5 h8 M480.3,1392.5 h8" stroke="#ff72b9" stroke-width="1" fill="none"/>
<rect x="480.2" y="1373.4" width="8.2" height="8.2" fill="none" stroke="#ff72b9" stroke-width="1.0"/>
<path d="M490.8,1369.1 V1374.7 M486.8,1369.1 h8 M486.8,1374.7 h8" stroke="#ff72b9" stroke-width="1" fill="none"/>
<rect x="486.7" y="1367.8" width="8.2" height="8.2" fill="none" stroke="#ff72b9" stroke-width="1.0"/>
<path d="M497.4,1366.2 V1371.8 M493.4,1366.2 h8 M493.4,1371.8 h8" stroke="#ff72b9" stroke-width="1" fill="none"/>
<rect x="493.3" y="1364.9" width="8.2" height="8.2" fill="none" stroke="#ff72b9" stroke-width="1.0"/>
<path d="M503.4,1364.9 V1370.5 M499.4,1364.9 h8 M499.4,1370.5 h8" stroke="#ff72b9" stroke-width="1" fill="none"/>
<rect x="499.3" y="1363.6" width="8.2" height="8.2" fill="none" stroke="#ff72b9" stroke-width="1.0"/>
<path d="M509.6,1360.6 V1366.2 M505.6,1360.6 h8 M505.6,1366.2 h8" stroke="#ff72b9" stroke-width="1" fill="none"/>
<rect x="505.5" y="1359.3" width="8.2" height="8.2" fill="none" stroke="#ff72b9" stroke-width="1.0"/>
<path d="M515.9,1362.4 V1368.0 M511.9,1362.4 h8 M511.9,1368.0 h8" stroke="#ff72b9" stroke-width="1" fill="none"/>
<rect x="511.8" y="1361.1" width="8.2" height="8.2" fill="none" stroke="#ff72b9" stroke-width="1.0"/>
<path d="M522.5,1370.9 V1376.5 M518.5,1370.9 h8 M518.5,1376.5 h8" stroke="#ff72b9" stroke-width="1" fill="none"/>
<rect x="518.4" y="1369.6" width="8.2" height="8.2" fill="none" stroke="#ff72b9" stroke-width="1.0"/>
<path d="M528.7,1356.8 V1375.6 M524.7,1356.8 h8 M524.7,1375.6 h8" stroke="#ff72b9" stroke-width="1" fill="none"/>
<rect x="524.6" y="1362.1" width="8.2" height="8.2" fill="none" stroke="#ff72b9" stroke-width="1.0"/>
<path d="M535.2,1353.1 V1379.3 M531.2,1353.1 h8 M531.2,1379.3 h8" stroke="#ff72b9" stroke-width="1" fill="none"/>
<rect x="531.1" y="1362.1" width="8.2" height="8.2" fill="none" stroke="#ff72b9" stroke-width="1.0"/>
<path d="M541.4,1363.7 V1369.3 M537.4,1363.7 h8 M537.4,1369.3 h8" stroke="#ff72b9" stroke-width="1" fill="none"/>
<rect x="537.3" y="1362.4" width="8.2" height="8.2" fill="none" stroke="#ff72b9" stroke-width="1.0"/>
<path d="M548.4,1357.7 V1363.3 M544.4,1357.7 h8 M544.4,1363.3 h8" stroke="#ff72b9" stroke-width="1" fill="none"/>
<rect x="544.3" y="1356.4" width="8.2" height="8.2" fill="none" stroke="#ff72b9" stroke-width="1.0"/>
<path d="M554.5,1371.8 V1377.4 M550.5,1371.8 h8 M550.5,1377.4 h8" stroke="#ff72b9" stroke-width="1" fill="none"/>
<rect x="550.4" y="1370.5" width="8.2" height="8.2" fill="none" stroke="#ff72b9" stroke-width="1.0"/>
<path d="M561.1,1370.9 V1382.1 M557.1,1370.9 h8 M557.1,1382.1 h8" stroke="#ff72b9" stroke-width="1" fill="none"/>
<rect x="557.0" y="1372.4" width="8.2" height="8.2" fill="none" stroke="#ff72b9" stroke-width="1.0"/>
<path d="M567.7,1362.4 V1368.0 M563.7,1362.4 h8 M563.7,1368.0 h8" stroke="#ff72b9" stroke-width="1" fill="none"/>
<rect x="563.6" y="1361.1" width="8.2" height="8.2" fill="none" stroke="#ff72b9" stroke-width="1.0"/>
<path d="M574.0,1370.0 V1392.4 M570.0,1370.0 h8 M570.0,1392.4 h8" stroke="#ff72b9" stroke-width="1" fill="none"/>
<rect x="569.9" y="1377.1" width="8.2" height="8.2" fill="none" stroke="#ff72b9" stroke-width="1.0"/>
<path d="M580.6,1366.7 V1372.3 M576.6,1366.7 h8 M576.6,1372.3 h8" stroke="#ff72b9" stroke-width="1" fill="none"/>
<rect x="576.5" y="1365.4" width="8.2" height="8.2" fill="none" stroke="#ff72b9" stroke-width="1.0"/>
<path d="M587.3,1358.1 V1382.5 M583.3,1358.1 h8 M583.3,1382.5 h8" stroke="#ff72b9" stroke-width="1" fill="none"/>
<rect x="583.2" y="1366.2" width="8.2" height="8.2" fill="none" stroke="#ff72b9" stroke-width="1.0"/>
<path d="M148.7,1374.1 L150.9,1374.0 L153.1,1373.9 L155.3,1373.8 L157.5,1373.6 L159.7,1373.5 L161.9,1373.4 L164.1,1373.3 L166.3,1373.1 L168.5,1373.0 L170.7,1372.9 L172.9,1372.7 L175.1,1372.6 L177.4,1372.4 L179.6,1372.3 L181.8,1372.1 L184.0,1372.0 L186.2,1371.8 L188.4,1371.7 L190.6,1371.5 L192.8,1371.4 L195.0,1371.2 L197.2,1371.1 L199.4,1370.9 L201.6,1370.8 L203.8,1370.6 L206.0,1370.4 L208.2,1370.3 L210.4,1370.1 L212.6,1370.0 L214.8,1369.8 L217.0,1369.7 L219.2,1369.5 L221.4,1369.4 L223.6,1369.2 L225.8,1369.1 L228.0,1368.9 L230.2,1368.8 L232.5,1368.7 L234.7,1368.5 L236.9,1368.4 L239.1,1368.3 L241.3,1368.2 L243.5,1368.2 L245.7,1368.1 L247.9,1368.0 L250.1,1368.0 L252.3,1368.0 L254.5,1368.0 L256.7,1368.0 L258.9,1368.1 L261.1,1368.1 L263.3,1368.3 L265.5,1368.4 L267.7,1368.6 L269.9,1368.8 L272.1,1369.1 L274.3,1369.5 L276.5,1369.9 L278.7,1370.3 L280.9,1370.9 L283.1,1371.5 L285.3,1372.2 L287.6,1373.0 L289.8,1373.9 L292.0,1374.9 L294.2,1376.1 L296.4,1377.4 L298.6,1378.8 L300.8,1380.4 L303.0,1382.2 L305.2,1384.1 L307.4,1386.3 L309.6,1388.6 L311.8,1391.2 L314.0,1394.1 L316.2,1397.1 L318.4,1400.5 L320.6,1404.1 L322.8,1408.0 L325.0,1412.1 L327.2,1416.6 L329.4,1421.3 L331.6,1426.2 L333.8,1431.5 L336.0,1436.9 L338.2,1442.5 L340.4,1448.3 L342.7,1454.2 L344.9,1460.1 L347.1,1466.0 L349.3,1471.9 L351.5,1477.5 L353.7,1482.9 L355.9,1488.0 L358.1,1492.6 L360.3,1496.7 L362.5,1500.2 L364.7,1503.1 L366.9,1505.3 L369.1,1506.8 L371.3,1507.5 L373.5,1507.6 L375.7,1507.0 L377.9,1505.7 L380.1,1503.7 L382.3,1500.9 L384.5,1497.5 L386.7,1493.5 L388.9,1489.0 L391.1,1484.1 L393.3,1478.7 L395.6,1473.1 L397.8,1467.3 L400.0,1461.4 L402.2,1455.5 L404.4,1449.6 L406.6,1443.8 L408.8,1438.1 L411.0,1432.6 L413.2,1427.4 L415.4,1422.3 L417.6,1417.6 L419.8,1413.1 L422.0,1408.9 L424.2,1404.9 L426.4,1401.2 L428.6,1397.9 L430.8,1394.7 L433.0,1391.8 L435.2,1389.2 L437.4,1386.8 L439.6,1384.6 L441.8,1382.6 L444.0,1380.8 L446.2,1379.1 L448.4,1377.7 L450.7,1376.4 L452.9,1375.2 L455.1,1374.1 L457.3,1373.2 L459.5,1372.4 L461.7,1371.6 L463.9,1371.0 L466.1,1370.4 L468.3,1370.0 L470.5,1369.5 L472.7,1369.2 L474.9,1368.9 L477.1,1368.6 L479.3,1368.4 L481.5,1368.3 L483.7,1368.2 L485.9,1368.1 L488.1,1368.0 L490.3,1368.0 L492.5,1368.0 L494.7,1368.0 L496.9,1368.0 L499.1,1368.1 L501.3,1368.1 L503.5,1368.2 L505.8,1368.3 L508.0,1368.4 L510.2,1368.5 L512.4,1368.6 L514.6,1368.8 L516.8,1368.9 L519.0,1369.0 L521.2,1369.2 L523.4,1369.3 L525.6,1369.5 L527.8,1369.6 L530.0,1369.8 L532.2,1369.9 L534.4,1370.1 L536.6,1370.3 L538.8,1370.4 L541.0,1370.6 L543.2,1370.7 L545.4,1370.9 L547.6,1371.0 L549.8,1371.2 L552.0,1371.4 L554.2,1371.5 L556.4,1371.7 L558.6,1371.8 L560.9,1372.0 L563.1,1372.1 L565.3,1372.3 L567.5,1372.4 L569.7,1372.5 L571.9,1372.7 L574.1,1372.8 L576.3,1373.0 L578.5,1373.1 L580.7,1373.2 L582.9,1373.4 L585.1,1373.5 L587.3,1373.6" fill="none" stroke="#ff0080" stroke-width="2.7" stroke-linejoin="round" stroke-linecap="round"/>
<path d="M91.8,1567.2 h9 M91.8,1518.7 h4.5 M91.8,1470.2 h9 M91.8,1421.6 h4.5 M91.8,1373.1 h9 M91.8,1324.6 h4.5 M91.8,1276.0 h9 M91.8,1227.5 h4.5 M91.8,1179.0 h9 M132.0,1567.2 v-9 M172.2,1567.2 v-4.5 M212.4,1567.2 v-9 M252.5,1567.2 v-4.5 M292.7,1567.2 v-9 M332.9,1567.2 v-4.5 M373.1,1567.2 v-9 M413.3,1567.2 v-4.5 M453.5,1567.2 v-9 M493.7,1567.2 v-4.5 M533.8,1567.2 v-9 M574.0,1567.2 v-4.5 M614.2,1567.2 v-9" stroke="#000" stroke-width="2.2" fill="none"/>
<rect x="91.8" y="1167" width="562.6" height="400.2" fill="none" stroke="#000" stroke-width="2.2"/>
<text transform="translate(81.00,1188.00) scale(1,1.05)" text-anchor="end" font-size="28">1.2</text>
<text transform="translate(81.00,1285.05) scale(1,1.05)" text-anchor="end" font-size="28">0.8</text>
<text transform="translate(81.00,1382.10) scale(1,1.05)" text-anchor="end" font-size="28">0.4</text>
<text transform="translate(81.00,1479.15) scale(1,1.05)" text-anchor="end" font-size="28">0.0</text>
<text transform="translate(81.00,1576.20) scale(1,1.05)" text-anchor="end" font-size="28">-0.4</text>
<text transform="translate(131.99,1598.90) scale(1,1.05)" text-anchor="middle" font-size="28">-150</text>
<text transform="translate(212.36,1598.90) scale(1,1.05)" text-anchor="middle" font-size="28">-100</text>
<text transform="translate(292.73,1598.90) scale(1,1.05)" text-anchor="middle" font-size="28">-50</text>
<text transform="translate(373.10,1598.90) scale(1,1.05)" text-anchor="middle" font-size="28">0</text>
<text transform="translate(453.47,1598.90) scale(1,1.05)" text-anchor="middle" font-size="28">50</text>
<text transform="translate(533.84,1598.90) scale(1,1.05)" text-anchor="middle" font-size="28">100</text>
<text transform="translate(614.21,1598.90) scale(1,1.05)" text-anchor="middle" font-size="28">150</text>
<text transform="translate(8.00,1158.00) scale(1,1.05)" font-size="35">(e)</text>
<text transform="translate(374.50,1636.00) scale(1,1.05)" text-anchor="middle" font-size="36.4">z (mm)</text>
<text transform="translate(35.8,1369.4) rotate(-90) scale(1,1.05)" text-anchor="middle" font-size="35.4">Normalized transmission</text>
<path d="M464.0,1464.0 L469.6,1474.0 L458.4,1474.0 Z" fill="none" stroke="#ff72b9" stroke-width="1.1"/>
<text transform="translate(489.00,1476.00) scale(1,1.05)" font-size="28">0.11</text>
<circle cx="464.0" cy="1504.0" r="5" fill="none" stroke="#ff72b9" stroke-width="1.1"/>
<text transform="translate(489.00,1511.00) scale(1,1.05)" font-size="28">0.36</text>
<rect x="459.9" y="1538.4" width="8.2" height="8.2" fill="none" stroke="#ff72b9" stroke-width="1.1"/>
<text transform="translate(489.00,1550.00) scale(1,1.05)" font-size="28">0.64 GW/cm<tspan font-size="17" dy="-13">2</tspan></text>
<text transform="translate(115.00,1498.50) scale(1,1.05)" font-size="25" style="font-weight:normal">λ</text>
<text transform="translate(128.50,1509.00) scale(1,1.05)" font-size="16" style="font-weight:normal">ex</text>
<text transform="translate(150.50,1498.50) scale(1,1.05)" font-size="27.3">= 650 nm</text>
<text transform="translate(116.00,1542.50) scale(1,1.05)" font-size="27.5">T</text>
<text transform="translate(154.00,1542.50) scale(1,1.05)" font-size="27.5">= 70.1%</text>
<path d="M830.9,1185.5 L836.5,1195.5 L825.3,1195.5 Z" fill="none" stroke="#ff7272" stroke-width="1.0"/>
<path d="M837.2,1194.7 L842.8,1204.7 L831.6,1204.7 Z" fill="none" stroke="#ff7272" stroke-width="1.0"/>
<path d="M843.6,1204.1 L849.2,1214.1 L838.0,1214.1 Z" fill="none" stroke="#ff7272" stroke-width="1.0"/>
<path d="M850.0,1175.2 L855.6,1185.2 L844.4,1185.2 Z" fill="none" stroke="#ff7272" stroke-width="1.0"/>
<path d="M856.3,1192.5 L861.9,1202.5 L850.7,1202.5 Z" fill="none" stroke="#ff7272" stroke-width="1.0"/>
<path d="M862.7,1181.6 L868.3,1191.6 L857.1,1191.6 Z" fill="none" stroke="#ff7272" stroke-width="1.0"/>
<path d="M869.1,1180.7 L874.7,1190.7 L863.5,1190.7 Z" fill="none" stroke="#ff7272" stroke-width="1.0"/>
<path d="M875.3,1191.0 L880.9,1201.0 L869.7,1201.0 Z" fill="none" stroke="#ff7272" stroke-width="1.0"/>
<path d="M881.8,1197.7 L887.4,1207.7 L876.2,1207.7 Z" fill="none" stroke="#ff7272" stroke-width="1.0"/>
<path d="M888.2,1194.7 L893.8,1204.7 L882.6,1204.7 Z" fill="none" stroke="#ff7272" stroke-width="1.0"/>
<path d="M894.4,1183.7 L900.0,1193.7 L888.8,1193.7 Z" fill="none" stroke="#ff7272" stroke-width="1.0"/>
<path d="M900.8,1185.0 L906.4,1195.0 L895.2,1195.0 Z" fill="none" stroke="#ff7272" stroke-width="1.0"/>
<path d="M907.1,1196.6 L912.7,1206.6 L901.5,1206.6 Z" fill="none" stroke="#ff7272" stroke-width="1.0"/>
<path d="M913.5,1196.6 L919.1,1206.6 L907.9,1206.6 Z" fill="none" stroke="#ff7272" stroke-width="1.0"/>
<path d="M919.9,1181.2 L925.5,1191.2 L914.3,1191.2 Z" fill="none" stroke="#ff7272" stroke-width="1.0"/>
<path d="M926.3,1191.2 L931.9,1201.2 L920.7,1201.2 Z" fill="none" stroke="#ff7272" stroke-width="1.0"/>
<path d="M932.6,1221.5 L938.2,1231.5 L927.0,1231.5 Z" fill="none" stroke="#ff7272" stroke-width="1.0"/>
<path d="M939.0,1215.3 L944.6,1225.3 L933.4,1225.3 Z" fill="none" stroke="#ff7272" stroke-width="1.0"/>
<path d="M945.4,1222.8 L951.0,1232.8 L939.8,1232.8 Z" fill="none" stroke="#ff7272" stroke-width="1.0"/>
<path d="M951.7,1210.3 L957.3,1220.3 L946.1,1220.3 Z" fill="none" stroke="#ff7272" stroke-width="1.0"/>
<path d="M957.9,1222.8 L963.5,1232.8 L952.3,1232.8 Z" fill="none" stroke="#ff7272" stroke-width="1.0"/>
<path d="M964.3,1211.2 L969.9,1221.2 L958.7,1221.2 Z" fill="none" stroke="#ff7272" stroke-width="1.0"/>
<path d="M970.7,1220.6 L976.3,1230.6 L965.1,1230.6 Z" fill="none" stroke="#ff7272" stroke-width="1.0"/>
<path d="M977.0,1231.5 L982.6,1241.5 L971.4,1241.5 Z" fill="none" stroke="#ff7272" stroke-width="1.0"/>
<path d="M983.4,1225.8 L989.0,1235.8 L977.8,1235.8 Z" fill="none" stroke="#ff7272" stroke-width="1.0"/>
<path d="M989.8,1224.0 L995.4,1234.0 L984.2,1234.0 Z" fill="none" stroke="#ff7272" stroke-width="1.0"/>
<path d="M996.2,1209.7 L1001.8,1219.7 L990.6,1219.7 Z" fill="none" stroke="#ff7272" stroke-width="1.0"/>
<path d="M1002.5,1180.7 L1008.1,1190.7 L996.9,1190.7 Z" fill="none" stroke="#ff7272" stroke-width="1.0"/>
<path d="M1008.9,1205.6 L1014.5,1215.6 L1003.3,1215.6 Z" fill="none" stroke="#ff7272" stroke-width="1.0"/>
<path d="M1015.3,1194.0 L1020.9,1204.0 L1009.7,1204.0 Z" fill="none" stroke="#ff7272" stroke-width="1.0"/>
<path d="M1021.6,1201.9 L1027.2,1211.9 L1016.0,1211.9 Z" fill="none" stroke="#ff7272" stroke-width="1.0"/>
<path d="M1028.0,1202.2 L1033.6,1212.2 L1022.4,1212.2 Z" fill="none" stroke="#ff7272" stroke-width="1.0"/>
<path d="M1034.4,1211.2 L1040.0,1221.2 L1028.8,1221.2 Z" fill="none" stroke="#ff7272" stroke-width="1.0"/>
<path d="M1040.8,1200.4 L1046.4,1210.4 L1035.2,1210.4 Z" fill="none" stroke="#ff7272" stroke-width="1.0"/>
<path d="M1047.1,1191.5 L1052.7,1201.5 L1041.5,1201.5 Z" fill="none" stroke="#ff7272" stroke-width="1.0"/>
<path d="M1052.8,1194.7 L1058.4,1204.7 L1047.2,1204.7 Z" fill="none" stroke="#ff7272" stroke-width="1.0"/>
<path d="M1059.6,1217.8 L1065.2,1227.8 L1054.0,1227.8 Z" fill="none" stroke="#ff7272" stroke-width="1.0"/>
<path d="M1066.2,1218.7 L1071.8,1228.7 L1060.6,1228.7 Z" fill="none" stroke="#ff7272" stroke-width="1.0"/>
<path d="M1072.7,1212.2 L1078.3,1222.2 L1067.1,1222.2 Z" fill="none" stroke="#ff7272" stroke-width="1.0"/>
<path d="M1079.1,1192.1 L1084.7,1202.1 L1073.5,1202.1 Z" fill="none" stroke="#ff7272" stroke-width="1.0"/>
<path d="M1085.3,1207.5 L1090.9,1217.5 L1079.7,1217.5 Z" fill="none" stroke="#ff7272" stroke-width="1.0"/>
<path d="M1091.7,1215.3 L1097.3,1225.3 L1086.1,1225.3 Z" fill="none" stroke="#ff7272" stroke-width="1.0"/>
<path d="M1098.0,1200.4 L1103.6,1210.4 L1092.4,1210.4 Z" fill="none" stroke="#ff7272" stroke-width="1.0"/>
<path d="M1104.4,1191.5 L1110.0,1201.5 L1098.8,1201.5 Z" fill="none" stroke="#ff7272" stroke-width="1.0"/>
<path d="M1110.6,1224.7 L1116.2,1234.7 L1105.0,1234.7 Z" fill="none" stroke="#ff7272" stroke-width="1.0"/>
<path d="M1117.0,1209.0 L1122.6,1219.0 L1111.4,1219.0 Z" fill="none" stroke="#ff7272" stroke-width="1.0"/>
<path d="M1123.3,1209.9 L1128.9,1219.9 L1117.7,1219.9 Z" fill="none" stroke="#ff7272" stroke-width="1.0"/>
<path d="M1129.7,1200.9 L1135.3,1210.9 L1124.1,1210.9 Z" fill="none" stroke="#ff7272" stroke-width="1.0"/>
<path d="M1136.3,1216.5 L1141.9,1226.5 L1130.7,1226.5 Z" fill="none" stroke="#ff7272" stroke-width="1.0"/>
<path d="M1142.5,1184.6 L1148.1,1194.6 L1136.9,1194.6 Z" fill="none" stroke="#ff7272" stroke-width="1.0"/>
<path d="M1148.8,1219.3 L1154.4,1229.3 L1143.2,1229.3 Z" fill="none" stroke="#ff7272" stroke-width="1.0"/>
<path d="M1155.2,1205.6 L1160.8,1215.6 L1149.6,1215.6 Z" fill="none" stroke="#ff7272" stroke-width="1.0"/>
<path d="M1161.4,1215.3 L1167.0,1225.3 L1155.8,1225.3 Z" fill="none" stroke="#ff7272" stroke-width="1.0"/>
<path d="M1167.9,1221.5 L1173.5,1231.5 L1162.3,1231.5 Z" fill="none" stroke="#ff7272" stroke-width="1.0"/>
<path d="M1174.3,1216.5 L1179.9,1226.5 L1168.7,1226.5 Z" fill="none" stroke="#ff7272" stroke-width="1.0"/>
<path d="M1180.7,1203.4 L1186.3,1213.4 L1175.1,1213.4 Z" fill="none" stroke="#ff7272" stroke-width="1.0"/>
<path d="M1187.1,1224.3 L1192.7,1234.3 L1181.5,1234.3 Z" fill="none" stroke="#ff7272" stroke-width="1.0"/>
<path d="M1193.4,1190.2 L1199.0,1200.2 L1187.8,1200.2 Z" fill="none" stroke="#ff7272" stroke-width="1.0"/>
<path d="M1199.8,1206.0 L1205.4,1216.0 L1194.2,1216.0 Z" fill="none" stroke="#ff7272" stroke-width="1.0"/>
<path d="M1206.2,1191.0 L1211.8,1201.0 L1200.6,1201.0 Z" fill="none" stroke="#ff7272" stroke-width="1.0"/>
<path d="M1212.5,1210.8 L1218.1,1220.8 L1206.9,1220.8 Z" fill="none" stroke="#ff7272" stroke-width="1.0"/>
<path d="M1218.9,1198.5 L1224.5,1208.5 L1213.3,1208.5 Z" fill="none" stroke="#ff7272" stroke-width="1.0"/>
<path d="M1225.3,1200.9 L1230.9,1210.9 L1219.7,1210.9 Z" fill="none" stroke="#ff7272" stroke-width="1.0"/>
<path d="M1231.7,1218.7 L1237.3,1228.7 L1226.1,1228.7 Z" fill="none" stroke="#ff7272" stroke-width="1.0"/>
<path d="M1238.0,1198.1 L1243.6,1208.1 L1232.4,1208.1 Z" fill="none" stroke="#ff7272" stroke-width="1.0"/>
<path d="M1244.2,1199.0 L1249.8,1209.0 L1238.6,1209.0 Z" fill="none" stroke="#ff7272" stroke-width="1.0"/>
<path d="M1250.8,1200.5 L1256.4,1210.5 L1245.2,1210.5 Z" fill="none" stroke="#ff7272" stroke-width="1.0"/>
<path d="M1257.1,1194.0 L1262.7,1204.0 L1251.5,1204.0 Z" fill="none" stroke="#ff7272" stroke-width="1.0"/>
<path d="M1263.5,1197.2 L1269.1,1207.2 L1257.9,1207.2 Z" fill="none" stroke="#ff7272" stroke-width="1.0"/>
<path d="M816.9,1212.5 L819.2,1212.5 L821.5,1212.5 L823.8,1212.5 L826.1,1212.5 L828.4,1212.4 L830.7,1212.4 L833.0,1212.4 L835.4,1212.4 L837.7,1212.4 L840.0,1212.4 L842.3,1212.4 L844.6,1212.4 L846.9,1212.3 L849.2,1212.3 L851.5,1212.3 L853.8,1212.3 L856.1,1212.3 L858.4,1212.3 L860.7,1212.3 L863.0,1212.3 L865.3,1212.3 L867.7,1212.2 L870.0,1212.2 L872.3,1212.2 L874.6,1212.2 L876.9,1212.2 L879.2,1212.2 L881.5,1212.2 L883.8,1212.2 L886.1,1212.2 L888.4,1212.1 L890.7,1212.1 L893.0,1212.1 L895.3,1212.1 L897.6,1212.1 L900.0,1212.1 L902.3,1212.1 L904.6,1212.1 L906.9,1212.0 L909.2,1212.0 L911.5,1212.0 L913.8,1212.0 L916.1,1212.0 L918.4,1212.0 L920.7,1212.0 L923.0,1212.0 L925.3,1212.0 L927.6,1211.9 L929.9,1211.9 L932.3,1211.9 L934.6,1211.9 L936.9,1211.9 L939.2,1211.9 L941.5,1211.9 L943.8,1211.9 L946.1,1211.9 L948.4,1211.8 L950.7,1211.8 L953.0,1211.8 L955.3,1211.8 L957.6,1211.8 L959.9,1211.8 L962.2,1211.8 L964.6,1211.8 L966.9,1211.7 L969.2,1211.7 L971.5,1211.7 L973.8,1211.7 L976.1,1211.7 L978.4,1211.7 L980.7,1211.7 L983.0,1211.7 L985.3,1211.7 L987.6,1211.6 L989.9,1211.6 L992.2,1211.6 L994.5,1211.6 L996.8,1211.6 L999.2,1211.6 L1001.5,1211.6 L1003.8,1211.6 L1006.1,1211.6 L1008.4,1211.5 L1010.7,1211.5 L1013.0,1211.5 L1015.3,1211.5 L1017.6,1211.5 L1019.9,1211.5 L1022.2,1211.5 L1024.5,1211.5 L1026.8,1211.4 L1029.1,1211.4 L1031.5,1211.4 L1033.8,1211.4 L1036.1,1211.4 L1038.4,1211.4 L1040.7,1211.4 L1043.0,1211.4 L1045.3,1211.4 L1047.6,1211.3 L1049.9,1211.3 L1052.2,1211.3 L1054.5,1211.3 L1056.8,1211.3 L1059.1,1211.3 L1061.4,1211.3 L1063.8,1211.3 L1066.1,1211.3 L1068.4,1211.2 L1070.7,1211.2 L1073.0,1211.2 L1075.3,1211.2 L1077.6,1211.2 L1079.9,1211.2 L1082.2,1211.2 L1084.5,1211.2 L1086.8,1211.1 L1089.1,1211.1 L1091.4,1211.1 L1093.7,1211.1 L1096.1,1211.1 L1098.4,1211.1 L1100.7,1211.1 L1103.0,1211.1 L1105.3,1211.1 L1107.6,1211.0 L1109.9,1211.0 L1112.2,1211.0 L1114.5,1211.0 L1116.8,1211.0 L1119.1,1211.0 L1121.4,1211.0 L1123.7,1211.0 L1126.0,1211.0 L1128.3,1210.9 L1130.7,1210.9 L1133.0,1210.9 L1135.3,1210.9 L1137.6,1210.9 L1139.9,1210.9 L1142.2,1210.9 L1144.5,1210.9 L1146.8,1210.8 L1149.1,1210.8 L1151.4,1210.8 L1153.7,1210.8 L1156.0,1210.8 L1158.3,1210.8 L1160.6,1210.8 L1163.0,1210.8 L1165.3,1210.8 L1167.6,1210.7 L1169.9,1210.7 L1172.2,1210.7 L1174.5,1210.7 L1176.8,1210.7 L1179.1,1210.7 L1181.4,1210.7 L1183.7,1210.7 L1186.0,1210.7 L1188.3,1210.6 L1190.6,1210.6 L1192.9,1210.6 L1195.3,1210.6 L1197.6,1210.6 L1199.9,1210.6 L1202.2,1210.6 L1204.5,1210.6 L1206.8,1210.5 L1209.1,1210.5 L1211.4,1210.5 L1213.7,1210.5 L1216.0,1210.5 L1218.3,1210.5 L1220.6,1210.5 L1222.9,1210.5 L1225.2,1210.5 L1227.6,1210.4 L1229.9,1210.4 L1232.2,1210.4 L1234.5,1210.4 L1236.8,1210.4 L1239.1,1210.4 L1241.4,1210.4 L1243.7,1210.4 L1246.0,1210.4 L1248.3,1210.3 L1250.6,1210.3 L1252.9,1210.3 L1255.2,1210.3 L1257.5,1210.3 L1259.9,1210.3 L1262.2,1210.3 L1264.5,1210.3 L1266.8,1210.2 L1269.1,1210.2 L1271.4,1210.2 L1273.7,1210.2 L1276.0,1210.2" fill="none" stroke="#ff0000" stroke-width="2.7" stroke-linejoin="round" stroke-linecap="round"/>
<circle cx="830.9" cy="1283.7" r="5" fill="none" stroke="#ff7272" stroke-width="1.0"/>
<circle cx="837.2" cy="1291.2" r="5" fill="none" stroke="#ff7272" stroke-width="1.0"/>
<circle cx="843.6" cy="1287.1" r="5" fill="none" stroke="#ff7272" stroke-width="1.0"/>
<circle cx="850.0" cy="1305.2" r="5" fill="none" stroke="#ff7272" stroke-width="1.0"/>
<circle cx="856.3" cy="1273.4" r="5" fill="none" stroke="#ff7272" stroke-width="1.0"/>
<circle cx="862.7" cy="1271.9" r="5" fill="none" stroke="#ff7272" stroke-width="1.0"/>
<circle cx="869.1" cy="1311.4" r="5" fill="none" stroke="#ff7272" stroke-width="1.0"/>
<circle cx="875.5" cy="1295.9" r="5" fill="none" stroke="#ff7272" stroke-width="1.0"/>
<circle cx="881.8" cy="1294.9" r="5" fill="none" stroke="#ff7272" stroke-width="1.0"/>
<circle cx="888.2" cy="1289.3" r="5" fill="none" stroke="#ff7272" stroke-width="1.0"/>
<circle cx="894.4" cy="1280.9" r="5" fill="none" stroke="#ff7272" stroke-width="1.0"/>
<circle cx="900.8" cy="1294.6" r="5" fill="none" stroke="#ff7272" stroke-width="1.0"/>
<circle cx="907.1" cy="1280.5" r="5" fill="none" stroke="#ff7272" stroke-width="1.0"/>
<circle cx="913.5" cy="1298.3" r="5" fill="none" stroke="#ff7272" stroke-width="1.0"/>
<circle cx="919.9" cy="1293.4" r="5" fill="none" stroke="#ff7272" stroke-width="1.0"/>
<circle cx="926.3" cy="1285.9" r="5" fill="none" stroke="#ff7272" stroke-width="1.0"/>
<circle cx="932.6" cy="1287.4" r="5" fill="none" stroke="#ff7272" stroke-width="1.0"/>
<circle cx="939.0" cy="1284.6" r="5" fill="none" stroke="#ff7272" stroke-width="1.0"/>
<circle cx="945.4" cy="1297.7" r="5" fill="none" stroke="#ff7272" stroke-width="1.0"/>
<circle cx="951.7" cy="1303.7" r="5" fill="none" stroke="#ff7272" stroke-width="1.0"/>
<circle cx="958.1" cy="1288.4" r="5" fill="none" stroke="#ff7272" stroke-width="1.0"/>
<circle cx="964.5" cy="1288.9" r="5" fill="none" stroke="#ff7272" stroke-width="1.0"/>
<circle cx="970.9" cy="1264.0" r="5" fill="none" stroke="#ff7272" stroke-width="1.0"/>
<circle cx="977.0" cy="1327.7" r="5" fill="none" stroke="#ff7272" stroke-width="1.0"/>
<circle cx="983.4" cy="1288.4" r="5" fill="none" stroke="#ff7272" stroke-width="1.0"/>
<circle cx="989.8" cy="1303.9" r="5" fill="none" stroke="#ff7272" stroke-width="1.0"/>
<circle cx="996.2" cy="1295.3" r="5" fill="none" stroke="#ff7272" stroke-width="1.0"/>
<circle cx="1002.5" cy="1292.7" r="5" fill="none" stroke="#ff7272" stroke-width="1.0"/>
<circle cx="1008.9" cy="1318.0" r="5" fill="none" stroke="#ff7272" stroke-width="1.0"/>
<circle cx="1015.3" cy="1310.9" r="5" fill="none" stroke="#ff7272" stroke-width="1.0"/>
<circle cx="1021.6" cy="1281.8" r="5" fill="none" stroke="#ff7272" stroke-width="1.0"/>
<circle cx="1028.0" cy="1280.5" r="5" fill="none" stroke="#ff7272" stroke-width="1.0"/>
<circle cx="1034.4" cy="1276.2" r="5" fill="none" stroke="#ff7272" stroke-width="1.0"/>
<circle cx="1040.8" cy="1299.2" r="5" fill="none" stroke="#ff7272" stroke-width="1.0"/>
<circle cx="1047.1" cy="1315.5" r="5" fill="none" stroke="#ff7272" stroke-width="1.0"/>
<circle cx="1052.8" cy="1308.1" r="5" fill="none" stroke="#ff7272" stroke-width="1.0"/>
<circle cx="1060.0" cy="1303.4" r="5" fill="none" stroke="#ff7272" stroke-width="1.0"/>
<circle cx="1066.2" cy="1300.9" r="5" fill="none" stroke="#ff7272" stroke-width="1.0"/>
<circle cx="1072.5" cy="1305.2" r="5" fill="none" stroke="#ff7272" stroke-width="1.0"/>
<circle cx="1078.9" cy="1295.3" r="5" fill="none" stroke="#ff7272" stroke-width="1.0"/>
<circle cx="1085.3" cy="1284.6" r="5" fill="none" stroke="#ff7272" stroke-width="1.0"/>
<circle cx="1091.7" cy="1289.7" r="5" fill="none" stroke="#ff7272" stroke-width="1.0"/>
<circle cx="1098.0" cy="1289.3" r="5" fill="none" stroke="#ff7272" stroke-width="1.0"/>
<circle cx="1104.4" cy="1274.3" r="5" fill="none" stroke="#ff7272" stroke-width="1.0"/>
<circle cx="1110.6" cy="1278.1" r="5" fill="none" stroke="#ff7272" stroke-width="1.0"/>
<circle cx="1117.0" cy="1283.7" r="5" fill="none" stroke="#ff7272" stroke-width="1.0"/>
<circle cx="1123.3" cy="1283.7" r="5" fill="none" stroke="#ff7272" stroke-width="1.0"/>
<circle cx="1129.7" cy="1270.6" r="5" fill="none" stroke="#ff7272" stroke-width="1.0"/>
<circle cx="1136.3" cy="1275.6" r="5" fill="none" stroke="#ff7272" stroke-width="1.0"/>
<circle cx="1142.5" cy="1290.8" r="5" fill="none" stroke="#ff7272" stroke-width="1.0"/>
<circle cx="1148.8" cy="1276.8" r="5" fill="none" stroke="#ff7272" stroke-width="1.0"/>
<circle cx="1155.2" cy="1268.3" r="5" fill="none" stroke="#ff7272" stroke-width="1.0"/>
<circle cx="1161.6" cy="1278.4" r="5" fill="none" stroke="#ff7272" stroke-width="1.0"/>
<circle cx="1167.9" cy="1264.0" r="5" fill="none" stroke="#ff7272" stroke-width="1.0"/>
<circle cx="1174.3" cy="1265.9" r="5" fill="none" stroke="#ff7272" stroke-width="1.0"/>
<circle cx="1180.7" cy="1320.2" r="5" fill="none" stroke="#ff7272" stroke-width="1.0"/>
<circle cx="1187.1" cy="1290.8" r="5" fill="none" stroke="#ff7272" stroke-width="1.0"/>
<circle cx="1193.4" cy="1283.7" r="5" fill="none" stroke="#ff7272" stroke-width="1.0"/>
<circle cx="1199.8" cy="1283.7" r="5" fill="none" stroke="#ff7272" stroke-width="1.0"/>
<circle cx="1206.2" cy="1271.9" r="5" fill="none" stroke="#ff7272" stroke-width="1.0"/>
<circle cx="1212.5" cy="1287.4" r="5" fill="none" stroke="#ff7272" stroke-width="1.0"/>
<circle cx="1218.9" cy="1282.8" r="5" fill="none" stroke="#ff7272" stroke-width="1.0"/>
<circle cx="1225.3" cy="1284.1" r="5" fill="none" stroke="#ff7272" stroke-width="1.0"/>
<circle cx="1231.7" cy="1277.1" r="5" fill="none" stroke="#ff7272" stroke-width="1.0"/>
<circle cx="1238.0" cy="1279.4" r="5" fill="none" stroke="#ff7272" stroke-width="1.0"/>
<circle cx="1244.2" cy="1281.4" r="5" fill="none" stroke="#ff7272" stroke-width="1.0"/>
<circle cx="1250.8" cy="1268.1" r="5" fill="none" stroke="#ff7272" stroke-width="1.0"/>
<circle cx="1257.1" cy="1287.1" r="5" fill="none" stroke="#ff7272" stroke-width="1.0"/>
<circle cx="1263.5" cy="1279.0" r="5" fill="none" stroke="#ff7272" stroke-width="1.0"/>
<path d="M818.7,1290.4 L821.0,1290.4 L823.3,1290.4 L825.6,1290.4 L827.9,1290.4 L830.2,1290.4 L832.5,1290.3 L834.9,1290.3 L837.2,1290.3 L839.5,1290.3 L841.8,1290.3 L844.1,1290.3 L846.4,1290.3 L848.7,1290.3 L851.0,1290.3 L853.3,1290.3 L855.6,1290.3 L857.9,1290.2 L860.2,1290.2 L862.5,1290.2 L864.9,1290.2 L867.2,1290.2 L869.5,1290.2 L871.8,1290.2 L874.1,1290.2 L876.4,1290.2 L878.7,1290.2 L881.0,1290.2 L883.3,1290.1 L885.6,1290.1 L887.9,1290.1 L890.2,1290.1 L892.5,1290.1 L894.8,1290.1 L897.2,1290.1 L899.5,1290.1 L901.8,1290.1 L904.1,1290.1 L906.4,1290.1 L908.7,1290.0 L911.0,1290.0 L913.3,1290.0 L915.6,1290.0 L917.9,1290.0 L920.2,1290.0 L922.5,1290.0 L924.8,1290.0 L927.2,1290.0 L929.5,1290.0 L931.8,1290.0 L934.1,1289.9 L936.4,1289.9 L938.7,1289.9 L941.0,1289.9 L943.3,1289.9 L945.6,1289.9 L947.9,1289.9 L950.2,1289.9 L952.5,1289.9 L954.8,1289.9 L957.2,1289.9 L959.5,1289.8 L961.8,1289.8 L964.1,1289.8 L966.4,1289.8 L968.7,1289.8 L971.0,1289.8 L973.3,1289.8 L975.6,1289.8 L977.9,1289.8 L980.2,1289.8 L982.5,1289.8 L984.8,1289.7 L987.2,1289.7 L989.5,1289.7 L991.8,1289.7 L994.1,1289.7 L996.4,1289.7 L998.7,1289.7 L1001.0,1289.7 L1003.3,1289.7 L1005.6,1289.7 L1007.9,1289.7 L1010.2,1289.6 L1012.5,1289.6 L1014.8,1289.6 L1017.1,1289.6 L1019.5,1289.6 L1021.8,1289.6 L1024.1,1289.6 L1026.4,1289.6 L1028.7,1289.6 L1031.0,1289.6 L1033.3,1289.6 L1035.6,1289.5 L1037.9,1289.5 L1040.2,1289.5 L1042.5,1289.5 L1044.8,1289.5 L1047.1,1289.5 L1049.5,1289.5 L1051.8,1289.5 L1054.1,1289.5 L1056.4,1289.5 L1058.7,1289.5 L1061.0,1289.5 L1063.3,1289.4 L1065.6,1289.4 L1067.9,1289.4 L1070.2,1289.4 L1072.5,1289.4 L1074.8,1289.4 L1077.1,1289.4 L1079.5,1289.4 L1081.8,1289.4 L1084.1,1289.4 L1086.4,1289.4 L1088.7,1289.3 L1091.0,1289.3 L1093.3,1289.3 L1095.6,1289.3 L1097.9,1289.3 L1100.2,1289.3 L1102.5,1289.3 L1104.8,1289.3 L1107.1,1289.3 L1109.4,1289.3 L1111.8,1289.3 L1114.1,1289.2 L1116.4,1289.2 L1118.7,1289.2 L1121.0,1289.2 L1123.3,1289.2 L1125.6,1289.2 L1127.9,1289.2 L1130.2,1289.2 L1132.5,1289.2 L1134.8,1289.2 L1137.1,1289.2 L1139.4,1289.1 L1141.8,1289.1 L1144.1,1289.1 L1146.4,1289.1 L1148.7,1289.1 L1151.0,1289.1 L1153.3,1289.1 L1155.6,1289.1 L1157.9,1289.1 L1160.2,1289.1 L1162.5,1289.1 L1164.8,1289.0 L1167.1,1289.0 L1169.4,1289.0 L1171.8,1289.0 L1174.1,1289.0 L1176.4,1289.0 L1178.7,1289.0 L1181.0,1289.0 L1183.3,1289.0 L1185.6,1289.0 L1187.9,1289.0 L1190.2,1288.9 L1192.5,1288.9 L1194.8,1288.9 L1197.1,1288.9 L1199.4,1288.9 L1201.8,1288.9 L1204.1,1288.9 L1206.4,1288.9 L1208.7,1288.9 L1211.0,1288.9 L1213.3,1288.9 L1215.6,1288.8 L1217.9,1288.8 L1220.2,1288.8 L1222.5,1288.8 L1224.8,1288.8 L1227.1,1288.8 L1229.4,1288.8 L1231.7,1288.8 L1234.1,1288.8 L1236.4,1288.8 L1238.7,1288.8 L1241.0,1288.7 L1243.3,1288.7 L1245.6,1288.7 L1247.9,1288.7 L1250.2,1288.7 L1252.5,1288.7 L1254.8,1288.7 L1257.1,1288.7 L1259.4,1288.7 L1261.7,1288.7 L1264.1,1288.7 L1266.4,1288.6 L1268.7,1288.6 L1271.0,1288.6 L1273.3,1288.6 L1275.6,1288.6 L1277.9,1288.6" fill="none" stroke="#ff0000" stroke-width="2.7" stroke-linejoin="round" stroke-linecap="round"/>
<path d="M821.5,1341.6 V1356.6 M817.5,1341.6 h8 M817.5,1356.6 h8" stroke="#ff7272" stroke-width="1" fill="none"/>
<circle cx="821.5" cy="1349.1" r="5" fill="none" stroke="#ff7272" stroke-width="1.0"/>
<path d="M827.5,1367.5 V1373.1 M823.5,1367.5 h8 M823.5,1373.1 h8" stroke="#ff7272" stroke-width="1" fill="none"/>
<circle cx="827.5" cy="1370.3" r="5" fill="none" stroke="#ff7272" stroke-width="1.0"/>
<path d="M834.0,1348.7 V1384.3 M830.0,1348.7 h8 M830.0,1384.3 h8" stroke="#ff7272" stroke-width="1" fill="none"/>
<circle cx="834.0" cy="1366.5" r="5" fill="none" stroke="#ff7272" stroke-width="1.0"/>
<path d="M840.2,1361.3 V1378.1 M836.2,1361.3 h8 M836.2,1378.1 h8" stroke="#ff7272" stroke-width="1" fill="none"/>
<circle cx="840.2" cy="1369.7" r="5" fill="none" stroke="#ff7272" stroke-width="1.0"/>
<path d="M846.6,1356.3 V1378.7 M842.6,1356.3 h8 M842.6,1378.7 h8" stroke="#ff7272" stroke-width="1" fill="none"/>
<circle cx="846.6" cy="1367.5" r="5" fill="none" stroke="#ff7272" stroke-width="1.0"/>
<path d="M853.2,1357.8 V1399.0 M849.2,1357.8 h8 M849.2,1399.0 h8" stroke="#ff7272" stroke-width="1" fill="none"/>
<circle cx="853.2" cy="1378.4" r="5" fill="none" stroke="#ff7272" stroke-width="1.0"/>
<path d="M859.3,1346.8 V1390.0 M855.3,1346.8 h8 M855.3,1390.0 h8" stroke="#ff7272" stroke-width="1" fill="none"/>
<circle cx="859.3" cy="1368.4" r="5" fill="none" stroke="#ff7272" stroke-width="1.0"/>
<path d="M865.5,1358.1 V1363.7 M861.5,1358.1 h8 M861.5,1363.7 h8" stroke="#ff7272" stroke-width="1" fill="none"/>
<circle cx="865.5" cy="1360.9" r="5" fill="none" stroke="#ff7272" stroke-width="1.0"/>
<path d="M871.9,1348.8 V1365.6 M867.9,1348.8 h8 M867.9,1365.6 h8" stroke="#ff7272" stroke-width="1" fill="none"/>
<circle cx="871.9" cy="1357.2" r="5" fill="none" stroke="#ff7272" stroke-width="1.0"/>
<path d="M878.5,1330.4 V1371.6 M874.5,1330.4 h8 M874.5,1371.6 h8" stroke="#ff7272" stroke-width="1" fill="none"/>
<circle cx="878.5" cy="1351.0" r="5" fill="none" stroke="#ff7272" stroke-width="1.0"/>
<path d="M885.0,1338.8 V1363.2 M881.0,1338.8 h8 M881.0,1363.2 h8" stroke="#ff7272" stroke-width="1" fill="none"/>
<circle cx="885.0" cy="1351.0" r="5" fill="none" stroke="#ff7272" stroke-width="1.0"/>
<path d="M891.2,1349.6 V1362.8 M887.2,1349.6 h8 M887.2,1362.8 h8" stroke="#ff7272" stroke-width="1" fill="none"/>
<circle cx="891.2" cy="1356.2" r="5" fill="none" stroke="#ff7272" stroke-width="1.0"/>
<path d="M897.8,1355.3 V1360.9 M893.8,1355.3 h8 M893.8,1360.9 h8" stroke="#ff7272" stroke-width="1" fill="none"/>
<circle cx="897.8" cy="1358.1" r="5" fill="none" stroke="#ff7272" stroke-width="1.0"/>
<path d="M903.8,1363.2 V1368.8 M899.8,1363.2 h8 M899.8,1368.8 h8" stroke="#ff7272" stroke-width="1" fill="none"/>
<circle cx="903.8" cy="1366.0" r="5" fill="none" stroke="#ff7272" stroke-width="1.0"/>
<path d="M910.3,1351.6 V1374.0 M906.3,1351.6 h8 M906.3,1374.0 h8" stroke="#ff7272" stroke-width="1" fill="none"/>
<circle cx="910.3" cy="1362.8" r="5" fill="none" stroke="#ff7272" stroke-width="1.0"/>
<path d="M916.5,1358.7 V1364.3 M912.5,1358.7 h8 M912.5,1364.3 h8" stroke="#ff7272" stroke-width="1" fill="none"/>
<circle cx="916.5" cy="1361.5" r="5" fill="none" stroke="#ff7272" stroke-width="1.0"/>
<path d="M922.7,1359.1 V1364.7 M918.7,1359.1 h8 M918.7,1364.7 h8" stroke="#ff7272" stroke-width="1" fill="none"/>
<circle cx="922.7" cy="1361.9" r="5" fill="none" stroke="#ff7272" stroke-width="1.0"/>
<path d="M929.1,1359.1 V1379.7 M925.1,1359.1 h8 M925.1,1379.7 h8" stroke="#ff7272" stroke-width="1" fill="none"/>
<circle cx="929.1" cy="1369.4" r="5" fill="none" stroke="#ff7272" stroke-width="1.0"/>
<path d="M935.6,1363.7 V1369.3 M931.6,1363.7 h8 M931.6,1369.3 h8" stroke="#ff7272" stroke-width="1" fill="none"/>
<circle cx="935.6" cy="1366.5" r="5" fill="none" stroke="#ff7272" stroke-width="1.0"/>
<path d="M941.8,1362.2 V1377.2 M937.8,1362.2 h8 M937.8,1377.2 h8" stroke="#ff7272" stroke-width="1" fill="none"/>
<circle cx="941.8" cy="1369.7" r="5" fill="none" stroke="#ff7272" stroke-width="1.0"/>
<path d="M948.4,1365.6 V1371.2 M944.4,1365.6 h8 M944.4,1371.2 h8" stroke="#ff7272" stroke-width="1" fill="none"/>
<circle cx="948.4" cy="1368.4" r="5" fill="none" stroke="#ff7272" stroke-width="1.0"/>
<path d="M954.9,1355.3 V1360.9 M950.9,1355.3 h8 M950.9,1360.9 h8" stroke="#ff7272" stroke-width="1" fill="none"/>
<circle cx="954.9" cy="1358.1" r="5" fill="none" stroke="#ff7272" stroke-width="1.0"/>
<path d="M961.1,1358.5 V1384.7 M957.1,1358.5 h8 M957.1,1384.7 h8" stroke="#ff7272" stroke-width="1" fill="none"/>
<circle cx="961.1" cy="1371.6" r="5" fill="none" stroke="#ff7272" stroke-width="1.0"/>
<path d="M967.1,1368.8 V1374.4 M963.1,1368.8 h8 M963.1,1374.4 h8" stroke="#ff7272" stroke-width="1" fill="none"/>
<circle cx="967.1" cy="1371.6" r="5" fill="none" stroke="#ff7272" stroke-width="1.0"/>
<path d="M973.7,1366.2 V1371.8 M969.7,1366.2 h8 M969.7,1371.8 h8" stroke="#ff7272" stroke-width="1" fill="none"/>
<circle cx="973.7" cy="1369.0" r="5" fill="none" stroke="#ff7272" stroke-width="1.0"/>
<path d="M979.9,1372.2 V1377.8 M975.9,1372.2 h8 M975.9,1377.8 h8" stroke="#ff7272" stroke-width="1" fill="none"/>
<circle cx="979.9" cy="1375.0" r="5" fill="none" stroke="#ff7272" stroke-width="1.0"/>
<path d="M986.4,1371.6 V1386.6 M982.4,1371.6 h8 M982.4,1386.6 h8" stroke="#ff7272" stroke-width="1" fill="none"/>
<circle cx="986.4" cy="1379.1" r="5" fill="none" stroke="#ff7272" stroke-width="1.0"/>
<path d="M993.0,1365.6 V1386.2 M989.0,1365.6 h8 M989.0,1386.2 h8" stroke="#ff7272" stroke-width="1" fill="none"/>
<circle cx="993.0" cy="1375.9" r="5" fill="none" stroke="#ff7272" stroke-width="1.0"/>
<path d="M999.9,1376.9 V1382.5 M995.9,1376.9 h8 M995.9,1382.5 h8" stroke="#ff7272" stroke-width="1" fill="none"/>
<circle cx="999.9" cy="1379.7" r="5" fill="none" stroke="#ff7272" stroke-width="1.0"/>
<path d="M1006.1,1365.6 V1371.2 M1002.1,1365.6 h8 M1002.1,1371.2 h8" stroke="#ff7272" stroke-width="1" fill="none"/>
<circle cx="1006.1" cy="1368.4" r="5" fill="none" stroke="#ff7272" stroke-width="1.0"/>
<path d="M1012.1,1372.2 V1377.8 M1008.1,1372.2 h8 M1008.1,1377.8 h8" stroke="#ff7272" stroke-width="1" fill="none"/>
<circle cx="1012.1" cy="1375.0" r="5" fill="none" stroke="#ff7272" stroke-width="1.0"/>
<path d="M1018.6,1378.7 V1384.3 M1014.6,1378.7 h8 M1014.6,1384.3 h8" stroke="#ff7272" stroke-width="1" fill="none"/>
<circle cx="1018.6" cy="1381.5" r="5" fill="none" stroke="#ff7272" stroke-width="1.0"/>
<path d="M1025.2,1381.6 V1404.0 M1021.2,1381.6 h8 M1021.2,1404.0 h8" stroke="#ff7272" stroke-width="1" fill="none"/>
<circle cx="1025.2" cy="1392.8" r="5" fill="none" stroke="#ff7272" stroke-width="1.0"/>
<path d="M1031.8,1396.2 V1401.8 M1027.8,1396.2 h8 M1027.8,1401.8 h8" stroke="#ff7272" stroke-width="1" fill="none"/>
<circle cx="1031.8" cy="1399.0" r="5" fill="none" stroke="#ff7272" stroke-width="1.0"/>
<path d="M1037.9,1407.4 V1413.0 M1033.9,1407.4 h8 M1033.9,1413.0 h8" stroke="#ff7272" stroke-width="1" fill="none"/>
<circle cx="1037.9" cy="1410.2" r="5" fill="none" stroke="#ff7272" stroke-width="1.0"/>
<path d="M1044.5,1407.8 V1413.4 M1040.5,1407.8 h8 M1040.5,1413.4 h8" stroke="#ff7272" stroke-width="1" fill="none"/>
<circle cx="1044.5" cy="1410.6" r="5" fill="none" stroke="#ff7272" stroke-width="1.0"/>
<path d="M1050.5,1399.4 V1405.0 M1046.5,1399.4 h8 M1046.5,1405.0 h8" stroke="#ff7272" stroke-width="1" fill="none"/>
<circle cx="1050.5" cy="1402.2" r="5" fill="none" stroke="#ff7272" stroke-width="1.0"/>
<path d="M1056.6,1409.7 V1415.3 M1052.6,1409.7 h8 M1052.6,1415.3 h8" stroke="#ff7272" stroke-width="1" fill="none"/>
<circle cx="1056.6" cy="1412.5" r="5" fill="none" stroke="#ff7272" stroke-width="1.0"/>
<path d="M1063.2,1402.2 V1407.8 M1059.2,1402.2 h8 M1059.2,1407.8 h8" stroke="#ff7272" stroke-width="1" fill="none"/>
<circle cx="1063.2" cy="1405.0" r="5" fill="none" stroke="#ff7272" stroke-width="1.0"/>
<path d="M1069.7,1396.5 V1402.1 M1065.7,1396.5 h8 M1065.7,1402.1 h8" stroke="#ff7272" stroke-width="1" fill="none"/>
<circle cx="1069.7" cy="1399.3" r="5" fill="none" stroke="#ff7272" stroke-width="1.0"/>
<path d="M1075.9,1390.0 V1395.6 M1071.9,1390.0 h8 M1071.9,1395.6 h8" stroke="#ff7272" stroke-width="1" fill="none"/>
<circle cx="1075.9" cy="1392.8" r="5" fill="none" stroke="#ff7272" stroke-width="1.0"/>
<path d="M1082.1,1366.5 V1396.5 M1078.1,1366.5 h8 M1078.1,1396.5 h8" stroke="#ff7272" stroke-width="1" fill="none"/>
<circle cx="1082.1" cy="1381.5" r="5" fill="none" stroke="#ff7272" stroke-width="1.0"/>
<path d="M1088.7,1360.4 V1390.4 M1084.7,1360.4 h8 M1084.7,1390.4 h8" stroke="#ff7272" stroke-width="1" fill="none"/>
<circle cx="1088.7" cy="1375.4" r="5" fill="none" stroke="#ff7272" stroke-width="1.0"/>
<path d="M1095.0,1351.2 V1356.8 M1091.0,1351.2 h8 M1091.0,1356.8 h8" stroke="#ff7272" stroke-width="1" fill="none"/>
<circle cx="1095.0" cy="1354.0" r="5" fill="none" stroke="#ff7272" stroke-width="1.0"/>
<path d="M1101.2,1354.9 V1360.5 M1097.2,1354.9 h8 M1097.2,1360.5 h8" stroke="#ff7272" stroke-width="1" fill="none"/>
<circle cx="1101.2" cy="1357.7" r="5" fill="none" stroke="#ff7272" stroke-width="1.0"/>
<path d="M1107.4,1346.9 V1352.5 M1103.4,1346.9 h8 M1103.4,1352.5 h8" stroke="#ff7272" stroke-width="1" fill="none"/>
<circle cx="1107.4" cy="1349.7" r="5" fill="none" stroke="#ff7272" stroke-width="1.0"/>
<path d="M1114.0,1351.6 V1368.4 M1110.0,1351.6 h8 M1110.0,1368.4 h8" stroke="#ff7272" stroke-width="1" fill="none"/>
<circle cx="1114.0" cy="1360.0" r="5" fill="none" stroke="#ff7272" stroke-width="1.0"/>
<path d="M1120.3,1348.2 V1353.8 M1116.3,1348.2 h8 M1116.3,1353.8 h8" stroke="#ff7272" stroke-width="1" fill="none"/>
<circle cx="1120.3" cy="1351.0" r="5" fill="none" stroke="#ff7272" stroke-width="1.0"/>
<path d="M1126.5,1346.9 V1369.3 M1122.5,1346.9 h8 M1122.5,1369.3 h8" stroke="#ff7272" stroke-width="1" fill="none"/>
<circle cx="1126.5" cy="1358.1" r="5" fill="none" stroke="#ff7272" stroke-width="1.0"/>
<path d="M1133.1,1347.8 V1353.4 M1129.1,1347.8 h8 M1129.1,1353.4 h8" stroke="#ff7272" stroke-width="1" fill="none"/>
<circle cx="1133.1" cy="1350.6" r="5" fill="none" stroke="#ff7272" stroke-width="1.0"/>
<path d="M1139.3,1356.2 V1361.8 M1135.3,1356.2 h8 M1135.3,1361.8 h8" stroke="#ff7272" stroke-width="1" fill="none"/>
<circle cx="1139.3" cy="1359.0" r="5" fill="none" stroke="#ff7272" stroke-width="1.0"/>
<path d="M1145.6,1331.5 V1357.7 M1141.6,1331.5 h8 M1141.6,1357.7 h8" stroke="#ff7272" stroke-width="1" fill="none"/>
<circle cx="1145.6" cy="1344.6" r="5" fill="none" stroke="#ff7272" stroke-width="1.0"/>
<path d="M1151.8,1354.4 V1360.0 M1147.8,1354.4 h8 M1147.8,1360.0 h8" stroke="#ff7272" stroke-width="1" fill="none"/>
<circle cx="1151.8" cy="1357.2" r="5" fill="none" stroke="#ff7272" stroke-width="1.0"/>
<path d="M1158.4,1345.9 V1351.5 M1154.4,1345.9 h8 M1154.4,1351.5 h8" stroke="#ff7272" stroke-width="1" fill="none"/>
<circle cx="1158.4" cy="1348.7" r="5" fill="none" stroke="#ff7272" stroke-width="1.0"/>
<path d="M1164.6,1351.6 V1357.2 M1160.6,1351.6 h8 M1160.6,1357.2 h8" stroke="#ff7272" stroke-width="1" fill="none"/>
<circle cx="1164.6" cy="1354.4" r="5" fill="none" stroke="#ff7272" stroke-width="1.0"/>
<path d="M1171.1,1354.4 V1376.8 M1167.1,1354.4 h8 M1167.1,1376.8 h8" stroke="#ff7272" stroke-width="1" fill="none"/>
<circle cx="1171.1" cy="1365.6" r="5" fill="none" stroke="#ff7272" stroke-width="1.0"/>
<path d="M1177.5,1350.7 V1373.1 M1173.5,1350.7 h8 M1173.5,1373.1 h8" stroke="#ff7272" stroke-width="1" fill="none"/>
<circle cx="1177.5" cy="1361.9" r="5" fill="none" stroke="#ff7272" stroke-width="1.0"/>
<path d="M1183.7,1358.1 V1363.7 M1179.7,1358.1 h8 M1179.7,1363.7 h8" stroke="#ff7272" stroke-width="1" fill="none"/>
<circle cx="1183.7" cy="1360.9" r="5" fill="none" stroke="#ff7272" stroke-width="1.0"/>
<path d="M1189.9,1356.8 V1362.4 M1185.9,1356.8 h8 M1185.9,1362.4 h8" stroke="#ff7272" stroke-width="1" fill="none"/>
<circle cx="1189.9" cy="1359.6" r="5" fill="none" stroke="#ff7272" stroke-width="1.0"/>
<path d="M1196.4,1353.4 V1359.0 M1192.4,1353.4 h8 M1192.4,1359.0 h8" stroke="#ff7272" stroke-width="1" fill="none"/>
<circle cx="1196.4" cy="1356.2" r="5" fill="none" stroke="#ff7272" stroke-width="1.0"/>
<path d="M1203.0,1337.5 V1374.9 M1199.0,1337.5 h8 M1199.0,1374.9 h8" stroke="#ff7272" stroke-width="1" fill="none"/>
<circle cx="1203.0" cy="1356.2" r="5" fill="none" stroke="#ff7272" stroke-width="1.0"/>
<path d="M1209.4,1357.2 V1362.8 M1205.4,1357.2 h8 M1205.4,1362.8 h8" stroke="#ff7272" stroke-width="1" fill="none"/>
<circle cx="1209.4" cy="1360.0" r="5" fill="none" stroke="#ff7272" stroke-width="1.0"/>
<path d="M1215.5,1354.3 V1378.7 M1211.5,1354.3 h8 M1211.5,1378.7 h8" stroke="#ff7272" stroke-width="1" fill="none"/>
<circle cx="1215.5" cy="1366.5" r="5" fill="none" stroke="#ff7272" stroke-width="1.0"/>
<path d="M1221.7,1358.1 V1363.7 M1217.7,1358.1 h8 M1217.7,1363.7 h8" stroke="#ff7272" stroke-width="1" fill="none"/>
<circle cx="1221.7" cy="1360.9" r="5" fill="none" stroke="#ff7272" stroke-width="1.0"/>
<path d="M1228.1,1356.8 V1362.4 M1224.1,1356.8 h8 M1224.1,1362.4 h8" stroke="#ff7272" stroke-width="1" fill="none"/>
<circle cx="1228.1" cy="1359.6" r="5" fill="none" stroke="#ff7272" stroke-width="1.0"/>
<path d="M1234.7,1347.4 V1353.0 M1230.7,1347.4 h8 M1230.7,1353.0 h8" stroke="#ff7272" stroke-width="1" fill="none"/>
<circle cx="1234.7" cy="1350.2" r="5" fill="none" stroke="#ff7272" stroke-width="1.0"/>
<path d="M1240.8,1342.2 V1366.6 M1236.8,1342.2 h8 M1236.8,1366.6 h8" stroke="#ff7272" stroke-width="1" fill="none"/>
<circle cx="1240.8" cy="1354.4" r="5" fill="none" stroke="#ff7272" stroke-width="1.0"/>
<path d="M1247.4,1353.8 V1359.4 M1243.4,1353.8 h8 M1243.4,1359.4 h8" stroke="#ff7272" stroke-width="1" fill="none"/>
<circle cx="1247.4" cy="1356.6" r="5" fill="none" stroke="#ff7272" stroke-width="1.0"/>
<path d="M1254.0,1354.3 V1382.5 M1250.0,1354.3 h8 M1250.0,1382.5 h8" stroke="#ff7272" stroke-width="1" fill="none"/>
<circle cx="1254.0" cy="1368.4" r="5" fill="none" stroke="#ff7272" stroke-width="1.0"/>
<path d="M820.6,1373.8 L822.8,1373.6 L825.0,1373.3 L827.1,1373.1 L829.3,1372.8 L831.5,1372.5 L833.7,1372.2 L835.8,1372.0 L838.0,1371.7 L840.2,1371.4 L842.4,1371.1 L844.5,1370.8 L846.7,1370.5 L848.9,1370.2 L851.1,1369.9 L853.2,1369.6 L855.4,1369.3 L857.6,1369.0 L859.8,1368.7 L861.9,1368.3 L864.1,1368.0 L866.3,1367.7 L868.5,1367.3 L870.6,1367.0 L872.8,1366.6 L875.0,1366.3 L877.2,1365.9 L879.3,1365.6 L881.5,1365.2 L883.7,1364.9 L885.9,1364.5 L888.0,1364.1 L890.2,1363.8 L892.4,1363.4 L894.6,1363.0 L896.7,1362.6 L898.9,1362.3 L901.1,1361.9 L903.3,1361.5 L905.4,1361.1 L907.6,1360.7 L909.8,1360.4 L912.0,1360.0 L914.1,1359.6 L916.3,1359.2 L918.5,1358.8 L920.7,1358.5 L922.8,1358.1 L925.0,1357.7 L927.2,1357.4 L929.4,1357.0 L931.5,1356.7 L933.7,1356.3 L935.9,1356.0 L938.1,1355.7 L940.2,1355.4 L942.4,1355.1 L944.6,1354.8 L946.8,1354.6 L948.9,1354.3 L951.1,1354.1 L953.3,1353.9 L955.5,1353.7 L957.6,1353.6 L959.8,1353.5 L962.0,1353.4 L964.2,1353.4 L966.4,1353.4 L968.5,1353.5 L970.7,1353.6 L972.9,1353.8 L975.1,1354.0 L977.2,1354.3 L979.4,1354.6 L981.6,1355.1 L983.8,1355.6 L985.9,1356.3 L988.1,1357.0 L990.3,1357.8 L992.5,1358.8 L994.6,1359.9 L996.8,1361.1 L999.0,1362.5 L1001.2,1364.1 L1003.3,1365.8 L1005.5,1367.7 L1007.7,1369.8 L1009.9,1372.0 L1012.0,1374.5 L1014.2,1377.2 L1016.4,1380.0 L1018.6,1383.1 L1020.7,1386.3 L1022.9,1389.6 L1025.1,1393.0 L1027.3,1396.4 L1029.4,1399.8 L1031.6,1403.1 L1033.8,1406.1 L1036.0,1408.9 L1038.1,1411.3 L1040.3,1413.3 L1042.5,1414.8 L1044.7,1415.7 L1046.8,1416.1 L1049.0,1416.0 L1051.2,1415.5 L1053.4,1414.5 L1055.5,1412.9 L1057.7,1410.8 L1059.9,1408.3 L1062.1,1405.4 L1064.2,1402.3 L1066.4,1399.0 L1068.6,1395.6 L1070.8,1392.1 L1072.9,1388.8 L1075.1,1385.5 L1077.3,1382.3 L1079.5,1379.3 L1081.6,1376.5 L1083.8,1373.9 L1086.0,1371.5 L1088.2,1369.2 L1090.3,1367.2 L1092.5,1365.3 L1094.7,1363.7 L1096.9,1362.2 L1099.0,1360.8 L1101.2,1359.6 L1103.4,1358.5 L1105.6,1357.6 L1107.7,1356.8 L1109.9,1356.1 L1112.1,1355.5 L1114.3,1355.0 L1116.5,1354.5 L1118.6,1354.2 L1120.8,1353.9 L1123.0,1353.7 L1125.2,1353.6 L1127.3,1353.5 L1129.5,1353.4 L1131.7,1353.4 L1133.9,1353.4 L1136.0,1353.5 L1138.2,1353.6 L1140.4,1353.8 L1142.6,1354.0 L1144.7,1354.1 L1146.9,1354.4 L1149.1,1354.6 L1151.3,1354.9 L1153.4,1355.2 L1155.6,1355.4 L1157.8,1355.8 L1160.0,1356.1 L1162.1,1356.4 L1164.3,1356.7 L1166.5,1357.1 L1168.7,1357.4 L1170.8,1357.8 L1173.0,1358.2 L1175.2,1358.5 L1177.4,1358.9 L1179.5,1359.3 L1181.7,1359.7 L1183.9,1360.1 L1186.1,1360.4 L1188.2,1360.8 L1190.4,1361.2 L1192.6,1361.6 L1194.8,1362.0 L1196.9,1362.4 L1199.1,1362.7 L1201.3,1363.1 L1203.5,1363.5 L1205.6,1363.9 L1207.8,1364.2 L1210.0,1364.6 L1212.2,1365.0 L1214.3,1365.3 L1216.5,1365.7 L1218.7,1366.0 L1220.9,1366.4 L1223.0,1366.7 L1225.2,1367.1 L1227.4,1367.4 L1229.6,1367.8 L1231.7,1368.1 L1233.9,1368.4 L1236.1,1368.7 L1238.3,1369.1 L1240.4,1369.4 L1242.6,1369.7 L1244.8,1370.0 L1247.0,1370.3 L1249.1,1370.6 L1251.3,1370.9 L1253.5,1371.2" fill="none" stroke="#ff0000" stroke-width="2.7" stroke-linejoin="round" stroke-linecap="round"/>
<path d="M769.0,1563.7 h9 M769.0,1513.5 h4.5 M769.0,1463.3 h9 M769.0,1413.1 h4.5 M769.0,1362.9 h9 M769.0,1312.7 h4.5 M769.0,1262.5 h9 M769.0,1212.3 h4.5 M769.0,1162.1 h9 M808.8,1563.7 v-9 M848.5,1563.7 v-4.5 M888.3,1563.7 v-9 M928.0,1563.7 v-4.5 M967.8,1563.7 v-9 M1007.5,1563.7 v-4.5 M1047.3,1563.7 v-9 M1087.1,1563.7 v-4.5 M1126.8,1563.7 v-9 M1166.6,1563.7 v-4.5 M1206.3,1563.7 v-9 M1246.1,1563.7 v-4.5 M1285.8,1563.7 v-9" stroke="#000" stroke-width="2.2" fill="none"/>
<rect x="769" y="1149.8" width="556.6" height="413.9" fill="none" stroke="#000" stroke-width="2.2"/>
<text transform="translate(759.00,1171.10) scale(1,1.05)" text-anchor="end" font-size="28">1.2</text>
<text transform="translate(759.00,1271.50) scale(1,1.05)" text-anchor="end" font-size="28">0.8</text>
<text transform="translate(759.00,1371.90) scale(1,1.05)" text-anchor="end" font-size="28">0.4</text>
<text transform="translate(759.00,1472.30) scale(1,1.05)" text-anchor="end" font-size="28">0.0</text>
<text transform="translate(759.00,1572.70) scale(1,1.05)" text-anchor="end" font-size="28">-0.4</text>
<text transform="translate(808.76,1596.30) scale(1,1.05)" text-anchor="middle" font-size="28">-150</text>
<text transform="translate(888.27,1596.30) scale(1,1.05)" text-anchor="middle" font-size="28">-100</text>
<text transform="translate(967.79,1596.30) scale(1,1.05)" text-anchor="middle" font-size="28">-50</text>
<text transform="translate(1047.30,1596.30) scale(1,1.05)" text-anchor="middle" font-size="28">0</text>
<text transform="translate(1126.81,1596.30) scale(1,1.05)" text-anchor="middle" font-size="28">50</text>
<text transform="translate(1206.33,1596.30) scale(1,1.05)" text-anchor="middle" font-size="28">100</text>
<text transform="translate(1285.84,1596.30) scale(1,1.05)" text-anchor="middle" font-size="28">150</text>
<text transform="translate(691.00,1140.00) scale(1,1.05)" font-size="35">(f)</text>
<text transform="translate(1053.50,1635.50) scale(1,1.05)" text-anchor="middle" font-size="36.05">z (mm)</text>
<text transform="translate(708.1,1352.75) rotate(-90) scale(1,1.05)" text-anchor="middle" font-size="36.6">Normalized transmission</text>
<path d="M1137.0,1459.0 L1142.6,1469.0 L1131.4,1469.0 Z" fill="none" stroke="#ff7272" stroke-width="1.1"/>
<text transform="translate(1161.00,1472.50) scale(1,1.05)" font-size="28">0.11</text>
<circle cx="1137.0" cy="1500.0" r="5" fill="none" stroke="#ff7272" stroke-width="1.1"/>
<text transform="translate(1161.00,1509.00) scale(1,1.05)" font-size="28">0.36</text>
<circle cx="1137.0" cy="1540.0" r="5" fill="none" stroke="#ff7272" stroke-width="1.1"/>
<text transform="translate(1161.00,1547.50) scale(1,1.05)" font-size="28">0.64 GW/cm<tspan font-size="17" dy="-13">2</tspan></text>
<text transform="translate(787.00,1487.50) scale(1,1.05)" font-size="25" style="font-weight:normal">λ</text>
<text transform="translate(800.50,1498.00) scale(1,1.05)" font-size="16" style="font-weight:normal">ex</text>
<text transform="translate(822.50,1487.50) scale(1,1.05)" font-size="27.3">= 700 nm</text>
<text transform="translate(787.00,1531.00) scale(1,1.05)" font-size="27.5">T</text>
<text transform="translate(825.00,1531.00) scale(1,1.05)" font-size="27.5">= 68.6%</text>
</svg></body></html>
